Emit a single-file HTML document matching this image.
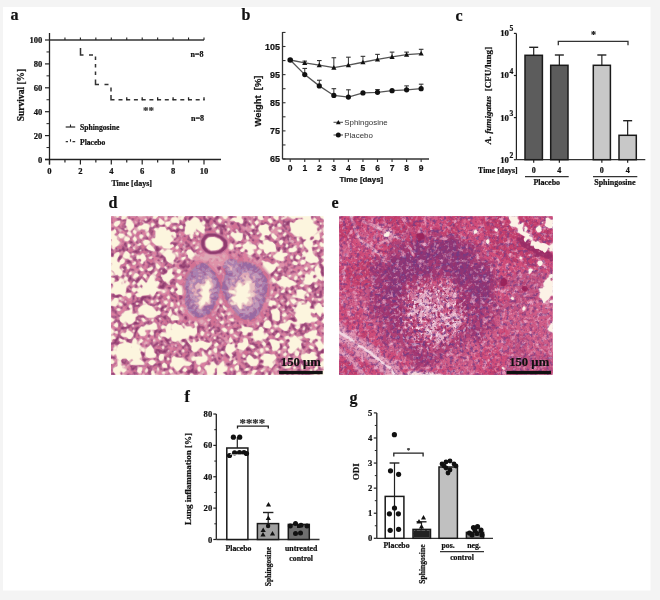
<!DOCTYPE html>
<html><head><meta charset="utf-8"><title>Figure</title>
<style>
html,body{margin:0;padding:0;background:#f4f4f4;width:660px;height:600px;overflow:hidden;}
svg{display:block;filter:blur(0.3px);}
</style></head><body>
<svg width="660" height="600" viewBox="0 0 660 600">
<rect x="0" y="0" width="660" height="600" fill="#f4f4f4"/>
<rect x="3" y="7" width="647.5" height="583.5" fill="#fff"/>
<text x="10.50" y="19.50" font-family="'Liberation Serif', serif" font-size="16" font-weight="bold" text-anchor="start" fill="#111" stroke="#111" stroke-width="0.22" >a</text>
<line x1="49.50" y1="33.00" x2="49.50" y2="164.50" stroke="#222" stroke-width="1.3" />
<line x1="45.00" y1="159.50" x2="221.00" y2="159.50" stroke="#222" stroke-width="1.3" />
<line x1="45.00" y1="159.50" x2="49.50" y2="159.50" stroke="#222" stroke-width="1.2" />
<text x="42.30" y="162.50" font-family="'Liberation Serif', serif" font-size="8.6" font-weight="bold" text-anchor="end" fill="#111" stroke="#111" stroke-width="0.22" >0</text>
<line x1="45.00" y1="135.60" x2="49.50" y2="135.60" stroke="#222" stroke-width="1.2" />
<text x="42.30" y="138.60" font-family="'Liberation Serif', serif" font-size="8.6" font-weight="bold" text-anchor="end" fill="#111" stroke="#111" stroke-width="0.22" >20</text>
<line x1="45.00" y1="111.70" x2="49.50" y2="111.70" stroke="#222" stroke-width="1.2" />
<text x="42.30" y="114.70" font-family="'Liberation Serif', serif" font-size="8.6" font-weight="bold" text-anchor="end" fill="#111" stroke="#111" stroke-width="0.22" >40</text>
<line x1="45.00" y1="87.80" x2="49.50" y2="87.80" stroke="#222" stroke-width="1.2" />
<text x="42.30" y="90.80" font-family="'Liberation Serif', serif" font-size="8.6" font-weight="bold" text-anchor="end" fill="#111" stroke="#111" stroke-width="0.22" >60</text>
<line x1="45.00" y1="63.90" x2="49.50" y2="63.90" stroke="#222" stroke-width="1.2" />
<text x="42.30" y="66.90" font-family="'Liberation Serif', serif" font-size="8.6" font-weight="bold" text-anchor="end" fill="#111" stroke="#111" stroke-width="0.22" >80</text>
<line x1="45.00" y1="40.00" x2="49.50" y2="40.00" stroke="#222" stroke-width="1.2" />
<text x="42.30" y="43.00" font-family="'Liberation Serif', serif" font-size="8.6" font-weight="bold" text-anchor="end" fill="#111" stroke="#111" stroke-width="0.22" >100</text>
<line x1="46.50" y1="147.55" x2="49.50" y2="147.55" stroke="#222" stroke-width="1.0" />
<line x1="46.50" y1="123.65" x2="49.50" y2="123.65" stroke="#222" stroke-width="1.0" />
<line x1="46.50" y1="99.75" x2="49.50" y2="99.75" stroke="#222" stroke-width="1.0" />
<line x1="46.50" y1="75.85" x2="49.50" y2="75.85" stroke="#222" stroke-width="1.0" />
<line x1="46.50" y1="51.95" x2="49.50" y2="51.95" stroke="#222" stroke-width="1.0" />
<line x1="49.50" y1="159.50" x2="49.50" y2="164.50" stroke="#222" stroke-width="1.2" />
<text x="49.50" y="173.50" font-family="'Liberation Serif', serif" font-size="8.6" font-weight="bold" text-anchor="middle" fill="#111" stroke="#111" stroke-width="0.22" >0</text>
<line x1="64.95" y1="159.50" x2="64.95" y2="162.50" stroke="#222" stroke-width="1.2" />
<line x1="80.40" y1="159.50" x2="80.40" y2="164.50" stroke="#222" stroke-width="1.2" />
<text x="80.40" y="173.50" font-family="'Liberation Serif', serif" font-size="8.6" font-weight="bold" text-anchor="middle" fill="#111" stroke="#111" stroke-width="0.22" >2</text>
<line x1="95.85" y1="159.50" x2="95.85" y2="162.50" stroke="#222" stroke-width="1.2" />
<line x1="111.30" y1="159.50" x2="111.30" y2="164.50" stroke="#222" stroke-width="1.2" />
<text x="111.30" y="173.50" font-family="'Liberation Serif', serif" font-size="8.6" font-weight="bold" text-anchor="middle" fill="#111" stroke="#111" stroke-width="0.22" >4</text>
<line x1="126.75" y1="159.50" x2="126.75" y2="162.50" stroke="#222" stroke-width="1.2" />
<line x1="142.20" y1="159.50" x2="142.20" y2="164.50" stroke="#222" stroke-width="1.2" />
<text x="142.20" y="173.50" font-family="'Liberation Serif', serif" font-size="8.6" font-weight="bold" text-anchor="middle" fill="#111" stroke="#111" stroke-width="0.22" >6</text>
<line x1="157.65" y1="159.50" x2="157.65" y2="162.50" stroke="#222" stroke-width="1.2" />
<line x1="173.10" y1="159.50" x2="173.10" y2="164.50" stroke="#222" stroke-width="1.2" />
<text x="173.10" y="173.50" font-family="'Liberation Serif', serif" font-size="8.6" font-weight="bold" text-anchor="middle" fill="#111" stroke="#111" stroke-width="0.22" >8</text>
<line x1="188.55" y1="159.50" x2="188.55" y2="162.50" stroke="#222" stroke-width="1.2" />
<line x1="204.00" y1="159.50" x2="204.00" y2="164.50" stroke="#222" stroke-width="1.2" />
<text x="204.00" y="173.50" font-family="'Liberation Serif', serif" font-size="8.6" font-weight="bold" text-anchor="middle" fill="#111" stroke="#111" stroke-width="0.22" >10</text>
<text x="131.70" y="185.50" font-family="'Liberation Serif', serif" font-size="8" font-weight="bold" text-anchor="middle" fill="#111" stroke="#111" stroke-width="0.22" >Time [days]</text>
<text transform="translate(20.50,95.00) rotate(-90)" x="0" y="0" font-family="'Liberation Serif', serif" font-size="9.5" font-weight="bold" text-anchor="middle" dominant-baseline="central" fill="#111" stroke="#111" stroke-width="0.22" >Survival [%]</text>
<line x1="49.50" y1="40.00" x2="204.00" y2="40.00" stroke="#333" stroke-width="1.4" />
<line x1="64.95" y1="40.00" x2="64.95" y2="37.50" stroke="#222" stroke-width="1.1" />
<line x1="80.40" y1="40.00" x2="80.40" y2="37.50" stroke="#222" stroke-width="1.1" />
<line x1="95.85" y1="40.00" x2="95.85" y2="37.50" stroke="#222" stroke-width="1.1" />
<line x1="111.30" y1="40.00" x2="111.30" y2="37.50" stroke="#222" stroke-width="1.1" />
<line x1="126.75" y1="40.00" x2="126.75" y2="37.50" stroke="#222" stroke-width="1.1" />
<line x1="142.20" y1="40.00" x2="142.20" y2="37.50" stroke="#222" stroke-width="1.1" />
<line x1="157.65" y1="40.00" x2="157.65" y2="37.50" stroke="#222" stroke-width="1.1" />
<line x1="173.10" y1="40.00" x2="173.10" y2="37.50" stroke="#222" stroke-width="1.1" />
<line x1="188.55" y1="40.00" x2="188.55" y2="37.50" stroke="#222" stroke-width="1.1" />
<line x1="204.00" y1="40.00" x2="204.00" y2="37.50" stroke="#222" stroke-width="1.1" />
<path d="M80.5,48 V55 H83.5 M89,55 H93 M95.5,56.5 V60 M95.5,64 V67.5 M95.5,71.5 V75 M95.5,79.5 V84.5 H99 M104.5,84.5 H108.5 M111,87.5 V91.5 M111,95 V99.75 H114.5 M118.5,99.75 H122.5 M126.2,99.75 H130.2 M133.9,99.75 H137.9 M141.7,99.75 H145.7 M149.4,99.75 H153.4 M157.1,99.75 H161.1 M164.8,99.75 H168.8 M172.5,99.75 H176.5 M180.3,99.75 H184.3 M188.0,99.75 H192.0 M195.7,99.75 H199.7 M203.4,99.75 H204.5" fill="none" stroke="#333" stroke-width="1.5"/>
<line x1="126.75" y1="100.25" x2="126.75" y2="97.25" stroke="#222" stroke-width="1.3" />
<line x1="142.20" y1="100.25" x2="142.20" y2="97.25" stroke="#222" stroke-width="1.3" />
<line x1="157.65" y1="100.25" x2="157.65" y2="97.25" stroke="#222" stroke-width="1.3" />
<line x1="173.10" y1="100.25" x2="173.10" y2="97.25" stroke="#222" stroke-width="1.3" />
<line x1="188.55" y1="100.25" x2="188.55" y2="97.25" stroke="#222" stroke-width="1.3" />
<line x1="204.00" y1="100.25" x2="204.00" y2="97.25" stroke="#222" stroke-width="1.3" />
<text x="203.50" y="56.50" font-family="'Liberation Serif', serif" font-size="8" font-weight="bold" text-anchor="end" fill="#111" stroke="#111" stroke-width="0.22" >n=8</text>
<text x="204.00" y="120.50" font-family="'Liberation Serif', serif" font-size="8" font-weight="bold" text-anchor="end" fill="#111" stroke="#111" stroke-width="0.22" >n=8</text>
<text x="148.50" y="114.00" font-family="'Liberation Serif', serif" font-size="11" font-weight="bold" text-anchor="middle" fill="#333" stroke="#333" stroke-width="0.22" >**</text>
<line x1="65.70" y1="127.00" x2="75.20" y2="127.00" stroke="#333" stroke-width="1.3" />
<line x1="70.50" y1="127.00" x2="70.50" y2="124.50" stroke="#222" stroke-width="1.1" />
<text x="80.00" y="130.00" font-family="'Liberation Serif', serif" font-size="7.6" font-weight="bold" text-anchor="start" fill="#111" stroke="#111" stroke-width="0.22" >Sphingosine</text>
<path d="M65.7,141.7 H68 M72.5,141.7 H75.2" stroke="#333" stroke-width="1.3"/>
<line x1="70.50" y1="141.70" x2="70.50" y2="139.20" stroke="#222" stroke-width="1.1" />
<text x="80.00" y="144.50" font-family="'Liberation Serif', serif" font-size="7.6" font-weight="bold" text-anchor="start" fill="#111" stroke="#111" stroke-width="0.22" >Placebo</text>
<text x="241.50" y="20.00" font-family="'Liberation Serif', serif" font-size="16" font-weight="bold" text-anchor="start" fill="#111" stroke="#111" stroke-width="0.22" >b</text>
<line x1="282.50" y1="32.00" x2="282.50" y2="159.00" stroke="#333" stroke-width="1.3" />
<line x1="282.50" y1="159.00" x2="429.00" y2="159.00" stroke="#333" stroke-width="1.3" />
<line x1="282.50" y1="159.00" x2="285.50" y2="159.00" stroke="#333" stroke-width="1.1" />
<line x1="282.50" y1="144.94" x2="285.50" y2="144.94" stroke="#333" stroke-width="1.1" />
<line x1="282.50" y1="130.88" x2="285.50" y2="130.88" stroke="#333" stroke-width="1.1" />
<line x1="282.50" y1="116.81" x2="285.50" y2="116.81" stroke="#333" stroke-width="1.1" />
<line x1="282.50" y1="102.75" x2="285.50" y2="102.75" stroke="#333" stroke-width="1.1" />
<line x1="282.50" y1="88.69" x2="285.50" y2="88.69" stroke="#333" stroke-width="1.1" />
<line x1="282.50" y1="74.62" x2="285.50" y2="74.62" stroke="#333" stroke-width="1.1" />
<line x1="282.50" y1="60.56" x2="285.50" y2="60.56" stroke="#333" stroke-width="1.1" />
<line x1="282.50" y1="46.50" x2="285.50" y2="46.50" stroke="#333" stroke-width="1.1" />
<line x1="282.50" y1="32.44" x2="285.50" y2="32.44" stroke="#333" stroke-width="1.1" />
<text x="280.00" y="49.80" font-family="'Liberation Sans', sans-serif" font-size="9" font-weight="bold" text-anchor="end" fill="#111" stroke="#111" stroke-width="0.22" >105</text>
<text x="280.00" y="77.92" font-family="'Liberation Sans', sans-serif" font-size="9" font-weight="bold" text-anchor="end" fill="#111" stroke="#111" stroke-width="0.22" >95</text>
<text x="280.00" y="106.05" font-family="'Liberation Sans', sans-serif" font-size="9" font-weight="bold" text-anchor="end" fill="#111" stroke="#111" stroke-width="0.22" >85</text>
<text x="280.00" y="134.18" font-family="'Liberation Sans', sans-serif" font-size="9" font-weight="bold" text-anchor="end" fill="#111" stroke="#111" stroke-width="0.22" >75</text>
<text x="280.00" y="162.30" font-family="'Liberation Sans', sans-serif" font-size="9" font-weight="bold" text-anchor="end" fill="#111" stroke="#111" stroke-width="0.22" >65</text>
<line x1="290.20" y1="159.00" x2="290.20" y2="162.00" stroke="#333" stroke-width="1.1" />
<text x="290.20" y="171.00" font-family="'Liberation Sans', sans-serif" font-size="8.5" font-weight="bold" text-anchor="middle" fill="#111" stroke="#111" stroke-width="0.22" >0</text>
<line x1="304.75" y1="159.00" x2="304.75" y2="162.00" stroke="#333" stroke-width="1.1" />
<text x="304.75" y="171.00" font-family="'Liberation Sans', sans-serif" font-size="8.5" font-weight="bold" text-anchor="middle" fill="#111" stroke="#111" stroke-width="0.22" >1</text>
<line x1="319.30" y1="159.00" x2="319.30" y2="162.00" stroke="#333" stroke-width="1.1" />
<text x="319.30" y="171.00" font-family="'Liberation Sans', sans-serif" font-size="8.5" font-weight="bold" text-anchor="middle" fill="#111" stroke="#111" stroke-width="0.22" >2</text>
<line x1="333.85" y1="159.00" x2="333.85" y2="162.00" stroke="#333" stroke-width="1.1" />
<text x="333.85" y="171.00" font-family="'Liberation Sans', sans-serif" font-size="8.5" font-weight="bold" text-anchor="middle" fill="#111" stroke="#111" stroke-width="0.22" >3</text>
<line x1="348.40" y1="159.00" x2="348.40" y2="162.00" stroke="#333" stroke-width="1.1" />
<text x="348.40" y="171.00" font-family="'Liberation Sans', sans-serif" font-size="8.5" font-weight="bold" text-anchor="middle" fill="#111" stroke="#111" stroke-width="0.22" >4</text>
<line x1="362.95" y1="159.00" x2="362.95" y2="162.00" stroke="#333" stroke-width="1.1" />
<text x="362.95" y="171.00" font-family="'Liberation Sans', sans-serif" font-size="8.5" font-weight="bold" text-anchor="middle" fill="#111" stroke="#111" stroke-width="0.22" >5</text>
<line x1="377.50" y1="159.00" x2="377.50" y2="162.00" stroke="#333" stroke-width="1.1" />
<text x="377.50" y="171.00" font-family="'Liberation Sans', sans-serif" font-size="8.5" font-weight="bold" text-anchor="middle" fill="#111" stroke="#111" stroke-width="0.22" >6</text>
<line x1="392.05" y1="159.00" x2="392.05" y2="162.00" stroke="#333" stroke-width="1.1" />
<text x="392.05" y="171.00" font-family="'Liberation Sans', sans-serif" font-size="8.5" font-weight="bold" text-anchor="middle" fill="#111" stroke="#111" stroke-width="0.22" >7</text>
<line x1="406.60" y1="159.00" x2="406.60" y2="162.00" stroke="#333" stroke-width="1.1" />
<text x="406.60" y="171.00" font-family="'Liberation Sans', sans-serif" font-size="8.5" font-weight="bold" text-anchor="middle" fill="#111" stroke="#111" stroke-width="0.22" >8</text>
<line x1="421.15" y1="159.00" x2="421.15" y2="162.00" stroke="#333" stroke-width="1.1" />
<text x="421.15" y="171.00" font-family="'Liberation Sans', sans-serif" font-size="8.5" font-weight="bold" text-anchor="middle" fill="#111" stroke="#111" stroke-width="0.22" >9</text>
<text x="361.30" y="182.40" font-family="'Liberation Sans', sans-serif" font-size="7.9" font-weight="bold" text-anchor="middle" fill="#111" stroke="#111" stroke-width="0.22" >Time [days]</text>
<text transform="translate(257.50,101.00) rotate(-90)" x="0" y="0" font-family="'Liberation Sans', sans-serif" font-size="9.2" font-weight="bold" text-anchor="middle" dominant-baseline="central" fill="#111" stroke="#111" stroke-width="0.22" xml:space="preserve" textLength="51" lengthAdjust="spacingAndGlyphs">Weight  [%]</text>
<polyline points="290.20,60.00 304.75,62.81 319.30,65.06 333.85,67.59 348.40,65.06 362.95,62.25 377.50,59.44 392.05,56.91 406.60,54.66 421.15,53.53" fill="none" stroke="#555" stroke-width="1.3"/>
<polyline points="290.20,60.00 304.75,74.62 319.30,85.88 333.85,95.44 348.40,97.12 362.95,92.91 377.50,92.34 392.05,90.66 406.60,89.81 421.15,88.69" fill="none" stroke="#555" stroke-width="1.3"/>
<line x1="304.75" y1="62.81" x2="304.75" y2="61.13" stroke="#333" stroke-width="1.0" />
<line x1="302.45" y1="61.13" x2="307.05" y2="61.13" stroke="#333" stroke-width="1.1" />
<line x1="304.75" y1="74.62" x2="304.75" y2="68.44" stroke="#333" stroke-width="1.0" />
<line x1="302.45" y1="68.44" x2="307.05" y2="68.44" stroke="#333" stroke-width="1.1" />
<line x1="319.30" y1="65.06" x2="319.30" y2="60.56" stroke="#333" stroke-width="1.0" />
<line x1="317.00" y1="60.56" x2="321.60" y2="60.56" stroke="#333" stroke-width="1.1" />
<line x1="319.30" y1="85.88" x2="319.30" y2="80.25" stroke="#333" stroke-width="1.0" />
<line x1="317.00" y1="80.25" x2="321.60" y2="80.25" stroke="#333" stroke-width="1.1" />
<line x1="333.85" y1="67.59" x2="333.85" y2="57.75" stroke="#333" stroke-width="1.0" />
<line x1="331.55" y1="57.75" x2="336.15" y2="57.75" stroke="#333" stroke-width="1.1" />
<line x1="333.85" y1="95.44" x2="333.85" y2="88.69" stroke="#333" stroke-width="1.0" />
<line x1="331.55" y1="88.69" x2="336.15" y2="88.69" stroke="#333" stroke-width="1.1" />
<line x1="348.40" y1="65.06" x2="348.40" y2="57.19" stroke="#333" stroke-width="1.0" />
<line x1="346.10" y1="57.19" x2="350.70" y2="57.19" stroke="#333" stroke-width="1.1" />
<line x1="348.40" y1="97.12" x2="348.40" y2="89.81" stroke="#333" stroke-width="1.0" />
<line x1="346.10" y1="89.81" x2="350.70" y2="89.81" stroke="#333" stroke-width="1.1" />
<line x1="362.95" y1="62.25" x2="362.95" y2="56.34" stroke="#333" stroke-width="1.0" />
<line x1="360.65" y1="56.34" x2="365.25" y2="56.34" stroke="#333" stroke-width="1.1" />
<line x1="377.50" y1="59.44" x2="377.50" y2="54.37" stroke="#333" stroke-width="1.0" />
<line x1="375.20" y1="54.37" x2="379.80" y2="54.37" stroke="#333" stroke-width="1.1" />
<line x1="377.50" y1="92.34" x2="377.50" y2="89.53" stroke="#333" stroke-width="1.0" />
<line x1="375.20" y1="89.53" x2="379.80" y2="89.53" stroke="#333" stroke-width="1.1" />
<line x1="392.05" y1="56.91" x2="392.05" y2="52.12" stroke="#333" stroke-width="1.0" />
<line x1="389.75" y1="52.12" x2="394.35" y2="52.12" stroke="#333" stroke-width="1.1" />
<line x1="406.60" y1="54.66" x2="406.60" y2="52.12" stroke="#333" stroke-width="1.0" />
<line x1="404.30" y1="52.12" x2="408.90" y2="52.12" stroke="#333" stroke-width="1.1" />
<line x1="406.60" y1="89.81" x2="406.60" y2="85.88" stroke="#333" stroke-width="1.0" />
<line x1="404.30" y1="85.88" x2="408.90" y2="85.88" stroke="#333" stroke-width="1.1" />
<line x1="421.15" y1="53.53" x2="421.15" y2="49.31" stroke="#333" stroke-width="1.0" />
<line x1="418.85" y1="49.31" x2="423.45" y2="49.31" stroke="#333" stroke-width="1.1" />
<line x1="421.15" y1="88.69" x2="421.15" y2="84.19" stroke="#333" stroke-width="1.0" />
<line x1="418.85" y1="84.19" x2="423.45" y2="84.19" stroke="#333" stroke-width="1.1" />
<path d="M304.75,60.21 L307.35,64.89 L302.15,64.89 Z" fill="#111"/>
<circle cx="304.75" cy="74.62" r="2.6" fill="#111"/>
<path d="M319.30,62.46 L321.90,67.14 L316.70,67.14 Z" fill="#111"/>
<circle cx="319.30" cy="85.88" r="2.6" fill="#111"/>
<path d="M333.85,64.99 L336.45,69.67 L331.25,69.67 Z" fill="#111"/>
<circle cx="333.85" cy="95.44" r="2.6" fill="#111"/>
<path d="M348.40,62.46 L351.00,67.14 L345.80,67.14 Z" fill="#111"/>
<circle cx="348.40" cy="97.12" r="2.6" fill="#111"/>
<path d="M362.95,59.65 L365.55,64.33 L360.35,64.33 Z" fill="#111"/>
<circle cx="362.95" cy="92.91" r="2.6" fill="#111"/>
<path d="M377.50,56.84 L380.10,61.52 L374.90,61.52 Z" fill="#111"/>
<circle cx="377.50" cy="92.34" r="2.6" fill="#111"/>
<path d="M392.05,54.31 L394.65,58.99 L389.45,58.99 Z" fill="#111"/>
<circle cx="392.05" cy="90.66" r="2.6" fill="#111"/>
<path d="M406.60,52.06 L409.20,56.74 L404.00,56.74 Z" fill="#111"/>
<circle cx="406.60" cy="89.81" r="2.6" fill="#111"/>
<path d="M421.15,50.93 L423.75,55.61 L418.55,55.61 Z" fill="#111"/>
<circle cx="421.15" cy="88.69" r="2.6" fill="#111"/>
<circle cx="290.20" cy="60.00" r="2.8" fill="#111"/>
<line x1="333.50" y1="122.30" x2="343.00" y2="122.30" stroke="#555" stroke-width="1.1" />
<path d="M338.30,119.90 L340.70,124.22 L335.90,124.22 Z" fill="#111"/>
<text x="344.30" y="125.40" font-family="'Liberation Sans', sans-serif" font-size="7.9" font-weight="normal" text-anchor="start" fill="#333" stroke="#333" stroke-width="0" >Sphingosine</text>
<line x1="333.50" y1="135.00" x2="343.00" y2="135.00" stroke="#555" stroke-width="1.1" />
<circle cx="338.30" cy="135.00" r="2.5" fill="#111"/>
<text x="344.30" y="137.90" font-family="'Liberation Sans', sans-serif" font-size="7.9" font-weight="normal" text-anchor="start" fill="#333" stroke="#333" stroke-width="0" >Placebo</text>
<text x="455.50" y="20.50" font-family="'Liberation Serif', serif" font-size="16" font-weight="bold" text-anchor="start" fill="#111" stroke="#111" stroke-width="0.22" >c</text>
<line x1="516.40" y1="33.40" x2="516.40" y2="159.70" stroke="#222" stroke-width="1.2" />
<line x1="516.40" y1="159.70" x2="645.30" y2="159.70" stroke="#333" stroke-width="1.3" />
<line x1="513.90" y1="159.70" x2="516.40" y2="159.70" stroke="#222" stroke-width="1.2" />
<text x="509.00" y="162.60" font-family="'Liberation Serif', serif" font-size="8.8" font-weight="bold" text-anchor="end" fill="#111" stroke="#111" stroke-width="0.22" >10</text>
<text x="509.60" y="157.70" font-family="'Liberation Serif', serif" font-size="7.6" font-weight="bold" text-anchor="start" fill="#111" stroke="#111" stroke-width="0.22" >2</text>
<line x1="513.90" y1="117.60" x2="516.40" y2="117.60" stroke="#222" stroke-width="1.2" />
<text x="509.00" y="120.50" font-family="'Liberation Serif', serif" font-size="8.8" font-weight="bold" text-anchor="end" fill="#111" stroke="#111" stroke-width="0.22" >10</text>
<text x="509.60" y="115.60" font-family="'Liberation Serif', serif" font-size="7.6" font-weight="bold" text-anchor="start" fill="#111" stroke="#111" stroke-width="0.22" >3</text>
<line x1="513.90" y1="75.50" x2="516.40" y2="75.50" stroke="#222" stroke-width="1.2" />
<text x="509.00" y="78.40" font-family="'Liberation Serif', serif" font-size="8.8" font-weight="bold" text-anchor="end" fill="#111" stroke="#111" stroke-width="0.22" >10</text>
<text x="509.60" y="73.50" font-family="'Liberation Serif', serif" font-size="7.6" font-weight="bold" text-anchor="start" fill="#111" stroke="#111" stroke-width="0.22" >4</text>
<line x1="513.90" y1="33.40" x2="516.40" y2="33.40" stroke="#222" stroke-width="1.2" />
<text x="509.00" y="36.30" font-family="'Liberation Serif', serif" font-size="8.8" font-weight="bold" text-anchor="end" fill="#111" stroke="#111" stroke-width="0.22" >10</text>
<text x="509.60" y="31.40" font-family="'Liberation Serif', serif" font-size="7.6" font-weight="bold" text-anchor="start" fill="#111" stroke="#111" stroke-width="0.22" >5</text>
<line x1="533.70" y1="55.30" x2="533.70" y2="47.30" stroke="#222" stroke-width="1.2" />
<line x1="529.20" y1="47.30" x2="538.20" y2="47.30" stroke="#222" stroke-width="1.4" />
<rect x="525.00" y="55.30" width="17.40" height="104.40" fill="#5c5c5c" stroke="#1a1a1a" stroke-width="1.5" />
<line x1="533.70" y1="159.70" x2="533.70" y2="162.70" stroke="#222" stroke-width="1.2" />
<line x1="559.35" y1="65.30" x2="559.35" y2="55.00" stroke="#222" stroke-width="1.2" />
<line x1="554.85" y1="55.00" x2="563.85" y2="55.00" stroke="#222" stroke-width="1.4" />
<rect x="550.70" y="65.30" width="17.30" height="94.40" fill="#5c5c5c" stroke="#1a1a1a" stroke-width="1.5" />
<line x1="559.35" y1="159.70" x2="559.35" y2="162.70" stroke="#222" stroke-width="1.2" />
<line x1="601.85" y1="65.30" x2="601.85" y2="55.00" stroke="#222" stroke-width="1.2" />
<line x1="597.35" y1="55.00" x2="606.35" y2="55.00" stroke="#222" stroke-width="1.4" />
<rect x="593.30" y="65.30" width="17.10" height="94.40" fill="#c8c8c8" stroke="#1a1a1a" stroke-width="1.5" />
<line x1="601.85" y1="159.70" x2="601.85" y2="162.70" stroke="#222" stroke-width="1.2" />
<line x1="627.65" y1="135.30" x2="627.65" y2="120.70" stroke="#222" stroke-width="1.2" />
<line x1="623.15" y1="120.70" x2="632.15" y2="120.70" stroke="#222" stroke-width="1.4" />
<rect x="619.00" y="135.30" width="17.30" height="24.40" fill="#c8c8c8" stroke="#1a1a1a" stroke-width="1.5" />
<line x1="627.65" y1="159.70" x2="627.65" y2="162.70" stroke="#222" stroke-width="1.2" />
<path d="M558.3,45.3 V41.3 H628 V45.3" fill="none" stroke="#333" stroke-width="1.3"/>
<text x="593.60" y="38.00" font-family="'Liberation Serif', serif" font-size="10" font-weight="bold" text-anchor="middle" fill="#111" stroke="#111" stroke-width="0.22" >*</text>
<text x="517.60" y="172.70" font-family="'Liberation Serif', serif" font-size="7.8" font-weight="bold" text-anchor="end" fill="#111" stroke="#111" stroke-width="0.22" >Time [days]</text>
<text x="533.70" y="172.70" font-family="'Liberation Serif', serif" font-size="8" font-weight="bold" text-anchor="middle" fill="#111" stroke="#111" stroke-width="0.22" >0</text>
<text x="559.35" y="172.70" font-family="'Liberation Serif', serif" font-size="8" font-weight="bold" text-anchor="middle" fill="#111" stroke="#111" stroke-width="0.22" >4</text>
<text x="601.85" y="172.70" font-family="'Liberation Serif', serif" font-size="8" font-weight="bold" text-anchor="middle" fill="#111" stroke="#111" stroke-width="0.22" >0</text>
<text x="627.65" y="172.70" font-family="'Liberation Serif', serif" font-size="8" font-weight="bold" text-anchor="middle" fill="#111" stroke="#111" stroke-width="0.22" >4</text>
<line x1="525.00" y1="176.70" x2="568.70" y2="176.70" stroke="#333" stroke-width="1.2" />
<line x1="593.00" y1="176.70" x2="637.30" y2="176.70" stroke="#333" stroke-width="1.2" />
<text x="546.80" y="185.30" font-family="'Liberation Serif', serif" font-size="8" font-weight="bold" text-anchor="middle" fill="#111" stroke="#111" stroke-width="0.22" >Placebo</text>
<text x="614.90" y="185.30" font-family="'Liberation Serif', serif" font-size="8" font-weight="bold" text-anchor="middle" fill="#111" stroke="#111" stroke-width="0.22" >Sphingosine</text>
<text transform="translate(487.50,95.60) rotate(-90)" x="0" y="0" font-family="'Liberation Serif', serif" font-size="9.1" font-weight="bold" text-anchor="middle" dominant-baseline="central" fill="#111" stroke="#111" stroke-width="0.22" xml:space="preserve"><tspan font-style="italic">A. fumigatus</tspan>  [CFU/lung]</text>
<text x="108.50" y="208.00" font-family="'Liberation Serif', serif" font-size="16" font-weight="bold" text-anchor="start" fill="#111" stroke="#111" stroke-width="0.22" >d</text>
<text x="331.50" y="208.30" font-family="'Liberation Serif', serif" font-size="16" font-weight="bold" text-anchor="start" fill="#111" stroke="#111" stroke-width="0.22" >e</text>
<defs><filter id="blurh" x="0" y="0" width="1" height="1"><feGaussianBlur stdDeviation="0.55"/></filter></defs><g filter="url(#blurh)">
<rect x="111" y="216.2" width="212.5" height="158.60000000000002" fill="#fcf5de"/>
<g transform="translate(111.25 216.45) scale(0.5)">
<path fill="#f6e6d6" d="M41 259l-2 2 1 2 2-1zM1 91l-1 9 3-4 0-3zM0 0l0 30 3 0 3-3 3 2 0 3-4 3 0 2 5 4 0 4 6 7-3 6-9 3-4-7 2-3 0-5-2-1 0 37 6 0 1-6 3-3 4-1 2 4-5 8 0 6 3 3 2 0 5-8 3 0 2 2 0 4-3 3-5 1-3 6 0 3 6 5 0 7-2 2-3 0-3-3-3 1-3-5-7-5 0 5 4 3-4 4 0 6 4-1 2 2-2 6-4 1 0 16 5-7-1-6 5-4 5 0 4-6 6 3-5 3 1 5 8-1 4-5 3 2 0 4-3 1-3 5-2 16-3 0-7-4-8 2-3-3-6-1 0 20 8-9 2 0 3 3 0 6-5 7-8-2 0 26 5 4-5 4 0 14 4 3 0 3-4 3 0 8 3-3 4 3-1 2-6 1 0 26 6-3 4 2 2-2-1-3 3-3 0-4 2-2 8-1 2-2 0-5 5 5 11 2 2-8 4-2 2 2 0 8 8 5-3 7 2 2 3 11-5 4 0 2 4 1 6 6-2 3-5-1-11 2-7-2-1-2 6-5-2-4-3 0-5 4-5-5-4-1-5 2-4 4-5-6 0-4-3-4-4 2-5-2 0 12 5 4-2 4-3 0 0 22 11 0-6-6 0-6 8-4 1-9 2-2 3 2-1 6 3 3 0 3 8 5-3 3-3 0-4-4-3 5 1 4 64 0 0-5 2-2 4 7 106 0-2-9-4-5 4-4 5 3 4-5 1-4 3 0 6 6 0 3-5 5 1 4-4 6 10 0 0-15 5-3 5-7 3 2 1 7 5 3 0 4-9 5 2 4 27 0 3-4 3 0 2 4 50 0 1-2 2 2 94 0 1-2 4 2 7 0 1-4 3-3 2 0 0-10-3 2-4-4 5-6 2 0 0-8-2 0-3-3 0-3 2-2 3 0 0-13-7 6-8-14 4-2 2-4 2 0 7 10 0-46-2-2 2-3 0-16-2-1-2 2-1 5-2 2-7-9-4 3-2 0-3-3-3 1 0 7 5 6 6-1 3 3-3 3-8 0-3 3-5-2-6 1-2 2-8 0-2 4-8-3 1-2 3 0 2-2 0-4-5-7 0-2 3-3-2-10 5-6 1-5 2-2 4 6 9 0 4-6 5 5-3 4 0 4 2 2 5-1 3 3 2-1 1-8 6-5 4 3 0 2 3 3 2 0 0-123-4 0-2-2 1-4 2 0 3 3 0-52-3-1-2-3-21 0 1 6 4 3-1 4 10 7-2 4 1 7-7 7-4 1-4 4 0 5 6 3 0 8-3 3 2 3 1 8 4 6 6 4 2 4-3 4-7 0-3 2-9-4-3-3 1-6-7-4 0-3 3-3 4 5 5-3 0-6-9-8-1-5 5-4 1-4-6-1-3-5-3 0-2-2 0-3-2 0 2 4-2 2-6-2-9-8 1-3-3-13 2-2 2 2 4 0 5-6 3-1 10 0 1-3-3-3-10 0-8 3-8-4-23 0 1 4-4 2-5-4 1-2-25 0 2 4-2 2-3 0-4-3 0-3-34 0 0 4 3 3 0 4-4 2-6-3-4 0-7-4 3-3 6 1 1-4-20 0-3 4-2 0-3-4-79 0-4 7-3-3 4-4-50 0-4 4-4-2 1-2-55 0-3 4-4 1-2-2 2-3zM104 312l1-1 1 2-1 1zM356 311l2-1 1 2-2 1zM282 312l2-4 6 1-5 5zM117 308l3-1 3 3-4 3-2-2zM69 308h1v1h-1zM272 303l2 2-4 3-1-2zM147 303l3 2-1 4-3 0-2-2zM55 303l4 0 2 2-1 5-3 3-4-3 0-5zM176 301l2 2 0 4-2 2-2-2 0-4zM411 300l2 3-4 4-2-3zM380 301l2-1 2 3-2 1zM251 298l4 2-1 6-2 2-4-4 0-3zM358 299l-2 3-6 0 6-5zM103 296l2-2 3 0 3 6-2 2-4-1-2-2zM248 288l3 4-2 2-3 0-1-3zM75 293l0-2 5-3 4 0 4 3-6 6-4-1zM348 287l0 4-2-2zM367 285l4 3-2 4-3 0-2-2 0-2zM112 284l2-1 1 2-1 1zM118 298l0-3 4-3-1-7 4-5 5 3 9 0 10 8 4 0 6 3-2 3-5 1-6-2-12 12-4-1-6-8zM276 278l3 1 6 7 6 0 3 3-2 6-3 3-9 0-8-8-1-6zM264 278l2-1 2 2-2 2zM99 276l4 0 2 2-1 6-3 3-3 0-2-2 0-5zM307 275l7 0 6 3 6-1 3 4 0 2-8 8 3 6-4 5-2 0-3-4-9 0-2-2 2-3 0-6-2-2-3 0-2-3 2-2 3 0zM348 273l2 3-4 2-1-2zM411 282l-4 4-6 1-5 5-9-6-4 1-2-2 0-6 2-2 3 0 4-3 6 2 5-4 4 0 1 5zM287 274l3-2 3 4-2 2zM192 282l0 3-4 5-8 1-4 5-4-3-1-6-2-2-4 3-4-2 3-5 18 0 2-2-2-4 1-3zM220 272l3-2 2 3-3 1zM371 269l4 3-1 5-2 2-4-3 0-3zM334 271l2-2 2 2-2 2zM197 269l2 2-2 4-2-2zM300 265l3 1-1 5-2 0-2-3zM207 264l4 2-1 5-2 0-3-4zM60 266l4-2 2 4-2 2zM310 264l2-1 2 3-3 1zM102 262h1v1h-1zM9 261l1 3-3 2-1-3zM346 261l1-1 1 2-1 1zM397 261l2-2 3 1 2 3-3 2zM78 259l5 5 2 9 4 4-5 5-9 0-3-1-3-4 1-11 3-4zM278 259l4-1 4 3-2 2-3 0zM234 255l4 2 6-2 2 2 0 5 2 2 0 2-9 7 2 4-2 4-10-12 0-5zM210 253l3 2-2 4-4-2zM142 255l2-2 2 2-2 2zM302 254l4-2 2 4-3 2zM157 254l6-1 2-2 6 2 4-3 8 0 7 3 8 0 1 2-8 10-5 0-4-4-3 0-4 2-5 6-5 1-4-4 1-7zM337 250l2-2 3 0 2 2-2 2-3 0zM397 249l2-2 2 3-2 1zM318 247l8 0 9 4 1 10-5 6-4-1-2 2-2-2-3-13-3-4zM61 246l2 3-5 3-1-2zM17 246l2-1 3 3-3 1zM269 244l4 5 1 7-9 11-8-2-3-3 0-6 2-2 6 0 3-3 0-5zM239 243l3 4-2 4-4-2zM95 243l2-1 2 2-2 2zM349 244l2-4 3 1-3 4zM368 239l11 11 1 12-2 2-4-4-13 13-4 0-3-4 0-2 4-3-3-9 3-4-1-7 5-1 4-4zM334 234l2 2 0 3-3 3-3 0-1-3zM183 230l2 2 0 3-3 3-2-2 0-4zM78 232l3-2 3 5-4 1zM9 231l1-1 2 2-2 1zM360 232l2-3 3 2-2 2zM20 236l2-2 6 1 5-6 2 0 8 6 0 3-5 6-3 0-4-4-6 0zM419 243l-2 2-8-2-5 3-3 0-5-4-6 0-3-3 0-2 2-2 5-1 3-3 12-3 2 2-2 8 2 2 5 0zM203 228l2 2-2 3-2-2zM320 227l2-1 2 3-2 2zM241 226l2 2 0 3-3 2-2-4zM223 226l4-2 3 3 0 2-4 1zM301 222l4 5-3 4 3 6 2 1 4-4 2 2 0 3-6 5-4-1-4 4-8-1-2 2-5-7 0-10 2-2 6 1 4-2 1-5zM260 228l4-8 3 2 11 0 4 2 0 3-3 3-6 1-6 6-3-2 0-4zM373 218l3 2 0 2-2 2-3 0-2-3zM101 222l2-4 4 2-3 4zM326 219l2-2 3 3-3 1zM26 217l2-1 1 2-2 1zM99 237l4-4 6 2 2-1-1-11 5-8 4 1-1 10 2 2 3-1-2-4 1-5 5-4 2 0 3 3 7 1 3 3 0 2 5 3 2-1 1-4 8 0 5 4 5-2 3 4 0 5-6 6-9-2-4 7-11 1-4 4-5-1-4 3-6-3 0-5-2-2-3 0-4 3-2-2-10-2zM169 213l3 2-2 4-3-2zM90 216l0 9-23 1-1 3 3 6-3 3-7 0-5-8 6-9 5 1 5-4 5 1 7-3 3-3 2 0zM10 213l3 3-1 4-3 0-3-3zM310 209l5 0 5 8 0 2-4 4-7-1-4-3 1-5zM222 209l2 3-4 2-1-3zM361 210l-4 2 0 5-7 11-5-1-9-7 3-5 9-1 8-6 3 0zM240 206l2-1 2 2-2 2zM62 205l2-1 4 3-4 2zM120 201l3-3 4 0 5 2 3 3 0 2-2 2-11 0-2-2zM222 196h1v1h-1zM348 194l1 3-2 2-3 0-1-2zM119 190l1 5-4 4-2-3 2-4zM52 197l-5 5 0 6-7 6-5 0-6-6-5 4-2 0-4-4 0-6 4-3 0-2 7-7 9-2 2-2 2 2-3 5 3 3 8-1zM329 185l3 0 4 5 0 16-2 2-4 0-7-4 0-9-3-4 2-3 5-1zM13 186l2-1 1 2-2 1zM130 184l2 4-3 2-2-3zM107 185l1-1 1 2-1 1zM36 179l3-1 2 2-3 2zM94 179l3-2 2 3-3 1zM55 184l7-5 9-3 3 3 6 1 11 12 5-3 2 4-3 3-4 0-9 6-10-1-4-2-4-5-6 1-3-6zM133 174l2-1 1 2-2 1zM16 175l3-2 2 3-2 2zM121 172l3 3 0 2-3 3-2-2 0-4zM353 171l2 1-1 4-2-1zM64 172h1v1h-1zM106 172l2-2 4 2-2 2zM316 177l0-4 3-4 8 1 2 2-2 4-4-1-4 4zM80 170l4 0-2 2zM360 167l4-1 6 4-5 4-4-3zM114 159l2 2-1 3-3-2zM364 159l2-1 1 2-1 1zM328 160l3-4 3 2-3 3zM391 157l2-2 2 2-2 2zM31 156l2-2 4 0 2 2 0 3-3 3-2 0-3-3zM238 150l7-1 3 4-3 1-2-2-4 0zM355 150l2-2 2 3-2 1zM103 149l2-1 2 2-2 2zM373 147l8 0 8 4 0 2-4 3-1 5 2 2-2 2-12-4zM344 147l2 2-4 3-2-2zM396 144l3 2-1 4-4-2zM122 144l3 3-2 3-4-2zM42 146l4-3 4 4-3 3-2 0zM408 140l1-2 2 1-2 2zM379 137l4-1 2 2-4 2zM132 134l8 9 1 11-2 2-5-1-3-3 0-2 3-3 0-4-4-4 0-3zM274 133l2 4 0 8-4 8 2 2 3 0 1 3-2 2-6 1 0 2 4 3-1 3-4 5-4-3-3 0-2 2-1 9-2 1-4-7 0-3-2-2-3 0-7-7 3-3 3 0 4-3-1-4 2-2 0-4-2-5 6-9 4 3 0 3 3 1 9-8zM43 133l2-2 2 1-2 3zM194 129l2 2 0 5 3 3-5 8 0 4 2 3-1 12-3 4-4-1-2 5-5 4-2-2 1-3-2-2 6-11-4-7 4-3 0-4-3-5 5-1 5-6 0-3zM324 124l4 4-1 4-4-3zM29 121l3 2-2 4-3-1 0-3zM370 120l1 4-2 2-2-4zM332 132l9-6 0-5 3-1 7 3 4 4 7 2 7 6-3 2-7 1-3 3-4-2-6 2-2-2-5-1zM134 124l0-2 3-2 3 2-2 3zM96 133l-7 8 7 7-5 0-8 11-5-5-5 2-11 1-3 3-7 0-3-3 3-3 4-1-4-5 6-6 3 3 3-2 0-4-4-5-4 4-3-1 0-2 4-3 0-2 3-3 2 0 7 7 2 0 7-14 4-2 3 3 1 8 2 2 5-1zM67 117l3 2-2 4-3-3zM328 117l2-2 2 3-2 1zM45 120l3-5 4 0 3 3-8 4zM36 114l2-2 2 1-2 3zM375 115l3-4 3 1-2 4zM404 110l3 3 0 2-5 3 1 5 2 2 6-2 0 5-2 2-6 0-5 5-9 0-3-3 1-8 3-3-1-4 3-2 4 3 3-2 0-3 3-3zM89 110l2 3-3 2-1-3zM132 108l5-1 1 4-4 2-2-2zM334 106l3-1 1 2-3 1zM120 105l2 2-2 7 5 6-13 11-8-5 0-4-2-2 9-5 3-6zM58 105l3-2 3 4-3 2zM390 102l2 2-2 3-2-2zM82 104l-2 3-5 1-2-2 7-4zM412 99l6 7-1 5 2 7 4 6-2 3-10-4 2-4-5-6 1-5-2-3zM400 100l2-2 2 1-2 3zM32 97l4 3-2 4-3-4zM91 95l6 5-2 4-4-2zM305 92l9 0 7 5 3 0 6-4 4 3-5 4-3 6-8 6-13-16zM44 94l3-3 2 2-2 2zM364 92l3-2 5 4-2 2-4 0zM382 87l2 0 3 3 0 3-2 2-4 0-2-2zM359 82h1v1h-1zM146 81l2 2-3 3-2 0-2-2zM78 83l1-2 2 1-2 2zM422 81l1-1 1 2-1 1zM370 80l4-2 4 4-3 3-2 0-3-3zM63 75l5 6 1 5-8 8-2-2 2-6-3-3-6 1-1-4 2-2 4 2zM129 74l2-2 2 3-2 1zM29 70l4 1 4 5-1 5-2 2-6 0-4-3zM340 68l1 6 9 0 2 2-8 5 0 5-2 2-13-3-4-6zM295 68l4 2 0 2-3 3-3-2 0-3zM156 67l3 0 7 9-4 5-3 0 0 3-4-3-4-11zM113 67l5 0 2 2 1 5 6 4 0 4-3 7-5 3-4-1-3-3-3-8-5-4 0-2zM412 69l1-3 3 2-2 2zM102 66l2 4-4 2-2-3zM265 64l1 4-2 2-3 0-2-2zM170 64l1-2 2 1-2 2zM3 63h1v1h-1zM371 66l-6 4-7 0-2-2 2-4 6 0 2-4zM132 59l2 2-2 3-2-2zM378 58l3-1 1 2-2 2zM350 58l2-1 1 2-2 2zM71 61l4-4 3 0 7 8 0 2-9 0-5-4zM407 59l2-3 3 2-2 2zM250 60l2-3 7 0-1 3zM35 56l3 2-2 3-3-1zM241 55l2 2 0 6-4 2-2-3 1-4zM272 51l3 1 1 4 6 0 8 5-2 3-4 0-3 2 3 6-4 4-4 0-2-2 1-6-2-2-8-3-1-5 3-3 2 0zM339 48l4 2-3 5-3-2 0-3zM295 58l2-3 8 2 1-7 3-2 4 0 3 3 5 0 6 5 2 11-2 2-11 1-4 3-3 0-2-2-1-6-9-2-2-2zM69 47l7 3 0 2-6 5-2 0-4-5zM373 43l2 2-2 3-2-2zM190 49l4-5 4-2 8 0 11 5 3 3 2 7-1 3-7 5-6 2-8 0-9-7zM47 41l3 3 0 3-2 2-3-2 0-4zM27 45l3-4 6 3 0 2-5 3zM271 40l3 1-1 5-3-4zM57 39l4-2 2 4-4 2zM323 35l2 0 5 5 0 3-2 2-2 0-4-4-1-4zM15 37l2-2 5 0 3 2 0 2-4 3-3 0-3-3zM413 34l2 1 1 10-2 2-7-4 0-5zM348 33l1 3-3 2-1-3zM73 33l2 2-2 4-2-2zM279 33l1-1 1 2-1 1zM240 34l2-2 3 2 6 0 2-2 7 2 2 2-1 9-3 3-6 0-12-11zM172 32l2 2-2 3-2-2zM33 33l3-2 4 5-2 2zM44 29l3-1 2 2 0 3-2 1zM334 29l2-2 4 2-2 2zM211 29l2-2 2 3-2 1zM233 26h1v1h-1zM89 24l5 3 3-5 10 0 2 2 1 5 5-1 3 4 8 0 3 3 0 4-2 2-5-6-3 2 0 4 4 4 0 2-6 5-1 3 3 3 3-1 2 2-6 4-12 0-5-6-11 0-7-7-1-3 7-4 1-14-3-3zM125 22l2-1 2 2-2 2zM137 21l3-2 2 3-3 2zM283 18l2 3-3 2-1-3zM310 16l4 3-1 5 5 9-4 4-8 0-1 4 2 3-3 3-5-1-1-3 4-4 1-4-7-8-1-4 3-4zM205 17l2-1 2 3-2 2zM54 22l2-2 7-2 3-3 5 0 4 3-1 9-2 2-2-4-6 0-4-2-4 3zM334 16l2-2 3 3-3 2zM81 18l1-4 4 2-3 3zM109 16l0-3 2-2 5 0 2 2-4 6-2 0zM184 10l3 1 0 3-2 2-3-2zM290 9l4 2 0 2-3 3-3-3zM15 9l2 2-1 4-3 3-5 1-2-2 0-3 3-3zM214 8l4-2 2 3-3 3zM96 7l3-1 6 5 0 2-6 3-3-3zM33 6l5 1 7 10 0 3-8 8-3-2-1-5-3-4 1-8zM314 7l4-2 4 5-4 2zM406 5l1-1 1 2-1 1zM108 4h1v1h-1zM169 2l6 4 1 6 3 1 2 4 6 5-2 5 1 4-4 1-12-9-6 8 0 3-2 2 0 6-2 1-2-3 0-7-7 3-4-4 3-12-1-7 5-4 5 0 7-7zM121 4l8-2 5 5 1 4-2 2-3-2-7 1-3-3z"/>
<path fill="#eed2cc" d="M212 302l-5 2 0 6-5 6 10 0zM0 275l0 11 2 0 4 4-2 4-4 0 0 22 10 0-6-6 0-5 4-4 3 0 2-2 0-8 2-5-3-3-1-6-2-2-4 2zM9 266h1v1h-1zM120 224l-1 2 2 1 1-2zM2 133l-2 0 0 13 4-5 0-5zM21 131l-1 4 2 1 1-3zM410 116l-4 0-3 2 0 4 2 2 3 0 4-4zM1 92l-1 7 2-3zM0 45l0 6 2-2zM405 39l-5 0-2 2 0 7 3 0 5-4zM138 0h1v1h-1zM0 0l0 30 2 0 4-4 3 1 1 4-4 4 0 2 6 5-1 3 6 7-5 7-5 2 0 3-2 2-3-3 0-5-2-2 0 26 4 0 2-2 0-4 8-5 2 2 0 4-5 9 0 3 3 3 3 0 0-3 4-5 2 0 4 4-1 4-4 3-3 0-3 5 0 4 6 5-1 8-2 2-3 0-3-3-4 1-3-6-4-4-2 0 0 3 5 5-2 3-3 0 0 5 5 0 2 2-2 4 1 3 8-2 4-6 4 1 3 3 1 6 2 0 4-5 4 4 0 2-6 6-2 13 3 1 3-2 4 0 2 2-1 6-4 2-5-5-6 1-6-4-10 1-4-3-4 0 0 18 4-3 3-5 5 0 2 2 0 7-6 8-8-2 0 24 5 4 0 2-3 3-2 0 0 13 5 4 0 3-5 4 0 5 3-2 5 4-2 3-5 1-1 24 3 0 2-2 0-5 3-3 5 2 0-4 2-2 10-3-1-3-6 0-2-2 2-4 5 3 4 0 4 5 4 0 5 3 2-1 2-8 4-2 3 4 0 7 4 1 12 10 0 3-3 2-7-7-1 1 2 4 0 5 3 5-5 6 9 7 1 2-2 2-24 0-2-3 6-5-1-3-3 0-5 4-5-5-5-1-6 4 0 10 3 3 0 3 6 2 2 3-5 4-6-3-2 3 1 4 63 0-1-5 3-3 3 3 1 5 70 0 2-2 4 2 30 0-2-8-4-4 0-3 4-4 5 2 4-4-1-2 2-2 3 0 7 8 2 0 10-9 2 1 1 8 6 3-1 5-8 5 0 2 4 2 23 0 3-4 3-1 3 2 0 3 21 0 2-2 0-4 3-3 4 0 2 2-6 7 23 0 3-4 2 4 8 0 1-2 2 2 82 0 2-3 2 0 2 3 6 0 0-4 4-4 2 1 0-10-3 3-5-5 5-7 3 0 0-6-3-1-3-4 2-4 4 0 0-12-7 6-3-2 0-4-6-9 2-3 4-1 0-5-6-1-2 2-3 0-1 4-3 2-2-2 2-5-3-2-5 0-5-4 3-5 4 0 4-4 3 0 2-2 4 1 4-2 2 4-3 6 2 2 6 1 3 3-2 2 0 3 6 9 0-45-3-2 3-4 0-14-3 0-1 6-3 2-7-9-4 3-6-3-2 5 5 7 6-1 4 4-3 3-9 1-3 3-9-2-5 3-6 0-2 2 1 6-3 3-3 0-3-3 3-3 0-2-10-5-3 1 0 4-7 11-5 0-10-7 0-4 2-2 11-2 7-6 11 5 6-3-1-4-4-4 0-5 2-4-4-5 6-7 2-7 2-2 2 0 4 6 8-1 3-6 3 1 3 3 0 4-3 3 1 3 7 1 2 2 1-6 8-8 9 9 0-86-3-3 3-2 0-7-3-2 2-3 1 1 0-20-4 0-3-3 0-3 2-2 2 0 3 3 0-12-3-2 3-3 0-34-3 0-3-4-20 0 2 6 4 3 0 5 9 6-2 3 1 8-4 4 2 1 5-5 2 8 0 6-2 2-8-1-5 4 1 9-3 3 3 12 5 6 2 0 3 3 2 6-5 3-3-1-8 2-11-6 1-7-4 0-3-6 3-4 2 0 3 4 5-3 0-4-10-10 0-5 5-4 0-3-5 0-4-6-13 0-9-9 1-4-3-13 9 0 4-5 5-2 8 0 0-4-14 0-2 2-6 0-6-4-21 0 0 5-4 2-5-4 0-3-23 0 2 5-3 2-5-1-3-3 1-3-34 0 0 3 4 7-3 4-2 0-4-3-6 0-4-3-6-1 4-4 8 0 1-3-20 0 0 2-3 3-4-1-2-4-15 0-2 2-2-2-58 0-4 8-4-3-3 2 1 5-2 2-3-2-8 1-4-4 1-4 3-3 6-1 2 2 3 0 1-3-42 0-4 4-4 0-2-2 2-2-54 0-4 5-6 0-1-3 2-2-7 0-2 2-3-2zM102 313l3-3 3 2-2 2zM355 311l3-2 2 4-3 1zM299 309l2-3 4 1-3 3zM118 306l2 0 3 3 0 2-3 3-4-3 0-3zM400 305l2 2-1 3-3-1zM238 305l3-1 2 2-3 2zM71 304l2 2 0 3-4 2-1-2zM267 307l4-4 4 2-2 3zM92 304l2-1 1 3-2 1zM147 302l4 3 0 3-2 2-4 0-2-2 0-2zM56 302l4 0 2 2-2 8-2 2-6-4 0-3zM364 303l2-3 3 2-2 2zM175 300l4 2 0 5-3 3-3-2 0-6zM411 299l2 2 0 3-5 4-2-3 2-4zM381 298l3 2 1 3-2 2-3-1zM252 297l3 2 0 7-2 2-2 0-4-4 0-3zM359 298l0 2-4 3-8 0 2-3 7-4zM392 297l2-2 3 1-1 3zM105 293l2 0 4 4 1 4-2 2-5-1-3-3 0-3zM248 287l4 5-4 3-3 0-1-3zM77 288l6-1 6 4-6 6-4 0-5-4zM347 286l3 2-2 4-3-3zM367 284l5 5-4 4-2 0-3-3zM239 283l2 3-3 2-2-2zM114 282l2 2-1 3-3-1zM355 281l1-1 1 2-1 1zM118 298l0-4 3-3 0-8 3-3 9 3 9 0 7 7 4 0 8 4-2 3-10 2-3-2-13 12-3-1-6-8-4 0zM276 277l4 2 6 7 6-1 2 2-1 8-3 3-10 1-8-8-1-8zM263 278l2-2 4 4-4 2zM306 275l11 0 3 2 6-1 2 2 2 5-8 8 3 6-4 5-3 0-4-4-7 1-4-3 2-3 0-6-4-1-3-3zM99 275l4 0 2 2-1 8-3 3-3 0-3-5 1-5zM348 272l2 2 0 3-4 2-2-3zM412 282l-3 4-7 1-5 5-4 0-5-5-5 0-2-2-1-7 10-5 3 2 4 0 4-4 3 0 4 3-1 3zM286 273l4-2 3 3 0 3-5 0zM184 270l2 5 6 6 0 6-7 5-5 0-3 4-4 0-2-2-1-7-6 2-3-3 0-3 3-3 17 1 2-2-2-7zM219 271l3-2 4 4-4 2zM126 270l1-1 1 2-1 1zM369 268l3 0 4 3-1 6-2 2-3 0-2-2-1-4zM337 268l1 4-3 2-2-3zM198 268l2 2 0 3-4 3-2-4zM142 269l2-2 2 2-2 2zM300 264l4 2 0 4-3 3-3-3 0-4zM308 265l2-2 3 0 2 3-4 2zM207 263l3 0 2 2 0 5-2 2-2 0-3-3 0-4zM344 262l2-2 4 2-2 2zM102 263l1-3 3 1-2 3zM396 260l3-2 4 2 2 3-2 2-3 0zM78 258l4 3 3 5 0 5 5 6-3 5-11 1-4-1-3-3 0-13zM277 259l4-2 4 2 2 3-2 2-3 0zM234 254l4 2 4 0 3-2 2 2-1 5 3 3 0 2-9 7 2 4-2 4-7-6-5-8 3-10zM211 252l3 3 0 2-6 3-2-3zM141 256l2-4 4 2-3 4zM304 251l2 0 3 3 0 3-2 2-2 0-3-4zM153 249l2-1 4 5 4-1 1-4 2-1 3 5 7-3 7 0 9 4 5 0 3-2 1 3-10 12-4 0-5-4-4 0-8 8-5 1-4-4 0-8-5-4zM84 248h1v1h-1zM316 248l2-2 6 0 12 4 3-3 2 0 4 4-2 2-6-1-1 10-5 6-3-1-3 2-3-3 0-5-3-9zM60 245l3 3 0 2-2 2-5 1-1-2zM270 244l3 3 2 9-10 12-10-3-2-2 0-8 2-2 7 0 3-3-1-4 2-2zM238 242l5 5 0 3-5 2-2-2 0-6zM205 244l1-3 3 1-2 3zM94 242l2-2 4 4-3 2zM381 240l1 2-5 3 0 2 3 3 0 13-2 2-4-4-5 4-1 4-2 0-5 5-3 0-5-6 5-5-4-8 4-7-3-4-6 1-1-3 3-3 3 0 3 3 5 0 4-4 2 0 4 5 5-3zM246 238l2-1 3 3-2 1zM335 233l2 2 0 3-3 4-4 1-2-4 5-6zM182 229l4 3-3 6-4-2 0-4zM7 232l3-3 3 2-2 3zM364 228l2 3-3 3-3 0-2-2zM80 228l3 2 2 5-2 2-3 0-3-3zM43 229l2-1 1 2-1 1zM203 227l3 4-2 2-4-2zM319 230l2-4 4 2-3 4zM20 235l2-2 6 1 3-4 0-3 2-1 2 3 2 0 7 6 0 3-6 7-2 0-5-4-6 0-5-4zM241 225l3 2 0 5-2 2-3 0-2-4zM222 225l2-2 3 0 4 4 0 2-4 2-4-3zM386 222l1 3-2 2-2-3zM301 221l4 5 0 3-2 2 4 6 4-4 3 6-7 6-4-1-3 4-8-1-4 2-4-6-4-1 4-3-1-9 2-2 7 1 4-3 0-3 2-2zM258 228l0-2 4-3-1-3 2-2 4 3 13 1 3 3-4 6-6 1-3 5-5 0-2-2 1-3zM325 218l5-1 3 3-4 2zM407 217l2-2 3 3-2 2zM25 217l3-2 2 4-3 1zM143 215l2-1 1 2-2 1zM292 215l2-2 2 2-2 2zM98 238l4-6 8 1-1-9-3-1-4 2-2-4 3-3 8 2 1-3 4-3 4 2 0 3 1-2 8-4 5 4 6 1 5 7 3 0-1-4 2-2 3 2 6-1 4 4 3 0 3-3 3 4 0 8-5 6-9-2-5 8-10-1-6 6-2-2-5 2-6-1-2-2 0-5-2-2-4 4-2 0-3-3-5-2-5 1zM168 212l2 0 3 3 0 2-3 3-3-2-1-3zM90 215l2 9-2 2-7 0-2 2-2-2-11 0-1 4 3 3 0 2-3 3-7 1-7-9 7-9 5 0 5-4 5 1 7-3 3-3zM10 212l3 2 1 3-2 4-3 0-4-3zM218 211l6-2 1 4-4 2-3-2zM310 208l5 0 4 5 1 7-4 4-9-2-2-2 1-8zM345 208l2-1 1 2-2 2zM80 208l2-3 3 2-2 2zM237 206l6-2 2 3-2 2-3 0zM96 205h1v1h-1zM61 205l3-2 5 5-2 2-3 0zM308 203l1-1 1 2-1 1zM210 203h1v1h-1zM119 201l4-4 9 2 4 6-2 2-12 1-2-2zM347 193l3 2 0 3-2 2-4 0-2-3zM233 196l2-3 3 2-3 3zM220 194l2-1 4 5-2 2zM119 187l2 7-3 6-2 1-3-3 0-2 4-8zM344 185l1-1 1 2-1 1zM321 187l10-3 5 5 1 16-3 4-4 0-7-4-1-10-3-5zM129 184l4 1-2 6-4-2 0-3zM53 196l-5 5 0 7-7 6-6 1-5-5-2 0-3 3-3 0-4-4-1-7 4-4 0-2 8-7 8-1 3-4 2 2 0 9 9-1zM11 186l2-2 3 0 2 3-3 2zM108 183l2 2-2 3-2-2zM140 182l2 2-1 3-3-2zM363 183l2-2 2 2-2 2zM225 178l6 7-2 2-4-3-2-4zM35 180l2-3 2 0 3 4-2 2-3 0zM336 176l2 2-2 3-2-2zM97 176l3 2-2 4-4-2zM54 186l8-8 9-3 3 3 8 2 9 11 5-3 3 5-14 9-12 0-10-7-6 1-2-2 1-3-2-2zM240 174l2-1 1 2-1 1zM50 174l2-1 1 2-2 1zM133 173l2-1 2 4-3 1zM15 173l3-1 4 4-2 2-3 0-2-2zM121 171l3 3 0 4-4 3-1-8zM354 170l2 4-3 4-2-2 0-3zM381 170l2-1 1 2-2 1zM219 169l2 2-2 3-2-2zM106 170l5-1 2 3-3 3-2 0-2-2zM63 171l2-2 4 4-3 2zM315 177l1-7 2-2 8 1 4 4-2 4-5-1-3 4-2 0zM79 170l2-2 3 1-2 4zM90 168l2-2 3 3-3 2zM358 167l2-2 7 1 4 4-6 5-4-3zM413 166l2-2 5 1-2 3-3 0zM401 165l2-2 2 1-2 3zM16 164l2-2 3 2-2 2zM111 161l2-2 3 0 1 4-3 2zM412 156l1-1 1 2-1 1zM332 155l2 4-3 3-2 0-2-2zM92 158l2-3 3 2-2 2zM390 156l3-2 3 4-4 2zM357 147l3 3-2 3-3-2zM101 148l5-1 2 4-3 2zM363 158l8 0 0-9 2-2 8-1 9 5 0 2-4 3-1 5 2 3-2 2-4-2-17-3zM344 146l3 2 0 2-2 2-4 0-1-3zM396 143l4 4 0 2-3 2-3-2 0-4zM122 143l3 2 0 4-2 2-4-2 0-3zM407 139l3-2 2 3-3 2zM377 138l2-2 7 1-4 4zM131 133l10 9 1 13-2 2-6-1-4-4 0-2 4-4 0-2-5-6 0-3zM46 130l2 4-4 3-2-3zM278 129l2 2-4 4 1 11-2 2-1 5 3 0 2 2 0 4-7 3 4 5-4 4-2 5-2 0-3-4-4 1-1 11-2 1-3-3-4-9-4 3-2-2 1-3-6-7 2-3 5-1 3-3-2-2-9-2-4-3 2-2 9 0 3 3 2 0-3-7 4-4 2-7 4 0 3 3 0 3 3 0 4-3 3-6zM194 127l3 4 0 4 3 3-1 4-4 4 0 5 2 3-2 17-2 1-4-2-2 5-9 6-3-10 4-3 4-8-4-7 0-2 4-2 0-3-4-6 2-2 5 1 4-6 0-3zM380 124l1-1 2 2-2 1zM321 124l3-1 5 5 0 3-4 1-3-3zM29 120l4 3 0 3-2 2-3 0-2-2 0-3zM370 119l2 2 0 3-4 3-2-2 0-3zM331 131l10-6 0-4 3-2 7 3 4 4 7 2 8 7-2 2-7 1-6 4-5-2-3 3-3-3-5-1-4-4-2 0zM139 119l2 2-2 4-3 1-4-2 2-3zM358 116l2 2-4 3-2-2zM84 116l4 4-2 4 1 5 7 1 3 3-7 9 9 5-2 2-6 0-7 11-7-6-3 3-8 0-8 4-7-1-2-4 2-2 3 0 1-2-4-4-4 3-4-1-2-2 1-4 2-2 6 3 5-1 2-2 5 2 1-6-3-3-4 4-2 0-2-4 5-4 0-2 3-3 2 0 7 7 2 0 2-2 1-5 3-3 0-3 3-3zM66 116l2 0 3 3 0 2-3 3-4-4zM327 117l2-2 4 1-1 3-3 0zM52 114l3 3 0 2-9 5-2-2 2-6 2-2zM39 111l2 3-3 3-2-4zM380 110l2 4-4 3-3 0-2-2 5-5zM90 109l2 3-3 4-2 0-2-2zM131 110l3-4 3 0 2 2 0 3-2 2-4 0zM333 107l3-3 3 2-3 3zM121 104l2 2-2 9 5 5-7 5-3 5-4 3-3-4-3 0-2-2-1-5-3-3 2-2 8-2 3-4 0-3zM57 104l3-2 5 5-2 2-3 0-3-3zM390 101l3 2-2 4-4-2zM83 103l-4 5-5 0-2-2 8-5zM106 102l3-2 2 3-2 2zM414 97l1 5 3 3 0 7 2 7 3 3 0 4-4 2-4-4-2 0-1 4-3 3-5-1-6 6-11-1-2-2 0-3 2-3 0-4 2-2-1-4 2-2 6 2 5-8 6 3 0-8zM399 100l2-3 3 0 2 2-4 4zM32 96l5 5-3 4-3-2-1-4zM91 95l2 0 4 4 0 3-3 3-3-2-2-5zM48 90l1 4-2 2-3 0-1-2zM363 91l2-2 4 1 4 3 0 2-2 2-4 0-4-3zM302 90l3-1 3 2 5 0 8 5 4 0 6-4 4 5-6 4-2 5-5 5-5 2-13-16 0-5zM382 86l2 0 4 4 0 3-4 3-3 0-3-4zM140 85l4-4 3 0 2 2-5 4zM76 82l2-2 4 1-2 3zM361 79l2 2-2 4-2-2zM372 77l2 0 4 4 0 2-3 3-6-3zM316 79l1-3 3 2-2 2zM53 77l4 2 4-4 3 0 5 7 0 5-5 3 0 3-2 2-3-2 2-6-3-3-5 1-2-2 0-4zM41 76l2-2 2 1-1 2zM130 71l4 3-1 4-5-5zM29 70l3 0 5 5 0 7 4 3-1 2-6-3-6 0-4-3 0-4zM294 67l4 0 2 2 0 3-4 4-4-3 0-4zM153 67l6 0 7 8 0 4-4 2 0 3-2 2-5-4-4-9 0-4zM340 66l2 2 0 5 9 0 2 2-3 4-3 0-2 2 0 6-3 2-12-3-6-5 0-2 4-2 4-5 5-1zM99 67l4-1 3 4 7-4 9 2-1 5 7 4 0 5-4 6-1 7-3-3-5 0-4-4-2-7-7-6 0-2-2 0-3-3zM415 65l2 3-4 3-2-3zM44 63l2-1 1 2-2 1zM175 62l-3 3-4-1 4-4zM368 59l3 6-2 4-4 2-8 0-2-2 0-3 2-2 5 0 4-5zM131 58l4 4-2 3-4-2 0-3zM405 60l3-4 3 0 2 2-4 3zM377 58l4-2 2 4-4 2zM352 56l2 3-3 3-2-4zM71 60l4-4 3 0 9 11-2 2-8-1-6-5zM260 57l-2 4-9-1 1-3 6-2zM35 55l4 3-3 4-3-1 0-4zM240 54l4 3 0 6-3 3-3 0-2-2 1-7zM53 57l3-3 3 1-3 3zM163 53l2-2 3 2-2 2zM273 50l3 2 1 3 10 2 3 3 0 3-2 2-5 1 2 6-6 5-3 0-3-3 1-6-4-3-3 0-4 6-3 0-2-2 0-2 6-4-1-5zM339 47l4 2 0 4-3 3-4-4 0-2zM294 58l4-4 6 3 2-3-2-4 2-2 6-1 6 4 4 0 5 4 3 13-2 2-10 0-6 4-3 0-3-3-1-5-6-1-5-5zM64 50l3-3 6 0 4 3 0 2-7 6-2 0-3-3zM372 42l4 4-2 3-3-2zM189 50l5-7 10-2 13 5 4 4 2 6-1 4-6 5-9 3-6 0-5-2-5-5-2-4zM47 40l4 6-3 4-4-4 0-3zM26 47l1-5 2-2 8 4 0 2-4 3-5 0zM271 39l4 2 0 4-2 2-3-3zM232 39l2-1 1 2-2 1zM59 36l2 0 3 3-3 5-4-2 0-4zM323 34l2 0 6 7 0 2-3 3-7-5 0-5zM14 36l2-2 8 1 2 4-3 3-5 1-3-3zM348 33l2 3-4 3-2-3zM291 34l2-2 2 2-2 2zM73 32l3 2 0 4-2 2-4-4zM277 33l3-2 2 3-3 1zM239 35l3-4 5 3 3 0 2-3 6 3 4 0 0 11-4 4-7 0-12-12zM172 31l3 2-2 4-4-2zM35 30l4 3 2 4-2 2-7-4 0-2zM333 29l2-2 4 0 2 2-3 3zM46 27l4 3 0 4-2 2-4-4 0-3zM419 26l1 3-2 1-1-2zM250 27l1-1 1 2-1 1zM213 26l3 2 0 3-2 2-4-3zM232 27l2-4 3 2-2 3zM89 23l4 3 5-5 9 0 4 7 4-2 4 6 8-1 2 2-1 9-6-6-3 3 5 6 0 2-7 6 1 4 5-1 2 2-3 4-5 2-12-1-4-5-11 0-7-7-2-5 2-2 4 0 2-3 0-12-3-3zM324 20l2 1-1 4-3-2zM123 22l4-2 3 3-2 2-3 0zM136 20l2-2 3 0 2 2 0 3-3 2-4-3zM282 17l4 3-2 4-4-2 0-3zM310 15l5 4-1 6 5 8-5 5-7-1 0 8-3 3-5-1-2-4 4-4 1-4-5-5-3-6 4-6zM206 15l4 3-3 4-3-2 0-3zM333 16l4-2 3 4-2 2-3 0zM228 15h1v1h-1zM53 22l3-3 4 0 7-5 5 1 5 4-2 3 0 4-3 4-3-1 0-3-5 0-2-2-6 3-3-3zM84 13l2 4-4 4-2-2 0-4zM417 14l2-2 2 2-2 2zM117 10l2 4-5 6-3 0-3-4 0-3 2-2zM17 9l0 5-6 6-2 0-4-4 3-5 4-2zM292 8l3 4-4 5-4-4 0-2zM276 9l1-1 1 2-1 1zM216 5l2 0 3 3-3 5-4-3 0-3zM317 4l5 5-2 4-2 0-5-6zM98 4l8 7 0 2-3 3-6 0-2-2 0-5zM67 6l2-2 2 2-2 2zM33 4l2 2 3 0 7 10 0 5-8 8-4-3-1-6-3-3 2-11zM404 5l3-2 3 3-4 2zM342 4l2-2 2 1-1 2zM185 8l3 3 0 3-3 3-3 0 6 5-2 4 1 5-2 2-3 0-12-9-1 4-4 3 0 3-2 2 0 7-2 2-3-2 0-8-9 1-2-2 1-13 2-3-2-5 6-5 4 1 7-7 7 1 4 4 1 4 3 2zM109 1l3 2-2 4-3-2zM348 2l1-2 2 1-2 2z"/>
<path fill="#e5bec1" d="M211 302l-4 3 0 6-4 5 8 0zM0 275l0 10 2 0 4 5 0 2-3 3-3 0 0 21 9 0-6-7 1-5 9-6-1-8 2-3-3-3 0-5-3-4-3 3-2 0zM1 133l-1 12 4-5 0-3zM21 132h1v1h-1zM28 128l-3 3 1 2 2 0 2-3zM409 116l-5 2 1 6 2 0 4-4zM0 93h1v1h-1zM0 46h1v1h-1zM405 40l-5 0-3 3 0 3 2 2 7-5zM0 0l0 29 3 0 4-4 3 3 0 4-4 5 6 3 0 6 5 5 0 4-7 5-5 6-3-2 0-5-2-2 0 24 5 0 1-6 6-4 3 0 2 2 0 4-5 8 0 5 4 2 1-4 5-5 5 4 0 4-4 4-4 1-3 6 7 8-1 6-4 4-2 0-3-3-5 0-4-8-4-1 5 6 0 2-5 3 0 3 5 0 2 2-1 6 2 1 5-1 5-7 7 2 1-3 4-2 3 3-1 5 5 5 0 3-6 4-2 13 9 0 2 2 0 5-3 3-3 0-4-4-5 1-8-5-8 2-3-3-6-1 0 17 4-3 3-5 3 0 5 3-1 5 2 2 3 0 4 4-2 3-3 0-4-4-5 5-9-2 0 24 6 4 0 2-6 4 0 11 6 6-1 3-5 4 0 3 4-1 5 5-2 2-5 1 0 4-2 2 0 17 4-1 0-4 4-5 4 1 4-5 8-2 0-2-5 0-4-4 1-3 12 3 3 5 5 0 3 2 3-1 1-6 3-3 3 0 2 2 1 8 7-9 2 0 3 3-8 8 5 6 3 0 3 3 2 0 10-8 6 8 1 7 4 4 0 3-3 3-12 1-6-3-1-10-4 1-5-2-1 3 3 9-4 4 9 7-1 5-26 0-2-3 6-6-1-3-2 0-5 5-5-6-7 0-4 4 2 5-1 4 2 2 3-1 2 2-3 3 4 1 2 2 0 3-6 4-5-3-2 3 1 3 62 0 0-6 2-2 4 2 2 6 69 0 2-2 3 0 2 2 28 0-2-8-4-5 0-2 4-4 6 1 3-3 0-3 5-2 7 8 3 0 9-9 3 2 1 8 4 0 2 2-1 7-8 4 0 2 3 2 23 0 0-2 3-3 4-1 3 2 0 4 19 0 2-2 0-4 3-3 6 0 2 2-7 7 23 0 3-4 2 1 0 3 7 0 3-4 2 4 80 0 2-4 2 0 3 4 5 0 1-5 3-3 3 0 0-8-4 2-4-5 0-2 6-6 2 0 0-4-3-1-3-4 0-3 3-3 3 0 0-11-6 6-4-2 0-4-6-8 0-2 5-3 0-5-4-1-6 3-1 4-3 2-3-3 2-5-3-2-6 0-3-3 0-4 2-2 3 0 10-6 9-1 2 2-2 8 10 5-2 5 6 9 0-43-4-2 4-6 0-13-3 1-1 6-2 2-8-9-3 2-7-2-1 5 4 5 7 0 3 3 0 3-6 3-7 0-4 3-4-2-14 2-1 9-2 2-5 0-2-2 2-6-8-4-4 1 0 4-4 8-4 3-3 0-8-4-4-4 0-3 4-4 8-1 8-6 4 0 6 4 5 0 2-2-1-4-4-5 2-8-4-3 1-3-4-4 2-2 3 3 2 0 3-4 1-7 2-2 10-1 2 2-2 2-4 0 1 3 7-1 4-5 2 0 5 5-3 6 2 4 4-1 3 2 1-6 7-7 3 0 3 3 1 4 3 1 0-85-3-2 0-2 3-2 0-6-4-2 2-3 2 0 0-19-4 1-4-5 0-2 3-3 5 3 0-11-3-2 3-3 0-33-4-1-2-4-19 0 1 5 2 2 2 0 2-4 4 2-2 4-3 0-1 4 10 7-3 5 1 4 3 1 3-4 3 2 0 2-5 4 2 11-3 3-7-2-5 4 1 8 7-3 2 4-3 2-7-1-2 2 4 14 3 4 3 0 2 2 2 7-3 3-8 0-3 2-12-5 0 4-4 3-5 0-2-2 0-4 4-4 5 1 2-4-1-3-6 0 0-8 4-3 4 4 4-2 0-4-10-11 0-3 6-7-6-1-3-5-6 1 2 7-3 2-4-4 2-5-13-9 0-9-2-5 0-5 2-2 6 2 6-6 6-2 6 1 1-2-3-2-4 2-8-1-2 2-4 0-8-5-3 0-2 3-8 4-2-3 8-4-13 0 0 5-2 2-3 0-6-5 0-2-22 0 3 5-2 2-6 0-4-3 0-4-32 0 0 4 3 3 0 5-2 2-4 0-4-3-6 0-2-2-8-1 4-5 8 0 1-3-18 0 0 2-3 3-4 0-4-5-14 0-2 2-3-2-56 0-5 8-3-2-3 1 0 5-2 2-4-2-9 0-4 6-5 3-5-7 2-3 9-2 1-5 2-2 9-1 3 2 1-3-40 0-6 5-5-1 1-4-52 0-4 5-5 1-3-2 1-4-6 0-2 2-2 0-1-2zM101 313l3-3 4 1-2 4-3 0zM356 308l4 2 0 3-2 2-4-4zM399 305l3 2-2 4-3-3zM115 307l4-2 5 4 0 2-3 3-3 0-3-4zM331 305l3-1 1 2-3 1zM305 304l2 2-6 5-2-3zM240 303l3 2-2 4-3-2zM93 303l3 2-2 4-2-2zM71 303l2 2 0 4-3 3-2-2 0-3zM276 305l-2 3-4 1-4-2 6-5zM146 302l2 0 4 4-4 5-6-3zM60 301l2 2 0 4-2 5-4 2-4-3 0-6 3-3zM364 303l2-3 4 2-3 3zM175 300l2 0 3 4-3 6-2 0-3-5 0-2zM411 298l2 2 0 4-6 5-2-3zM251 297l3 0 2 3-1 7-2 2-2 0-5-6 1-3zM381 296l4 5 0 3-2 2-3-2-1-6zM360 298l0 2-3 3-11 0 2-3 7-4 3 0zM391 297l2-2 5 1 0 2-3 2zM102 295l2-2 4 0 3 3 1 6-8 0-3-3zM266 290l2-1 1 2-2 1zM248 287l4 5-3 3-4 1-2-3 2-4zM74 294l0-3 5-4 6 0 4 3 0 2-7 6zM345 288l4-2 2 4-4 2zM367 283l5 5 0 3-2 2-5 0-2-2 0-3zM201 282h1v1h-1zM114 281l3 4-4 3-2-4zM354 281l3-1 1 2-2 1zM117 298l0-3 4-4 0-9 4-3 2 0 3 3 13 1 6 6 9 2 3 3-2 3-4 2-9-1-5 3-2 4-5 4-3 0-7-9-4 1zM276 276l9 9 7 0 3 3-1 6-4 5-11 0-8-8-1-7zM262 277l3-2 4 5-4 2-3-3zM99 275l5 0 2 2-1 7-3 4-4 0-3-3 0-5zM306 274l8 0 5 2 6-1 4 4 1 5-7 7 1 2 2-2 2 2-7 10-3 0-4-4-8 0-4-3 3-4 0-4-2-2-3 0-2-4 3-3 2 0zM347 272l4 2 0 3-3 3-4-2 0-3zM413 282l-5 5-5 0-7 6-2 0-7-6-4 1-3-3-1-5 3-5 5 0 2-2 7 2 4-4 7 0 2 2-1 4zM288 270l3 1 3 4-2 4-6-4 0-3zM218 272l3-3 2 0 4 4-4 3zM184 269l3 7 6 5 0 5-4 5-9 2-3 4-3 0-4-3-1-7-3 2-4 0-2-2 0-4 4-4 4 2 6-2 7 1 1-3-2-4 1-3zM125 271l2-2 2 1-2 3zM333 270l4-2 2 4-4 2zM198 268l3 4-5 5-2-2 0-5zM143 266l3 2-2 4-3-3zM299 264l4 0 2 2 0 3-3 4-2 0-3-4 0-3zM308 264l2-2 3 0 3 4-4 3-4-3zM208 262l4 3 0 6-2 2-2 0-4-5 0-3zM343 262l3-3 4 2-1 3-4 0zM103 259l3 2-2 4-3-2zM395 259l3-2 5 2 2 4-4 3-5-4zM276 259l2-2 4 0 5 5-2 2-4 0zM246 254l1 8 3 4-10 7 3 6-2 2 0 5-3 3-2-2 2-6-9-10-1-7 2-6 4-4 5 2zM212 252l2 2 0 4-6 3-2-2 0-3 4-4zM140 253l6-1 1 4-4 2-3-3zM304 250l2 0 3 4 0 4-2 2-6-5zM315 248l4-3 14 4 9-2 4 4-4 3-5-1 0 9-6 6-7 1-2-2 0-5-3-9zM86 245l2 2-2 3-2-2zM175 245l2-1 1 2-2 1zM270 243l3 3 2 11-10 11-11-3-2-2 1-8 2-2 8-1 1-7 2-2zM73 244l1-1 1 2-1 1zM238 241l6 7-4 4-3 0-2-2 1-7zM206 240l3 2-2 4-3-3zM94 241l3-1 3 5-3 2-3-3zM350 239l4 0 5 3 7-4 3 0 3 4 6-3 3 0 2 2-2 3-4 2 5 5-2 2 0 11-3 2-3-4-4 3 0 2 6 4-1 6-3 3-2 0-3-3 1-7-2 0-4 4-5 0-3-3-1-5 4-3 0-2-4-7 4-4 0-3-2-2-6 1-2-2 0-2zM245 237l3-1 5 4-3 2-4-2zM335 233l2 2 0 4-4 4-4 0-2-3 6-7zM6 232l3-3 2 0 2 2 0 3-3 1zM362 228l2 0 2 4-3 3-3 0-2-4zM181 228l5 4 0 3-4 4-4-3 1-6zM43 228l3-1 1 2-2 2zM252 228l2-2 2 2-2 2zM203 226l3 4-2 4-4-3 0-2zM321 225l4 2 0 3-2 2-2 0-3-3zM242 225l2 2 0 5-5 3-3-4 1-3 3-3zM19 235l3-3 6 1 3-3 0-4 2-1 2 3 8 5 2 4-6 8-4 0-5-4-8-1-3-3zM385 222l2 1-1 4-3-1zM223 223l5 0 4 4 0 2-3 3-3-1-5-5zM301 221l5 6-2 3 2 5 5-2 4 5-7 7-5 0-3 4-8-2-4 3-4-7-5-1 2-3 3-1-1-8 2-2 7 1 4-3-1-3 2-2zM194 223l2-2 2 1-2 3zM256 227l5-4 0-4 2-2 5 4 13 1 3 3-4 6-6 1-5 6-4 0-2-2 0-4zM42 220l1-3 3 2-2 2zM325 218l4-2 5 4-2 2-5 0zM233 217l2-1 1 2-2 1zM407 216l3-1 2 4-3 1zM144 213l3 3-1 3-4-3zM291 214l4-2 1 4-3 1zM90 214l3 9-3 3-8 2 3 6-2 4-6-3 2-6-1-3-10 1 2 9-3 3-8 0-6-8 0-3 7-8 4 1 6-5 6 1 6-2 3-3 3 0zM10 212l4 3 0 5-2 2-4-1-3-3 0-2zM201 255l-11 12-11-5-8 8-5 2-6-6 1-6-9-10 0-4-2-2-8 1-4 4 1 2-2 1-3-3-3 0-2 2-7-2-2-2 1-4-2-2-6 3-7-4-6 0-3-3 4-5 9 0-1-7-2-2-5 2-2-2 0-3 3-3 7 3 2-4 5-3 4 3 2 0 3-3 3 0 4 3 7 1 5 7 3-1-2-3 1-2 4 2 8 0 4 4 2 0 2-2-1-9 4-2 3 3 0 4-3 3 2 5 0 7-6 7-9-3-3 9 5 6 3 0 2-2-1-3 2-2 4 6 3 0 6-4 17 6 5-3zM309 208l7 0 2 2 3 9-4 5-8-1-5-3 1-6zM219 209l5-1 2 2-3 6-6-4zM52 209l1-1 1 2-1 1zM346 206l3 2-2 4-3-2zM193 209l2-4 4 2-4 3zM80 207l2-2 3 1-2 4zM236 205l6-2 4 5-2 2-3 0-4-2zM97 202l2 2-1 3-3-2zM60 204l2-2 3 1 4 4 0 2-5 2zM309 201l2 3-4 3-1-2zM210 202l2-1 2 3-2 1zM341 197l4-4 3 0 3 3 0 2-4 3-4-1zM233 196l2-4 4 2-3 4zM221 192l5 4-2 4-5-6zM118 186l2 1 1 4-1 7 6-2 2 2 5 1 3 3-1 6-14 0-2-2 0-3-5-3-1-5zM342 186l2-2 3 2-2 2zM11 186l2-2 4 0 2 3-2 2-4 0zM331 183l6 7 0 16-3 3-5 0-7-4 0-9-3-4 0-3 3-3zM132 183l2 3-2 4-3 2-3-6zM105 186l2-3 4 2-3 3zM139 181l4 2 0 4-2 2-4-4zM224 178l2 0 5 6-2 4-4-3-2-4zM333 180l2-4 4 2-2 3zM96 176l4 2 0 3-2 2-2 0-3-3zM39 176l3 3 1 11-2 3 2 2 8-1 2 4-4 3-1 7-6 6-6 2-5-5-3 0 0 3 3 4-2 2-3 0-2-2 2-3-8-5-2-7 5-5 0-3 3-1 4-5 7-1 4-3-4-4 0-3zM49 174l3-2 2 3-3 1zM134 171l3 2 0 3-2 2-3-2 0-3zM120 171l2 0 3 3 0 4-3 3-4-2 0-6zM354 169l3 4-2 4-3 1-2-4zM276 170l2-1 2 4-2 1zM105 171l3-3 3 0 2 2 0 3-2 2-3 0zM53 187l3-6 9-5-2-3 0-3 2-2 7 8 9 3 9 11 6-2 3 3 0 3-3 3-4 0-6 5-9 1-6-1-7-6-7 1-3-3 1-3zM340 169l2-2 2 2zM314 177l1-6 3-4 4 2 4-1 4 4 0 3-2 2-5 0-3 3-3 0zM219 167l3 3-2 4-3-1 0-4zM81 167l4 2 0 2-3 3-3-2 0-3zM89 167l4-1 2 4-3 1zM358 166l8-1 5 5-5 5-2 0-4-4zM413 167l1-3 7 1-4 4zM404 162l2 2-3 4-2-4zM15 163l3-2 3 4-3 2zM114 158l4 3-3 5-4-3 0-2zM411 156l3-1 2 2-3 2zM91 157l2-2 4 1-2 4zM390 155l3-1 3 3 0 2-3 2-3-3zM333 154l2 2 0 3-7 4-2-2zM322 148l2 3-3 2-1-3zM354 148l4-1 2 2 0 3-3 2zM362 159l3-3 4 2 2-1-1-9 2-2 10 0 9 6-5 6 0 8-15-4-7 0zM345 145l2 2 0 3-6 3-2-3zM393 145l4-2 4 4 0 2-2 2-4 0-2-2zM122 143l4 4-2 4-4 0-2-2 0-2zM406 138l4-2 2 4-3 2zM131 133l2 0 4 5 4 2 2 15-2 2-6 0-6-5 0-2 4-3 0-3-4-5 0-4zM47 130l2 3-6 4-1-4 3-3zM279 128l2 4-3 4 1 9-2 5 3 3 3 0 2 2 0 3-4 3-4 0-3 2 3 6-4 3-3 5-7-4-2 5 0 6-2 2-4-3-5-8-4 2-5 0-3-4 2-2 4 2 1-2-6-8 3-3 6-1 1-2-12-4-3-3 3-3 11 1-1-4 3-3 2-8 2-2 6 2 3 5 5-3 0-4 2-3zM194 126l7 11-1 5-4 3 0 6 2 3-2 8 1 12-2 1-4-4-2 0-2 5-5 3-4 5-2-2 1-4-3-4 1-4 7-10-6-8 6-4 0-2-4-4 0-3 2-2 5 1 4-5 0-4zM379 124l2-2 3 3-3 2zM368 119l3 0 2 2-3 6-3 0-2-2zM321 123l3-1 8 8 8-5 0-4 2-2 3 0 7 3 4 4 5 1 8 5 2 3-4 3-5 0-6 4-5-2-4 4-4-4-4 0-10-8-5 1-3-4zM139 118l2 2 0 4-2 2-5 0-3-3zM358 116l2 3-4 3-2-3zM67 115l4 3 0 4-2 2-2 0-4-5zM326 116l2-2 3 0 3 4-4 2zM56 117l-3 4-7 3-3-2 4-8 4-1zM40 110l2 3-3 4-2 0-2-4zM380 109l2 2 0 4-2 2-5 1-2-4 5-5zM217 109l2-1 1 2-2 1zM90 108l2 2 0 4-5 4 2 2-2 8 2 2 4-1 4 3 0 2-6 8 4 3 10 1 4 4-3 3-2 0-4-4-8 0-8 11-2 0-5-5-3 3-6-1-6 1-5 4-5-1-4-5 6-4-3-3-6 3-4-4 0-3 3-3 9 2 4-3 5 3 0-7-3-1-4 4-3-3 0-3 8-9 2 0 6 7 3 1 6-14 7-4zM133 105l3 0 4 3-3 6-3 0-3-3 0-4zM121 104l2 2-2 8 5 5 0 2-9 7-2 3 2 4-2 2-7-8-2 0-3-3-4-8 2-2 4 1 6-3 2-6zM21 105l2-1 1 2-2 1zM338 103l2 3-3 3-3 0-1-3zM389 101l4 1 0 4-2 2-2 0-3-4zM83 102l0 3-3 3-6 1-2-2 2-4 5-2zM56 104l4-3 5 5 0 2-4 2-4-3zM106 102l3-2 2 3-2 2zM399 101l2-4 5 1-3 5zM414 96l1 5 4 4-1 6 2 7 4 5 0 4-3 2-7-4-5 7-5-1-9 6-8-1-2 4-5 1-3-3 3-3 5 0-1-5 2-2 2-12 2-2 7 2 1-4 3-3 6 2 1-2-2-4 3-5zM32 95l5 5 0 3-3 3-3-2-1-7zM90 94l3 0 5 6 0 2-4 4-3-2-3-8zM48 90l2 3-4 4-2 0-2-3zM362 93l3-4 6 2 2 4-2 2-5 0zM301 89l3-1 5 3 3-1 10 6 4-1 3-3 3 0 4 4 0 2-5 2-8 11-7 3-12-15-1-7zM100 89l2-1 1 2-2 1zM148 80l1 3-4 4-3 0-2-2 3-4zM81 79l1 4-2 2-3 0-2-3zM360 78l3 2 0 3-2 2-3-2 0-3zM372 77l4 1 3 3-3 5-3 0-4-3 0-3zM315 78l3-2 2 3-3 1zM64 74l3 3 3 9-6 5-2 4-2 0-2-2 2-7-3-2-5 2-2-2 0-4 3-3 4 1zM40 76l3-3 3 2-2 3zM130 70l4 3-1 7-5-5 0-3zM141 71l2-2 2 1-1 3zM29 69l4 1 4 4 0 7 5 4-1 2-4 0-4-3-3 1-7-4 2-8zM339 66l4 2 0 5 8 0 2 2-2 4-6 3 1 6-5 2-10-3-7-5 0-3 9-8 4-1zM295 66l2 0 4 4 0 2-4 4-3 0-3-3 0-3zM155 66l4 0 6 7 3-1 2 2-8 9 1 2-2 2-7-5-1-5-3-4 0-3zM415 64l2 2 0 3-2 2-3 0-2-3zM45 61l3 3-2 3-2-2zM173 59l2 3-5 4-2-4zM368 58l2 2-1 2 3 3 0 2-8 5-7-1-2-2 0-3 3-3 5 0zM131 58l4 3 0 2-3 3-3-2 0-4zM379 55l4 3-2 4-4-2 0-3zM351 55l3 2 0 3-2 2-3-1 0-4zM248 60l2-3 5-2 3 0 3 3-3 3-6 1zM37 55l2 4-4 4-3-5 2-3zM239 54l2 0 3 3 0 7-4 3-5-3 2-8zM58 53l2 3-6 3-2-2zM167 50l1 3-4 3-1-4zM273 49l8 6 7 2 3 4-2 4-5 1 2 6-8 6-2 0-4-4 1-6-2-2-4 0 0 2-3 3-4 0-2-2 0-2 6-5-1-5 6-3zM138 50l4 0-2 2zM338 47l4 0 2 2 0 3-4 5-3-1-2-5zM63 50l6-4 5 1 4 4-2 4 8 7 4 6-4 2-11-4-3-3 3-6-6 1zM173 45h1v1h-1zM189 48l4-5 4-2 10 0 11 5 5 6 0 7-3 4-11 5-10 0-9-7-2-5zM46 40l2 0 3 4 0 4-2 2-3 0-3-5zM26 44l2-4 4 0 5 3 0 3-3 3-5 1-3-3zM271 38l2 0 3 7-2 2-4-2-1-4zM232 38l2-1 2 4-3 1zM61 35l3 3 0 3-5 4-3-4 0-3zM14 36l2-2 7 0 4 3 0 2-6 5-2 0-4-3zM323 33l9 8-3 5-3 0-6-6 0-4zM349 32l2 3-6 5-2-3 4-5zM72 32l3 0 2 2 0 3-3 3-4-3 0-3zM291 35l2-4 3 2-2 3zM277 32l4-1 2 3-3 2zM169 32l4-1 2 2 0 3-4 2-2-2zM332 28l2-2 5 0 2 4-2 2-3 0zM239 34l3-3 8 2 1-3-2-3 3-1 3 6 6 1 2 2-1 11-3 3-5-1-4 2-12-13zM212 26l4 2 0 3-2 2-2 0-3-3zM46 26l5 4-3 6-5-5 0-2zM232 27l2-4 4 2-3 4zM27 24l2-1 1 3-2 1zM88 23l6 1 3-3 11 0 2 2 1 5 4-2 4 5 8 0 3 4 0 6-2 2-6-6-2 1 5 9-8 7 1 2 5 0 2 2 0 2-8 6 4 1 1 6 4 1 3 4-1 5-3 4 0 6-3 3-3-3-5-1-3-3-2-7-8-9-4-2 0-2 5-4 2 0 3 4 5-4-8-2-3-4-4 1-3-2-4 0-8-7-2-6 2-2 4 1 2-2 0-13-3-3zM123 22l2-2 3 0 2 4-3 2zM325 19l2 4-3 3-2-2 0-3zM135 20l2-2 4 0 2 2 0 3-4 2zM282 16l4 3 0 3-2 2-3 0-2-2zM309 15l7 4-2 2 0 3 2 5 4 4-6 5-6-1-2 2 2 4-1 4 7 0 3 3 6 1 5 5 2 8 0 5-2 2-11 0-6 4-5-3-2-7-4 1-6-5 0-4 3-4 2 0 3 3 3-1-2-4 1-2-8-4 5-7 0-4-5-4-2-7 4-6 3 1zM203 16l3-2 5 5-3 3-2 0-3-3zM52 23l3-4 6-1 5-4 5 0 6 4-2 10-4 3-3-2 0-3-8-1-2 2-3 0zM335 13l2 0 3 3 0 3-2 2-3 0-2-2 0-4zM227 15l2-2 2 2-2 2zM417 14l2-2 2 3-2 1zM82 12l5 3-4 6-4-4 0-2zM290 8l3 0 2 2 0 3-3 4-2 0-3-4 0-2zM275 9l2-1 2 2-2 2zM16 8l2 2-1 5-5 5-4 0-3-3 1-5 2-2zM215 5l4 0 2 2 0 3-3 4-5-5zM313 6l2-2 4 0 4 7-4 3-6-6zM32 4l7 2 7 11-1 5-7 7 3 7-1 3-3 0-6-5 4-4 0-2-4-4 0-5-2-2zM97 3l10 8-3 5-6 1-4-4 1-8zM66 5l4-2 2 3-4 2zM169 1l7 5 3 6 2 0 3-4 4 3 0 4-3 3 3 3-2 6 1 5-4 2-13-9 0 5-5 2 0 3-2 2 1 5-4 3-3-5 1-4-8 1-4-4 1-11 2-3-1-7 5-4 4 1 8-8zM106 5l2-4 3 0 2 2-4 5z"/>
<path fill="#dea8b6" d="M210 303l-3 3 1 5-4 5 7 0zM0 276l0 9 3 0 4 5 0 2-3 3-4 0 0 21 9 0-6-6 0-6 3-3 6-2 0-13-2-2 1-3-3-5-4 3zM60 136l-3 4 4 3 2-3zM2 134l-2 0 0 10 3-3zM28 129l-2 1 1 3 2-2zM405 117l-1 5 4 1 3-4-2-2zM0 108l6 6-2-4zM0 93h1v1h-1zM0 46h1v1h-1zM404 40l-4 0-3 5 2 2 5-2zM121 38l2 4 1-2zM0 0l0 29 2 0 4-4 3 1 2 5-4 4 0 2 6 3-1 5 6 6-2 6-5 3-5 7-4-2-2-8 0 24 4 0 1-5 4-4 6-1 3 3-6 12 0 3 3 3 3-6 3-3 2 0 0-6 5-8 4 0 6 6 0 7 5 3-3 3-2 0-4-3-8-1 2 3-1 5-3 3-4 1-3 4 1 5 4-2 3 3-2 3 0 6-4 5-4 0-3-3-7 0-2 2-3 0 1 3 5 0 2 2 0 3-2 2 1 2 3-2 4 0 4-7 6 3 4-6 3 1 3 3-1 5 4 4 0 4-6 5-2 12 2 1 3-2 4 0 3 3-1 6-3 3-2 0-6-5-5 1-5-4-11 1-3-3-5 0 0 16 7-8 7 1 5-2 3 4-2 2-4-1-1 4 8 5-2 4-4 0-3-3-6 5-8-2 0 22 7 5-2 4-5 2 0 11 7 7 4-2 3 2 0 3-2 2-7-2-3 3-2 0 0 2 4-1 5 5-2 4-5 1 0 3-2 2 0 17 4-2 0-4 4-5 4 1 3-4 9-3-6-1-3-3 0-3 2-2 6 3 4 0 4 5 4 0 3 2 3 0 2-7 3-3 2 0 5 7 2 0 4-6 5 3 0 3-7 6 4 5 8 3 10-8 7 10 0 5 4 5 0 4-2 2-12 2-8-4 0-9-4 1-4-3-1 5 2 3 0 5-3 3 9 8-2 4-26 0-2-4 5-5 0-2-7 4-6-6-7 1-2 2 1 11 2 1 3-2 2 2-2 4 2 0 3 3 0 2-5 5-3 0-3-3-2 2 1 4 61 0-1-5 3-4 4 2 2 7 48 0 2-2 4 0 3 2 11 0 3-3 6 3 27 0-2-7-4-5 0-4 5-4 6 1 2-2 0-5 6 0 8 8 4-3 2-4 5-3 2 2 2 8 5 3-1 7-8 4 5 4 21 0 0-3 6-3 4 1 0 5 18 0 3-3 0-4 4-3 5 0 2 2 0 2-6 6 21 0 3-5 4 2 0 3 6 0 0-2 3-3 2 2 0 3 79 0 3-4 3 0 3 4 4 0-1-4 4-4 4 0 0-7-4 2-5-6 3-5 6-5 0-2-3-1-4-6 3-4 4 0 0-10-8 6-3-3 1-3-7-9 0-2 6-4-1-4-8 2-1 4-2 2-3 0-2-2 0-3 2-2-2-2-8-1-3-4 3-5 4-1 3-3 5-1 2-2 8-1 2 2 0 5-2 4 5 1 6 4-2 6 5 8 0-43-4-2 4-7-1-12-5 9-5-4-3-5-4 3-2 0-3-3-2 2 1 4 4 4 6-1 4 6-8 5-5-1-4 3-9-2-4 3-5 0-1 7-5 4-2 0-4-4 2-5-8-4-2 1-7 15-6 0-12-8-6 2-4-4 3-4 7 3 4-4 7-1-2-4 2-3 3 0 2 2 0 3 6-5 10 5 4 0 2-3-6-10 3-6-4-3 0-3-3-3 0-2 3-1 4 2 2-2 0-6 3-4 11-1 2 3-2 2-3-1 0 3 7-1 4-6 3 1 4 4 0 4-3 3 2 3 7 1 1-6 6-6 4 0 7 8 0-54-2 2-3 0-5-4-1 4-3 3-6-1-6 6-10-1-6 6-6-4 2-3 4 0 2-2-1-3 3-3 0-4 2-2-1-5 5-3 4 3 5-8 5 2 0-6 7-9 3 2 0 5 3 3 0 8 2 6 3 3 0-25-4-3 4-4 0-5-4-2 0-3 2-2 2 1 0-18-5 0-3-4 0-4 2-2 3 0 3 3 0-10-4-2 4-4 0-9-2-2 2-3 0-19-5-1-2-4-18 0 2 6 4-4 2 0 4 4-2 3-4 1 0 3 10 7-3 4 0 4 3 1 3-4 4 3-5 5 1 12-3 3-8-1-4 3 1 7 8-2 2 4-6 3-7 0 4 13 3 4 3 0 2 2 3 8-5 4-5-1-4 2-6-1-6-4-1 4-3 3-6 1-3-5 1-3 4-4 4 2 2-2-1-5-4 3-2-2 0-8 4-4 2 0 3 3 4-2 0-3-10-10 0-5 5-4 0-2-5-1-5-5-3 1 1 7-4 2-3-3 1-6-4-1-6-7-3-1 1-7-3-11 2-3 8 1 4-5 5-2 7 0 0-2-13 0-2 2-6 0-9-5-2 4-10 3-1-2 3-3 6-2-13 0 0 6-4 2-7-5 0-3-21 0 2 6-3 2-8-2-2-2 1-4-32 0 0 3 3 3 1 4-1 3-4 2-5-3-5 0-5-3-6 1-2-2 6-6 7 0 1-2-18 0 0 3-3 3-5-1-3-3 0-2-13 0-3 3-3-3-56 0-2 6-3 3-3-2-3 1 1 5-2 2-4-2-10 0-7 8-3 0-3-3-1-4-4 3-6 0-3-3 1-10 2-2 11 9 9-2 4-7 7-2 5 2 1-2-40 0-5 5-5 0-2-2 2-3-52 0 0 2 3 3 4 1 4 4 3 6-1 7-7 7 4 6 0 2-4 2-7-5 3-7-2-2-4 1-2-2 5-3 0-2-3-3 2-12-9 1-2-2 2-4-5 0-3 3-2 0-2-3zM181 312l2-1 1 2-2 1zM100 313l3-3 4 0 2 2-2 3-5 0zM356 308l3 0 2 2-2 5-2 0-3-3zM115 307l2-2 3 0 4 4 0 3-5 3-3-3zM399 304l4 3-2 4-4-2 0-3zM329 305l2-2 3 0 2 3-5 1zM306 303l2 3-6 5-2 0-2-3zM72 303l2 6-4 4-3-3 2-6zM266 308l0-2 5-4 3 0 3 3-2 3-3 1zM240 302l4 3-2 4-3 0-2-2 0-2zM147 301l5 4 0 3-3 3-4 0-3-3zM93 301l3 2 0 5-2 2-3-3 0-4zM54 301l7 0 2 2-2 10-2 2-4-1-4-4 1-7zM368 299l2 4-4 3-3-4 3-3zM175 299l2 0 3 3 0 5-4 4-4-3 0-6zM412 298l2 2 0 4-7 5-2-4 5-7zM252 296l4 3 0 8-2 2-4 0-4-5 0-3zM381 295l5 8-4 4-3-2 0-8zM360 297l0 4-4 3-8 1-4-3 12-7zM391 298l2-4 6 2-3 4-3 0zM105 292l6 3 2 5-2 4-7-1-3-3 0-4zM247 286l6 6-5 4-4 0-1-4zM77 287l9 0 4 5-7 6-4 0-6-5zM347 285l4 3 0 2-3 3-4-4zM367 283l6 6 0 2-5 3-6-3 1-4zM111 283l3-2 4 4-3 3-2 0-2-2zM200 282l2-2 3 2-2 2zM353 281l4-2 2 3-4 2zM117 299l0-5 3-3 0-7 4-5 3 0 5 3 12 0 7 7 8 2 2 2 0 3-5 3-11 0-5 4-3 5-6 2-7-9-5 0zM264 290l2-2 4 0 0-5 5-7 6 3 5 6 6-1 3 3 0 6-4 6-11 1-9-9-5 1zM136 278l2-2 1 1-1 2zM262 277l4-2 3 3 0 3-4 2-3-3zM305 274l11 0 4 2 6-1 3 3 2 5-5 5 3 3 0 2-8 10-4 0-3-4-9 0-4-3 3-4 0-4-5-2-2-3zM99 274l4 0 4 3-2 9-4 3-4 0-3-6 2-6zM348 271l3 2 1 3-3 4-4 0-2-4zM413 281l0 2-4 4-5 0-7 6-4 0-5-5-6 0-2-2-1-9 2-2 5 0 4-3 3 2 4 0 3-4 8 1 2 2-1 5zM288 270l2 0 4 4-1 5-3 0-5-4 0-2zM218 271l2-2 5 0 2 2 0 3-2 2-3 0-4-3zM183 268l3 3 1 4 6 5 0 7-3 4-9 2-4 4-4 0-3-3-2-6-6 1-2-2-1-5 4-3 18 1 1-2-2-6zM124 271l3-3 3 1-2 4zM336 267l2 0 2 3-3 4-3 0-2-4zM196 267l2 0 3 3 0 4-4 3-4-2 1-6zM113 268l1-1 2 2-2 1zM141 268l4-2 2 4-4 2zM299 263l4 0 2 2 0 5-3 4-2 0-3-3 0-6zM307 264l2-2 5 0 2 2 0 3-2 2-3 0zM207 262l3 0 3 3 0 5-3 3-3 0-3-3 0-5zM343 261l2-2 4 0 2 4-2 2-4 0zM104 258l2 2 0 4-3 2-2-2 0-3zM395 258l4-1 7 5 0 2-2 2-4 0-5-5zM130 256l1 3-2 2-2-3zM246 253l2 2-1 6 4 4-3 4-7 4 2 4-2 5 1 4-3 3-3 0-1-3 3-4-10-11 0-8 2-6 4-4 4 2zM211 251l4 4 0 2-3 3-4 1-3-4zM69 252l1-1 1 2-1 1zM117 251l1-1 1 2-1 1zM315 247l3-2 6 0 12 4 3-3 2 0 5 4 0 2-3 2-5-1-1 10-6 6-7 1-3-4 1-3zM86 245l2 4-3 2-2-3zM185 246l2-2 2 2zM252 255l3-3 5 1 3-2 0-6 2-2 6 0 2 2 2 10 10 3 3 4-6 3-8-6-5 4 0 2-4 4-2 0-11-5zM72 244l2-2 2 3-3 1zM239 240l5 10-2 2-6 1-1-8zM207 239l3 3-2 4-4-2 0-2zM93 240l3-1 5 6-2 2-3 0-3-4zM349 239l5-1 3 3 5 0 5-4 5 4 5-2 5 0 2 2-2 3-4 2 5 5-3 3 1 10-2 2-3 0-2-4-4 4 7 5-1 5-4 5-5-3-1-8-6 5-6-3-1-6 3-3 0-4-3-6 4-3 0-3-2-2-7 1-2-4zM244 237l3-2 7 5-2 2-3 0zM191 237l2-2 3 2-2 2zM335 232l3 3-1 5-3 3-5 0-2-4 5-6zM181 228l2 0 4 4-1 4-3 3-3 0-2-2 0-5zM420 228l2-1 1 2-2 1zM364 227l3 3-3 5-5 0-2-4zM202 226l2 0 3 5-2 3-3 0-3-3zM45 226l2 4-3 2-2-3zM318 227l2-2 3 0 3 4-5 4-3-3zM239 225l4 0 2 2 0 5-3 3-4 0-2-2 1-6zM19 234l2-2 7 1 2-3 0-4 3-2 2 4 2 0 8 7 0 3-6 8-3 0-7-5-4 1-6-4zM221 224l2-2 6 1 3 3 0 4-2 2-5-1-4-4zM194 224l2-3 3 1-2 3zM397 222l3-2 2 3-3 2zM386 220l2 2 0 3-4 3-2-3zM41 219l2-2 3 1-1 3zM251 228l10-5 0-7 7 5 5-1 9 2 2 2 0 4 8 0 6-8 3 0 5 6-1 6 2 2 5-1 3 4 0 2-7 7-5 0 0 2 6 5 1 3-3 4-2 0-4-5 0-5-6-2-8 2-3-6-4 0-2-3 5-3 0-5-2-2-7 1-4 6-6 0-2-2 1-4-2-2-5-1-3 2zM232 217l3-2 2 3-3 2zM406 216l2-2 3 1 2 4-4 2-3-3zM188 212l2 2-2 3-2-2zM290 213l2-2 3 0 2 4-4 3zM91 215l2 9-3 3-7 1 3 7-2 3-4 0-4-3 3-7-1-1-9 0-1 3 3 3 0 2-3 4-5 1-5-1-6-9 7-10 6 0 6-5 4 2 6-2 4-4zM10 211l4 3 1 6-2 2-4 0-5-4zM202 254l-2 4-9 9-4 0-5-4-4 0-6 7-7 2-5-6 0-7-5-4-6-11-7 1-3 3 2 3 5 0 2 2 0 2-3 3-3 0-9-9-4 2-6-1-3-3-1-6-4 4-10-5-5 1-3-3 0-2 4-5 7 1 1-5-2-3-5 2-3-3 0-3 3-3 8 2 1-3 5-3 8 2 4-3 6 4 6 1 5 7 2-2-5-5 2-4 3 2 1 3 4 2 6-1 7 4 2-2-2-7 3-4 2 0 4 6-3 5 1 12-6 8-9-3-2 4 0 5 4 5 3 0 1-6 3-1 2 2 0 3 3 1 4-3-1-3 2-2 3 5 4 0 8 4 5 0 4-3 2 2zM156 208l2 3-3 3-1-4zM51 209l2-1 2 2-2 2zM310 207l5 0 5 6 1 7-5 5-9-2-3-3 1-7zM224 207l2 2 0 4-3 3-2 0-4-3 0-2zM192 207l2-2 5 1 0 2-3 2-2 0zM79 208l3-4 4 2-3 4zM235 205l8-2 3 3 0 2-2 2-4 0-4-2zM95 204l3-2 2 4-3 1zM60 204l4-2 6 6-3 3-4 0-2-2zM310 200l2 4-5 4-2-3zM209 201l3-1 3 4-3 2-3-3zM347 192l4 2 0 4-3 3-4 0-3-3 0-2zM219 193l3-1 5 4 0 2-3 3-5-6zM237 191l3 4-6 4-3-4 4-4zM118 185l3 1 1 9-2 2 1 1 2-2 4 0 2 2 5 1 3 5-2 4-6-1-8 2-2-2 0-4-7-5zM341 186l4-3 3 2-2 3-3 0zM10 186l3-3 3 0 4 4-5 3-3-1zM332 182l2 1 0 3 3 3 1 4-1 14-3 3-10-2-2-2-1-11-2-2 0-5 2-2 6-1zM132 182l2 2 0 3-4 6-4-4 0-4zM108 182l3 2 0 2-2 2-3 0-1-3zM140 180l5 4-2 6-6-4 0-3zM215 179l1 3-3 2-1-3zM224 177l8 7-2 4-2 0-4-4-2-4zM335 175l4 3-3 4-3-1 0-4zM97 175l4 2 0 3-3 3-6-3zM48 174l2-2 3 0 2 3-4 2zM134 170l3 2 0 5-2 2-3-2-1-3zM120 170l5 3 0 6-4 3-3-2 0-8zM355 169l2 2 0 3-5 5-2-2 0-4 3-4zM27 170l2-1 1 2-2 1zM104 170l2-2 5 0 3 4-3 4-3 0zM100 192l-3 5-4 0-8 6-12 0-10-7-8 1-6 5 0 6-6 6-8 2-5-4-1 3 2 4-2 2-5-2 1-4-8-6-1-7 4-4 0-3 2-2 2 0 3-4 9-2 2-2-3-3 0-4 2-2 3 0 2 2 0 15 11 1 1-11 10-7-2-3 0-3 2-2 10 9 9 3 8 10 3-3 2 0zM314 178l1-9 2-2 9 1 5 5 0 2-3 3-4-1-4 4zM339 168l3-2 2 3-3 2zM235 167h1v1h-1zM218 166l2 0 3 4 0 2-3 3-4-2 0-4zM81 166l4 3 0 3-2 2-3 0-2-2zM89 167l3-2 4 4-2 2-3 0zM357 166l2-2 8 1 5 5-7 6-5-4zM412 165l2-2 8 1 0 2-4 3-3 0zM404 161l2 4-4 3-2-3zM115 157l3 3 0 4-2 2-2 0-4-4zM411 156l3-2 2 3-3 2zM333 154l2 2 0 3-3 3-5 1-2-2 6-7zM166 155l5-1 3 3-4 1zM96 154l2 3-3 3-2 0-2-4zM322 147l2 2 0 3-3 3-2-2 0-4zM162 148h1v1h-1zM356 146l5 4-3 4-4-3 0-3zM361 160l3-4 3 0 2 2 1-1 0-9 2-2 7-1 10 4 8 9-2 3-2 0-5-5-2 3 2 6-2 2-18-5-5 0zM367 144l2-1 1 2-1 1zM395 142l2 0 4 5 0 2-4 3-4-2 0-3-2-2zM122 142l4 3 0 4-3 3-2 0-3-3 0-3zM406 138l2-2 3 0 2 4-2 2-3 0zM131 132l11 8 1 16-2 2-7-1-5-5 0-2 4-4 0-2-5-6 0-3zM46 129l3 3 0 2-6 4-2-3 1-3zM198 123l3 3-3 4 5 5-1 6-6 6 0 3 4 2-3 5 1 17-4 1-3-3-12 13-2 0-2-2 1-6-4-4 5-6-3-4 2-2 5-1 0-2-6-5 5-6 0-2-9 0-3-3 0-3 6-6 3 3 9-1 3-3-2-5 2-2 3 1zM378 124l4-2 2 4-3 1zM262 120h1v1h-1zM368 118l2 0 3 3 0 3-3 4-2 0-3-3 0-3zM320 123l4-2 7 8 3 0 6-4 0-5 4-2 9 4 5 5 4 0 8 5 2 3-4 3-5 0-7 5-5-2-3 3-1 7-2 2-5 0-1-4 6-5-3-4-4 0-8-7-5 1-5-5zM139 118l3 3 0 2-3 3-3 1-6-3 2-3zM273 116l0 4 9 9 0 5 3-1 2 2 0 10-5 4 5 4 1 3-2 4-6 3 2 10-3 3-5 0-2 2-3 0-5-3-2 3 0 6-4 3-8-11-8 2-5-4 2-4 5 1-5-6 0-3 4-3 3 0 1-2-11-4-2-4 3-3 8 1 0-3 5-4 0-6 5-6 3 0 1 3 5 5 2 0 1-2-3-3 3-2 0-3-4-3 1-3 3 3 2 0 1-5zM359 115l2 2-3 5-3 0-2-3zM66 115l3 0 3 4-3 6-6-5 0-2zM326 115l5-1 3 2 0 3-3 2-5-4zM43 123l0-4 4-6 5 0 4 4-2 4-8 4zM144 113l2-1 1 2-2 1zM40 110l2 4-5 4-2-2 0-3 3-3zM379 108l4 4 0 2-5 4-4 0-2-3zM91 108l2 4-1 3-4 3 2 2-2 8 6 1 3 3-5 11 8 3 9 0 0 5-3 3-2 0-4-4-9 0-7 11-4-2-2-3-4 2-12 1-4 3-7-1-3-3 0-2 5-5-2-2-4 3-4-1-3-4 1-3 3-3 4 2 6 0 1-2-4-6 5-4 0-2 4-4 2 0 7 7 2 0 1-5 4-4 1-4 12-11zM218 107l3 2-2 4-3-2zM98 109l2-2 2 1-2 3zM130 111l2-6 5 0 4 3-4 6-4 0zM338 103l2 4-6 3-2-4zM128 104h1v1h-1zM122 103l2 2-2 10 5 5-3 4-6 3-2 4 1 5-2 1-12-10-4-9 2-2 3 1 8-5 0-4 3-3zM239 101l2 1 0 5-3-1zM56 103l4-2 6 6-3 3-3 0-4-4zM390 100l4 2 0 3-3 3-2 0-3-3 0-2zM84 102l0 2-5 5-5 0-3-3 2-3 5-1 2-2zM106 100l4-1 2 2 0 3-4 1-2-2zM405 96l2 3-4 5-2 0-3-3 0-2 4-3zM31 95l2 0 5 6 0 2-4 3-4-3-1-6zM90 93l2 0 7 7-1 3-4 3-4-3-2-5 0-3zM151 91h1v1h-1zM48 89l2 2 0 3-3 3-4 0-1-3zM362 92l4-4 6 3 2 4-3 3-4 0-5-3zM299 89l3-2 6 3 8 1 5 4 4 0 6-4 6 6-3 3-3 0-3 6-6 6-6 3-13-15 0-7zM101 86l3 2-2 4-3-2zM148 80l2 3-4 4-4 1-3-3 3-4zM74 83l2-3 7 0 0 2-3 3-4 0zM360 78l4 2 0 4-2 2-4-3 0-3zM372 76l2 0 5 5 0 2-4 4-4-1-3-3 1-4zM315 77l4-2 2 4-4 2zM53 76l5 1 3-3 3 0 4 4 2 4 0 5-5 4 0 3-2 2-6-4 3-4-2-3-6 1-2-2 0-5zM40 77l2-4 4 1-2 4zM73 73l1-1 1 2-1 1zM177 70l2-2 2 2-2 2zM141 70l3-2 2 3-3 2zM294 66l4 0 3 3 0 3-5 5-5-4 0-4zM153 66l7 0 6 7 3-1 2 2 0 2-8 7-1 4-8-4-1-5-4-6zM56 68l2-2 3 2-2 2zM339 65l4 2-1 5 9 0 3 3-4 5-4 1 1 6-5 3-13-3-6-6 0-3 9-7 4-1zM414 64l2 0 2 3-3 4-3 0-2-4zM45 60l3 3-2 4-3-2 0-3zM167 64l4-5 3 0 2 2-4 5-3 0zM144 60l1-1 1 2-1 1zM131 58l2 0 3 4-3 4-3 0-2-2 0-3zM369 57l2 2-1 3 2 2 0 3-7 5-8 0-3-3 0-3 3-3 5 0 4-5zM379 55l2 0 3 4-3 4-2 0-3-3 0-2zM348 60l2-5 2 0 3 3-3 4zM261 57l0 2-4 3-7 0-3-3 3-3 8-2zM34 54l6 3-4 6-4-2 0-5zM238 53l4 1 3 3 0 7-4 3-4 0-3-3 2-9zM51 57l5-4 3 0 2 2-2 3-6 1zM162 54l3-4 4 2-3 4zM272 49l6 1 4 5 6 2 3 3 0 4-6 3 1 6-7 5 2 3-1 2-6-3 0-3-3-3 2-3-1-4-4-1-1 3-5 3-5-4 3-4 3-1-1-6 6-3zM140 48l2 3-3 2-2-2zM341 46l3 3 0 3-5 6-4-6 0-3zM63 49l4-3 8 1 3 3-1 5 6 5 5 8-2 2-3 0-9-3-4-4 1-5-3 1-4-4zM173 45l2-2 2 2-2 2zM188 49l6-7 10-2 13 5 6 6 1 6-6 8-7 3-10 1-7-3-5-6zM47 39l3 2 2 7-4 3-2 0-3-5 0-3zM272 37l4 5 0 3-3 3-4-4 0-4zM232 36l4 2 0 4-2 2-3-4zM58 35l4 0 3 4-4 6-2 0-3-3 0-5zM136 35l2-1 1 2-2 1zM322 33l3 0 7 8 0 2-4 4-3-1-5-6 0-5zM13 36l3-3 9 1 4 5 6 2 3 3 0 2-5 4-5 0-3-3 1-5-8 2-5-5zM349 32l2 4-4 4-2 0-2-4 3-4zM276 32l4-2 3 3 0 2-4 1zM332 28l2-2 6 0 2 3-5 4zM46 26l2 0 3 3 0 5-3 3-5-5 0-3zM17 27l2-1 1 2-2 1zM250 25l4 3 2 4 8 2-1 11-4 4-10 1-2-4-9-8 0-3 4-5 2 0 3 3 4-1-3-4zM213 25l4 3 0 4-2 2-6-3 0-3zM236 22l2 4-4 4-3-5 3-3zM89 22l5 1 5-3 9 1 3 6 4-2 4 6 7-1 4 4 0 7-4 2-1 5-7 5 1 3 4-1 3 4-4 4-4 1 0 2 4 0 2 2-2 2 1 3 4 0 2-3 3 0 3 4 0 5-2 2-4-3 0 4-4 6 0 7-2 2-4-4-4 0-5-5-2-7-12-10 0-2 5-4 3 0 3 4 4-4-6-1-5-5-9 0-9-7-2-7 8-4 0-12-3-2 0-2zM325 19l2 2 0 3-3 3-3-5zM122 22l3-3 3 0 3 3 0 2-2 2-4 0zM139 17l3 0 2 2 0 4-3 3-6-4 0-2zM282 16l2 0 3 4 0 2-3 3-6-3zM309 14l7 5-1 7 5 6 0 2-5 4-8 0 0 8 5 0 6 4 4 0 7 7 2 10-2 4-11 0-6 4-3 0-3-3-2-6-5 0-6-6 1-4 3-3 7 2-1-6-4-1-3-3 5-10-2-2-2 0-3 4-4-2 3-4 3 0-2-5 1-6 3-3 9-1zM203 16l4-2 4 5-3 3-3 0-2-2zM332 15l2-2 3 0 4 4 0 2-2 2-5 0-2-2zM227 16l1-3 4 2-2 2zM56 18l4 0 6-5 9 2 3 3-3 10-2 2 4 3 0 5-3 3-4-3 0-6-3-5-7-1-2 2-5 0-2-2 1-4zM84 12l3 3 0 2-6 5-2-2 0-6 2-2zM416 13l3-2 3 4-3 2zM17 8l2 2-1 5-7 6-4-1-3-3 1-4 7-5zM292 7l4 4 0 2-6 5-4-7zM274 9l3-2 3 4-2 2zM216 4l2 0 4 4-4 6-5-4 0-3zM314 4l5-1 4 6 0 3-2 2-3 0-5-5-1-3zM66 5l4-2 2 4-4 2zM284 2l2-1 1 2-1 1zM185 7l4 5 0 2-3 3 0 2 3 3-2 3 1 7-3 3-15-9 0 3 6 4 0 3-2 2-4 0-2-2-1-5-3 6 0 6-2 2-3 0-2-2-1-7-7 1-3-3 1-13 2-3-2-6 5-5 5 1 8-7 5 0 4 2 5 8 2 0zM189 1l2-1 2 2-2 2zM108 0l3 0 2 2 0 3-3 3-4-2 0-4z"/>
<path fill="#de92a9" d="M19 311l0 5 3 0 1-2zM210 303l-2 2 0 6-3 5 6 0zM41 286l-2 2 1 1 2-2zM0 277l0 7 2 0 5 5 0 3-4 4-3-1 0 21 9 0-6-5 0-8 9-5-2-19-2-2-3 2zM1 236h1v1h-1zM144 219l-1 1 2 3 1-2zM381 175h1v1h-1zM243 145l-1 1 2 1 1-1zM60 137l-2 3 3 3 1-4zM265 134l-1 1 2 1 1-1zM1 134l-1 9 3-3 0-4zM28 130l-2 1 1 1zM409 117l-3 0-2 2 1 4 2 0 3-3zM266 117l0 4 3 1 0-3zM107 65l-1 1 2 1zM0 46h1v1h-1zM404 40l-3 0-3 3 1 4 2 0 4-4zM123 39l-2 1 1 1zM378 4h1v1h-1zM400 0l0 4 2 2 3-4 3 0 3 3 0 2-5 4 0 3 7 3 3 3-4 4 0 3 3 2 3-4 6-3 0-17-5-1-2-4zM416 13l4-2 3 4-2 2-3 0zM130 0l2 2 1-1zM0 0l0 28 3 0 4-4 4 5 0 3-4 5 5 1 4-5 9 1 4 5 4 0 5 4 0 4-6 4-5-1-2-2 0-5-3 2-6-1-1 3 3 3 1 4-6 6-2 0-5 7-2 0-3-3-1-6 0 22 4 0 1-5 3-3 7-2 4 4-7 13 3 4 7-9 3-10 5-4 7 5 2 3-1 5 5 3-2 4-4 0-4-3-6 0 1 6-5 5-4 1-2 6 2 2 4-2 3 3-3 3 0 7-4 5-3 0-3-3-13 1 0 2 6 1 2 2-1 6 6-1 4-7 7 2 4-5 2 0 4 4-1 5 5 5 0 3-4 2-3 4-2 10 10 0 2 2 0 5-3 5-4 0-5-4-4 1-8-5-8 2-5-4-4 0 1 13 2 0 1-3 4-3 5 2 3-2 4 0 6 6-2 2-4 0-2-2-3 1 1 3 3 0 4 3 0 4-2 2-4 0-3-3-5 4-9-2 0 22 7 5 0 2-7 5 0 10 2 0 5 6 5-1 2 2 0 4-2 2-5-2-4 1 6 6 1 3-2 2-6 1 0 5-2 1 0 16 4-2-1-4 3-6 6 1 4-4 7-1 0-2-5 0-3-3 1-5 3 0 4 3 5 0 4 5 4 0 3 2 2-1 1-5 3-4 4 0 4 7 6-7 6 6-8 7 5 5 4 0 2 2 11-7 7 9 1 7 4 4-1 4-3 3-12 1-7-2-2-2 1-8-7-2-1 3 3 6 0 8 6 8-2 3-28-1-1-5-7-7-7 0-3 3 2 6-1 3 5 0 5 6 1 5-7 6 1 2 36 0 2-2 3 2 13 0-1-6 3-3 3 0 2 2 1 5 3 0 2 2 29 0-4-1-4-5 0-2 3-3 5 1 3 4 0 3 4 3 7 0 2-2 6-1 3 2-1 1 10 0 3-3 3 0 3 3 8 0 2-2 3 0 6-6 2 1 0 3-4 4 9 0-1-6-5-7 0-2 5-5 6 1 2-2-1-3 2-2 6-1 6 8 3 0 9-9 3 1 0 3 3 5 5 5-1 6-4 3-5 1 5 4 20 0 2-6-5-5 0-5 6-4 4 2-1 12 4-1 2 2 0 5 11 0 2-2 4 1 2-2 0-3 4-4 7 0 2 2-7 8 21 0 1-6 4 1 2 2 0 3 5 0 4-6 3 6 19 0 2-2 3 2 54 0 0-2 3-3 5 1 2 4 2 0-2-4 7-5 3 0 0-3-3 0-6-7 0-2 7-8 0-2-4-3-1-6 4-3 3 1 0-10-7 6-4-2 0-5-6-8 0-3 6-3-2-4-3 0-5 4 0 3-4 2-4-4 2-4-1-2-7 0-4-3 0-5 3-3 3 0 10-6 9-1 3 3-2 7 2 2 5 1 3 3-2 5 5 7 0-40-2 0-3-3 5-7 0-11-3 1 0 4-3 4-8-9-3 2-6-2-2 3 3 4 8 0 4 7-7 5-6 0-3 2-5 0-4-2-4 3-6 0-1 8-4 3-3 0-4-4 1-5-6-3-3 0 0 4-3 3-1 6-2 2-8 0-10-7-7 2-4-4 0-3 2-2 3 0 5 3 3-4 7-1 1-1-2-4 3-3 2 0 2 4 2 0 3-3 4 0 6 4 6-1 0-3-5-7 2-7-4-3 1-3-4-4 2-3 6 3 2-5-2-2-4 2-6-5-2-4 0-3 6-9 7 0-1-8 2-2 10-1 4 3 5 1 7 8-2 4-3 0-4-4 0 10-13-2-3-2-7 0 8 7 12-2 4 6 3-5 3 0 5 4 0 5-2 3 1 3 6 1 1-6 6-6 3-1 3 1 3 3 0 3 3 2 0-17-5 5-5 0-6-3 1-2 12-1 3-2 0-33-5 1-4-3-5 6-7 0-4 5-11 0-5 5-3 0-4-4 2-3 5-2 0-3 2-2-4 0-3-3 0-2 2-2 5 2 2-2 0-6 2-2 4 0 3 2 1-4 3-3 4 0 2 2 0-6 7-10 3 2 0 5 4 4-1 7 2 6 3 3 0-23-4-4 0-2 4-2 0-5-3 0-2-2 1-3 4-2 0-17-4 1-4-4 0-5 2-2 4 0 2 2 0-9-4-2 0-2 4-3-1-7-6 4 2 11-5 4-6-2-5 4 2 6 4-3 5 3-2 4-9 0-1 3 1 5 3 0 2 2-2 3 1 3 7 5 2 7-4 4-14 1-8-4-3 6-7 1-4-6 4-5 6 0 2-2 0-3-3 0-2 2-2-2 0-9 5-4 5 4 2-1 0-4-9-9 0-6 5-6-5 0-3-3 0-2-3 0-2 2 1 6-3 2-4-3 0-8-3 0-5-6-5-3 2-4-3-14 3-3 6 2 4-5 6-2-2-2-3 0-4 3-4 0-9-5-2 3-10 4-2-4 3-3 5-1-12 0 0 6-2 2-3 0-7-5 0-3-20 0 3 6-2 2-7 0-5-4 1-4-31 0 0 3 3 4 0 5-3 3-4 0-4-3-17-3 0-2 5-5 8 0 1-2-17 0 0 3-4 4-6-2-3-5-12 0-2 3-2 0-2-3-11 0 0 4-4-2 1-2-41 0-5 9-4-2-2 1 0 5-2 2-5-2-9 0-6 8-4 0-5-6-2 2-7 0-3-3 1-10 3-2 9 8 10-1 4-8 6-1-15 0 1 5-4 4-3-2-1-7-11 0-4 5-3 1-6-3 2-3-20 0-2 2-6 0-2-2-21 0 0 2 3 3 3 0 5 4 3 6 0 7-7 8 3 5 0 4-2 2-5-2-5-5 4-6-2-2-3 2-3-2 1-3 4-1-3-5 2-11-2-1-7 2-2-2 1-5-4 0-2 3-7 0-2-3zM100 312l5-3 4 2 0 2-3 3-4 0zM354 309l5-1 2 2 0 3-4 3-3-4zM315 307l2-2 1 1-1 2zM399 304l4 2 0 4-2 2-2 0-3-4zM326 308l4-5 5 0 2 2-8 5zM266 308l0-2 5-4 3 0 4 3-2 3-8 2zM239 302l3 0 2 2 0 4-2 2-5-3 0-3zM71 302l3 3 0 4-3 4-2 0-2-2 0-4zM307 301l2 2-1 4-6 5-2 0-2-2 0-3zM142 306l4-5 2 0 5 5 0 2-4 3-4 0-3-2zM94 301l2 2 0 6-4 3-1-9zM53 301l8 0 2 2-2 10-2 2-3 0-5-4zM363 301l2-2 3 0 2 2 0 3-2 2-3 0-2-2zM175 299l3 0 2 2 0 7-3 3-2 0-3-3 0-6zM412 297l2 2 0 6-7 5-2-2 0-4 2-4zM32 299l1-2 2 1-2 2zM380 295l3 1 3 8-3 3-4-2zM360 297l0 4-3 3-10 1-5-4 2-2 5 0 7-4zM336 294l3-1 1 2-2 1zM104 292l4 0 4 4 1 6-2 2-8-1-2-2 0-6zM344 287l2-2 5 0 1 5-5 3-3-3zM83 285l7 5 0 2-5 5-5 2-7-6 0-2 4-4zM367 282l6 6 0 3-5 4-6-4 0-4zM246 282l2 1 0 3 6 5-7 6-5-3 3-6-1-4zM113 280l5 5-2 3-4 0-2-2zM209 280h1v1h-1zM202 279l3 2-2 4-4-3zM352 281l4-3 4 4-2 2-3 0zM116 297l4-6 0-8 5-5 2 0 3 3 14 1 5 5 10 4 3 3-5 5-11 0-4 2-3 5-6 5-3-1-7-9-4 1zM264 289l5-1 1-6 5-6 2 0 9 8 7 0 2 2 1 5-5 8-12 1-8-8-5 0zM136 278l2-2 2 2-2 2zM305 274l22 1 4 6 0 3-3 4 1 6-7 9-5 1-3-4-6 1-8-5 4-4 0-4-5-2-2-3zM264 274l6 5-3 4-3 0-2-2 0-5zM98 274l6 0 4 2-2 3-1 8-2 2-6 0-2-2-1-6zM347 271l2 0 3 3 0 3-4 4-5-3 0-3zM288 269l7 5 0 4-2 2-8-4 0-4zM218 271l4-3 4 1 2 3-3 4-4 0-3-3zM184 268l4 7 6 6 0 5-4 5-9 3-4 4-3 0-4-3-2-6-5 1-4-3-1-6 4-3 4 0 2 2 4 0 3-2 6 1-1-8 2-3zM124 272l2-4 3 0 2 2-4 4zM335 267l3 0 2 2 0 3-3 3-2 0-3-3 0-2zM196 267l3 0 3 3 0 3-3 4-4 0-2-2 0-4zM112 269l2-2 3 1-2 3zM293 266l1-1 1 2-1 1zM143 265l4 3-2 4-3 0-2-2 0-2zM299 263l5 0 2 2 0 6-4 3-4 0-3-7zM307 263l2-2 4 0 3 3 0 4-6 1-3-3zM346 258l2 0 3 3 0 3-2 2-4 0-3-3zM103 258l4 2 0 3-3 4-4-4 0-2zM394 259l2-2 7 1 3 3 0 3-2 2-5 0zM402 256h1v1h-1zM129 255l2 2-1 4-3-2zM93 256l1-1 2 2-2 1zM107 252l2 2-1 3-3-2zM209 251l6 3 0 4-4 3 2 4 0 6-3 3-3 0-4-5 0-4 4-4-2-2 0-3zM66 255l0-2 3-3 4 1-2 4zM116 252l1-3 3 2-2 2zM314 248l3-3 9 0 6 3 10-2 5 5-3 3-7 0 1 7-6 8-8 1-3-3 0-5-3-9zM215 246l3-2 2 3-3 2zM86 244l3 3 0 2-4 3-2-2 0-3zM187 243l2 2-1 3-3-2zM71 244l4-2 2 3-4 2zM227 268l2-9 5-7-3 0-1-3 3 0 2-2 0-3 3-4 4 3 3 7-8 4 4 1 2-2 3 0 2 2-1 5 2 2 3-1 0-7 2-2 9-2 0-6 2-2 5 0 3 3 2 9 2 2 5 0 6 4 0 2-3 3-4 0-7-6-14 14-4-3 0-3-4-2-11 9 3 3-2 4 1 4-5 5-3-2 2-7-9-10zM207 239l3 2 0 3-2 2-2 0-3-3zM216 239h1v1h-1zM348 239l6-1 2 2 3 0 6-3 3 0 4 3 10-1 2 4-5 4 5 4-4 3 2 11 4 3-2 3 1 2 7-1 2 2 3 0 3-4 8 1 2 2-1 4 5 6-5 4-8 2-4 4 3 4-3 3-4 1-2-2 0-4 2-2-5-5-6 0-4-6 1-5 3-3-2-7-3 0-2-3-4 2 6 4-1 7-3 4-4 0-4-8-8 2-4-4-1-5 4-4 0-2-4-7 5-5-3-3-5 2-3-3 0-3zM243 237l2-2 3 0 6 5 0 2-4 1-4-2zM190 236l2-2 3 0 2 3-3 3zM335 232l3 3-1 6-5 3-4-1-2-3 7-8zM20 229l1-1 1 2-1 1zM362 227l2 0 3 3 0 2-4 4-3 0-4-4zM190 229l1-2 2 1-2 2zM181 227l6 4-1 6-4 3-4-3 0-6zM420 227l2-1 2 3-2 2zM42 228l4-2 2 4-4 2zM203 225l3 2 1 6-2 2-3 0-3-3 1-4zM321 224l2 0 3 3 0 3-3 3-2 0-3-3 0-3zM240 224l3 0 2 2 0 7-2 2-5 0-2-2 0-5zM18 235l4-4 6 1 2-2 0-4 4-2 2 4 2 0 7 6 0 5-6 7-4 0-5-4-6 0-6-5zM220 225l3-3 5 0 5 4 0 3-3 3-4 0-6-5zM397 222l3-2 2 3-3 2zM385 220l3 2 0 4-2 2-4-2zM193 223l3-3 4 3-2 2-3 0zM41 218l4-2 2 3-4 2zM282 216h1v1h-1zM251 227l2-2 7-2-1-6 2-2 6 5 14 1 4 3 0 3 6 1 4-3 0-3 2-2 4 0 6 7-2 3 1 3 5-1 4 4 0 3-8 8-4 0 6 5 1 6-3 3-2 0-5-6 1-3-7-4-4 3-5-1 0-4-7-4 1-3 4-1 0-4-2-2-6 0-5 6-6 0-4-8-7 1zM232 217l4-2 2 3-4 2zM405 216l2-2 3 0 3 3 0 2-2 2-3 0zM189 211l2 4-4 3-2-3zM91 214l2 11-2 2-6 0 1 9-3 3-4-1-3-3 2-6-1-2-9 2 3 3 0 4-4 4-8 0-7-9 0-3 8-9 4 1 6-5 7 1 8-5 3 0zM10 211l2 0 3 5 0 4-4 3-7-4 0-3zM292 210l3 0 2 2 0 4-2 2-2 0-4-4zM232 210l1-1 1 2-1 1zM202 255l-2 4-9 8-5 0-7-4-8 8-6 1-5-5 0-7-6-6-5-9-6 0-3 3 0 2 6 1 2 2-1 4-4 2-9-9-6 2-6-2-2-2-1-6-3 3-3 0-6-4-5 0-1 5-4 2-4-4 0-4 2-2 2 1-1-3 5-5 8 0-1-6-7 1-2-2 0-4 4-4 7 3 1-3 4-3 8 2 3-3 3 0 3 3 9 2 1-3 3-2 2 4 4 3 9 0 3 4 2 0 2-2-2-8 3-4 2 0 4 6 0 3-3 3 2 5-1 8-5 7-9-3-2 2-1 6 6 6 2-2-1-3 4-3 3 3 0 3 2 1 4-3-1-4 2-2 4 6 4 0 5 3 7 1 4-3 2 2zM224 207l3 3-1 4-3 3-7-5 1-3zM177 209l2-2 4 0 2 4-5 4zM158 207l1 3-3 6-2-2 0-5zM50 209l3-2 3 3-4 2zM191 208l3-4 4 0 2 2-4 4-3 0zM234 206l5-3 5 0 3 5-3 3-2 0zM96 201l4 3-2 4-4-4zM59 204l4-3 8 7-3 3-5 0zM309 200l3 2-2 5 6 0 3 3 3 8-5 7-11-2-3-3 1-6 3-5-3-3zM211 199l4 4-1 3-3 0-2-2 0-3zM359 201l1-3 2 2-2 2zM203 196l1-1 1 2-1 1zM340 197l5-6 4 1 5 7-10 3zM220 191l7 5 0 3-2 2-6-5-1-3zM229 193l9-3 2 2 0 4-6 3zM355 190l2-2 4 3-2 2zM340 185l6-2 2 3-5 3zM10 185l2-2 5 0 3 4-3 3-3 0-4-3zM132 182l2 2-1 9 1 5 3 3 0 5-2 2-14 1-3-3 0-2-6-5 0-4 7-11 2 2 1 9 4 0 4 3 1-4-5-4 0-5zM104 186l3-4 3 0 2 2-4 5zM139 180l3 0 4 3-1 4 2 4-2 2-2 0-7-9zM87 180l2-2 2 2-2 2zM215 177l2 2-1 4-6 6-3-1 3-3 2-6zM224 176l8 7 1 3-2 2-4 0-5-7 0-3zM337 175l2 2 0 3-5 5 4 7 0 14-3 4-6 0-7-4-1-10-3-8 2-2 10-3 2-2 0-3 3-3zM96 175l3 0 2 2 0 3-3 3-3 0-3-3zM48 175l2-3 4 0 2 2-3 3-3 0zM143 172l1-1 1 2-1 1zM134 170l2 0 2 4 0 3-2 2-2 0-4-5zM120 170l2 0 4 5-1 5-2 2-4 0-2-2 0-7zM355 168l3 6-4 5-2 0-3-5zM100 191l0 3-3 3-12 6 1 5-3 3-4-2 1-5-9-1-7-6-9 0-6 5 0 6-7 7-7 2-3-4-2 0 2 5-2 3-4 0-3-3 1-3-7-5 0-3-2-2 0-3 7-9 6-5 9-2 0-2-3-3 3-6 2 0 4 4 0 14 10 0 0-9 11-9-2-2 1-5 3 0 9 9 9 3 6 9 6-2zM29 168l2 3-3 2-2-2zM287 169l2-2 2 3-3 1zM106 168l5-1 3 3 0 3-3 3-4 0-3-4zM339 170l2-4 3 0 2 2-4 4zM81 166l2 0 3 3 0 2-3 3-3 0-2-2 0-3zM168 166l2-1 2 2-2 2zM87 170l3-5 3 0 3 3 0 2-3 2-4 0zM310 168l3-4 9 4 4-1 5 5 0 4-2 2-6 0-3 3-3 0-4-4 1-6-3 0zM218 164l5 4 0 5-2 2-4 0-2-2 0-4zM404 161l3 4-5 4-2-4zM317 160l3-1 1 3-3 1zM114 157l4 2 0 5-3 3-5-4 0-2zM410 156l2-2 3 0 2 3-2 2-3 0zM90 157l4-3 4 1 0 3-2 2-4 0zM333 153l3 3 0 3-5 4-4 1-2-2 2-5zM202 149l1-1 1 2-1 1zM321 146l4 4 0 2-5 4-2-4zM356 145l5 4 0 3-2 2-3 0-2-2 0-5zM390 144l2-2 5 0 5 7-3 3-5 0zM366 145l2-3 3 2-2 2zM122 142l4 2 1 4-3 4-4 0-3-4zM418 137l1-2 2 1-2 2zM408 135l3 0 2 2 0 4-2 2-3 0-2-2 0-4zM161 134l2 2-2 2 1 3-4 2 0-6zM130 132l3 0 4 5 3 0 3 4 2 11-3 6-9-1-5-6 5-5-5-7 0-5zM295 132h1v1h-1zM47 129l3 5-5 4-3 0 0-7 2-2zM183 129l1-1 1 2-1 1zM162 128l3-2 3 3-4 2zM243 125l4 3-3 4-4-2zM174 123l2-2 2 2-2 2zM249 121l2-1 1 3-2 1zM317 128l3-5 4-2 7 8 2 0 7-4-1-4 3-3 3 0 4 3 3 0 5 5 12 5 3 4-5 4-6 0-4 4-7-1-2 3 0 5-3 3-5 0-2-3 6-6-1-2-4-1-10-8-5 1-3-3-3 1zM285 118l3 1-1 8-2-1-2-6zM195 118l1 3 6 5-1 4 4 6-1 6-3 3-3 0-2 4 3 0 2 2 0 3-3 3-1 5 2 4 0 8-2 2-6 0-5 2-6 8-3 0-3-3 1-5-2-2-4 0-2-3 6-2 3-3 0-2-5-3 2-2 8-1-7-8 5-4 0-3-3-1-5 3-1 6 5 3-2 3-9-1 3-8-1-1-3 3-2-2 0-4 2-2 6 2-2-7 7-7 4 3 9-1 1-3-2-4 2-2 4 0 1-2-3-3zM368 117l2 0 3 3 0 5-3 3-3 0-2-2 0-6zM139 117l3 3 0 4-3 3-7-1-2-3zM357 115l4 1 0 4-2 2-4 0-2-2 0-2zM67 114l2 0 3 5 0 3-3 3-2 0-4-5 0-3zM325 115l2-2 3 0 5 5-3 3-2 0-4-3zM52 113l5 5-7 5-2 4-5-4-1-3 5-7zM25 115l3-2 2 3-3 2zM273 111l3 4 0 7 7 7-1 4 6 0-1 7 2 8-6 1 10 8-5 1-2 4-3-1-2 2 3 10-6 6-8 0-6-2-1 2 3 3-9 5-7-10-9 1-5-5 2-3 4-1-2-2-4 2-2-3 11-9-9-3-3-4 7-12 2 0 2 3 5-1-1-5 7-8 4-1 0 4 2 2 4-2 2-3-6-3 1-3-3 1-1-2 6-7 6 0zM146 110l2 4-3 2-2-3zM40 109l3 3 0 2-6 4-3-3 0-2zM379 107l5 5 0 2-3 3-6 2-3-3 0-2zM90 107l3 3 0 3-4 5 2 4-3 3 0 3 5 0 5 4-5 11 9 3 4 0 3-2 3 4-5 6-5 0-3-4-7 0-8 11-4-1-2-3-16 2-3 3-8-1-4-5 3-3 2 0 0-2-2-1-5 3-5-5 0-3 4-4 5 2 5-1-3-5 0-3 5-4 0-2 4-4 2 0 8 8 7-14 4-2zM219 106l2 2 0 4-3 3-2-2 0-4zM100 106l2 2-1 3-3-1zM359 106l2-1 1 3-2 1zM208 104h1v1h-1zM339 102l2 4-4 4-3 0-3-3 5-5zM138 105l3 4-4 6-5-1-2-2 0-5-5-2-3 9 5 4 0 3-9 7 0 8-2 2-8-8-3 0-2-2-5-10 2-3 5 1 2-2 3 0 2-3 0-4 7-4 11-2 3 3zM84 102l0 3-4 4-7 0-2-2 0-2 3-3 3 0 2-2 3 0zM55 104l4-4 7 6 0 2-2 2-5 0zM390 99l4 2 0 5-3 3-3-1-3-4zM105 101l2-2 3 0 2 2 0 3-3 2zM397 100l0-2 4-2 5 0 2 2-5 6-3 0zM234 96l8 5 0 7-3 0-2-2 0-4-5-4zM31 95l3 0 4 5 0 3-3 3-3 0-2-2-1-7zM213 96l2-2 3 2-2 2zM202 96l2-2 2 1-1 3zM127 93l2-1 2 2-2 2zM90 91l9 8 0 3-5 5-5-4-2-6zM49 89l2 2-1 4-4 3-3 0-2-4 4-4zM361 95l1-4 3-3 7 3 4 0-5 7-5 0zM153 88l2 2-2 4-2-2zM299 89l4-2 6 3 8 1 5 4 4-1 3-3 3 0 6 6-4 4-3 0-4 7-11 8-14-15 1-8zM101 86l3 2 0 3-2 2-3-3zM148 79l2 4-8 6-3-3 0-3 2-2zM304 79l1-1 2 2-2 1zM81 78l2 2 0 3-3 3-4-1-2-3zM360 77l4 3 0 4-2 2-2 0-3-3 0-3zM372 76l3 0 5 5-4 6-6-1-2-2 0-3zM225 75l4 3-3 7-4-5 0-2zM320 74l1 5-2 2-3 0-2-4zM177 82l3-3 4 3 3-3-1-3 4-2 5 3 12 1 4 2 4-1 5 7 3 0 1 2-7 3-2-2-1-5-5-1-6 8-2 0-2-2 4-4-1-2-5 0-4 5-8 0-3-3-3 1zM62 73l2 0 4 4 3 9-3 4-3 1 0 3-2 2-3 0-3-3 2-7-4-1-3 2-2-2 0-7 2-2 5 1zM39 75l2-2 4 0 2 3-3 3-2 0zM74 71l2 2-2 3-2-2zM176 71l2-3 4 1-3 4zM140 70l2-2 3 0 1 4-4 1zM56 68l2-2 3 2-2 2zM148 73l5-7 6-1 6 7 5 0 2 4 4 0 2 2-4 3-6-3-4 5 0 3-3 2-8-6-1-5-3-1zM416 63l2 2 0 3-3 4-2 0-4-4zM174 58l2 2 0 3-7 4-2-2 1-5 2-2zM143 60l3-2 3 5-3 1zM48 58l1 8-4 1-2-2 0-3zM372 58l-1 4 2 4-3 4-4 2-10 0-2-2 0-5 2-2 6-1 5-5zM131 57l2 0 3 4 0 2-3 3-3 0-2-2 0-4zM379 54l4 2 2 6-1 2-6-1-2-2 0-4zM351 54l4 3-3 6-4-2 0-3zM172 55l3-1 1 2-2 2zM37 54l3 3 0 2-6 5-2-2 0-6 2-2zM238 53l3 0 5 4-1 8-4 3-4 0-4-5 2-7zM51 58l0-2 5-3 3 0 2 2-2 3-5 2zM165 49l4 2 0 3-2 2-3 0-2-2 0-2zM357 49l3-2 4 1 1 3-3 2zM140 47l3 3-2 3-4-2zM342 46l3 5-3 5-4 2-4-8 3-3zM62 50l4-4 7 0 6 4-1 5 6 5 5 9-4 2-12-4-4-4 1-3-6-4zM173 44l3-1 1 3-2 2zM356 43l2-1 1 2-2 2zM187 51l2-5 4-4 4-2 9 0 12 5 6 7 0 7-4 5-5 3-7 2-9 0-10-8zM46 39l2 0 4 5 0 4-3 3-3 0-3-4 0-4zM272 36l4 5 0 5-2 2 17 11 0 5-2 2-3 0 1 6-7 6 3 4-2 3-5-2-3-3 0-4-4-2 4-4-2-3-3-1-4 6-4 0-3-3 0-2 6-5-1-3-4 3-8 0-3-3 2-3 6-2 4 0 2 3 6-3 4-5-2-4 0-6zM233 35l3 3-1 6-2 0-2-3 0-4zM58 35l4 0 3 3 0 3-5 5-4-3-1-5zM136 35l2-1 1 3-2 1zM349 31l3 4-7 6-2-2 0-4 4-4zM275 32l2-2 4 0 2 2 0 3-3 2zM331 27l2-2 5 0 4 3 0 2-3 3-3 0-5-4zM249 25l3 0 5 7 5 0 2 2 0 9-5 7-5-1-2 2-3 0-2-4-9-9 0-4 3-4 3 0 3 3 3-1-2-4zM212 25l3 0 2 2 0 5-2 2-4 0-3-3 0-2zM14 27l2-2 3 0 3 3-3 3-2 0zM236 22l2 2 0 3-6 3-1-6 2-2zM268 23l2-2 2 2-2 2zM88 22l6 1 3-3 11 0 4 7 3-2 4 5 8 0 3 3 1 8-6 4 0 3-7 5 1 3 5-1 2 2 0 3-8 5 6 3-1 4 10-2 2 2 0 8-2 2-2-2-2 1-1 4-3 3 1 5-3 4-10-5-5-10-13-11 8-8-3-3-4 1-2-2-4 0-9-8-2-6 2-2 6-1 1-12-4-5zM326 19l2 2 0 3-6 6-2-2 1-7 2-2zM122 21l2-2 5 0 2 2 0 3-2 2-5 0-2-2zM134 20l4-3 4 0 2 2 0 5-2 2-5-1zM282 15l5 4 0 4-2 2-5 0-3-3zM297 17l5 0 7-3 6 2 2 2-2 3 1 7 6 5 3-1 8 9-4 6-3 0-4-3-4-9-4 4-7 0 2 4-1 3 5 0 4 3 7 2 5 5 0 5 3 9 4 0 4-6 3 3 1 5 8 0 2 2 0 3-8 5 1 6-2 2-15-2-7-6 0-4 6-4-1-2-11 0-4 3-5 0-4-8-2-1-1 7-4 6-6-5-1-5 6-4-3-4 1-6 3-3 5 3 2-1-1-5-5-1-3-3 0-2 5-5 0-4-2-1-4 4-4-2 0-2 5-4-2-6zM346 14h1v1h-1zM200 20l4-7 8 5-3 4-6 2zM337 12l4 4 0 3-6 3-3-3 0-4zM236 12l1 4-2 2-1-5zM226 14l3-2 3 4-4 2zM85 12l3 4-7 6-2-2 0-6 2-2zM42 29l4-4 3 1 0-2 6-6 6-1 3-3-2-3 2-2 3 4 7 1 4 3 0 4-2 2 0 4-2 3 3 3 0 6-2 2-3 0-2-2-3-12-6-1-5 3-3 0-5 8-5-4zM47 11l2-2 3 3-3 1zM57 9l1-1 1 2-1 1zM17 8l2 2 0 3-7 8-4 0-4-3 0-4 4-5zM290 7l3 0 4 4-5 7-2 0-4-5 0-2zM273 9l4-2 3 1 2 4-3 2zM215 4l4 0 3 3 0 3-4 4-2 0-4-5 0-2zM314 4l5-1 5 8-3 3-4 0-5-6zM68 2l4 3-2 4-2 0-3-3zM283 2l3-2 2 3-3 1zM186 7l3 4 0 4-2 2 2 4-2 5 1 7-2 2-3 0-12-9-1 2 6 4 0 4-4 3-4-3 0-4-2 0-2 11-3 3-2 0-2-2-2-7-4 1-6-4 2-7-1-4 2-4-1-7 6-6 4 2 7-7 3-1 6 2 4 4 2 5z"/>
<path fill="#bf98b9" d="M20 311l-1 5 3 0 0-3zM210 303l-2 2 0 7-2 4 5 0zM147 299l-3 1-10 10 3 4 4 0 4-3-3-2 0-4 6-5zM10 299h1v1h-1zM41 287h1v1h-1zM0 277l0 7 3 0 3 3 2-1 2 2-6 8-4-1 0 21 8 0-6-7 1-6 8-9 0-8-2-2 1-3-2-3-5 2zM242 252l-4 2 3 1zM144 220l1 3 1-2zM422 177l-1 2 3 2 0-4zM381 175h1v1h-1zM243 145l-1 1 2 1 1-1zM60 137l-2 3 3 3 1-4zM265 134l-1 1 2 1 1-1zM1 134l-1 7 3-2 0-3zM0 119l1 2 5 1 2 2 0 6 5-1 2-2 1-6-4-3zM408 117l-4 2 1 4 2 0 3-3zM266 117l0 4 3 1 0-3zM209 87l3 2 2-1-1-2zM201 85l-2-1-1 2zM220 80l-1 2 2 1zM169 80l-3 3 2 0zM324 72l2 4 2-3zM420 62l-2 2-1 6-2 2-6 0-2 4 8 8 1 5-3 4 3 2 1 6 3 4-1 7 2 6 3 2 0-21-5-5 5-5 0-3-5-3 1-4 4-2 0-15zM416 59l-7 3-6-1 0 8 10-5zM0 46h1v1h-1zM405 42l-5-1-2 2 0 3 4 0zM166 32h1v1h-1zM423 31l-5 3 1 11-5 4-6-2-5 4 2 6 4-3 6 2 0-2 4-4 2 0 3 3 0-7-4-3 0-4 4-2zM171 27l-1 1 3 2 1-1zM379 3l0 2 4-1zM400 0l2 6 4-5 3 1 3 4-3 4-2 0 0 4 7 3 3 3-5 5 1 3 11-6 0-6-6 1-2-2 2-4 6 1 0-6-5-2-2-4zM344 0h1v1h-1zM234 1l3 5 5-4 8-2zM131 0h1v1h-1zM111 9l5 0 4-8 7-1-14 0 1 5zM33 0l2 5 4 0 5 5 3 7-1 6-7 7 4 6 0 3-5 3 0 5-5 4-6-1-3-3 0-2-7 0-1 3 3 2 2 5-12 7-3 6-6-5 0 17 4 0 1-5 3-3 5-2 6 2 3-2 1 3-7 6-3 5 0 6 2 1 7-10 1-7 7-6 3 1 5 6 4-3 5 2 0 2-3 3-4-1-2 2 6 5 0 4 5 0 2 2 0 3-3 4-5 0-2-2 0-7-7-3-6 0 0 6-4 4-4 1-2 3 0 3 5 0 3 3-3 3 2 5-5 6 0 2 4 2 3-5-3-4 2-2 3 0 2 2-2 3 5 5 0 6 4 3 0 4-7 7-1 9 10 0 2 2-1 8-3 3-4 0-5-5-5 1-7-5-8 2-5-4-4 1 1 11 2 0 4-5 7 2 3-3 4 1 5 4 0 3-2 2-8-2 0 2 4 1 4 4 0 3-2 2-5 1-3-3-2 0-4 4-8-3 0 22 8 4 0 3-6 5-2 0 0 9 3 1 5 6 4-1 2 2 0 4-2 2-3 0-2-2-3 1 5 5 1 4-2 2-4 0-1 5-3 2 0 15 3 0 0-5 2-2 1-5 5 2 5-4 5-1-6-4-1-4 2-2 3 0 4 3 5 0 4 5 4 0 3 2 2-1 1-5 3-4 4 0 5 6 2-4 4-2 5 4 0 3-3 3-4 1 0 2 5 5 4-1 3 2 4-2 4-5 4 3 1 4 4 5 0 5 4 4-1 5-2 2-3 0-1 2 4 2 3 4-9 8-5-1-5-6-3 1-1-2 3-3 3 1 7-4-14-2-2-2 2-3 0-6-7-2-1 3 3 6 0 8 6 7-2 4-28-1-2-2 0-4-7-6-6 0-3 3 1 5 2 2-1 2 4-1 4 3 4-4 2 1 0 3-5 7 2 2 3 0 1 2-6 2-3 4 27 0-4-5 2-11 8 0 3 3 0 3-3 4 1 3-3 3 2 0 3-3 2 0 1 3 13 0-1-6 4-4 4 2 0 4 2 2 3-13 2 0 3 5 0 4-3 3 1 3 7 0-3-3 2-4 8 1 2-2 3 2 0 2-7 4 12 0-5-6 0-3 3-3 3 0 5 5 1 5 6 2 1-3-5-4-3-6-5 0-4-6 3-6 1-12 2-2 5 1 3 3 15 0 3 5 5 3 6 1 3 3 0 2-4 4-8 2 3 4 0 3-5 4-1 4 9 0 2-3 5 0 2 3 8 0 6-4-5-1-2-2-1-7 3-4-2 0-3-3 0-4-2-2-6 1-6-5 3-10 4-2 1-3-3-3-1-8-5-5-5-9-6 0-3 3 1 2 5 1 2 2-3 6-3 0-7-7-3 1-11-3-2-8-3 3-3 0-6-4-4 0-2 2 1 3-2 2-4 0-3-3 0-7 7-7 9-1-2-5-6 1-3-3 0-3 4-4 8 3 1-3 5-4 2 0 3 3 5-3 3 0 8 4 3 0 3-4 2 0 7 7 10-1 2 2-1 2 3 0 1-2-3-6 5-7 4 3 1 5-2 6 1 13-7 8-6-3-4 2 0 5 3 3 0 2 3 0 0-5 2-2 2 0 4 6 4-1 0-7 2 0 4 5 9 4 7 1 3-4 3 2-1 8-11 10-8-4-4 0-2 5-11 5 0 3 3 3 4 0 2-2 7 1-2-7 1-3 3-2 14 17-7 8-8 2-4 4 3 8 3 0 3 3 0 4-5 3 8 0 0-4-5-8 0-4 5-4 8-1-3-5 1-2 4 2 5-1 5 7 3 1 10-10 4 2 2 7 5 4-1 9-2 2-6 0-1 2 5 3 20 0 1-6-3-3-2 0-4 4-5-4 0-3 4-3 5 2 1-4 7-4-2-1-3 3-4 0-2-2 2-9-5 4-3 0-2-4 3-3 0-2-6-7-3-1-3 4-2 0-6-4 0-2 4-3 6 2 1-1-1-5 2-3 0-4 3-4-4-2 0-3-3-3 0-2 6-2 1 5 2 1 4-8 4 3 3 9 3 3-1 6 2 2 2 0 0-7 3-3 2 0 3-4 3 2 1-1-4-7 6 0 2-2 7 4 0 5 3 7 6 0 5 4 0 3-4 3-6-2-3-4-3 1-3 5-7 5-2 4-2 0-3-4-1-6-3 1 0 3-5 1-5 4 3 3-2 5 2 1 3-2 2 2 0 4 5 1 2 2 0 16 5 4 0 3 4 3 6 0 3-3 4 0 2-4 6-4 5 1 2 2 0 2-6 6 20 0-1-6-6 2-3-4 2-3 7-4-8-6 6-4 0-3-8-4 6-9-6 0-3 5-6-2-3-3 0-3 5-4 2 0 4 4 1-1-1-2-2 1-2-3 3-3 11-2-5-7 0-4-6-3-4 3-5 0-2-2 0-5-9-2 1-2 7-3 0-3-2-2-5 0-5 7-5 0-4-3 1-4-2-2-7 1-2-2 2-4 5-1 2-2-2-6 2-4 7 8 15 1 3 3 0 3 7 0 3-2 0-3 2-2 4 0 6 7-1 5 5 0 4 4 1 3-8 8-3-1-1 2 6 5 0 7 6 3 1 5-3 2-6-1-2 4 13 2 7-1 4 4 2 5-2 3 0 7-13 16-3-2 1-6-4 0-2 8 5 4 0 3 5 0 0-2 4-4 2 0 1 5 3 1-1-4-3-3 0-3 4-5 8 4-5 4 0 4 6 3 7 0 2-2 3 2 7 0-4-5 2-4 4 0 2 2 0 5-2 2 7 0-3-11 0-4 2-2 3 0 4 4-2 6 4 3-2 4 28 0 6-4-2-7 3-3 0-2 5-4 2 2 0 7-5 4 1 2 3 0 3-3 8-1 0-2-4-1-6-7 0-2 6-7-3-12 4-3 3 1 0-10-7 6-4-2 0-5-7-7 1-4 6-3-2-4-8 4 0 5 3 2 0 9-2 2-5-1-6-6 2-4 5 1-5-7 2-4-1-2-5 1-5-3-6 5 4 4-4 3 2 10 5 4 0 4 10 2 3-4 8 0 3 3-1 4 4 4 0 2-4 4-7 1-5 5 3 4-5 4-3 0-2-2 1-6-5-5-5 0-4-5 0-5 3-9-2-2-3 0-2-3-2 2 6 5-5 13 1 6-5 5-3 0-5-4 0-3 4-5-1-4 2-4-10 0-3-3-1-6 4-4 0-2-3-3-1-4 5-4-2-3-4 0-6 9-8-1 1 7-4 5 8 1 0-5 5-5 5 5-1 5-2 2-5 0-1 3 3 0 2-2 5 5-4 6-4 0-3-3-1-4-7 1-3-5-8 1-2-2 0-7-3-9-4-4 4-5 9 1 5 3 4 0 4-3 5 2 0-7 2-2 7-1 3 3 6-2-7-6 2-4 3-2 3 0 4 4-2 3 1 4 4 2 10-1 3 2 1-4 3-3 4-1 3-3 3 0 8-6 7 6-1 8 5 1 5 4 0 2-3 3 5 5 0-21-3 1-2-2 0-4 2-2 3 2 0-12-3 0-2-2 0-3 5-5 0-10-3 1 0 3-3 4-6-5-2-4-3 2-7-1 1 4 3 3 7-1 4 8-9 5-12 2-5-3-4 3-5 0-2 2 0 6-5 4-6-4 1-5-7-4-2 0 0 4-4 5 0 4-2 2-6 1-4-3-5-1-3-3-7 2-5-5 1-5 2-2 8 4 5-4 6-1-2-2 1-4-4-8 4-8 5 1 2 4 5 4-11 5 3 0 4 4 3-2 4 0 6 4 6-1-1-4-5-7 3-6-4-3 1-3-4-3 1-4 7 3 2-5-2-2-2 2-9-2-6 5-3-4 0-3 7-7 0-2-3 0-3-3 2-2 7 1 5-5 6 0 0-8-4-2 2-4 6 5 7-1 4 3 5 1 1-8 7 1 4 5-1 5 3 3-2 2-4-4-3 1 2 6-4 2-3-3-2 0 0 8-21-4 5 6 14-1 2 2 0 3 2 0 2-4 4 0 4 4 0 5-2 3 1 3 6 0 0-6 6-5 5-1 4 3 4-2 0-7-6 4-12-3-4 2-2-2 0-3 3-4 4 3 13 0 4-4 0-30-3 1-5-4-2 1-3 6 3 4 0 3-3 3-3 0-2-2 0-4 3-3-3-2-3 0-4 5-11 1-5 4-4 0-3-3 0-3 4-1 5-7-4 0-4-5 2-2 6 2 2-2 0-4-2-2-6 4-5 0 0 5-3 4-4 0-3-3-1-4-7 2 1 3 5 0 11 9-5 4-7 0-5 5-5-2-2 2-1 6-3 3-5 0-2-2 4-6-12-11-13 1-2-2 1-6 7-7 8 8 4 0 4-3 0-4 4-4 2 0 4 4 3 0-1-3 2-2 10 0 2-2 5 1 7-6 4-6 2 2 0 4 6 3 6-1 5-4 3 0 2 2 2-1 0-9-4 6-3 0-4-3-5 7-2 0-5-6 9-9 6 3 10-1 2-2-2-1-10 2-4-1-5-4-1 4-3 3-6 1-3-4-2 0-4 4-10-2 0-4 4-4 8 2 9-5 4 1 2-2-1-3-4 2-2-1 0-11 5-4 4 4 3-1 0-2-6-7-2 0 1 3-2 2-9-5 0-3 4-4 5 1 0-4 5-5-5 0-5-5-2 2 1 6-2 2-4 0-3-6 1-4-3 0-6-7-4-1 1-10-2-4 0-6 3-3 5 2 5-5 5-2-2-2-8 4-11-4-13 5-1-5 2-3-5 0 0 6-5 3-9-7 1-2-20 0 3 4 0 3-6 1-1 4-9 7-5-8 5-4 3 0-1-7-5 0 1 3-2 2-3-2 1-3-3 2-4-2-15 0 0 3 3 4 0 5-3 3-5 0-3-3-4 1-4-3-9 0 1 8-4 2-8-4 2-4 5 2 0-4-3-2-7-1-1 4-4 4-5-3-1-6 4-3 3 0 0-3-9 0-5 4-3-2 0-2-9 0 1 3-2 2-4-3 1-2-41 0-5 10-6-2 0 6-2 2-5-3-9 1-5 7-5 1 1 4 4-1 4 5 7 0 4 4 0 7-6 4 1 3 4 3-9 0-3 3 6 1 2 2 0 4-4 3-3 0 0 2 4-1 2 2-2 5 6-3 4 0 7 5-4 2 1 4-2 2-5-1-5 7 1 3 3 0 4 4-4 2-3-3-3 3-2 0-11-8-1-5-4-5-11-7 7-8 0-3-4 1-4-3-4 0-9-8-1 4 3 3 2-1 2 2 0 4 3 5 0 2-3 2-5-3-8-2-4-4 1-3-4-1-5-8 5-6 12 3 3-6 6-1 0-11-3-3 2-4 8 0 3-3 11 0-1-4-10 2-4-5 1-9 3-3 7 7 2-1-2-7-9 0-6 6-7-1 0-5-4 0-2 2-3-2-4 0-1 2 2 0 3 3-3 4-3 0-3-3-4 1-7-7zM399 303l4 2 0 5-3 3-4-4 0-3zM265 308l1-3 5-3 7 2 0 3-2 2-9 1zM71 302l3 3 0 5-5 4-3-3 0-4zM361 297l0 4-4 4-10 0-6-4 2-2 5 0 7-4 4 0zM380 294l4 3 2 5 0 3-4 3-3-2-1-10zM258 295h1v1h-1zM336 294l3-2 2 3-3 2zM386 292l2-1 1 2-2 1zM105 291l2 0 5 5 1 6-2 2-10-1-1-6zM223 281l2 2-2 3-2-2zM113 280l5 5-3 4-3 0-2-2 0-3zM202 279l3 2-2 4-4-2zM358 279l2 3-3 3-5-1 0 6-3 3-3 0-2-2 0-4 10-9zM263 289l2-2 5 0 0-5 5-6 5 2 6 6 7-1 3 3 0 6-2 5-3 3-4 1-8-1-8-8-5 1zM261 276l2-2 3 0 4 4 0 2-3 3-3 0-3-3zM135 275l3 0 2 3-3 2-2-2zM107 274l3 3-4 3 0 7-4 3-5-1-3-4 1-8 3-3zM130 267l2 3-6 5-2-2 0-3zM112 270l2-3 4 2-3 3zM140 267l2-2 3 0 3 3 0 2-3 3-3 0-2-2zM388 265l2-2 2 1-1 3zM134 263h1v1h-1zM216 263l2-2 2 2-2 2zM149 262l3-1 1 3-2 1zM102 258l3 0 2 2 0 4-3 3-4-3 0-4zM122 256l2 4-3 2-1-4zM129 254l2 1-1 6-2 0-2-3zM94 254l2 2-2 3-2-2zM385 254l2-2 2 2-2 2zM209 251l3 0 4 5 0 2-4 3 0 22-4-3 0-2-3-3-3 0-3 3-4 0-2-2 1-7 2-2 6 0 4-5-1-7zM106 251l4 3-1 4-5-4zM223 250l2 2-2 4-2-2zM115 251l2-2 4 1-2 4zM64 255l4-6 3 0 4 3-2 3-3 0-3 3zM215 246l3-2 2 3-3 2zM187 243l2 2-1 3-3-2zM85 243l5 3 0 3-3 4-4-3 0-5zM70 243l3-2 3 1 2 3-5 3-3-3zM207 238l3 2 0 4-2 2-3 0-2-4zM215 239l4-2 2 4-2 1zM371 234h1v1h-1zM193 233l4 2 0 3-2 2-5-2 0-2zM336 232l3 3-2 6-4 3-4 0-3-3 1-3 5-6zM214 233l3-3 2 2-2 2zM181 227l7 5-1 5-4 3-3 0-3-3 0-5zM320 224l4 0 2 2 0 4-3 3-3 0-3-3 0-3zM239 224l4 0 2 2 1 8 5 2 4 4-2 3-5 0-6-5 0-2-4 0-3-3 0-5zM206 224l2 2-2 2 0 9-5 5-2-2 3-5-3-3 0-3zM19 228l3-1 4 5 2 0 1-5 3-3 2 0 6 6 6-5 2 2 0 3-3 3-1 8-5 5-4 0-7-4-4 0-6-5zM219 224l4-3 4 0 7 6-5 6-3 0-6-5zM201 223l-6 3-3 5-4-3 8-8zM399 219l4 2 0 2-3 3-3-2 0-3zM385 219l3 2 0 6-2 2-4-2 1-6zM41 218l4-2 2 4-4 2zM231 217l2-2 4 0 2 3-5 3zM405 215l6-1 3 3 0 2-6 3-3-4zM281 217l2-4 3 2-2 3zM96 212l3 4-2 2-2-2zM10 211l2 0 3 4 0 6-2 2-4 0-6-5 1-3zM50 209l3-2 3 4-4 1zM292 206l5 5 0 5-3 3-7-6zM217 207l4 1 3-2 3 3 0 4-3 4-3 0-5-5-1-3zM159 206l2 3-5 8-2-2 0-6 3-3zM173 208l4-3 5-1 10 9-1 9-3 0 0-2-4-3 0-3-2 2-4-1zM191 209l0-3 3-3 6 3-5 5zM246 204l1 5-2 2-8-1-2 3-5-2 2-3 2 0-1-3 2-2 9-1zM94 203l4-2 3 3 0 3-4 1zM59 203l4-2 9 7-5 4-4 0-4-6zM309 200l4 3-1 3 3 0 4 4 3 10-5 5-11-2-3-3 1-7 2-3-2-4zM208 201l4-2 4 6-4 2-4-4zM358 200l2-2 3 2-2 2zM296 198l4 4-2 3-3-3zM188 199l1-1 1 2-1 1zM206 193l1 3-5 4 0-5zM156 194l1-1 8 7-2 1zM105 195l2-2 2 1-1 3zM304 193l2-2 2 1-1 3zM219 191l4 1 5 4-3 6-5-4-3 1-2-2zM354 189l3-1 8 6-3 1zM238 188l6 7-10 5-6-7zM9 186l3-3 5 0 4 4-3 3-6 0zM338 184l2-2 5 0 3 4-3 3-3 0-4-3zM218 184l2-2 2 2-2 2zM133 181l2 2 0 4-2 3 2 8 6 3 2 4-2 2-2-1-3 3-9-1-5 2-4-4 0-2-7-6 0-3 4-4 1-5 3-2 2 2 1 8 8 4 1-3-5-4 0-6zM138 179l5 0 4 4 2-1 2 2-1 2-3-1 1 6-3 3-2 0-2-4-5-4 0-4zM113 179l2 2-6 8-3 0-2-4zM224 176l2 0 1 3 6 4 0 4-2 2-4-1-4-4-1-6zM214 176l3 3 0 3-10 10-2-4 4-3zM101 176l0 5-4 3-5-3-4 1-2-2 2-2 5 0 3-3zM48 175l2-3 4 0 2 2-3 3-3 0zM118 170l5 0 3 3 0 8-2 2-5-1-2-2zM134 169l4 3 0 6-2 2-3 0-4-6zM287 169l2-2 2 3-3 1zM142 167l5 4 0 2-3 3-3-2zM36 175l4 0 3 3 1 16 8-3 1-8 10-8-1-6 2-2 10 9 12 5 4 8 2 0 3-3 6 6-5 6-3 0-7 5 0 7 6 5 2 9-3 3-5 0 0 10-2 2-4 0-5-5 3-6-9 1 3 3 0 4-6 5-8-1-6-8 0-4 7-9 4 1 7-5 6 1 4-1 3-3-4-3 0-4-3 3-3-5-2 0-8-6-9 1-3 2-2 8-8 8-6 1-4-4-1 2 2 4-2 2-5 0-2-2 0-4-6-5-3-7 5-5 0-3 8-7 10-2-3-5 0-4zM29 167l2 4-3 2-2-3zM338 171l0-4 2-2 7 1-4 7-3 0zM168 166l2-1 2 2-2 2zM97 168l-2 3-6 2-3-1-3 3-6-3 0-3 4-4 6 2 3-3 2 0zM313 163l5 3 10 2 4 5 4 1 3 3 0 3-5 4 4 8 0 14-3 4-8 0-5-3-1-11-2-2-1-6 3-3 9-2 2-3-2-2-6 0-3 3-6-1-3-4 2-4-3 1-2-2 1-5zM216 163l3 0 5 6 0 4-4 3-2 0-4-5zM320 158l2 3-3 3-2 0-2-3zM116 156l3 6-4 6 0 5-4 4-3 0-4-3-3-9 2-1 3 3 5 0 1-2-2-2 0-3 4-4zM410 155l4-2 3 4-4 3-3-3zM96 153l2 2 0 3-3 3-2 0-3-4zM202 149l1-1 1 2-1 1zM353 147l4-2 5 5 0 2-2 2-4 0-2-2zM335 144l2 2-3 6 2 3 0 4-6 5-3 0-2-2 1-4 6-7 0-5zM323 144l2 9-4 4-2 0-2-2 1-7 3-4zM122 141l4 2 1 7-4 3-6-4 0-2zM416 136l3-2 2 4-2 1zM161 134l2 2-2 2 1 3-4 2 0-6zM295 132h1v1h-1zM131 131l3 1 4 5 3 0 2 2 3 11-1 6-2 2-10 0-5-6 0-2 5-4-5-5 0-7zM47 129l3 5-6 5-2 0-2-4 4-6zM183 129l1-1 1 2-1 1zM162 128l3-2 3 3-4 2zM243 125l4 3-3 4-4-2zM174 123l2-2 2 2-2 2zM249 121l2-1 1 3-2 1zM285 118l3 1-1 8-2-1-2-6zM195 118l1 3 6 5-1 4 4 6-1 6-3 3-3 0-2 4 3 0 2 2 0 3-3 3-1 5 2 4 0 8-2 2-6 0-5 2-6 8-3 0-3-3 1-5-2-2-4 0-2-3 6-2 3-3 0-2-5-3 2-2 8-1-7-8 5-4 0-3-3-1-5 3-1 6 5 3-2 3-9-1 3-8-1-1-3 3-2-2 0-4 2-2 6 2-2-7 7-7 4 3 9-1 1-3-2-4 2-2 4 0 1-2-3-3zM129 123l8-6 3 0 2 2 0 6-3 3-7-1zM222 115l3-2 2 3-3 2zM342 114l2-2 3 2-2 2zM328 112l7 5-4 5-3-1-3-5zM273 111l3 4 0 7 7 7-1 4 6 0-1 7 2 8-6 1 10 8-5 1-2 4-3-1-2 2 3 10-6 6-8 0-6-2-1 2 3 3-9 5-7-10-9 1-5-5 2-3 4-1-2-2-4 2-2-3 11-9-9-3-3-4 7-12 2 0 2 3 5-1-1-5 7-8 4-1 0 4 2 2 4-2 2-3-6-3 1-3-3 1-1-2 6-7 6 0zM145 110l4 2 0 2-3 3-3-2 0-3zM34 113l4-4 3 0 2 2 2-1 3 3 3-1 6 5 0 2-9 8-6-4 0-5-5 0-3-3zM48 109l2-2 2 2-2 2zM220 106l2 2 0 4-7 5-2-3 3-2 0-3zM100 106l2 2-2 4-2-2zM354 109l5-5 2 0 3 3-8 4zM353 102l2-2 3 2-2 2zM140 105l2 3-4 7-5 0-4-4 0-4-4 0 1 1-4 4 0 2 6 4 0 5-5 1-5 5 0 7-2 2-13-10-5-10 2-3 5 1 7-5 0-4-7-5 1-3 4 0 3 6 17-5 4 4zM84 101l0 4-4 4-7 0-2-2 0-2 3-3 6-3zM59 99l8 7 0 2-3 3-5-1-4-4 0-3zM234 96l8 5 0 7-3 0-2-2 0-4-5-4zM31 94l4 1 4 5 0 3-5 4-4-2 0-4-2-3zM152 88l3 1-1 5-4-2zM90 87l10 8 0 6-7 7 1 4-4 5 1 5-2 2 0 3 5 1 4 4-5 11 7 2 6 0 3-2 4 4 0 2-4 5-8 1-3-4-7 0-7 11-2 0-5-5-2 2-13 0-5 4-7-2-3-5 5-5-2-1-3 3-3 0-4-5 0-4 4-4 2 0 3 3 4-1-2-8 9-10 2 0 7 8 3-2-2-4-7-5-1-4 7-4 2 2 1 7 2 1 3-5 9-8 0-2 3-3-2-16zM131 87l1-1 1 2-1 1zM101 85l3 2 0 4-2 2-4-3 0-2zM249 83l3-1 1 3-3 1zM149 79l2 4-7 6-3 0-3-3 0-3 2-2zM303 80l2-2 2 2-2 2zM84 80l0 2-4 4-3 0-4-3 4-4 5-1zM359 77l3 0 2 2 0 5-2 2-3 0-2-2 0-5zM372 75l2 0 6 6-3 6-4 0-5-3 1-6zM241 77l2-2 4 0 2 2 0 3-4 2zM83 77l2-2 3 2-2 2zM51 75l7 1 3-3 4 0 2 2 2-1 1 2-2 3 3 3-1 8-5 1 0 3-2 2-4 0-4-4 4-3 0-3-3-1-4 2-2-2-1-8zM256 73l1-1 1 2-1 1zM71 73l4-2 2 3-4 2zM250 71l2-2 2 2-2 2zM175 70l3-3 3 0 2 2 0 2-4 3zM56 68l2-2 3 1-2 4zM147 73l7-8 5 0 6 7 4-1 3 4 6 1 8-4 11 4 23 0 3-4 5 0 5 5 1 7-8 7-5 9-9-2-2 1 2 8 3 4-3 1-6-9-9-8-2-7-8 5-11-6-3 0-2 2-2 0-2-3-7 2-7-5-1-6-4-1zM146 58l4 6-3 3 0 5-6 3-1-5 5-5-3-4zM131 57l2 0 3 3 0 4-3 3-3 0-3-3 1-4zM372 57l1 10-4 4-8 2-6-1-2-2 0-4 3-3 6-1 6-6zM146 56l1-1 1 2-1 1zM350 54l2 0 3 3-3 6-4-2zM62 55l-2 3-10 3-1 5-2 2-5-4 0-2 8-7 6-2 4 0zM34 53l7 4-6 8-3-3 0-7zM175 52l2 2 0 8-4 4-4 1-3-3 0-2 5-6 0-2zM168 49l2 2 0 3-10 5-1-3 5-7zM342 46l3 3 0 3-3 5-4 2-4-7 0-4zM130 48l1-2 3 1-2 2zM141 44l2 8-2 2-3 0-2-3zM172 46l2-4 6 3-4 3zM358 41l1 5 5 1 2 2 0 2-3 3-7-5 0-6zM188 47l6-6 13-1 10 4 7 7 0 9-5 5-6 3-15 1-8-6-3-6zM139 39l1-1 2 2-2 1zM47 38l5 4 0 6-4 4-2 0-4-6 0-3zM335 41l2-4 3 2-2 3zM234 55l3-3 2 0 3 2 5 0 2 2 9-3 4 3 7-4-3-2 0-2 3-1 0-8 3-3 3 3 2 6-3 3 5 1 3 5 6 2 3 3 1 5-3 3-2 0 0 6-7 6 4 5-6 6-1-6-5-3 0-4-4-3 4-4-1-3-2-1-4 6-6 0-2-2 0-4 5-4-1-2-2 2-7 1-6-3-1 9-9 0-3-4zM233 35l4 3 0 5-2 2-2 0-3-4zM57 35l9 1 0 4-5 6-3 0-3-3 0-6zM137 32l3 2-1 5-4-2 0-3zM350 31l2 4-5 6-2 0-3-3 0-2 4-5zM275 31l4-2 5 4 0 2-4 3zM240 28l9 5 1-3-3-3 2-2 4 0 3 6 3 2 3-1 2 2-1 12-4 4-4-1-3 3-4 0-3-7-8-7zM213 24l4 3 0 6-2 2-4-1-3-3 0-3zM234 21l3 1 2 4-6 6-2-2 0-7zM125 18l3 0 4 4-3 5-6-1-2-2 0-2zM134 20l3-3 5 0 2 2 0 5-2 2-5-1-3-3zM206 13l6 6-8 7-5-7 5-6zM346 13l1-1 2 2-2 1zM338 12l4 4 0 4-2 2-5 0 0 2 4 1 3 3 0 2-3 3-5-1-3 4-3-2 3 5 4 3-1 6-9-1-5-5-2-6-4 3-6-1-1 2 2 6 2-1 7 4 3 0 8 7 2 12 2 2 3 0 4-7 4 5 0 4 8 0 3 4-8 6 1 5-3 3-5 1-2-2-3 1-2-2-3 2 6 4 8 0 3 3-2 3-5 1 2 5-7 5-4-4 3-5-3-1-8 11-5 4-4 0-14-15 2-4-1-5-3-1-6 5-3-4-4-2 0-2 2-2 5 4 7-9 2 2 0 3 7 3 5 0 8 5 4 0 3-3 0-4-6-5 0-5-3 5-2 0-3-3 0-2 6-4-1-1-5 2-4 5-1-4-4-3 0-3-3-2 0 4-4 5 1 3-2 2-7-7-2-4 7-5-4-11 5-2 7 2 0-5-5-1-4-4 6-7 0-2-2-1-3 3-4 0-1-5 4-3-1-6 4-7 5 1 7-3 6 2 2 2-2 5 3 6 5-10 3 0 5 4 1-8zM42 29l6-7 3 0 4-4 7-2 2-2-3-3 2-2 4 4 8 1 2 2 4-5 3 0 4 4 0 2-6 5-4-2-2 4-1 7 5 8-2 3-6-1-4-5-1-8-7-1-4 3-3 0-5 8-5-4zM46 10l3-2 4 4-2 2-3 0zM58 7l2 2-2 3-2-2zM282 5l0 9 5 4 1 5-2 2-5 0-3 3-4 1-5-3-4 0-3-4 2-2 2 2 5-2 5 4-1-3 5-5-7-8 2-2 4 1zM311 6l3-3 6 0 4 6 0 3-6 3-6-6zM186 7l3 4 0 4-2 2 2 4 0 3-2 2 2 7-3 3-4-1-5-4-1 6-2 2-4 0-2-3-2 0-2 8-2 2-3 0-2-2-2-7-5 1-6-5 3-6-1-5 2-3 0-4-2-3 7-7 4 3 8-8 9 2 5 9zM0 0l1 15 2 0 5-7 9 0 2 2 0 5-8 7-6-2-5 2 0 6 8-4 3 5 0 4-4 4 4 1 6-6-5-7 2-3 9 6-4 4 6 1 6 6 1-3-2-3 4-5-6 0-3-3 2-3 3-1-2-3 2-12-9 1-2-2 1-5-3 0-2 3-8 1-3-4z"/>
<path fill="#db7f9e" d="M20 311l-1 5 3 0 0-3zM210 304l-2 1 0 7-2 4 4 0 1-2zM147 299l-4 2-9 9 3 4 4 0 3-2-3-5 7-7zM10 298h1v1h-1zM41 287h1v1h-1zM20 288l3 7-1 2 4-1 4 3 6-5 0-3-7-6-6 0zM0 277l0 7 3 0 3 3 2-1 2 2-6 8-4 0 0 20 8 0-6-7 1-6 8-9 0-8-2-2 1-3-2-3-5 2zM242 252l-4 2 3 1zM145 220h1v1h-1zM261 187l1 2 6-1 0-2-3-1zM264 178h1v1h-1zM422 177l0 2 2 1 0-2zM284 177l-1-1-4 4-6 0-5 3 3 2 1 3 2 0 1-4 4-3 3 0zM270 184h1v1h-1zM383 174h1v1h-1zM286 172l-1 3 2 1 1-2zM283 162l-1 3 3 2zM168 160l1 3 1-2zM164 160l-2 1 1 2zM176 156l0 2 3 1zM199 146h1v1h-1zM177 145l-5 3 0 4 6-4zM60 137l-2 3 3 2 1-3zM242 134l-1 1 6 5 0-3zM1 134l-1 7 3-2zM187 132l-1-1-1 2zM160 130h1v1h-1zM265 127l-3 0-1 3zM260 123h1v1h-1zM267 119h1v1h-1zM0 120l8 4 0 6 5-1 2-2 1-6-4-3zM408 117l-4 3 2 3 4-3zM209 87l3 2 2-1-1-2zM201 85l-2-1-1 2zM220 80l-1 2 2 1zM169 80l-3 3 2 0zM324 72l1 3 3-1-1-2zM420 62l-2 2 0 5-3 3-6 0-2 4 7 6 2 4 0 4-3 3 3 2 1 6 3 4-1 6 2 7 3 2 0-21-5-5 5-5 0-3-5-3 0-3 3-3 2 0 0-15zM416 59l-6 3-7-1 0 7 2 1 10-7zM0 48h1v1h-1zM404 41l-4 0-2 4 2 2 5-4zM166 33h1v1h-1zM423 31l-5 3 1 11-4 4-3 0-2-2-5 2-1 7 3 0 2-2 6 2 3-6 3 0 3 3 0-7-5-4 1-3 4-2zM171 28l1 2 1-1zM380 3l0 2 2 0zM400 0l2 5 5-4 5 5-3 4-2 0 0 4 7 3 3 3-5 5 1 3 11-6 0-6-6 1-2-2 2-4 6 1 0-6-4-1-3-3 0-2zM344 0h1v1h-1zM234 1l3 5 5-4 8-2zM131 0h1v1h-1zM111 9l5 0 4-8 7-1-14 0 1 5zM33 0l0 2 3 3 3 0 5 5 3 6-1 7-6 6 3 10-5 3 0 5-5 4-6-1-3-3 0-2-7 0-1 3 3 2 2 5-12 7-3 6-6-5 0 17 4 0 1-5 7-5 6 2 4-2 1 3-7 6-3 6 0 4 2 2 7-10 1-7 5-6 3 0 8 7 3-3 5 2 0 2-3 3-4-1-2 2 6 5 0 4 5 0 2 2 0 3-3 4-5 0-2-2 0-7-7-3-6 0 0 6-4 4-4 1-2 3 0 3 4-1 4 4-3 4 2 4-5 6 0 2 4 2 3-5-3-4 2-2 3 0 2 2-2 3 5 4 0 7 4 3 0 4-7 7-1 9 10 0 2 2-1 8-3 3-4 0-5-5-5 1-7-5-8 2-4-3-5 0 1 11 2 0 4-5 8 1 2-2 4 1 5 4 0 3-2 2-8-2 0 2 4 1 4 4 0 3-2 2-5 1-3-3-2 0-4 4-8-3 0 22 8 4 0 3-6 5-2 0 0 9 3 1 5 6 4-1 2 2 0 4-2 2-6-2-2 1 5 5 1 4-2 2-4 0-1 5-3 2 0 15 3-1 0-4 2-2 1-5 5 2 3-3 7-2-3-1-4-5 0-2 3-3 7 4 4 0 4 5 4 0 3 2 2-1 0-3 4-7 4 1 5 6 2-4 4-2 5 4 0 3-3 3-4 1 0 2 5 5 4-1 3 2 5-3 3-4 4 3 5 9 0 5 4 4-1 5-2 2-3 0-1 2 7 5 0 2-9 7-5-1-4-5-4 0-1-2 3-3 3 1 7-4-14-2-2-2 2-3 0-5-7-3-1 2 3 6 0 9 5 5 1 4-2 2-9-1-9 2-4-2-7 0-6 8 2 3 3 0 1 2-6 2-3 4 27 0-4-5 0-7 2-4 8 0 3 3 0 3-3 4 1 3-3 3 2 0 3-3 2 0 1 3 13 0-1-6 4-4 2 0 2 2 0 4 3 1 0-8 2-4 2 0 3 5 0 4-3 3 1 3 7 0-3-3 2-4 10-1 3 2 0 2-7 4 12 0-5-6 0-3 3-3 3 0 5 5 1 5 6 2 1-3-5-4-3-6-5 0-4-5 0-3 3-4 1-12 2-2 5 1 3 3 15 0 6 7 8 2 3 3 0 2-4 4-8 2 3 4 0 3-5 4-1 4 9 0 2-3 5 0 2 3 8 0 6-4-5-1-2-2-1-7 3-4-2 0-3-3 0-4-2-2-6 1-6-5 3-10 5-4-4-5 0-7-6-6-4-8-5 0-4 3 1 2 5 1 2 2 0 3-3 3-3 0-7-7-3 1-11-3-2-3 0-5-3 3-4 0-6-4-3 0-2 2 1 3-2 2-4 0-3-3 0-7 7-7 9-1-2-5-6 1-3-3 0-3 4-4 8 2 6-6 3 0 2 2 8-2 4 3 7 1 3-4 2 0 7 7 10-1 2 2-1 2 2 0 1-4-2-4 5-7 4 3 1 8-2 3 1 13-7 8-6-3-4 2 0 5 3 4 3 0 0-4 2-2 2 0 4 6 4-1 0-7 2 0 4 5 10 4 6 1 3-4 3 2-1 8-9 9-4 1-6-4-4 0-2 5-11 5 0 3 4 3 5-2 6 1 1-1-2-6 1-3 3-2 14 17-7 8-8 2-4 4 3 8 3 0 3 3 0 4-4 3 7 0 0-4-5-8 0-4 5-4 8-1-3-5 1-2 4 2 5-1 8 8 10-10 4 2 2 7 5 4-1 9-2 2-5 0-1 2 4 3 20 0 1-6-3-3-2 0-4 4-5-4 0-3 4-3 5 2 1-4 7-4-1-1-4 3-4 0-2-2 2-9-5 4-3 0-2-4 3-3 0-2-6-7-3-1-3 4-2 0-6-4 0-2 3-3 7 0 2-11 3-3-4-3 0-3-3-3 0-2 6-2 1 5 2 1 4-8 4 3 3 9 3 3 1 8 3-2-1-5 3-3 2 0 3-4 3 2 1-1-4-7 6 0 2-2 7 4 1 9 3 3 5 0 6 5-2 3-5 2-8-6-9 10-3 1-2 4-3-1-2-3 0-5-2-1-2 1 0 3-5 1-4 3 2 4-2 5 2 1 4-2 0 4 8 5 0 16 5 4 0 3 4 3 6 0 3-3 4 0 2-4 6-4 5 1 2 2 0 2-6 6 20 0-1-6-6 2-3-4 9-8-8-5 6-4 0-3-8-4 6-9-6 0-3 5-6-2-3-3 0-3 5-4 2 0 4 4 1-1-1-2-2 1-2-3 3-3 11-2-5-7 0-4-5-2-3 0-2 2-6 0-1-7-8-1 0-3 7-3 0-3-2-2-6 1-4 6-5 0-4-3 1-4-2-2-7 1-2-4 9-5-2-6 2-4 8 8 14 1 3 3 0 3 7 0 5-7 6 0 1-7 2-3-2-4 5-6 4 3-1 3 3 0 4 4 3 10-5 5-13-3 3 5-1 5 6 0 4 5 0 2-8 8-3-1-1 2 6 5 0 7 6 3 1 5-3 2-6-1-2 4 7 0 6 2 7-1 6 8-2 4 0 7-13 16-3-2 1-6-4 0-2 8 5 3 0 4 5 0 0-2 4-4 2 0 1 5 3 1-1-4-3-3 0-3 4-5 8 4-2 3-3 1 0 4 6 3 7 0 2-2 4 2 6 0-4-5 2-4 4 0 2 2 0 5-2 2 7 0-3-11 0-4 2-2 4 0 3 4-2 6 4 3-2 4 28 0 6-4-2-7 3-3 0-2 5-4 2 2 1 6-6 5 1 2 3 0 3-3 8-1 0-2-4-1-6-7 0-2 6-7-3-12 4-3 3 1 0-10-6 6-3 0-2-2 0-4-3-5-4-3 1-4 6-4-2-3-8 4 0 4 3 3 0 9-2 2-5-1-6-6 2-4 5 1-5-7 2-4-2-2-4 1-5-3-6 5 4 4-3 3 1 10 5 4 0 4 6 0 3 2 4-4 8 0 3 3-1 4 4 4 0 2-4 4-6 1-6 5 3 4-5 4-3 0-3-5 2-3-5-5-5 0-3-3-1-7 3-9-2-2-3 0-2-3-2 2 6 5-5 13 1 6-5 5-3 0-5-4 0-3 4-5-1-4 2-4-10 0-3-3-1-6 4-5-4-8 4-3-1-4-5 1-5 8-7-1 0 8-4 4 8 1 1-7 3-3 3 1 3 3-1 6-2 2-6 1 0 2 6-2 4 5-4 6-4 0-3-3-1-4-7 1-3-5-8 1-2-2 0-7-3-9-4-4 4-5 9 1 6 3 3 0 4-3 5 2 0-7 2-2 7-1 3 3 6-2-7-5 2-5 3-2 3 0 4 4-2 3 1 4 4 2 10-1 3 2 1-4 3-3 4-1 3-3 3 0 8-6 7 5-1 9 5 1 5 4-2 6 4 4 0-21-3 1-2-2 0-4 2-2 3 2 0-12-3 0-2-2 0-3 5-5 0-10-3 1 0 4-3 3-6-5-2-4-3 2-7-1 1 4 3 3 7-1 4 8-9 5-6 0-5 2-7-2-3 2-5 0-2 2 0 6-5 4-6-4 1-5-7-4-2 1-4 12-6 3-3 0-11-7-7 2-5-5 1-5 2-2 6 4 2 0 4-4 6 0 0-7-4-8 4-8 5 1 2 4 5 4-11 5 3 0 4 4 3-2 4 0 6 4 6-1-1-4-5-7 0-2 3-3-4-3 1-3-4-4 1-4 7 2 2-4-7 0-6-2-6 5-3-4 2-6 5-4 0-2-3 0-3-3 2-2 7 1 5-5 6 0-1-7-3-3 2-4 5 4 9 0 8 4 1-8 7 1 4 5-1 5 3 3-2 2-4-4-3 1 2 6-2 2-7-3-1 3 2 4-2 2-7-3-13-2 5 6 14-1 2 2 0 3 2 0 2-4 4 0 5 7-3 5 1 3 6 0 0-6 6-5 6-1 3 3 4-2 0-7-6 4-12-3-4 2-2-2 0-3 3-4 4 3 13 0 4-4 0-30-4 1-5-4-4 7 3 4 0 3-3 3-3 0-3-4 4-5-3-2-2 0-5 5-11 1-5 4-4 0-3-3 0-3 6-3 1-5-2 0-4-5 2-2 6 2 2-2 0-4-3-2-5 4-5 0 0 5-3 4-4 0-3-3 0-3-2-1-6 3 2 2 4 0 11 9-5 4-8 1-4 4-5-2-2 2-1 7-2 2-5 1-3-2 0-2 4-5-12-11-13 1-2-2 1-6 6-7 2 0 7 8 3 0 5-4 0-4 2-2 4-1 3 3 4 1-1-3 2-2 10 0 2-2 5 1 7-6 4-6 2 2 0 4 6 3 6-1 5-4 6 2-1-4 3-5-5 5-3 0-4-3-5 7-2 0-5-6 9-9 6 3 10-1 2-2-2-1-10 2-4-1-5-4 0 3-4 4-6 1-3-4-2 0-3 4-8 0-3-2 0-4 3-4 9 2 8-5 6 0 1-3-2-1-2 2-4-1-3 5-7-1-2-2 0-4 4-5 9 5 0-9 3-3 3-1 3 4 3-1 0-2-5-6-3-1 1 3-3 2-8-5 0-3 4-4 4 1 1-4 5-4-5-1-5-5-2 2 1 6-2 2-4 0-3-5 1-5-3 0-6-7-3 0-2-2 2-3-2-17 2-2 6 2 5-5 5-2-2-2-8 4-11-4-13 5-1-5 2-3-5 0 0 6-5 3-9-7 1-2-20 0 3 4 0 3-6 1-1 4-9 7-5-8 5-4 3 0-1-7-5 0 1 3-2 2-3-2 1-3-3 2-4-2-15 0 0 3 3 3 0 7-2 2-6 0-3-3-4 1-4-3-9 0 1 8-4 2-8-4 2-4 5 2 0-4-3-2-7-1-1 4-4 4-5-3-1-6 4-3 3 0 0-3-9 0-5 4-3-2 0-2-9 0 2 4-2 2-5-4 0-2-40 0-5 10-6-2 0 6-2 2-5-3-9 1-5 7-5 1 1 4 4-1 4 5 7 0 4 4 0 8-5 3 0 3 4 3-9 0-3 3 6 1 2 2 0 4-6 3-1 2 4-1 2 2-2 4 10-2 7 5-4 2 1 4-2 2-5-1-5 8 8 6-2 2-4-2-6 2-11-8-2-7-14-10 1-3 6-5 0-3-5 1-3-3-4 0-9-8-1 4 3 3 2-1 2 2 0 4 3 5 0 2-3 2-5-3-5 0-7-6 1-3-4-1-5-8 5-6 12 3 3-6 6-1-2-2 2-3 0-6-3-3 2-4 8-1 3-2 11 0-1-4-10 2-4-5 1-9 3-3 7 7 2-1-2-7-9 0-6 6-6 0-2-2 1-4-4 0-2 2-3-2-4 0-1 2 2 0 3 3-2 4-4 0-3-3-4 1-7-7zM399 303l4 2 0 5-3 3-4-4 0-3zM72 302l2 2 0 6-5 4-3-3 0-4 4-5zM278 304l0 3-2 2-9 1-2-2 1-3 6-4zM361 297l0 4-4 4-10 0-6-4 2-2 5 0 7-4 4 0zM380 294l4 3 2 4 0 4-4 3-3-2-1-10zM258 295h1v1h-1zM336 294l3-2 2 3-3 2zM386 292l2-1 1 2-2 1zM105 291l2 0 5 5 0 8-11-1-1-6zM223 281l2 2-2 3-2-2zM113 280l5 4 0 2-3 3-3 0-2-2 0-3zM202 279l3 2-2 4-4-2zM358 279l2 3-3 3-5-1 0 6-3 3-3 0-2-2 0-4 10-9zM263 289l2-2 5 0-1-4 6-8 7 4 4 5 7-1 3 3 0 6-2 5-3 3-4 1-8-1-8-8-5 1zM261 276l2-2 3 0 4 4 0 3-2 2-4 0-3-3zM135 275l3 0 2 3-3 2-2-2zM107 274l3 3-4 3 0 7-4 3-5-1-3-4 1-8 3-3zM275 272l1-1 1 2-1 1zM130 267l2 3-6 5-2-2 0-3zM112 270l2-4 4 2-3 4zM140 267l2-2 3 0 3 3 0 2-3 3-3 0-2-2zM388 265l2-2 2 1-1 3zM134 263h1v1h-1zM216 263l2-2 2 2-2 2zM149 262l3-1 1 3-2 1zM102 258l3 0 2 2 0 4-3 3-4-3 0-4zM122 256l2 4-3 2-1-4zM129 254l2 1 1 4-2 3-4-4zM94 254l2 2-2 3-2-2zM385 254l2-2 2 2-2 2zM209 251l3 0 4 5 0 2-4 3 0 22-4-3 0-2-3-3-3 0-3 3-4 0-2-2 1-7 2-2 6 0 4-5-1-7zM106 251l4 3-1 4-5-4zM222 250l3 2-2 4-2-2zM115 251l2-2 4 1-2 4zM64 255l4-6 3 0 4 3-2 3-3 0-3 3zM215 246l3-2 2 3-3 2zM185 245l2-2 3 3-3 2zM85 243l5 3 0 3-3 4-4-3 0-5zM70 243l3-2 3 1 2 3-5 3-3-3zM207 238l3 2 0 5-2 2-5-3 0-2zM215 239l4-2 2 4-2 1zM371 234h1v1h-1zM193 233l4 2 0 3-2 2-5-2 0-2zM336 232l3 3-2 6-4 3-4 0-3-3 1-3 5-6zM214 233l3-3 2 2-2 2zM181 227l7 5-1 5-4 3-3 0-3-3 0-5zM320 224l4 0 2 2 0 4-3 3-3 0-3-3 0-3zM239 224l4 0 2 2 1 8 5 2 4 4-2 3-5 0-6-5 0-2-4 0-3-3 0-5zM206 224l2 2-2 2 0 9-5 5-2-2 3-5-3-3 0-3 3-4zM19 228l3-1 4 5 2 0 2-7 3-2 7 7 6-5 2 2 0 3-2 2-2 9-5 5-4 0-7-4-4 0-6-4zM219 224l4-3 4 0 7 6-3 5-5 1-6-5zM201 223l-6 3-3 5-4-3 8-8zM399 219l4 2 0 2-3 3-3-2 0-3zM385 219l3 2 0 6-2 2-4-2 0-4zM40 219l3-3 4 2-2 4-2 0zM231 217l2-2 4 0 2 3-5 3zM405 215l6-1 3 3 0 2-6 3-3-4zM281 217l2-4 3 2-2 3zM96 212l3 4-2 2-2-2zM9 211l3 0 3 4 0 6-2 2-4 0-6-5 1-3zM50 208l3-1 3 4-4 1zM292 206l5 5 0 5-3 3-7-6zM217 207l4 1 3-2 3 3 0 4-3 4-3 0-5-4-1-4zM159 206l2 3-5 8-2-2 0-6 3-3zM173 208l4-3 5-1 10 9-1 9-3 0 0-2-4-3 0-3-2 2-4-1zM191 209l0-3 3-3 6 3-5 5zM246 204l1 5-2 2-8-1-2 3-5-2 2-3 2 0-1-3 2-2 9-1zM94 203l4-2 3 3 0 3-4 1-3-3zM59 203l4-2 9 7-5 4-4 0-4-6zM208 201l4-2 4 6-4 2-4-4zM358 200l2-2 3 2-2 2zM296 198l4 4-2 3-3-3zM188 199l1-1 1 2-1 1zM206 193l1 3-5 4 0-5zM105 195l2-2 2 1-1 3zM304 193l2-2 2 1-1 3zM219 191l4 1 5 4-3 6-5-4-3 1-2-2zM354 189l3-1 8 6-3 1zM238 188l6 7-10 5-6-7zM153 189l2-1 4 6 4 2 3 4-2 2-9-8zM9 186l3-3 5 0 4 4-3 3-6 0zM338 184l2-2 5 0 3 4-3 3-3 0-4-3zM218 184l2-2 2 2-2 2zM133 181l2 2 0 4-2 3 2 8 6 3 2 4-2 2-2-1-3 3-9-1-5 2-4-3 0-3-7-6 0-3 3-3 2-6 4-2 2 10 8 3 1-2-5-4-1-6zM136 182l2-3 5 0 4 4 4-2 1 5-2 1-3-2 1 6-3 3-2 0-2-4-5-4zM113 179l2 2-6 8-3 0-2-4zM169 178l1 2-4 6-2-3zM224 176l2 0 7 7 0 4-2 2-4-1-4-4-1-6zM214 176l3 3 0 3-10 10-2-4 4-3zM101 176l0 5-3 3-6-3-4 1-2-2 2-2 5 0 3-3zM158 177l0-3 2-2 4 2-4 4zM48 174l4-3 4 4-2 2-4 0zM118 170l5 0 3 3 0 8-2 2-5-1-2-2zM134 169l4 3 0 6-2 2-3 0-4-6zM141 168l2-1 5 6-5 3-2-2zM36 175l4 0 3 3 1 16 8-3 1-8 10-8-1-6 2-2 10 9 12 5 5 8 3-3 2 0 5 7-5 5-3 0-7 5 0 7 6 5 2 9-3 3-5 0 0 10-2 2-4 0-5-5 3-6-9 1 3 3 0 4-6 5-8-1-6-8 0-4 7-9 6 0 6-5 5 2 7-4-4-3 0-4-3 3-3-5-2 0-8-6-10 2-4 5 0 5-8 7-6 1-4-4-1 2 2 4-2 2-5 0-2-2 0-4-6-5-3-7 5-5 0-3 8-7 8-1 2-2-3-3 0-5zM29 167l2 4-4 2-1-3zM338 171l0-4 2-2 7 1-4 7-3 0zM97 168l-3 4-8 0-3 3-6-3 0-3 4-4 6 2 3-3 2 0zM313 163l5 3 10 2 4 5 4 1 4 4-5 6 3 6 0 16-3 4-8 0-6-4 0-10-3-4 0-4 3-3 9-2 2-3-2-2-6 0-3 3-6-1-3-4 2-4-3 1-2-2 1-5zM216 163l3 0 5 6 0 4-4 3-2 0-4-5zM320 158l2 3-3 3-2 0-2-3zM116 156l3 6-4 6 0 5-4 4-3 0-4-3-3-9 2-1 3 3 5 0 1-2-2-2 0-3 4-4zM410 155l4-2 3 4-4 3-3-3zM96 153l2 2 0 3-3 3-2 0-3-4zM353 147l4-2 5 5 0 2-5 3-3-3zM335 144l2 2-3 6 2 3 0 4-6 5-4 0 0-6 6-7 0-5zM323 144l2 9-4 4-2 0-2-2 1-7 3-4zM122 141l4 2 1 7-4 3-6-4 1-4zM416 136l3-2 2 4-2 1zM131 131l3 1 4 5 3 0 2 2 3 11-1 6-2 2-10 0-5-6 0-2 4-3 0-3-4-3 0-7zM47 129l3 3 0 2-6 5-2 0-2-4 4-6zM293 132l6-5 4 6-2 2-6 0zM173 121l3-1 2 2 3-1 2 2-2 2-6 1-2-2zM129 123l8-6 3 0 2 2 0 6-3 3-7-1zM173 117l3-3 5 0 2 2-1 3zM222 115l3-2 2 3-3 2zM342 114l2-2 3 2-2 2zM328 112l7 4 0 2-4 4-3-1-3-5zM197 110l6 7 0 2-3 3 4 5 3 0 3 3-1 8-6 8 8-1 2 3-8 5-2-1-4 5 5 0 2 2-2 2-6 1 3 4-2 4 3 4-4 3-12 2-5 9 3 3 0 2-5 1-3-2-1 1-4-5 3-9-4 0-2-3-4-2 2-3 3-1-9-6-3-4 0-5 2-2 4 2 1-2-10-8 3-10-2-7 5 0 5-5 6 3-2 5-5 3 1 9 2 1-1-6 8-7 5 3 2-2 0-5 6-4-2-3 8-4-4-3 0-2zM145 110l4 2 0 2-3 3-3-2 0-3zM166 110l2-1 1 2-1 1zM34 113l4-4 3 0 2 2 2-1 8 3 4 4 0 2-10 8-5-4 0-5-6 0-2-2zM172 109l4-2 4 3-2 2-4 0zM48 109l2-2 2 2-2 2zM220 106l2 2 0 4-7 5-2-3 3-2 0-4zM193 107l2-1 1 2-2 1zM189 107l2-1 1 2-2 1zM100 106l2 2-2 4-2-2zM354 109l5-5 2 0 3 3-8 4zM353 102l2-2 3 2-2 2zM140 105l2 3-4 7-5 0-4-4 0-4-4 0 1 1-4 4 0 2 6 4 0 5-6 2-4 4 0 7-2 2-13-10-2-6-3-3 2-4 5 1 7-6 0-2-7-5 1-4 4 0 3 6 17-5 4 4zM84 101l0 4-4 4-7 0-2-2 0-2 3-3 6-3zM59 99l8 7 0 2-3 3-5-1-4-4 0-3zM31 94l4 1 4 5 0 3-5 4-4-2 0-4-2-3zM281 95l2-2 2 2-2 2zM152 88l3 1-1 5-4-2zM233 89l3-2 6 3 2-3 2 2 0 5-3 2zM90 87l10 8 0 6-7 7 1 4-4 5 1 5-2 2 0 3 5 1 4 4-5 10 7 3 6 0 3-2 4 4 0 2-4 5-8 1-3-4-7 0-7 11-2 0-5-5-2 2-12 0-6 4-7-2-3-5 5-5-2-1-3 3-3 0-4-4 0-5 4-4 2 0 3 3 4-1-2-8 9-10 2 0 7 7 2 0-1-5-7-5-1-4 7-4 2 2 1 7 2 1 2-2 0-2 10-9 0-2 3-3-2-16zM131 88l1-2 2 1-2 2zM101 85l3 2 0 4-2 2-4-3 0-2zM249 83l3-1 1 3-3 1zM149 79l2 4-7 6-3 0-3-3 0-3 2-2zM303 80l2-2 2 2-2 2zM82 78l2 4-4 4-3 0-4-3 2-3zM359 77l3 0 2 2 0 5-2 2-3 0-2-2 0-5zM241 77l2-2 4 0 2 2 0 3-4 2zM83 77l2-2 3 2-2 2zM51 75l7 1 3-3 4 0 2 2 2-1 1 2-2 2 3 4-1 8-4 1-3 5-4 0-4-4 4-3 0-2-2-2-5 2-3-3 0-7zM256 73l1-1 1 2-1 1zM71 73l4-2 2 3-4 2zM250 71l2-2 2 2-2 2zM175 70l3-3 3 0 2 2 0 2-4 3zM150 68l4-3 6 0 6 7 3-1 3 4 6 1 8-4 11 4 23 0 3-4 5 0 6 7 0 7-3 3 2 5 6 4 3-1 2 2 0 6 0-3 3 0 1-4 3-3 3 4 0 2-5 3 0 4 3 4 3 0 2 4-4 4 0 5-2 2-3-3-2 0 3 3-2 3 1 4 5-7 4-1-2-4 6-7 0-6 2-3 2 1 0 4 6-1-3-2 1-3 2 0 1 3 8 0 3 3-2 3-3 1-1 6 5 5 1-3-3-3 0-3 7-4 5 0 8 9-2 2-8-1 0 4-7 4 1 1 3-2 2 2-1 6 5 5 7-3 2 2 0 10-4 0-2-6-4 1-4 4 1 2 6-1 0 4 7 5 0 2-4 3-9-6-1 4 7 7 1 9-5 5-6-3-2 2 2 4-3 3-6 1-2 4-5-1-2-2-10 0-11-13-6-1-6-6 0-7 8-9-1-1-3 4-2-2 1-2-8-6 1-2 4-1 0-5-5-8 1-7 1-1 4 4-2 3 5 4-1-9 3-3-3-1-2-3 11 0 4-4-1-1-4 3-2-2 1-4-3-4-8 0-2-2 2-4 3 0-5-5-6-1 4-5-2-1-4 4 0 3-2 2-9-2-2 1 2 8 3 4-3 1-6-9-9-8-2-7-9 5-3-3-7-3-7 2-2-3-4 2-7-2-3-3-1-6-5-2zM59 65l2 4-3 2-2-3zM131 57l2 0 3 3 0 4-3 3-3 0-3-3 1-4zM372 57l1 10-4 4-8 2-6-1-2-2 0-4 3-3 6-1 6-6zM147 55l2 2-1 4 2 3-3 3 0 5-6 3-2-2 1-3 5-5-3-5zM350 54l2 0 3 3 0 3-3 3-3 0-2-2zM34 53l4 1 3 3-6 8-3-3 0-7zM175 52l2 2 0 8-4 4-4 1-3-3 0-2 5-6 0-2zM62 55l-2 3-10 3-1 5-2 2-5-4 0-2 8-7 3 0 4-3zM168 49l2 2 0 3-10 5-1-3 5-7zM338 46l4 0 3 3 0 3-5 7-4-2-2-5 0-4zM130 48l1-2 3 1-2 2zM141 44l2 8-2 2-3 0-2-3zM172 46l2-4 6 3-4 3zM357 41l2 1 1 5 4 0 2 2 0 2-3 3-7-4-1-6zM188 47l6-6 13-1 10 4 7 7 0 9-5 5-6 3-15 1-8-6-3-6zM139 39l1-1 2 2-2 1zM47 38l5 4 0 6-4 4-2 0-4-6 0-3zM335 41l2-4 3 2-2 3zM234 55l3-3 2 0 3 2 5 0 2 2 9-3 4 3 7-4-3-2 0-2 3-1-1-6 1-3 3-2 4 4 1 4-2 5 4 0 3 5 6 2 3 3 1 5-3 3-2 0 0 6-7 6 4 5-6 6-1-6-5-3 0-4-4-3 4-4-1-3-2-1-4 6-6 0-2-2 0-4 5-4-1-2-2 2-7 1-6-3 0 9-10 0-3-4zM233 35l4 3 0 5-2 2-2 0-3-4zM57 35l9 1 0 4-5 6-3 0-3-3 0-6zM137 32l3 2-1 5-4-2 0-3zM350 31l2 4-5 6-2 0-3-3 0-2 4-5zM275 31l4-2 5 4 0 2-4 3zM240 28l9 5 1-2-3-4 2-2 4 0 3 6 6 1 2 2-1 12-4 4-4-1-3 3-4 0-3-7-8-7zM213 24l4 3 1 6-2 2-3 0-5-4 0-3zM235 21l4 3 0 3-6 5-2-2 0-7zM125 18l3 0 4 4-3 5-6-1-2-2 0-2zM134 20l3-3 5 0 2 2 0 5-2 2-3 0-5-4zM206 13l6 6-8 7-5-7 5-6zM345 14l2-2 2 2-2 2zM338 12l4 4 0 4-2 2-5 0 0 2 6 2 1 4-3 3-5-1-3 4-3-2 3 5 4 3-1 6-9-1-5-5-2-6-3 3-7-1-1 2 2 5 6 1 13 8 2 4 1 9 2 3 3 0 4-7 4 5 0 4 8 0 3 4-8 6 1 6-2 2-6 1-5-1-2-2-3 2 6 4 8 0 3 3-2 3-5 1 2 5-4 4-4 1-3-3 0-2 3-3-1-2-2 0-3 6-10 9-4 0-14-15 2-4-1-5-3-1-6 5-3-4-4-2 0-2 2-2 5 4 7-9 2 2 0 3 7 3 5 0 8 5 4 0 3-3 0-4-6-5 0-5-3 5-2 0-3-3 0-2 6-4-1-1-5 2-4 5-1-4-4-3 0-3-3-2 0 5-4 4 1 3-2 2-7-7-2-4 7-5-4-11 5-2 7 2-1-6-4 0-4-4 6-7 0-2-2-1-6 4-2-2 0-4 4-3-1-7 4-6 4 1 7-3 7 2 2 2-2 5 3 6 3-4 0-5 2-2 2 0 6 5 1-8 3-3zM42 29l6-7 3 0 4-4 7-2 2-2-3-3 2-2 5 4 4 0 5 3 4-5 3 0 4 3 0 3-5 5-6 0-2 8 5 9-2 3-6-1-2-2-4-11-6-1-4 3-3 0-5 8-5-4zM46 10l3-2 4 4-2 2-3 0zM58 7l2 2-2 3-2-2zM282 5l0 9 5 4 1 5-2 2-5 0-3 3-4 1-5-3-4 0-3-4 2-2 2 2 5-2 5 4-1-3 5-5-7-8 2-2 4 1zM311 6l3-3 6 0 4 6 0 3-6 3-6-6zM186 7l3 4 0 4-2 2 2 4-2 6 2 6-3 3-4-1-5-4-1 6-2 2-4 0-2-3-2 0-2 8-2 2-3 0-2-2-2-7-5 1-6-5 2-4 0-7 2-3-2-7 7-7 4 3 8-8 4 0 8 5 2 6 4-4zM0 0l1 15 2 0 5-7 9-1 2 2 0 6-8 7-6-2-5 2 0 6 8-4 3 4 0 5-4 3 4 2 6-6-5-7 2-3 9 6-4 4 6 1 6 6 1-2-2-4 3-3 0-2-5 0-3-3 2-3 3-1-3-4 3-11-9 1-3-4 2-3-3 0-2 3-8 1-3-4z"/>
<path fill="#be7c9a" d="M183 316h1v1h-1zM102 316h1v1h-1zM373 315l4 1-2-2zM117 314l-2-2-2 3-5 1 8 0zM20 311l-1 4 2 1 1-3zM362 310l-2 6 5 0 0-3zM88 309l-1 3 3 1 0-3zM64 309l-3 1 1 3 2-1zM405 308l-2 0 0 5 3-2zM250 310l-2-2-3 0-3 5-3-4-2 0-3 5-3-3-5 0-1 2 4 3 20 0zM210 304l-2 2 0 6-2 4 4 0 1-2zM35 305l-2-1-1 3 2 0zM123 302l-1 4 5 7 4 2 1-2-5-3 0-3zM361 301l-1 4 3 1 0-4zM313 300l-1 2 2 1 1-2zM146 300l-3 1-8 9 2 4 4 0 3-2-3-5zM409 310l3 1 2-4 6 1 4-2-5-2-2-4-3-1 1 5zM179 298l-1 1 2 4 7 5 0-2zM10 298h1v1h-1zM256 296l0 10 10 10 4 0 6-5-1-2-8 1-2-2 0-3-6-6 0-2zM252 295l-3 1 1 1zM10 292l-2 0-4 4-4 0 0 20 8 0-6-6 0-8 8-8zM167 290l-6 1 1 4-6 5 2 4-2 2-2-1-5 7 1 4 6 0 2-3 5 0 3 3 6 0 2-3 4-1-4-1-3-6-4-2 0-9 2-2zM194 288l-2 1-1 4-4 3 1 1 3-2 5 1 2-2zM244 287l-2 0-5 5-6 0-2 4 5 4 8 0 0-7zM365 297l0 2 4 0 5 5-3 3 0 2 7 2 2 2 0 3 18 0 0-3-6-4 2-3 4-2 0-2-5 0-2-2-1-4 2-3-2-1-3 2 0-6-5 0-3-3-2 0-3 3 0 3-5 5zM378 296l3-2 5 8 6 3-7 2-3 3-4-5zM20 288l3 7-1 2 3-2 5 3 6-4 0-2-8-7-5 0zM0 278l0 6 3 0 2 2 4-2-1-5-5 1zM347 270l-3 1 2 1zM329 270l-2 4 5 6-2 8 5 6 0 2-8 0-9 13-3 1-3-2-1 2 3 2 0 4 5 0 2-7 8-10 3 0 1 3 4 3-2 3-3 1 2 4 3 0 2 3 5 0 3-3 4 3 5 0-4-6 1-4-10-2-3-4 2-2 3 1 12-5 4 1-2-6 5-5-2-4 4-5-9 0-1 3 4 3-2 3 0 4-1 1-4-5 0 5-5 5-2 0-2-2 0-5 3-3 0-2-7 0 0-6-6-1-2-4zM338 292l3 2-2 4-3-3zM248 270l-6 3 2 4-2 5 2 1 3-3 2 2 0 4 3 2 0-16zM175 270l-3 0-6 4 0 3 3 3 8-3 0-5zM59 271l4 12-1 4 6 4 3-3 8-2-3-2-8 0-3-3 2-3 0-5-6-3zM380 268l-2 1-2 6 1 4 3-4zM252 265l-1 1 3 2 1-1zM388 270l8 4 8-6-7-4-3 0zM373 264l-1 2 2 1 1-1zM408 258l-2 1 0 4 2 6 4 4-1 5 3 3 0 2-4 4-6 1-4 3-1 3 4 3 0 7 2 0 2-4 4-3 0-5 2-2 6-1-2-4 0-9 4-3 3 1 0-10-4 5-5 1-2-2 0-4zM339 254l-2 1 1 7-4 5 6 0 2-2 1-8zM58 254l0 2 6 4 0-4-2-2zM242 253l-2-1-2 2 3 1zM160 250h1v1h-1zM420 246l1 2 1-1zM355 246l-5 1-2 5 0 5 4 4-1 6-2 2 3 5 0-8 4-5-5-5 1-3 4-3zM413 247l-4-2-6 5 0 3 2 1zM395 244l-14 3 3 4-3 3 1 10 2 2 2 0 4-4 1-5 6-4-2-3 2-4zM385 254l3-2 2 3-3 2zM275 244l-1 4 2 6 2 2 5 0 6 6-5 4-5-1-4-4-4 1-3 6-5 4 7 5 0 4-2 2-4 0-3-3-2 0-1 5 3 3-2 4 8 7 1 4 4-2 5 1 2 2-1 5 2 0 4-5 3 2 7 1 1 2-6 4 1 3 16 0 0-5-6 1-5-5 10-6 0-2-7-4 1-2 3 0 2-2-1-4-6 0-1 8-8 8-2 0-3-3-4 0-8-8-5 1-4-4 2-2 5 0 0-4 6-8 7 4 4 5 6-2 4 2 4-6 0-3-4 0-1 4-3 2-9-7 0-2 10-8 3 0 2-2 5 1 0-5-8-9-2 0-3 3-3 0-4-2 0-6zM274 273l1-3 3 2-2 2zM313 242l-5 5-3-1-1 2 6 5 0 6 4 0 5 9-2 2-8 0-2 3 13 1 1-12-3-9-4-4 3-5zM62 242l0 2 4 4 3-2-2-3zM158 258l-10-13-4 0-4 3 1 2 5 1 2 2 0 3-3 3-4 0-4-5-4 1-3-3-8-1-4 3-3-3 4-2 0-7-3 3-4 0-6-4-3 0-1 2 4 3-1 2-4-1-3 2-7 1-5 5-3-2 0-8-3-1-2 2-2 8-2 2-5 0-1 4 3 1 4-2 3-4 4 3 5 7 0 7 4 4 0 5-2 2-4 0-1 2 2 2 4 0 2 2 0 3-10 7-5-1-4-5-2 0 0 2-5 4-7-2-11 2-4-2-7 0 0 6 2 5 4 3 0 2-3 3-4-3-6 3 24 0 0-2-3-3 0-9 3-3 9 2 5-1 6 4 1 4-2 4-5 4 12 0-1-6 3-6 3-2 3 3 2 0 2-5 2 0 3 3 1 5 3-1 2 2 7 0 8-6-2-10 3-3 0-11 3-3 2-6 3-3 2 0 7-8 3 1 1 4-2 2-3 0-2 4 7 8-3 2-5-7-2 0-4 5 4 3 9 1 6-2 6 8 4 0-2-6 4-4 0-4 6-3-4-5 1-3zM113 280l5 4 0 2-4 4-4-3 0-3zM142 265l4 0 2 2 0 4-3 3-5-3 0-4zM87 262l2-2 4 2-2 2zM148 261l3-2 3 4-4 2zM102 258l3 0 2 2 0 4-3 3-5-4 0-2zM130 254l2 2 0 4-3 2-4-4-2 9-13 12-4 1 0 11 6 5 1 7-7 0-3 2-3-3 2-10-5-3-3-4 1-9 5-3 11 1 2-2-1-4 2-2 3 0-4-5 5 0 1-5 2-2zM91 257l3-3 3 2-2 3zM104 252l3-2 5 6-4 2-4-4zM74 236l-2 4 2 2 3 0 2-3-2-3zM5 234l-1 2 3 1 0-2zM281 233l-7 0-3 6 8 0 3-3zM78 229l-3-1-1 4 2 0zM323 222l-2-1-2 3 3 0zM144 221l1 2 1-1zM166 219l-2 2 1 1zM2 217l-2 0 0 4 2-1zM424 215l-3 3-4-2-7 7 0 3 3 2 0 8 2 2 9 0 0-6-4 0-5-5 2-6 3-3 4 4zM401 216l-2-2-6 1-2-2-10 2-2 2-1 6-4 4-2 0-5-4 0-5-7-4-1 5-3 3-1 5-2 2-7 1-4-3-5 2-4-3-5 0-5 7-5 1-4-2 3-6-12-4-1 1 3 4 0 5 5 0 5 7 4-1 2 2 0 4 12 4 3-3 5 0 2-5-5-4-5 8-8 0-2-3 7-9 4 0 3-2 1 4 7-1 4 5 3-2 2 3 2 0 1-3-3-3 3-8 4 0 6 5-3 3 1 4 16 1 5-5 11-6-2-6 4-3zM373 232l2 2-2 3-2-2zM385 219l3 2 0 6-2 2-2 0-3-3zM229 213l-3 3 0 4 5 3 3 0-3-6 4-3zM175 212l-2 0 1 7-2 2 0 15-5 6-3 0-4-3-4 2 0 3 3 2 3 0 3-3 3 1 3 6 4-2-2-4 0-7 4-3 1-6 3-2 7 6 1-1-2-10-4-4-5-1zM409 211l-1 3 3 0 1-2zM164 208l-6 5 2 2 3 0 2-2zM228 197l-2 5 2 4 3 2 1-11zM400 195l4 5 7-1 5 10 3 0 5-6 0-8-3 1 0 3-3 3-6-5-2-4-4 3zM220 189l5 5 2 0 4-4-6-3-3 0zM261 187l1 2 6-1 0-2-3-1zM337 183l-2 1 0 2 3 4 0 16-3 4-5 0 0 5 2 2 2 0 4-4 6 0-3-9 1-4-2-2 1-9zM116 181l-2 4 6-1 3 10 7 3 0-2-5-5 0-5 5-4-2-1-2 3zM82 212l-4-4-2 0-2-4-3 0-7-6-9 0-5 4-1 7-5 5-9 3-3-3 0 5-2 2-5 0-9-14-5-3 7-6-6-5 0-3-3-3 0-2-5-5-4-1 1 12 8 5-2 2-4-1-3 2 0 2 8 4 0 3-4 4 3 1 2-2 4 0 2 2 0 8-3 3-6 0 1 4 5 0 2 2 0 4-4 6 0 4-2 2-4 0-1 5-3 2 0 15 3-1-1-4 4-8 6 2 6-4-4-5 0-3 3-3 7 4 3-1 5 6 4 0 3 2 2-1 0-3 4-7 4 0 5 5 2-2 1-6-5-6 0-5 7-9 5 0 7-5 5 2 5-2zM18 229l2-2 4 0 4 4 4-8 2 0 6 6 5-4 3 2-3 12-5 7-5 0-3-2-2 1-10-5-3-3zM40 219l3-3 2 0 3 4-2 2-4 0zM50 208l4-1 2 4-4 1zM73 208l-2 3-5 1-7 6-4-1 5-6 0-4-2-3 3-3 8 3zM264 178h1v1h-1zM422 177l0 2 2 1 0-2zM371 177l-2-1-5 3 5 2zM284 177l-1-1-4 4-6 0-5 3 3 2 1 3 2 0 1-4 4-3 3 0zM270 184h1v1h-1zM151 196l-8-1-2-2 0-3-6-3-2 3 2 5 10 6 0 5-6 6-7-4-5 0-3 3-2 0-4-4 0-3-5-3-3-4-5 1-2-2 1-4 10 0-1-5-6 3-3-2 0-3 8-5-1-3-8-1-5 8-4-2-6 1 3 6 4-4 6 6 0 2-4 5-3 0-7 5-1 6 6 4 2 12-2 2-6 1-1 13 2 2 5 1 0-7 2-2 2 0 4-4 8-2-2-3-3 1-5-4-4-7 0-3 2-2 3 5 4-1 5 3 2 0 1-3 5-3 3 0 2 2 8-2 8 4 3 0 3-4 3 0 3 5 5 2 1-2-2-8 2-2 0-5zM105 212l1-3 3 2-2 2zM94 203l4-2 4 4 0 2-4 2-4-4zM383 174h1v1h-1zM286 172l-1 3 2 1 1-2zM17 168h1v1h-1zM283 162l-1 3 3 2zM168 160l1 3 1-2zM164 160l-2 1 1 2zM176 156l0 2 3 1zM0 155l1 10 2 0 4-4 15 0-2-4-6-1-5 2-4-3zM368 163l0 2 3 3 15 0 3 5 4-5 4 1 3 3 1 4-3 6 6 2 2-1-1-6 5-4 7-1 4 3 3-3 0-4-4 2-9 0-5-2-4 1-2-2 0-11-3-3 0 8-3 2-6-4-1 3 2 4-2 2-7-3-5 1-4-3zM10 181l3 2 5 0 4 3 1-5 4-1 4 7 4 0 2-2-5-8 4-3 3 0 4 4 2 16 4-1 3-3-1-5 11-9 0-7 2-2 10 9 12 4 2-2 5 0 3-3 5-1 2-2-2-4 0-3 2-2 4 4 5-2-3-3 0-2 3-3-1-1-7 2-5-3-1 4-5 3 4 7-3 3-4 0-3 3-10-1-5-7 6 0 2-2 6 2 4-4 0-6 5-4-1-2-3 0-5 9-4 3-5-5-14 1-5 4-8-1 0 4-2 1-1-11 5-4-2-2-8 8 0 8-3 4-4-1-6-5-1 2 4 3-2 4-3 0-2-3-4 0 0 2 3 3-1 5-7 1-4-3zM48 175l3-4 6 3-3 3-4 0zM199 146h1v1h-1zM177 145l-5 3 0 4 6-4zM362 139l-4 4 0 3 2 2 4 0 2 6 3 1 1-4-4-6 0-4zM43 140l-7-2-5 6-1 7 10 1 0-4-3-1-2-3 5 0zM60 137l-2 3 3 2 1-3zM322 135l-1 5 4 0 2 2 0 2-3 3 3 4 3 0 2-2 0-4 2-2 4 4-2 2 0 10-6 5-4 0 0-6-2-1-1 4-4 3 0 2 7 0 14 12 0 4 4-1 3 2 1 4-2 2 5 2 1 5 6-2 5 5-2 3-4-2-5 5 0 2 7-1 6 4 5 0 1-2-6-10-6-3-3-4-4-1 0-3 3-2 5 5 7 4 1-1-4-3 1-3-4-4-2-6-2-1-5 4-4-5 5-7-1-5-3-4 4-3 7 2 2-3-5 0-3-3-2-10-3 2-1 7-2 2-6 1-2-2 2-9-3-3-4-1-3-5zM330 167l2-2 2 1-1 2zM340 163l5 1 3 3-3 3 0 7-8-6 0-5zM242 134l-1 1 6 5 0-3zM0 134l0 4 2 1 1-2zM187 132l-1-1-1 2zM160 130h1v1h-1zM265 127l-3 0-1 3zM424 129l-4 1-5-4-1 1 1 1-2 4 7 2 2 2 0 3-3 4-3-6-5 6-3 0-3-4 2-4-2-3-6 5-6 2 1 2 4 1 4 5-1 4 4 4-1 4 3 4 12 0 3-3 2-6zM413 152l4 3 0 2-3 3-4-3 0-2zM411 150l2-2 1 1-1 2zM416 146l2-3 2 1-2 3zM260 123h1v1h-1zM356 124l2 2 4 0 11 8 0 2-5 3 5 6 9 0 4 3 3 0-2-8-4 2-5 0-3-3 0-2 6-4-2-3 4-1-6-5-1-5-2 1 0 3 3 3-2 2-8 0-8-5zM267 119h1v1h-1zM408 118l-4 2 2 3 3-3zM0 120l8 4 0 6 5-1 2-2 0-6-3-3zM380 119l3 3 4-1 0-3-2-2zM24 116l-4 4 1 3 4 0 1-5zM215 112h1v1h-1zM127 109l-3 1-2 4 2 2 3 0 2 2 0 3 4-4 0-2zM357 113l4 2 2-2 8-1-3-3-5-1-4 2zM377 105l-3 0-2 2 0 3 3 1 3-4zM397 105l-3-1 0 2-3 3-2 0-3-3-2 2 2 2 6 1 5-3zM408 100l-5 5 2 4 0-4zM386 97l-7 1-4-3-3 3-8 0 0 2-2 2-2-1-1 2 8 2 6-6 6 0 5 2zM409 94l-5-1-3 2-5 0 3 2 9-1zM301 93l-2 1 0 4 3-1zM99 92l-1 1 2 1 1-1zM228 91l-2 1 0 3 3-2zM67 91l-6 6 0 4 3 2 0-2 4-3zM390 90l1 4 1-3zM336 91l1 2 4-1-2-2zM332 89h1v1h-1zM211 86l-1 1 2 1 1-1zM19 99l-1 3 4 0 4 4-3 4 1 2 5 0 2 2-2 4 5 4 0 7 4 1 2 2 0 3 4-6 3 0 3 3 0 2-3 3 0 4 2 2 4-2-2-3 0-4 9-10 2 0 7 7 2 0 0-3-9-8 1-6-3 2-2-2 3-3-4-3-3 0-2 3 5 6 0 2-8 8-4-1-3-3-1-5-4 1-3-3 0-3 5-5 8 0 0-2-5-3-3 0-5 5-4-2 0-5-2-3 2-4 6 1 4 4 3 0-2-3 0-5-3-3-8-2-2 7zM200 85h1v1h-1zM130 82l-5 8 6 3 4 0 4-3 0-2-4-1-3 2-2-2 4-3zM388 82l-8 0-1 3 7 1zM39 79l5 6-1 2 8 4-2 13 5 0 3-5-4-4 2-7 3 2 1-3-3-2-2 4-5-5-1-7-2 0-3 3zM21 77l-4 1-4 7 0 4 2 2 7-10zM147 77l-3-2-4 3 0 2 5 0zM326 74h1v1h-1zM287 73l-6 6 6 4 4 5 2 0 4-4 0-3-2-2-3 0-2-2 0-3zM356 73l1 3 3 0 2-2-2-2zM303 68l-1 4-4 4 4 5 0 4 7 4 4-1 9 6 3-1 2-6-5-5 1-4-2 0-2 4-2 0-3-3 0-3 6-3-3-1-8 8 0-5-4-2 0-4zM302 80l3-3 3 2-3 3zM128 68l-2-1-3 4 4-1zM269 66l-2 3 1 3 4-2 0-2zM419 65l-1 4-3 3-4 0-3 3 0 3 4 1 3 4 1 7-2 2 6 13-1 6 2 7 3 2 0-20-5-6 4-6-4-5 0-8 5-5 0-5zM119 65h1v1h-1zM381 65l-5-3-3 1-1 6-8 5 0 11-2 2-6-3 0-6-7 2-1 8-4 4 3 2 3-3 2 2 0 5-2 2-3-2-2 3-4 0-1 2 4 3-7 5-3 0-3-3 2-6-2-1-3 6-10 9 0 4 6 0 2-2-1-3 3-3 2 0 5 4-4 11 3 1 5-4 0-4 4-3-1-4 2-2 3 3 0 5 4 2 0-10 4-5-2-4 8-5-2-3-3 0-2-4 2-1 4 3 4-4 9 2 2-3-5-1-2-2 0-4 3-5 4 0 4 5 2 0 1-3-3-8zM413 61l-10 1 0 6 2 1 1-2 3 0 4-4zM386 61l1 6 5 4 1-3zM260 61l-8 2-5-2-2 3 2 3-1 2-4 2-6-2-3 3 4 6 0 5-6 6 2 5 6 4 3-1 2 2 0 6 0-3 3 0 1-4 3-3 3 4 0 2-5 3 0 4 3 4 3 0 2 4-4 4 0 5-2 2-3-3-2 0 3 3-2 6 1 1 5-7 4-1-2-4 6-7 1-8 3 0 0 4 5 0 1-1-3-2 0-2 3-1 1 3 8 0 3 3-2 3-3 1-1 6 5 5 1-3-3-3 0-3 7-4 5 0 8 9-2 2-8-1 0 4-7 4 1 1 3-2 2 2-1 6 5 5 7-3 2 2-1 6 2 2-1 2-4 0-1-5-2-1-7 5 1 2 6-1 0 4 4 4 2 0 1 3-4 3-9-6-1 4 7 7 1 9-5 5-6-3-2 2 2 4-3 3-6 1-2 4-5-1-2-2-10 0-11-13-6-1-7-5 1-8 8-9-1-1-3 4-2-2 1-2-8-6 1-2 4-1 0-5-5-8 1-7 1-1 4 4-2 3 5 4-1-9 3-3-3-1-2-3 11 0 4-4-1-1-4 3-2-2 1-4-3-4-8 0-2-4 2-2 3 0-5-5-7-1-2 4-4-2-7 2 4 8 3-3 3 0 2 2 0 3 4 3-3 15-2 2-2-2 0-3 2-2 1-6-2-2-7 2-21-22 3-3-1-4-6 4-14-2 1 3-2 2-3 0-3-3 0-4-2-2-6 2-7-6-1-6-3 1 2 6-16 13 1 5 7 4-3 6 1 2 4-4 5 1-1 6-2 2-5 0 0 4 3 3 0 2 4 2-2 3-3-1-2 3-4 0 6 3 1 6 4 5 0 6-3 4-14 0-2-2-2-7 4-3-1-4-4 1 0 6-4 3-2 0-4-4 4-8 5-1 2-2 0-4 3-4-1-4-8-1-5 6 1 6-2 2-8-8-2 0-3-3-5-11 2-2 5 1 5-3 2-5-8-6-4 0-6 5 0 6-3 5 1 4-3 4 1 2 3-1 5 5 0 3-5 6 1 2 11 2 4-3 7 5 0 7 4 5-2 4 0 5 2 2 7 0 3 2 5-4 3 0 0 8 2 1 1-5-2-4 4-3 5 4-1 7 5 6 1 5 5 4 3 5 2 0 5 7 5 1 12-2 5-5 2 3-4 3 1 2 6-3 6 4-3 4-3 1 0 3-3 4 1 5 3-3 5 3-7 4 0 4 4 3 0 3-3 3-5 1-4-2-8 0-1 3 4 5 3 0 0-3 3-1 3 3-4 3 10 3 1-2-4-6 5-1 3-6-3-6 4-6 5-2 3 1-4 4 2 8 9-6 3 2-10 7 0 6-2 2-5-3 1-4-3 2-1 6 2 2 1 5-11 12-4 1-6-4-5 1 2 3 4-1 9 9 2-7 2-2 5 0 3-4 1-9 4-4 3 1 5 7 3-1 1-6 3-1 2 2 0 3-4 3 0 3-4 4-4-3-1 1 0 8-2 4 6 1-4 5 1 6-1 1-8-12-5 1 0 2 3 0 2 4-5 3-1 3 6 0 7 8 3-1 1-4 4-3 1-8 5-2 6 5 3 0 2-2-8-9-4 5-9-4 0-2 4-4 7 0 2-11 3-3-5-3 0-3-9-7-2 0-2-3 5-1 6 5 2 0 4-5 3 2-1 7 2 0 2-9-4-7-6 6-3-2-6-10 2-8-12-13 0-3 3-2 8 10 2 0 3-3 0-3-2-2-6 0-2-2 4-4 0-11 5-1-1-5-6-2-1 1 2 6-5 5-3 9-6 5-4-3 2-4-1-3 10-10-1-11 5-3 0-3 2-2 0-3-2-2 4-4 4 3-1 3 4 12 4 3-2 4 7 5 5-2 8 10-2 3 1 2-6 1-1 3 7 0 0 5 6 2-2 3-12 2 0 3 4 5-1 3 4 3 0 4 2 2 6 1 2 5 0 4-4 3-8 0 2 6 4 4 0 7 3-2-1-5 6-5 1-8 2-2 6 0-5-3 1-5-2-2-6 2-3-3 0-2 3-3 6-2 0-3-4-3-2-6 1-3 7 1 3 3-1 5 4 4 3 0 0-4 2-2-2-6 2-2 3 2 1 3 10-2 5-5-2 0-1-2 8-6 5 5 0 6-5 4 0 6-2 2-3 0-4-3 0 5-2 2-1-3-4-2-7 1 2 2 9 1 0 5 6 0 6-7 6 0 1-7 2-3-3-3 6-8 4 2 0 4 6 5 3 8 2-1 2-6-5-5 0-10-3-4 0-4 3-3 9-2 0-4-6-1-3 3-8-2-1 3 3 4-6 0-2 2 2 4-1 3-3 0-2-2 1-6-3 4-2-1 0-2 4-3 2-11 4-4 0-9 5 0 2-2 1-23-4-3 0-9 2-3-1-4-7-7-5-1-2-4-6-6-3 0-3-4-3 0-2 2-2-2 0-3 3-5-1-1-3 6-3 0-2-2 1-5-3 1 2 3-1 2-4-2-4 1-2-2 1-3-2-2 1-3-2-3 3-4-1-1-4 0-3 4-2-2-3 1 3 10-4 3-12-10 3-6 5 2 4-7 2 0 3 3 1-4 4-4zM217 244l3 2-2 4-3-2zM212 213l4 3-2 4-2 0-3-3zM249 212l3 6-4 4-4-2-1-3zM212 208l1 3-2 2-2-3zM169 178l1 2-4 6-2-3zM158 177l0-3 2-2 4 2-4 4zM225 166l2-2 2 2-2 2zM293 132l6-5 4 6-2 2-6 0zM173 121l3-1 2 2 3-1 2 2-2 2-6 1-2-2zM173 117l3-3 5 0 2 2-1 3zM153 112h1v1h-1zM197 110l6 7 0 2-3 3 4 5 3 0 3 3-1 8-6 8 8-1 2 3-8 5-2-1-4 5 5 0 2 2-2 2-6 1 3 4-2 4 3 4-4 3-12 2-5 9 3 3 0 2-5 1-3-2-1 1-4-5 3-9-4 0-2-3-4-2 2-3 3-1-9-6-3-4 0-5 2-2 4 2 1-2-10-8 3-10-2-7 5 0 5-5 6 3-2 5-5 3 1 9 2 1-1-6 8-7 5 3 2-2 0-5 6-4-2-3 8-4-4-3 0-2zM166 110l2-1 1 2-1 1zM172 109l4-2 4 3-2 2-4 0zM193 107l2-1 1 2-2 1zM189 107l2-1 1 2-2 1zM100 106l2 2-2 4-2-2zM159 101l2 5-6 3-3-3 5-5zM233 89l3-2 6 3 2-3 2 2 0 5-3 2zM153 87l4 4-2 4-3 0-2-2 0-3zM88 58l-2 3 4 12-2 8 7 1 2 2-3 1-2 3 4 2 0-5 6-1 2 2 1 13 5-1 3 6 13-3 2-2-1-4-4 2-6-2-7-6-2-7-7-6-4 1-2-2-1-4 6-6 0-2-3 0-4-4zM144 54l-5 1-2 2-1 9 3 6 5-5 0-3-3-3 5-4zM81 54h1v1h-1zM0 48h1v1h-1zM275 47l1 2 1-1zM49 51l2 4 6-3 6 3-3-4 0-5-7-1zM404 41l-5 1-1 3 2 2 5-4zM389 47l-5-1-5-5-2 2 2 8-4 5 4-2 4 1 1-4zM239 41l-4 5 1 3 6 5 5-1 0-5zM419 39l0 6-4 4-7-2-4 3 1 6 6-2 1-3 4 1 7-4 0-2-4-4zM332 37l-1 2 2 1 1-1zM0 63l0 17 5-1 0-5 2-2 5-2 6 1 2-2 3 0 2 2 3-3 6 1 5 6 3-3 9 3 7 0 4-3 6 2 7-3 2 4-2 2-7 1 4 6-2 5 0 3 2 2-2 8 3 1 9-5 2 2 0 5-4 4-7 0-4-4-2 2-1 5 5 3 3 7 12-12 0-5 2-2 0-10-4-3 1-6-2-1-3 4-5-1-2-2 0-3 2-2 4 0 3-2 0-7-9-3-4-4 1-3-3 0-4-3-9 3-6 8-3 0-3-3 0-4 6-4 0-2-4-3-3-5 0-3 4-4 0-3-2 0 0 2-5 4 0 4-3 3 0 3 7 4-4 4-1 6-5-5-1-10-5-1-3-3-1 1 2 6-5 4-10 3 0 6-3 4-2-2 1-2zM59 65l2 4-3 2-2-3zM12 65h1v1h-1zM328 35h1v1h-1zM166 33h1v1h-1zM422 32l-2 3 4 2 0-4zM21 32h1v1h-1zM171 28l1 2 1-1zM67 29l-6-1-4 3-4 0-3 8 3 1 4-6 4 1zM45 25l-5 4 1 3zM10 24l-1 1 3 8-4 4 4 0 4-4 0-2zM7 22l-4-1-3 2 0 4 3 0zM117 7l-3-1-2 2 3 1zM56 5l-3 1 0 7-2 2-4 0 0 7 3 0 6-5 6-1 2-2-8-4zM380 3l0 2 2 0zM103 3l1 5 1-4zM11 3l-1 2 3 3 4-1 4 5 2-2 3 2-4 3-2 6-3-3-4 2 5 5 2 0 8 6 0 6 3 2 1-2-2-4 3-3 0-2-5 0-3-3 2-3 3-1-3-4 3-10-9 0-3-4zM0 3l0 10 3 1 0-10zM71 1l2 4-2 4-4 0-2-2-2 0-1 2 2 0 4 4 6-1 3 2 5-6 6 6 0 3-5 5-5-1-3 9 3 4 2 7-4 3-8-7-1 3-4 3 1 3 6-1 7 2 5-7 3 2 2-1-3-2 2-2 0-8-3-3 4-4 7 0 3-3 11 1 0-2-2-2-9 2-4-4 1-9-11 1-4-4-5 1zM400 0l2 5 3-4 3 0 4 4 0 2-5 6 10 6 0 2-4 3 0 3 2 1 3-3 2 0 1-3 3-2 0-3-7 0-1-4 2-2 6 0 0-4-7-5 0-2-4 2-4-2zM344 0h1v1h-1zM301 8l-3 6 2 3 11-3 7 4-3 3 1 6 2 2 3-4 0-5 2-2 7 3 2-6 3-3 4 0 3 3 0 6-3 3 3 3 0 4-2 2-5-1-1 3 7 2 7-7 2 0 3 3-6 8-5-1-6 5 1 2 5-1 4 4-6 9-4-2-4-9-6 0-5-4-3-8-3 3-8 0 3 5-1 1 12 3 10 10-1 5 3 7 3 0 4-7 4 4 0 5 7 0 0-4 5-5 7-2 3-4-10-7-1-6 2-3 3 1 1 4 5 2 0 6 4-2 0-11-4 0-5-6-2 0-3-3 2-3 0-6-2-2 0-9 2-2 6 2 4-5 3 0 2-2-2-2-7 5-3 0-4-3-8 0-10 3 0-8-3 0 0 7-2 2-3 0-6-4-2 1 1 4 4 3-2 2-9 0-6-6-4 1zM350 48l4 2-2 4 3 3 0 3-3 3-3 0-2-2 2-5-2-5zM345 14l2-2 2 2-2 2zM315 3l3 0 2-3-5 0zM303 0l2 3 3-2zM238 12l0 3 6 9-2 3 2 3 5 3 1-2-3-4 2-2 4 0 3 6 6 1 2 2 0 12-4 4-6 0-4 5 4 0 2-2 8 1 5-2-3-1-1-3 4-2-1-11 2-1 6 6 0 3 5 4 1 6 5 2 4 4 2 6 2-1-5-11 6-3 6 4 0-6-4 0-2-2-7 1-6-5 1-2 4-1 8 1 3-4-1-1-6 3-3-3 0-2 5-5-1-6 2-2 0-4-5 3-5-6 0-2 7-5-1-6-3 0 0 3-2 2-3-1 0 10 5 5 1 6-5 0-4 2 0 3 4 3-1 4-3 3-2-2 0-3-9-8-5 2-5-8 2-3 6 3 4-3 7 1 1-4-6-5-1-7 1-1 5 4 2-2-1-2-3 0-2-2-2 3-7-1 0 11-4 3-3 0-4-4-5 1-4-3zM235 2l2 2 3 0 2-2 8-2-15 0zM111 23l1 3 4-1 4 5 7 0 4 4 0 8-5 3 1 4 6-6 3 2-2 5-4 2-8-1-4 3 6 1 2 2 1 6 1-3 7-6 0-3 5-8-5-6 0-4 3-3 6 1 2-2 0-7 2-3-2-8 4-2 2-4 5 3 8-8 4 0 8 5 2 6 4-4 3 0 3 4 0 4-2 2 2 7-2 5 2 2 3 0-3 4-8 6-2-2 0-6-3 0 0 4-3 3-7-3-1 7-2 2-4 0-2-2-2-7-4 2-3-2-4 0-2 5 2 3-1 3 6 8-1 5 2 4-3 2 0 3 2 0 4-5 7 0 6 7 3-1 3 4 2 0 0-5 3-4-2-1-7 2-4-5 4-4-4-1-2 3-2 0-3-6 9-8 5 5 5 0 2 2 2 9 5 8 14 6 9 0 6-2 5 1 11-8 3-7 0-11-9-10 2-3 3 3 4-4 3 2 2-2 1-5-3-1-3 4-2 0-3 3-3-5 6-2-1-11-2 0-2-4 2-2 4 2 1-3-2-2-4 0-7 5-4 1-5-5 0-3 6-5-1-2-6 0-5 4-5-3-5 0 0 3-2 2-5-4 0-2-40 0-2 3-1 7-2 2-5-4-1 6-2 2-5-3-9 2 1 3 6-1 3 2 4-2 7 0 2 2 0 5-2 2-6-1-3-3-4 5-6-1-3-6zM171 44l3-3 7 4-6 4zM187 49l2-4 7-5 12 0 11 5 5 6 1 6-2 5-5 4-12 4-5 0-7-3-5-5-2-5zM204 12l8 6-4 7 7-1 3 3 0 6-3 3-4-1-5-7-2 1-2-2-1-5-3-3zM131 0h1v1h-1zM113 1l4 2 9-3zM95 0h1v1h-1zM34 1l2 4 3 0 5 5 8-8 0-2-2 0-2 3-8 0-3-3zM18 0h1v1h-1z"/>
<path fill="#aa81b1" d="M184 316h1v1h-1zM373 315l3 1-1-2zM116 313l-1-1-2 3-5 1 8 0zM20 312l-1 2 2 2zM363 310l-3 6 5 0zM405 309l-2 0 0 3 2-1zM89 309l-1 3 2-1zM64 309l-2 0 1 4zM412 308l-2 1 1 2 2-2zM249 310l-4-2-4 6-3-5-4 5-3-3-4 0-1 2 4 3 18 0zM210 305l-2 1 1 5-3 5 4 0zM33 304l-1 2 2 1 1-2zM123 303l-1 2 5 8 4 2 1-2-5-3-2-6zM361 302l-1 3 3 1zM144 302l-2 0-2 4-4 3 2 4 5-1-2-5zM313 301h1v1h-1zM415 300l0 6 6 1 1-2-2 0zM179 298l2 5 6 5-4-7zM38 298l-1 5 2 5 4 3 0 2-3 3-4-3-6 3 23 0 0-2-3-3 2-12zM256 297l1 9 5 4 0 2 4 4 4 0 6-5-1-2-8 2-2-2 0-4-8-9zM10 292l-6 4-4 0 0 20 8 0-6-5 0-9 8-8zM167 290l-6 1 2 4-7 5 2 4-2 2-2-1-5 7 1 4 6 0 3-4 4 1 3 3 6 0 2-3 3 0-3-1-3-4 0-3-4-2 0-9 2-2zM195 289l-2 0-2 4-4 3 9 0 1-2zM244 288l-2-1-5 5-6 0-1 4 5 4 7 0 0-8zM365 297l9 7-3 4 2 2 5 1 2 2 0 3 18 0 0-3-6-4 6-7-5 0-3-3 1-6-4 2-2-2 2-3-1-1-4 0-3-4-2 0-3 3 0 3-5 5zM385 314l2-2 1 1-1 2zM378 296l4-2 4 7 6 4-7 2-3 3-4-5zM25 285l-4 3 0 3 3 4 6 3 6-6-6-6zM258 281l0 4 3 3-2 4 8 7 1 4 3-2 7 1 2 2-2 5 2 0 4-5 10 3 1 2-6 5 1 2 16 0-1-5-6 1-4-5 10-7-8-4 1-3 3 0 2-2-2-4-4 1-1 7-8 8-2 0-2-2-6-1-7-7-6 0-3-4 2-2 4 0 1-3-6-1-3-3zM0 278l0 6 3-1 3 3 3-2-1-5-6 1zM200 278l5 2 2-1-3-3zM379 274l-2 0-1 2 1 3zM127 277l4 4 5 0-4-8zM60 271l3 16 4 4 3-3 9-2-4-2-7 0-3-3 2-7zM346 270l-2 1 1 1zM329 270l-2 4 5 6-2 8 5 6 4-2 2 4-2 2-3-2-3 1-4-2-12 15-5-2-1 1 4 3 0 4 4 0 0-3 8-11 1-4 4 1 6 6-1 3-3 0-2 2 2 3 3 0 2 3 5 0 3-3 4 3 5 0-4-6 1-4-9-1-4-5 2-2 10-1 4-3 5 1-2-6 5-5-2-4 3-3-1-3-8 3 5 4-3 4 0 3-1 1-4-4 0 5-3 3-4 1-2-2 0-6 3-4-7 0 0-6-6 0zM248 270l-6 4 2 3-1 4 1 1 2-2 3 0 0 6 4 1 0-3-3-4 2-8zM177 272l-4-2-6 3-1 4 2 2 3 0 2-4 3 2zM350 269l0 2 3 2-1-4zM379 268h1v1h-1zM253 266l1 2 1-1zM373 265h1v1h-1zM388 270l8 3 3-4 5-1-10-4zM408 258l-2 1 1 8 5 6-1 5 3 3 0 3-5 4-6 1-4 4 4 4 0 7 8-8 0-4 2-2 6-1-3-12 4-4 4 0 0-8-5 5-4 1-3-4 1-3zM338 255l0 8-2 3 5 0 2-9-2-2zM59 254l-1 2 6 4 0-4-2-2zM239 253h1v1h-1zM161 250h1v1h-1zM421 246h1v1h-1zM411 246l-3 0-5 6 2 2 4-5 3-1zM354 246l-3 1-3 5 0 5 4 4 0 3 3-2 0-2-4-2 1-6 4-3zM395 245l-8 0-6 2 9 7-2 3-5-4-2 2 1 8 2 2 3 0 3-3 1-5 6-4-3-4 2-3zM275 244l-1 3 2 3 0 4 8 2 5 4 0 2-4 4-4 0-6-5-2 0-5 7-5 4 7 5 0 2 7-4 10 9 5-2 3 2 5-8-4 0-1 3-3 2-6-3-3-6 10-8 9-2 0-4-6-8-3-1-3 3-7 0-2-2 3-4zM273 272l2-2 3 2-2 2zM313 242l-5 8 3 4 0 6 5-1 3 9-2 2-8 0-2 2 13 2 1-11-4-10-4-4 3-4 0-2zM62 242l4 6 3-2-2-3zM149 246l-2-1-6 3 1 2 4 0 3 3 0 2-4 4-4 0-4-5-4 1-3-3-8-1-3 4-4-3 0-2 4-2 0-4-6 2-8-5-3 2 4 3-1 2-4-1-3 2-7 1-6 5-2-2 0-8-3-1-2 2-2 8-3 3-3-1-2 4 3 1 6-6 2 0 4 4 0 2 4 4 0 5 4 5 1 6-1 3-4-1-2 2 2 2 3 0 2 2 0 3-9 7-7-1-4-4-2 3-4 2-10-1 0 2 12 0 6 4 1 5-7 7 11 0-1-5 4-7 3-2 3 3 2 0 0-3 2-2 2 0 3 3 1 5 3-1 2 2 5 0 5-2 5-4-2-4 0-6 3-3-1-3-5 3-3-3 0-4 3-3 2 0 4 4 0-5 3-3 1-5 4-4 2 0 7-8 3 1 1 4-2 2-3 0-2 4 8 7-2 4 6-1 8 8 0-6 4-4 0-4 5-4-3-3-1-8-4-4zM139 267l2-2 5 0 2 2 0 4-3 3-4-1-2-2zM87 262l2-2 4 2-2 2zM148 261l3-2 3 4-4 2zM130 254l2 2 0 5-4 1-3-4-2 9-17 14 0 10 2 0 4 4 2 7-2 2-7 0-2 2-3-4 0-6 2-4-2-2-3 0-5-7 2-2 1-5 4-3 12 1 0-5 6-4-4-4 5 0 1-5 2-2zM91 258l3-4 3 2-2 3zM106 249l6 7-5 4 1 3-5 5-4-7 6-5-2-4zM211 238l0 6-3 3-7-4-1 4 3 4 0 4-2 4-8 8-6 1-7-4-2 0-1 2 2 2 5-1 4 6 4 2 0-4 4-5 6 0 3-5 0-7 4-4 4 1 4 7 3-1 0-6-6-4 2-3 2 0 8 8 0 3-4 3 0 3-4 5-2 0-2-4-1 1 1 8-3 4 6 1-3 4 0 7-2 1-3-5-3 0-7 4 1 2 5-1 4 6 4 2 2-2-2 0-1-2 2-2 3 1 3-2 1-8 5-2 6 5 3 0 1-3-6-7-2 0-3 4-9-4 0-2 4-4 7 0-1-3 5-11-4-3-1-4-5-4-4-1-4-4zM74 236l-2 3 5 3 2-3-3-3zM358 235l-2 1 1 3 2-2zM6 234l-1 2 2 1zM282 235l-2-2-5 0-4 6 3 1 6-2zM237 237l-4-7-6 6-5-5-4 4-2 0 9 6 3 0 3-4 2 1 0 7 2-1zM76 228l-2 1 0 3 3-2zM315 234l2 5 4-1 2 2 0 4 3 0 8 4 4-3 5 0 2-4-5-5-5 8-8 0-2-2 3-6 5-5 4 0 0-2-4-3-5 0-2 5-4 3zM306 223l1 9 2 0 1-2 4 1 3-4zM323 222h1v1h-1zM166 220l-2 1 1 1zM2 217l-2 0 0 4 2-1zM424 215l-3 3-4-2-7 7 0 2 3 3 0 8 3 2 8 0 0-6-4 0-5-5 2-6 3-3 4 4zM401 216l-2-2-6 1-5-2-2 2-6 1-2 8-3 3-4 0-5-5 1-4-7-4 0 3-4 6 0 4-3 3-8 0-5-3 0 7 7-1 4 4 6-7 0-4 6-1 7 5 0 2-4 2 2 3 15 1 5-6 3 0 8-5-3-5 5-4zM370 234l3-2 2 3-3 2zM384 219l3 0 2 2 0 5-3 3-2 0-3-3 1-5zM229 213l-3 3 0 4 5 3 3 0-3-4 3-6zM175 212l0 5-3 4 0 15-5 6-3 0-4-3-2 0-2 3 0 2 3 2 2 0 3-3 4 1 3 6 3-2-1-11 4-3 1-6 3-2 8 5-2-10-4-4-5-1zM409 211l-1 2 3 1 1-2zM164 208l-5 4 1 3 4-1zM229 197l-2 2 1 7 3 2 1-10zM400 195l4 5 7-1 5 10 3 0 5-6 0-8-2 0-1 5-2 2-3 0-6-8-4 2zM221 188l0 2 5 4 5-4-6-3zM135 187l-1 5 2 4 9 5 0 5-5 4 2 2 4 0 3 5 5 1 1-1-2-8 2-2 0-5-4-6-9-1-2-2 0-3zM261 187l1 2 6-1 0-2-3-1zM336 183l-1 3 3 3 1 9-1 9-4 4-4 0 0 4 3 2 9-9-2-9 1-10zM93 182l-5 1 2 5 2 0 2-3zM116 181l-2 4 6-2 2 2 1 8 6 4 1-2-5-5 0-5-2-2zM128 180l-1 1 2 1zM0 268l3-1-1-4 4-8 6 2 6-4-4-5 0-4 2-2 7 3 5 0 4 6 7 1 2-2 1-5-3 2-9-2-9-4-4-4 1-9 2-2 4 1 4 4 1-5 3-3 2 0 6 6 4-4 2 0 2 2 0 4-2 2-1 8 4 1 5 5 2-2 1-5-6-9 1-4 7-8 5 0 6-5 8 1 4-3-5-4-3 0-15 10-3 0 0-3 4-4-2-7 3-3 3 0 8 5 1-2-2 0-7-6-9 0-5 4 0 5 4 0 2 2-1 4-7-3-6 6-6 2-5-3 2 4-4 3-5-1-2-2 0-4-5-4-1-4-5-3 6-6-5-5 0-2-3-3 0-3-6-5-3 0 1 11 8 5-2 2-4-1-3 2 1 2 5 1 3 3-5 7 2 1 6-3 3 3 0 8-3 3-6 0 2 4 4-1 2 2 1 5-5 6 0 4-2 2-3 0-2 2 0 3-3 2zM40 218l2-2 4 0 2 4-2 2-4 0zM423 178l-1 1 2 1zM264 178h1v1h-1zM370 180l-1-3-4 1 2 3zM284 177l-1-1-4 4-6 0-5 3 3 2 1 3 2 0 1-4 4-3 3 0zM270 184h1v1h-1zM111 177l-9 0-1 5-3 2 0 4 3 3 0 3-4 4-3 0-7 5-1 6 6 4 2 7 0 5-8 4 1 7-2 5 2 2 5 0 0-6 4-2 4-5 8-1-2-3-4 1-4-3 0-3-4-5 0-3 2-2 3 2 1 3 4-1 5 3 6-6 8 2 6-3 3 3 6 2 3-1-5-5-5-2-9 3-12-14-5 1-2-2 1-4 10 0-1-5-5 3-4-2 0-4 2-2 3 0 3-4zM105 212l1-3 3 2-2 2zM94 203l4-2 4 4 0 2-4 2-4-4zM286 172l-1 3 2 1 1-2zM17 168h1v1h-1zM368 164l4 4 6 1 3-2-6-1-5-3zM283 162l-1 3 3 2zM168 160l1 3 1-2zM164 160l-2 1 1 2zM325 157l-2 1 1 3 2-2zM176 156l0 2 3 1zM0 156l1 9 2 0 3-4 16 0 0-2-3-2-11 1-3-3zM388 161l2 4-2 3 1 3 3-3 3 0 6 5-2 10 6 0-1-6 8-5 6 0 2 2 4-2 0-4-4 2-9 0-6-2-3 2-3-3 1-11-3-3-1 2 2 5-3 3-5-3zM10 181l7 1 5 4 1-5 4-1 3 6 5 0 1-2-3-3-1-4 4-3 3 0 4 4 1 14 3 1 4-3-1-3 3-5 9-7 0-6 2-2 2 0 5 6 6 4 8 3 3-3 5 0 4-3 4 0 2-2-2-8 3-1 3 4 4-2-2-2 0-3 3-3-1-1-7 2-4-3-1 3-6 4 0 2 4 4-2 4-3 0-3 3-10 0-4-3 0-2-3-3 6 0 2-2 7 1 3-3 0-7 5-3-1-2-3 0-4 8-5 4-5-5-15 2-3 3-9-1-1 5-2-1 0-11 4-3-1-1-8 7-1 3 2 4-4 5-4-1-6-5-1 2 4 3 0 2-3 3-4-4-4 0 3 4-1 7-7 0-2-2zM47 174l3-3 4 0 3 4-6 3zM199 146h1v1h-1zM177 145l-5 3 0 4 6-4zM128 143l-1 5 3 0 2-3zM33 142l-3 9 10 0 0-2zM361 140l-3 3 0 2 3 3 3 0 2 6 2 1 2-3-1-4-4-3 1-4zM60 138l-1 2 2 1zM34 140l5 4 3-3-3-3zM48 136l-1 4 4 2 1-3-2-3zM322 135l-1 5 4 0 2 2-2 4 0 3 2 2 4-1 1-5 2-2 4 3-2 3 1 9-5 5 0 2 3 1-1 2-3 0-3-4-9 1 7 1 14 11 1 5 4-1 4 4-3 4 4 1 3 6 5-2 5 5-2 4-4-3-5 5 1 2 7-1 6 4 3 0 1-4-5-8-13-8 0-3 2-2 9 6 1-1 0-3-3-3-2-7-7 3-4-5 0-2 5-6-4-8 4-3 7 2 2-3-6 0-2-2-2-11-2 1-2 8-3 3-6 0-2-4 3-6-5-5-2 0-1-3zM340 163l6 1 3 3-3 3-1 7-8-6 0-5zM0 135l0 3 2 0 0-2zM242 134l-1 1 6 5 0-3zM187 132l-1-1-1 2zM160 130h1v1h-1zM424 129l-6 1-3-2-2 3 1 2 6 0 2 2 0 4-3 4-3-5-4 5-4 0-3-3 0-3 2-2-1-2-3 0-5 5-5 1 1 2 4 0 4 5 0 6 3 3-1 4 3 3 13 0 2-2 2-6zM413 152l4 3 0 3-2 2-3 0-2-2 0-3zM411 150l2-2 1 1-1 2zM416 146l2-3 2 1-2 3zM265 127l-3 0-1 3zM356 124l13 6 4 4 0 2-4 3 0 2 4 4 8-1 8 4-1-7-7 2-6-4 0-3 2-2 3 0 0-6-2-2-3 2-3-1-2 2-3 0-8-6zM260 123h1v1h-1zM376 120l-2 0 1 4 2-2zM267 119h1v1h-1zM409 119l-3-1-1 4 2 0zM12 118l-10 2 4 1 3 3-1 5 5-1 2-3 0-4zM380 119l4 3 3-2-1-3zM25 117l-2 0-2 3 1 3 4-3zM127 110l-3 1-1 3 6 4 0 3 4-5zM371 112l-7-4-5 2-2 3 5 1zM377 105l-3 0-2 2 0 3 2 1 3-3zM404 104l-1 2 2 2zM397 105l-2-1-3 5-4 0-2-2-2 1 8 3 5-3zM100 102l-6 6 0 5-3 5 1 4-3 4 1 2 3-1 5 4 0 4-4 8 10 2 3-3 2 0 7 5 6-7 5-1 1-6 3-3-1-4-9 0-3 4 1 6-4 3-7-8-2 0-4-4-1-4-3-3 1-5 6 0 6-3 0-4-7-6zM100 105l3 3-2 4-4-2zM406 101h1v1h-1zM386 98l-2-1-4 2-5-4-4 4-6-1-3 4-2-1-1 2 8 2 2-5 10-1 5 2zM409 94l-3-1-9 3 10 0zM301 93l-2 1 0 4 3-3zM99 92l1 2 1-1zM67 92l-6 6 2 4 5-4zM391 91l-1 3 2-1zM228 91l-2 2 1 2 2-2zM336 91l1 2 4-1-2-2zM332 89h1v1h-1zM139 88l-3-1-5 5 4 1 4-3zM283 86l-2 2 1 3 2-4zM30 86l-2 7-3 3-4 1-3 5 5 0 3 3-2 6 5 1 3 3-2 3 5 4-1 6 6 4-1 2 4-5 5 0 3 4 9-10 2 0 8 8 1-2-9-9 1-6-4 2-2-2 4-2-5-4-3 1 0 4 5 5-7 6-2 4-7-4-2-6-6 0 0-6 5-4 7 1 0-3-4-3-3 0-5 5-4-2 0-4-2-3 0-3 2-2 4 0 6 5 2 0-2-4 1-4-8-5zM276 85l-3 1 2 3zM379 84h1v1h-1zM134 84l-3-2-5 7 2 1zM386 81l-2 2 1 2 2-1zM39 79l5 5 0 4 4 0 3 3-2 13 5 0 3-5-4-4 1-6 4 0 1-2-3-1-3 3-4-4-1-7-2 0 0 3zM150 77l-1 1 2 6-16 13 1 5 7 4-3 6 1 2 4-5 3 0 2 2-1 6-2 2-5 0 3 9 3-2 2 2-1 10-3 0-1-6-3 3-4 0 6 3 2 8 4 2 0 11-18 0-4-7-7 1-5-2 0 3 4 5-2 9 4 2 5 0 2 2 6-4 3 0 0 7 2 2 1-5-2-4 3-3 4 2 0-2 2-1 0 12 3 3 2 7 14 14 1 3 4 1 7-3 6 0 0-2 3-3 3 0 1 4-4 4 2 1 3-3 2 0 6 4-3 4-3 1 0 3-3 4 0 4 3-2 4 0 3 3-6 3-2 3 0 2 4 3 0 3-4 4-6 0-2-2-9 1 4 7 3 0 0-3 3-2 3 3-3 4 8 2 1-3-3-4 5-1 0-3 2-2-2-8 5-6 7 0-3 4 1 8 8-6 4-1-2-5 0-4 2-3-5-5 0-2-7-6 0-4 4-2 7 10 5-3 0-3-2-2-6 0-2-2 3-4 1-11 3-2 0-5-6 0 3 6-5 4-4 10-6 5-4-3 2-6-3-3 2-2 4 1 6-7 0-6-2-1 0-4 3-3 2 0 0-3 2-2-2-6 3-4 6 4-1 3 4 12 4 3-2 3 1 2 6 4 3-1 0-3-5-6 0-2 2-2 0-3 8-9-1-1-3 4-2-2 1-2-8-6 1-2 4-1 0-5-5-8 1-7 1-1 4 4-2 3 5 4-1-9 3-3-3-1-2-3 11 0 4-4-1-1-4 3-2-2 1-4-3-4-8 0-2-4 2-2 3 0-5-5-6 0-2 3-11-1-1 2 3 6 7-2 2 2 0 3 5 4-1 9-5 8-2-2 0-4 3-5 0-3-2-2-7 2-5-6-4-1-16-17-14-3 4 3-6 4-5-5-1-5-7 2-3-4-4-2-1-6zM212 213l4 3-2 4-2 0-3-3zM212 208l1 3-2 2-2-3zM169 178l1 2-4 6-2-3zM158 177l0-3 2-2 4 2-4 4zM225 165l2-1 2 3-2 1zM225 155l3 4-1 2-3-3zM215 150l2-1 1 2-2 1zM146 141l2-1 1 3-2 1zM173 121l3-1 2 2 3-1 2 2-2 2-6 1-2-2zM173 117l3-3 5 0 2 2-1 3zM197 110l6 7 0 2-3 3 4 5 3 0 3 3-1 8-6 8 8-1 2 3-8 5-2-1-4 5 5 0 2 2-2 2-6 1 3 4-2 4 3 4-4 3-12 2-5 9 3 3 0 2-5 1-3-2-1 1-4-5 3-9-4 0-2-3-4-2 2-3 3-1-9-6-3-4 0-5 2-2 4 2 1-2-10-8 3-10-2-7 5 0 5-5 6 3-2 5-5 3 1 9 2 1-1-6 8-7 5 3 2-2 0-5 6-4-2-3 8-4-4-3 0-2zM156 110l2 3-7 11-2-2 4-6 0-4zM166 110l2-1 1 2-1 1zM172 109l4-2 4 3-2 2-4 0zM193 107l2-1 1 2-2 1zM189 107l2-1 1 2-2 1zM168 100l-1 3-8 7-4-1-3-3 5-5 2 0 1 3 2 0 5-5zM152 87l2 0 3 4-2 4-3 0-2-2 0-4zM20 77l-6 6 0 7 8-9zM147 77l-3-2-4 3 0 2 4 0zM356 75l4 1 2-2-5-1zM287 73l-6 6 3 3 2 0 5 6 2 0 3-3 0-4-6-4-1-4zM302 69l0 4-3 3 0 2 3 3 0 4 7 4 4-1 9 6 3-1 2-6-6-6-5 1-3-4 3-4 3-1-1-1-9 8-2-2 1-3-3-2-1-4zM302 80l3-3 3 2-3 3zM269 67l-1 3 3 1 1-2zM125 68l3 1-1-2zM420 65l-2 2 0 3-2 2-5 0-3 3 0 2 6 4 3 6-2 4 2 3 1 8 2 2 0 9 4 7 0-20-5-6 0-2 4-4-4-4 0-9 5-5 0-5zM0 64l0 15 3 1 2-4 0-7zM403 66l2 2 8-6-10 0zM387 62l-1 3 6 6 1-3-3-1zM381 65l-5-3-3 1 0 5-4 4-5 2 1 11-2 2-3 0-4-3 0-6-7 3-1 7-4 4 3 2 3-3 2 2 0 5-2 2-2-2-4 4-3 0 3 4-9 6-4-4 2-4-2-2-4 7-9 7 0 4 6 0 1-6 3-3 8 6-5 8 1 3 7-4-1-3 4-4 0-4 2-2 3 2 0 5 3 2-1-4 6-10-2-6 6-1 2-2-2-3-3 0-2-4 2-1 4 3 4-5 8 3 2-2-5-2-2-2 0-3 4-6 4 0 4 4 2 0-2-10zM260 61l-9 3-4-2-1 3 3 3-2 2-3 0-2 2-3-3-3 0-3 3 4 6 0 7-6 4 2 5 6 4 3-1 2 2 0 6 0-3 3 0 1-4 3-3 3 4 0 2-5 3 0 4 3 4 3 0 2 4-4 4 0 5-2 2-3-3-2 0 3 3-2 6 1 1 5-7 4-1-2-4 6-7 1-8 3 0 0 4 5 0 1-1-3-2 0-2 3-1 1 3 8 0 3 3-2 3-3 1-1 6 5 5 1-3-3-3 0-3 7-4 5 0 8 9-2 2-8-1 0 4-7 4 1 1 3-2 2 2-1 6 5 5 7-3 2 2-1 6 2 3-5 1-2-6-4 1-4 4 1 2 6-1 0 4 4 4 2 0 1 3-4 3-9-6-1 4 7 7 1 9-5 5-6-3-2 2 2 4-3 3-6 1-2 4-5-1-2-2-10 0-11-13-5 0 1 4 12 12 0 2-2 1-6-6 0 3-2 2-5 0 1 3 6-1 0 5 6 2-2 3-12 2 0 3 4 5-1 3 5 3 1 6 7 2 2 7-5 4-7-1 1 7 4 3 0 8 3-3-1-5 6-4 1-8 2-2 6 0-5-3-1-6-8 1-2-2 0-2 5-5 5-1-1-4-3-2-2-6 1-3 7 1 3 3-1 5 6 4 2-1-1-3 2-2-2-8 3-2 3 3 0 4 10-2 5-5-3 0-2-2 7-6 3-5 1 6 4 4 0 6-5 4 0 6-2 2-3 0-4-3 0 5-2 2-1-3-4-2-7 1 9 2 3 2 0 3 5 1 5-7 7-1 0-4 3-5-3-4 6-7 4 2 0 4 6 4 4 8 3-6-5-4-1-11-3-8 3-3 9-2 2-2-1-2-6 0-3 3-8-3-1 3 3 4-6 0-2 2 0 2 3 3-1 2-4 0-2-2 1-6-3 4-4 0 7-14-1-3 2-2 3 0 0-15 2-2 2 6 4-2 1-23-3 0-2-2 2-4 0-13-9-8-6 1 0-4-6-4 1-3-4 1-2-4-5 1-4-4-14-2-2-2 2-4-2-2 1-3-2-3 3-4-5-1-2 4-5-2-1 4 3 4 0 3-4 3-3 0-9-10 2-5 2-1 4 2 4-7 5 2 0-2 5-5zM249 211l3 4-1 6-3 2-6-5zM293 132l6-5 4 6-2 2-6 0zM303 114l2-1 1 2-2 1zM262 91l-6 3-3 0-2-2 1-2 3 1 5-2zM233 89l3-2 6 3 2-3 2 2 0 5-3 2zM87 59l-1 3 5 12-3 7 7 1 2 2-3 1-2 3 4 2 0-5 6-1 3 4 0 10 5 0 3 3 0 3 13-3 2-2-2-4-4 3-12-8-2-7-6-6-5 0-4-6 7-7-7-4zM143 55l-4 0-2 2-1 9 3 6 5-7-3-4 3-4zM81 54h1v1h-1zM276 47h1v1h-1zM50 51l0 2 3 1 2-2 5 0 1-4-3-2-1 4-2 1-2-5 0 2zM422 45l-2 0-6 5-6-2-4 3 3 4 5-5 3 2 2-2 4 0zM388 47l-4 0-4-5-2 0-1 2 2 3 0 4-4 5 3-2 5 0 0-2zM404 41l-3 0-2 4 2 1 3-3zM239 41l-4 5 1 3 7 5 4-1-2-7zM85 41h1v1h-1zM419 40h1v1h-1zM332 38l1 2 1-1zM44 37l-1 3-5 3 1 4-4 3 0 2 7 5-4 5 0 4-2 2-5-6 0-10-5-1-3-3-1 1 2 6-5 4-8 2-2 2-1 8 10 0 4-3 3 3 3-3 4 0 6 6 3-2 5 0 6 3 6 0 4-3 6 2 7-3 2 4-8 4 3 5-2 5 0 3 2 2-2 8 2 1 10-5 3 4 0 3-6 5-6 0-4-5-2 2-1 5 5 3 3 7 2-2 0-3 3-1 7-7 0-4 2-2-1-11-3-2 1-6-1-1-4 4-5-1-2-2 0-3 2-2 3 0 4-3 0-5-10-4-3-3 0-3-6-4-8 3-7 8-3 0-3-3 0-4 6-6-4-3-3-5 0-4 4-4zM55 69l3-4 4 2-3 4zM14 63l2 2-2 3-2-2zM422 32l-2 3 3 2 1-4zM22 32h1v1h-1zM42 29l-2 1 1 2zM66 29l-5-1-4 3-4 0-3 8 3 1 4-6 5 0zM44 25h1v1h-1zM415 24l-2 1 1 3 2-2zM10 24l2 9-4 3 3 1 4-4-1-4zM7 22l-4-1-3 2 0 4 3 0zM113 8l4-1-3-1zM56 5l-3 1 0 7-2 2-4 0 0 6 4 0 4-4 4 0 4-3-2-2-5-1zM103 3l1 4 1-3zM10 5l2 2 6 0 3 5 2-2 3 1-4 4-2 6-3-3-3 3 6 3 8 7 0 5 2 2 0-6 3-4-6 0-2-2 0-2 5-3-3-4 2-10-1-1-7 2-5-5zM0 3l0 10 3 1 0-10zM72 1l-1 1 2 2 0 3-3 3-6-3-2 1 3 1 4 4 6-1 2 2 5-6 6 6 0 4-6 5-4-1-2 4 0 5 5 9-5 4-4-2-3-4-2 0 0 3-4 3 14 3 9-12 0-6-3-4 6-4 5 1 3-3 9 1 1-3-11 1-3-4 1-9-12 1-3-4-5 1zM401 0l0 4 5-4 6 5-1 4-4 4 8 4 4 7 5-4 0-3-5 1-4-3 0-2 3-3 6 1 0-4-5-2-3-4-5 1-2-2zM302 9l-4 6 6 1 6-3 8 5-2 3 0 4 2 3 5-10 3 0 4 3 1-6 6-4 6 6-1 4-3 3 4 3 0 3-5 4-3-1-1 2 7 2 2-4 4-3 3 0 4 4-7 7-5-1-6 5 6 0 4 5-6 9-4-2-4-9-6 0-5-4-3-8-3 4-4-2-3 1 2 6 5 1 2 2 4 0 10 10-1 4 3 7 3 0 1-4 4-2 4 8 6 0 0-3 4-5 4-2 2 1 5-5-3-1-3-4-6 0-1 2 3 4-3 5-4 0-2-2 2-6-2-4 3-3 5 1 0-6 3-3 2 2 0 3 6 3 0 6 4-2 0-10-4-1-5-6-6-3 3-4-3-14 3-4 7 1 3-4 4-1 0-2-8 4-3 0-4-3-8 0-9 4-2-2 1-7-3 0 0 7-2 2-4 0-6-4-1 1 1 4 4 3-2 2-9 0-6-6zM354 24l2 2-4 3-1-2zM346 25l1-1 1 2-1 1zM347 11l2 2-1 3-3-1zM315 3l4-1 1-2-5 0zM304 0l1 2 3-1zM238 12l0 3 6 9-2 3 1 2 6 3 0-2-3-3 3-3 3 0 5 7 6 0 2 2-1 13-6 5-3-1-5 4 1 1 5-2 11 0-2-5 4-3 0-7-3-4 2-2 7 6 2 5 4 3 1 7 6 2 4 5 0 4 2 0-4-11 4-3 8 3 0-3-7-4-6 1-6-5 1-2 4-1 8 1 3-4-1-1-6 3-3-3 0-2 5-5-2-5 3-6-6 2-4-8 7-6-1-5-3 0 1 3-2 2-3 0-1 2 0 7 5 5 2 6-10 2 0 2 4 3 0 4-4 5-2-1 0-4-9-9-5 2-5-8 2-3 5 2 3 0 2-2 7 1 1-3-7-7 0-6 1-1 5 4 2-2-1-2-3 0-2-2-2 3-7-1-1 2 2 5-1 5-2 2-5 0-3-3-6 0-2-2zM235 2l4 2 2-2 9-2-15 0zM111 23l0 2 5-1 4 6 8 0 3 3 0 9-5 4 1 2 6-5 3 2-1 4-6 4-7-2-3 3 5 1 2 2 1 5 1-3 7-5 0-3 5-8-5-4 0-6 3-4 5 2 3-3 0-8 2-2-2-7 6-6 5 2 7-7 6 0 5 2 5 8 2-5 7 4 1 5-2 5 2 4-2 2 0 4 4 3-11 9-2-2 0-6-2 0 0 4-4 3-7-3-1 7-2 2-4 0-5-8-4 1-2-2-4 0-2 5 2 3-1 3 7 8 0 9-3 4 1 1 5-5 7 0 5 6 5 0 3 4 1-1 0-4 3-4-2-1-3 2-4 0-4-5 4-3-1-2-3 0-2 3-4-2-1-4 9-8 5 5 5 0 3 4 1 7 4 7 11 6 13 1 11-2 9-5 4-5 1-15-9-10 2-3 3 3 3-4 5 1 1-6-1-1-3 4-3 0-3 3-3-5 4-1 2-4-2-3 1-4-5-5 2-2 5-1-2-2-3 0-8 6-3 0-5-5 0-3 6-5-1-2-6 0-4 4-6-3-5 0-1 5-4-1-2-2 0-3-31 0-2 2-2-2-5 0-2 3-1 7-3 2-3-4-1 6-2 2-6-2-9 1 2 3 5-1 3 2 11-3 3 4-1 5-2 2-6-2-3-3-4 5-3 0-5-3-1-4zM171 44l3-3 7 2 0 2-5 4-2 0zM187 49l2-4 7-5 12 0 8 3 7 6 2 4-1 8-10 7-13 2-7-3-5-5-2-4zM221 23l1-1 1 2-1 1zM203 12l4 1 6 5-5 5 0 2 7-1 3 3 0 7-2 2-5-1-5-7-2 1-2-2-4-9zM131 0h1v1h-1zM114 2l3 1 3-3 5 0-11 0zM95 0h1v1h-1zM34 1l1 3 5 1 4 4 8-7 0-2-2 0-2 3-8 0-3-3z"/>
<path fill="#d17093" d="M184 316h1v1h-1zM373 315l3 1-1-2zM116 313l-1-1-2 3-5 1 8 0zM20 312l-1 2 2 2zM363 310l-3 6 5 0zM405 309l-2 0 0 3 2-1zM89 309l-1 3 2-1zM64 309l-2 0 1 4zM412 308l-2 1 1 2 2-2zM249 310l-4-2-4 6-3-5-4 5-3-3-4 0-1 2 4 3 18 0zM210 305l-2 1 1 5-3 5 4 0zM33 304l-1 2 2 1 1-2zM123 303l-1 2 5 8 4 2 1-2-5-3-2-6zM361 302l-1 3 3 1zM144 302l-2 0-2 4-4 3 2 4 5-1-2-5zM313 301h1v1h-1zM415 300l0 6 6 1 1-2-2 0zM179 298l2 5 6 5-4-7zM38 298l-1 5 2 5 4 3 0 2-3 3-4-3-6 3 23 0 0-2-3-3 2-12zM256 297l1 9 5 4 0 2 4 4 4 0 6-5-1-2-8 2-2-2 0-4-8-9zM10 292l-6 4-4 0 0 20 8 0-6-5 0-9 8-8zM167 290l-6 1 2 4-7 5 2 4-2 2-2-1-5 7 1 4 6 0 3-4 4 1 3 3 6 0 2-3 3 0-3-1-3-4 0-3-4-2 0-9 2-2zM195 289l-2 0-2 4-4 3 9 0 1-2zM244 288l-2-1-5 5-6 0-1 4 5 4 7 0 0-8zM365 297l9 7-3 4 2 2 5 1 2 2 0 3 18 0 0-3-6-4 6-7-5 0-3-3 1-6-4 2-2-2 2-3-1-1-4 0-3-4-2 0-3 3 0 3-5 5zM385 314l2-2 1 1-1 2zM378 296l4-2 4 7 6 4-7 2-3 3-4-5zM25 285l-4 3 0 3 3 4 6 3 6-6-6-6zM258 281l0 4 3 3-2 4 8 7 1 4 3-2 7 1 2 2-2 5 2 0 4-5 10 3 1 2-6 5 1 2 16 0-1-5-6 1-4-5 10-7-8-4 1-3 3 0 2-2-2-4-4 1-1 7-8 8-2 0-2-2-6-1-7-7-6 0-3-4 2-2 4 0 1-3-6-1-3-3zM0 278l0 6 3-1 3 3 3-2-1-5-6 1zM200 278l5 2 2-1-3-3zM379 274l-2 0-1 2 1 3zM127 277l4 4 5 0-4-8zM60 271l3 16 4 4 3-3 9-2-4-2-7 0-3-3 2-7zM346 270l-2 1 1 1zM329 270l-2 4 5 6-2 8 5 6 4-2 2 4-2 2-3-2-3 1-4-2-12 15-5-2-1 1 4 3 0 4 4 0 0-3 8-11 1-4 4 1 6 6-1 3-3 0-2 2 2 3 3 0 2 3 5 0 3-3 4 3 5 0-4-6 1-4-9-1-4-5 2-2 10-1 4-3 5 1-2-6 5-5-2-4 3-3-1-3-8 3 5 4-3 4 0 3-1 1-4-4 0 5-3 3-4 1-2-2 0-6 3-4-7 0 0-6-6 0zM248 270l-6 4 2 3-1 4 1 1 2-2 3 0 0 6 4 1 0-3-3-4 2-8zM177 272l-4-2-6 3-1 4 2 2 3 0 2-4 3 2zM350 269l0 2 3 2-1-4zM379 268h1v1h-1zM253 266l1 2 1-1zM373 265h1v1h-1zM388 270l8 3 3-4 5-1-10-4zM408 258l-2 1 1 8 5 6-1 5 3 3 0 3-5 4-6 1-4 4 4 4 0 7 8-8 0-4 2-2 6-1-3-12 4-4 4 0 0-8-5 5-4 1-3-4 1-3zM338 255l0 8-2 3 5 0 2-9-2-2zM59 254l-1 2 6 4 0-4-2-2zM239 253h1v1h-1zM161 250h1v1h-1zM421 246h1v1h-1zM411 246l-3 0-5 6 2 2 4-5 3-1zM354 246l-3 1-3 5 0 5 4 4 0 3 3-2 0-2-4-2 1-6 4-3zM395 245l-8 0-6 2 9 7-2 3-5-4-2 2 1 8 2 2 3 0 3-3 1-5 6-4-3-4 2-3zM275 244l-1 3 2 3 0 4 8 2 5 4 0 2-4 4-4 0-6-5-2 0-5 7-5 4 7 5 0 2 7-4 10 9 5-2 3 2 5-8-4 0-1 3-3 2-6-3-3-6 10-8 9-2 0-4-6-8-3-1-3 3-7 0-2-2 3-4zM273 272l2-2 3 2-2 2zM313 242l-5 8 3 4 0 6 5-1 3 9-2 2-8 0-2 2 13 2 1-11-4-10-4-4 3-4 0-2zM62 242l4 6 3-2-2-3zM149 246l-2-1-6 3 1 2 4 0 3 3 0 2-4 4-4 0-4-5-4 1-3-3-8-1-3 4-4-3 0-2 4-2 0-4-6 2-8-5-3 2 4 3-1 2-4-1-3 2-7 1-6 5-2-2 0-8-3-1-2 2-2 8-3 3-3-1-2 4 3 1 6-6 2 0 4 4 0 2 4 4 0 5 4 5 1 6-1 3-4-1-2 2 2 2 3 0 2 2 0 3-9 7-7-1-4-4-2 3-4 2-10-1 0 2 12 0 6 4 1 5-7 7 11 0-1-5 4-7 3-2 3 3 2 0 0-3 2-2 2 0 3 3 1 5 3-1 2 2 5 0 5-2 5-4-2-4 0-6 3-3-1-3-5 3-3-3 0-4 3-3 2 0 4 4 0-5 3-3 1-5 4-4 2 0 7-8 3 1 1 4-2 2-3 0-2 4 8 7-2 4 6-1 8 8 0-6 4-4 0-4 5-4-3-3-1-8-4-4zM139 267l2-2 5 0 2 2 0 4-3 3-4-1-2-2zM87 262l2-2 4 2-2 2zM148 261l3-2 3 4-4 2zM130 254l2 2 0 5-4 1-3-4-2 9-17 14 0 10 2 0 4 4 2 7-2 2-7 0-2 2-3-4 0-6 2-4-2-2-3 0-5-7 2-2 1-5 4-3 12 1 0-5 6-4-4-4 5 0 1-5 2-2zM91 258l3-4 3 2-2 3zM106 249l6 7-5 4 1 3-5 5-4-7 6-5-2-4zM211 238l0 6-3 3-7-4-1 4 3 4 0 4-2 4-8 8-6 1-7-4-2 0-1 2 2 2 5-1 4 6 4 2 0-4 4-5 6 0 3-5 0-7 4-4 4 1 4 7 3-1 0-6-6-4 2-3 2 0 8 8 0 3-4 3 0 3-4 5-2 0-2-4-1 1 1 8-3 4 6 1-3 4 0 7-2 1-3-5-3 0-7 4 1 2 5-1 4 6 4 2 2-2-2 0-1-2 2-2 3 1 3-2 1-8 5-2 6 5 3 0 1-3-6-7-2 0-3 4-9-4 0-2 4-4 7 0-1-3 5-11-4-3-1-4-5-4-4-1-4-4zM74 236l-2 3 5 3 2-3-3-3zM358 235l-2 1 1 3 2-2zM6 234l-1 2 2 1zM282 235l-2-2-5 0-4 6 3 1 6-2zM237 237l-4-7-6 6-5-5-4 4-2 0 9 6 3 0 3-4 2 1 0 7 2-1zM76 228l-2 1 0 3 3-2zM315 234l2 5 4-1 2 2 0 4 3 0 8 4 4-3 5 0 2-4-5-5-5 8-8 0-2-2 3-6 5-5 4 0 0-2-4-3-5 0-2 5-4 3zM306 223l1 9 2 0 1-2 4 1 3-4zM323 222h1v1h-1zM166 220l-2 1 1 1zM2 217l-2 0 0 4 2-1zM424 215l-3 3-4-2-7 7 0 2 3 3 0 8 3 2 8 0 0-6-4 0-5-5 2-6 3-3 4 4zM401 216l-2-2-6 1-5-2-2 2-6 1-2 8-3 3-4 0-5-5 1-4-7-4 0 3-4 6 0 4-3 3-8 0-5-3 0 7 7-1 4 4 6-7 0-4 6-1 7 5 0 2-4 2 2 3 15 1 5-6 3 0 8-5-3-5 5-4zM370 234l3-2 2 3-3 2zM384 219l3 0 2 2 0 5-3 3-2 0-3-3 1-5zM229 213l-3 3 0 4 5 3 3 0-3-4 3-6zM175 212l0 5-3 4 0 15-5 6-3 0-4-3-2 0-2 3 0 2 3 2 2 0 3-3 4 1 3 6 3-2-1-11 4-3 1-6 3-2 8 5-2-10-4-4-5-1zM409 211l-1 2 3 1 1-2zM164 208l-5 4 1 3 4-1zM229 197l-2 2 1 7 3 2 1-10zM400 195l4 5 7-1 5 10 3 0 5-6 0-8-2 0-1 5-2 2-3 0-6-8-4 2zM221 188l0 2 5 4 5-4-6-3zM135 187l-1 5 2 4 9 5 0 5-5 4 2 2 4 0 3 5 5 1 1-1-2-8 2-2 0-5-4-6-9-1-2-2 0-3zM273 186h1v1h-1zM263 186h1v1h-1zM336 183l-1 3 3 3 1 9-1 9-4 4-4 0 0 4 3 2 9-9-2-9 1-10zM286 183l2 4-6 7-3-2-2 1 1 5-2 2-4-3-3 0-3 5-3-1-4 3-2-2 3-3 3 0 1-5-6 0-4 5-2 0-6-6 0 3-2 2-5 0 1 3 6-1 0 5 6 2-2 3-12 2 0 3 4 5-1 3 5 3 1 6 7 2 2 7-5 4-7-1 1 7 4 3 0 8 3-3-1-5 6-4 1-8 2-2 6 0-5-3-1-6-8 1-2-2 0-2 5-5 5-1-1-4-3-2-2-8 8 0 3 3-1 5 5 4 3-1-1-3 2-2 0-3-2-3 0-4 2-2 3 1 1 8 10-2 5-6-3 1-3-2 0-2 4-2-1-3 2-2 0-5zM249 211l3 4-1 6-3 2-6-5zM244 182l-1 2 3 1 0-2zM160 190l2 4 5 1 0 7 3 2 9-3 6 0 0-3-2-2-3 0-2 3-2 0 0-4-7-5 0-4 3-3-1-1-5 7zM93 182l-5 1 2 5 2 0 2-3zM116 181l-2 4 6-2 2 2 1 8 6 4 1-2-5-5 0-5-2-2zM128 180l-1 1 2 1zM0 268l3-1-1-4 4-8 6 2 6-4-4-5 0-4 2-2 7 3 5 0 4 6 7 1 2-2 1-5-3 2-9-2-9-4-4-4 1-9 2-2 4 1 4 4 1-5 3-3 2 0 6 6 4-4 2 0 2 2 0 4-2 2-1 8 4 1 5 5 2-2 1-5-6-9 1-4 7-8 5 0 6-5 8 1 4-3-5-4-3 0-15 10-3 0 0-3 4-4-2-7 3-3 3 0 8 5 1-2-2 0-7-6-9 0-5 4 0 5 4 0 2 2-1 4-7-3-6 6-6 2-5-3 2 4-4 3-5-1-2-2 0-4-5-4-1-4-5-3 6-6-5-5 0-2-3-3 0-3-6-5-3 0 1 11 8 5-2 2-4-1-3 2 1 2 5 1 3 3-5 7 2 1 6-3 3 3 0 8-3 3-6 0 2 4 4-1 2 2 1 5-5 6 0 4-2 2-3 0-2 2 0 3-3 2zM40 218l2-2 4 0 2 4-2 2-4 0zM423 178l-1 1 2 1zM370 180l-1-3-4 1 2 3zM111 177l-9 0-1 5-3 2 0 4 3 3 0 3-4 4-3 0-7 5-1 6 6 4 2 7 0 5-8 4 1 7-2 5 2 2 5 0 0-6 4-2 4-5 8-1-2-3-4 1-4-3 0-3-4-5 0-3 2-2 3 2 1 3 4-1 5 3 6-6 8 2 6-3 3 3 6 2 3-1-5-5-5-2-9 3-12-14-5 1-2-2 1-4 10 0-1-5-5 3-4-2 0-4 2-2 3 0 3-4zM105 212l1-3 3 2-2 2zM94 203l4-2 4 4 0 2-4 2-4-4zM330 179l-6 0-3 3-8-3-1 3 3 4-6 0-2 4 3 4-5 1-2-2 1-6-3 4-4 0 0-3 7-11-7-3 1 7-4 2 2 5-1 3 3 1 0 5 4 4 0 6-5 4 0 6-2 2-3 0-4-3 0 5-2 2-1-3-4-2-7 1 9 2 3 2 0 3 5 1 5-7 7-1 0-4 3-5-3-4 6-7 4 2 0 4 6 4 4 8 3-6-5-4-1-11-3-8 3-3 9-2 2-2zM206 169l-2 1 0 5-2 2-16 3 1 4-4 3 2 2 4-1 2 2-2 3 3 3 0 4-4 4 2 1 3-3 2 0 6 4-3 4-3 1 0 3-3 4 0 4 3-2 4 0 3 3-6 3-2 3 0 2 4 3 0 3-4 4-6 0-2-2-9 1 4 7 3 0 0-3 3-2 3 3-3 4 5 2 4-1-3-6 5-1 0-3 2-2-2-8 5-6 7 0-3 4 1 8 8-6 4-1-2-5 0-4 2-3-5-5 0-2-7-6 0-4 4-2 7 10 5-3 0-3-2-2-6 0-2-2 3-4 1-11 3-2 1-4-6-2-1 1 3 6-5 4-4 10-6 5-4-3 2-6-3-1-2-3 2-3 6 3 6-7 0-6-2 2-2-1zM212 213l4 3-2 4-2 0-3-3zM212 208l1 3-2 2-2-3zM193 181l3 3-2 3-3-2zM17 168h1v1h-1zM295 166l-1 2 3 1 0-2zM368 164l4 4 6 1 3-2-6-1-5-3zM291 163h1v1h-1zM200 162l3 4 10 1 1-6-4 2-2-4-4 4zM325 157l-2 1 1 3 2-2zM0 156l1 9 2 0 3-4 16 0 0-2-3-2-11 1-3-3zM388 161l2 4-2 3 1 3 3-3 3 0 6 5-2 10 6 0-1-6 8-5 6 0 2 2 4-2 0-4-4 2-9 0-6-2-3 2-3-3 1-11-3-3-1 2 2 5-3 3-5-3zM204 155l4-2 5 1 0-2-5-1zM116 151l0 3 4 5-2 9 4 2 5 0 2 2 6-4 3 0 0 7 2 2 1-5-2-4 3-3 4 2 0-2 3-3 2 1 4-2 1 2-6 7-2 5 4-3 1 1-2 4 3 3 0 5 9-1 0-4 4-3-3-1-6 5-3-1 2-9 4-4-4-2-1-8-2-1-5 5-2-2-8-1-7 1-4-7-7 1zM156 167l1 2-2 2-1-2zM10 181l7 1 5 4 1-5 4-1 3 6 5 0 1-2-3-3-1-4 4-3 3 0 4 4 1 14 3 1 4-3-1-3 3-5 9-7 0-6 2-2 2 0 5 6 6 4 8 3 3-3 5 0 4-3 4 0 2-2-2-8 3-1 3 4 4-2-2-2 0-3 3-3-1-1-7 2-4-3-1 3-6 4 0 2 4 4-2 4-3 0-3 3-10 0-4-3 0-2-3-3 6 0 2-2 7 1 3-3 0-7 5-3-1-2-3 0-4 8-5 4-5-5-15 2-3 3-9-1-1 5-2-1 0-11 4-3-1-1-8 7-1 3 2 4-4 5-4-1-6-5-1 2 4 3 0 2-3 3-4-4-4 0 3 4-1 7-7 0-2-2zM47 174l3-3 4 0 3 4-6 3zM294 148l-1 1 2 1 1-1zM128 143l-1 5 3 0 2-3zM33 142l-3 9 10 0 0-2zM361 140l-3 3 0 2 3 3 3 0 2 6 2 1 2-3-1-4-4-3 1-4zM60 138l-1 2 2 1zM34 140l5 4 3-3-3-3zM317 136l-9 0-6 10 3 1 3 4-3 3-8 1 2 3 2-1 4 5-3 6 4 4 3-8-5-5 6-5 2 7 4-2zM307 145h1v1h-1zM312 138l2 2-2 3-2-2zM302 137l-2-1-4 3 1 1zM48 136l-1 4 4 2 1-3-2-3zM322 135l-1 5 4 0 2 2-2 4 0 3 2 2 4-1 1-5 2-2 4 3-2 3 1 9-5 5 0 2 3 1-1 2-3 0-3-4-9 1 7 1 14 11 1 5 4-1 4 4-3 4 4 1 3 6 5-2 5 5-2 4-4-3-5 5 1 2 7-1 6 4 3 0 1-4-5-8-13-8 0-3 2-2 9 6 1-1 0-3-3-3-2-7-7 3-4-5 0-2 5-6-4-8 4-3 7 2 2-3-6 0-2-2-2-11-2 1-2 8-3 3-6 0-2-4 3-6-5-5-2 0-1-3zM340 163l6 1 3 3-3 3-1 7-8-6 0-5zM0 135l0 3 2 0 0-2zM154 133h1v1h-1zM138 135l6 3 2 8 4 0 2 2-1 4 3 2 0-8-3-2 3-3 0-2-4 0-1 4-2 1-1-11-2-1-2 3zM290 130h1v1h-1zM424 129l-6 1-3-2-2 3 1 2 6 0 2 2 0 4-3 4-3-5-4 5-4 0-3-3 0-3 2-2-1-2-3 0-5 5-5 1 1 2 4 0 4 5 0 6 3 3-1 4 3 3 13 0 2-2 2-6zM413 152l4 3 0 3-2 2-3 0-2-2 0-3zM411 150l2-2 1 1-1 2zM416 146l2-3 2 1-2 3zM233 124l2 4 2-3zM158 124l-1 1 2 1 1-1zM356 124l13 6 4 4 0 2-4 3 0 2 4 4 8-1 8 4-1-7-7 2-6-4 0-3 2-2 3 0 0-6-2-2-3 2-3-1-2 2-3 0-8-6zM376 120l-2 0 1 4 2-2zM178 119h1v1h-1zM409 119l-3-1-1 4 2 0zM12 118l-10 2 4 1 3 3-1 5 5-1 2-3 0-4zM380 119l4 3 3-2-1-3zM25 117l-2 0-2 3 1 3 4-3zM258 114h1v1h-1zM258 111h1v1h-1zM183 110l0 2 4 2-2 3 4 0-1-5-2-2zM127 110l-3 1-1 3 6 4 0 3 4-5zM303 109l-4 4-4 1 2 3 3-1 2 2 0 4-4 4-3-1-1 3 2 0 3-3 1 1 5-5 2 2-5 8 6 0 3 2 3-3 0-13-7-7zM302 114l3-1 1 2-2 1zM371 112l-7-4-5 2-2 3 5 1zM266 108h1v1h-1zM199 107l-1 2 8 8 5 2-1 3-5 1 1 3 4 0 2 2 0 5-2 4 1 3-4 3 3 1 4-3 3 2 0 10 5 3-1 3 4 12 4 3-2 3 2 3 7 3 1-4-5-6 1-7 4-5-4 0-2-2-1-6-6-4-3 0 0-2 4-2 3 2 5-1 0-3-6-9 1-6-6 4-2-2 0-4 2-2 1-6-2-2-7 2-5-6zM225 165l2-2 3 3-3 2zM226 153l3 4-1 6-5-7zM219 145l1-1 2 2-2 1zM377 105l-3 0-2 2 0 3 2 1 3-3zM252 105l0 5 2 0zM404 104l-1 2 2 2zM397 105l-2-1-3 5-4 0-2-2-2 1 8 3 5-3zM100 102l-6 6 0 5-3 5 1 4-3 4 1 2 3-1 5 4 0 4-4 8 10 2 3-3 2 0 7 5 6-7 5-1 1-6 3-3-1-4-9 0-3 4 1 6-4 3-7-8-2 0-4-4-1-4-3-3 1-5 6 0 6-3 0-4-7-6zM100 105l3 3-2 4-4-2zM406 101h1v1h-1zM211 101l3 7 7-2 2 2 0 3 6 6 5 0 2 2 6-1 0-5-5 0-3 2-2-2 0-3-5-3 3-3 1-4-3 4-3 0-2-3-3-1zM386 98l-2-1-4 2-5-4-4 4-6-1-3 4-2-1-1 2 8 2 2-5 10-1 5 2zM409 94l-3-1-9 3 10 0zM301 93l-2 1 0 4 3-3zM99 92l1 2 1-1zM67 92l-6 6 2 4 5-4zM391 91l-1 3 2-1zM336 91l1 2 4-1-2-2zM248 90h1v1h-1zM332 89h1v1h-1zM139 88l-3-1-5 5 4 1 4-3zM283 86l-2 2 1 3 2-4zM30 86l-2 7-3 3-4 1-3 5 5 0 3 3-2 6 5 1 3 3-2 3 5 4-1 6 6 4-1 2 4-5 5 0 3 4 9-10 2 0 8 8 1-2-9-9 1-6-4 2-2-2 4-2-5-4-3 1 0 4 5 5-7 6-2 4-7-4-2-6-6 0 0-6 5-4 7 1 0-3-4-3-3 0-5 5-4-2 0-4-2-3 0-3 2-2 4 0 6 5 2 0-2-4 1-4-8-5zM276 85l-3 1 2 3zM379 84h1v1h-1zM134 84l-3-2-5 7 2 1zM386 81l-2 2 1 2 2-1zM39 79l5 5 0 4 4 0 3 3-2 13 5 0 3-5-4-4 1-6 4 0 1-2-3-1-3 3-4-4-1-7-2 0 0 3zM135 97l1 5 7 4-3 6 1 2 4-5 3 0 2 2-1 6-2 2-5 0 3 9 3-2 3 2 2-1-4-5 6-12 6 5-2 4 4 3 4 0 3-3-5 1-3-5 2-5-7 0-5-4 5-5 2 0 1 3 2 0 6-5 3 6 4 0 5 3 2 0-2-4 2-3 6 4-1 3 4-4 4-1-1-4-2 0-10-7-7-1 4 3 0 2-2 2 0 4-2 2-3 0-2-2 2-4-4-5 0-4-4-1-4 2-3-4-4-2-2-7-2 1 2 6zM185 98l2-1 1 2-2 1zM152 87l2 0 3 4-2 4-3 0-2-2 0-4zM20 77l-6 6 0 7 8-9zM147 77l-3-2-4 3 0 2 4 0zM356 75l4 1 2-2-5-1zM287 73l-6 6 3 3 2 0 5 6 2 0 3-3 0-4-6-4-1-4zM252 75l3 10-4 4 2 2 7-2 3 2 0 6-2 3-2-1 0-4-4 1 0 3 4 2 0 5 4-3 4 2-3-4 4-3 7 10 2-5 7 0 1 2-3 3 5 4 3 0 8-6-1-2-2 0-4 5-3 1-2-2 7-5 1-4-5 2-2-2 1-3-6 3-4-6-2 0-3 3-3-5-4 2-3-4 2-4-2-2 1-3-2-3 3-4-5-1-2 4-4-2zM302 69l0 4-3 3 0 2 3 3 0 4 7 4 4-1 9 6 3-1 2-6-6-6-5 1-3-4 3-4 3-1-1-1-9 8-2-2 1-3-3-2-1-4zM302 80l3-3 3 2-3 3zM269 67l-1 3 3 1 1-2zM125 68l3 1-1-2zM420 65l-2 2 0 3-2 2-5 0-3 3 0 2 6 4 3 6-2 4 2 3 1 8 2 2 0 9 4 7 0-20-5-6 0-2 4-4-4-4 0-9 5-5 0-5zM0 64l0 15 3 1 2-4 0-7zM403 66l2 2 8-6-10 0zM387 62l-1 3 6 6 1-3-3-1zM381 65l-5-3-3 1 0 5-4 4-5 2 1 11-2 2-3 0-4-3 0-6-7 3-1 7-4 4 3 2 3-3 2 2 0 5-2 2-2-2-4 4-3 0 3 4-9 6-4-4 2-4-2-2-4 7-9 7 0 4 6 0 1-6 3-3 8 6-5 8 1 3 7-4-1-3 4-4 0-4 2-2 3 2 0 5 3 2-1-4 6-10-2-6 6-1 2-2-2-3-3 0-2-4 2-1 4 3 4-5 8 3 2-2-5-2-2-2 0-3 4-6 4 0 4 4 2 0-2-10zM260 61l-9 3-4-2-1 3 3 3-2 2-3 0-2 2-3-3-3 0-3 3 4 6 2 10 6-3-6-7 2-5 2-1 4 2 4-7 5 2 0-2 5-5zM87 59l-1 3 5 12-3 7 7 1 2 2-3 1-2 3 4 2 0-5 6-1 3 4 0 10 5 0 3 3 0 3 13-3 2-2-2-4-4 3-12-8-2-7-6-6-5 0-4-6 7-7-7-4zM143 55l-4 0-2 2-1 9 3 6 5-7-3-4 3-4zM81 54h1v1h-1zM276 47h1v1h-1zM50 51l0 2 3 1 2-2 5 0 1-4-3-2-1 4-2 1-2-5 0 2zM422 45l-2 0-6 5-6-2-4 3 3 4 5-5 3 2 2-2 4 0zM388 47l-4 0-4-5-2 0-1 2 2 3 0 4-4 5 3-2 5 0 0-2zM404 41l-3 0-2 4 2 1 3-3zM239 41l-4 5 1 3 7 5 4-1-2-7zM85 41h1v1h-1zM419 40h1v1h-1zM332 38l1 2 1-1zM44 37l-1 3-5 3 1 4-4 3 0 2 7 5-4 5 0 4-2 2-5-6 0-10-5-1-3-3-1 1 2 6-5 4-8 2-2 2-1 8 10 0 4-3 3 3 3-3 4 0 6 6 3-2 5 0 6 3 6 0 4-3 6 2 7-3 2 4-8 4 3 5-2 5 0 3 2 2-2 8 2 1 10-5 3 4 0 3-6 5-6 0-4-5-2 2-1 5 5 3 3 7 2-2 0-3 3-1 7-7 0-4 2-2-1-11-3-2 1-6-1-1-4 4-5-1-2-2 0-3 2-2 3 0 4-3 0-5-10-4-3-3 0-3-6-4-8 3-7 8-3 0-3-3 0-4 6-6-4-3-3-5 0-4 4-4zM55 69l3-4 4 2-3 4zM14 63l2 2-2 3-2-2zM422 32l-2 3 3 2 1-4zM22 32h1v1h-1zM42 29l-2 1 1 2zM66 29l-5-1-4 3-4 0-3 8 3 1 4-6 5 0zM44 25h1v1h-1zM415 24l-2 1 1 3 2-2zM10 24l2 9-4 3 3 1 4-4-1-4zM7 22l-4-1-3 2 0 4 3 0zM113 8l4-1-3-1zM56 5l-3 1 0 7-2 2-4 0 0 6 4 0 4-4 4 0 4-3-2-2-5-1zM103 3l1 4 1-3zM10 5l2 2 6 0 3 5 2-2 3 1-4 4-2 6-3-3-3 3 6 3 8 7 0 5 2 2 0-6 3-4-6 0-2-2 0-2 5-3-3-4 2-10-1-1-7 2-5-5zM0 3l0 10 3 1 0-10zM72 1l-1 1 2 2 0 3-3 3-6-3-2 1 3 1 4 4 6-1 2 2 5-6 6 6 0 4-6 5-4-1-2 4 0 5 5 9-5 4-4-2-3-4-2 0 0 3-4 3 14 3 9-12 0-6-3-4 6-4 5 1 3-3 9 1 1-3-11 1-3-4 1-9-12 1-3-4-5 1zM401 0l0 4 5-4 6 5-1 4-4 4 8 4 4 7 5-4 0-3-5 1-4-3 0-2 3-3 6 1 0-4-5-2-3-4-5 1-2-2zM302 9l-4 6 6 1 6-3 8 5-2 3 0 4 2 3 5-10 3 0 4 3 1-6 6-4 6 6-1 4-3 3 4 3 0 3-5 4-3-1-1 2 7 2 2-4 4-3 3 0 4 4-7 7-5-1-6 5 6 0 4 5-6 9-4-2-4-9-6 0-5-4-3-8-3 4-4-2-3 1 2 6 5 1 2 2 4 0 10 10-1 4 3 7 3 0 1-4 4-2 4 8 6 0 0-3 4-5 4-2 2 1 5-5-3-1-3-4-6 0-1 2 3 4-3 5-4 0-2-2 2-6-2-4 3-3 5 1 0-6 3-3 2 2 0 3 6 3 0 6 4-2 0-10-4-1-5-6-6-3 3-4-3-14 3-4 7 1 3-4 4-1 0-2-8 4-3 0-4-3-8 0-9 4-2-2 1-7-3 0 0 7-2 2-4 0-6-4-1 1 1 4 4 3-2 2-9 0-6-6zM354 24l2 2-4 3-1-2zM346 25l1-1 1 2-1 1zM347 11l2 2-1 3-3-1zM315 3l4-1 1-2-5 0zM304 0l1 2 3-1zM238 12l0 3 6 9-2 3 1 2 6 3 0-2-3-3 3-3 3 0 5 7 6 0 2 2-1 13-6 5-3-1-5 4 1 1 5-2 11 0-2-5 4-3 0-7-3-4 2-2 7 6 2 5 4 3 1 7 6 2 4 5 0 4 2 0-4-11 4-3 8 3 0-3-7-4-6 1-6-5 1-2 4-1 8 1 3-4-1-1-6 3-3-3 0-2 5-5-2-5 3-6-6 2-4-8 7-6-1-5-3 0 1 3-2 2-3 0-1 2 0 7 5 5 2 6-10 2 0 2 4 3 0 4-4 5-2-1 0-4-9-9-5 2-5-8 2-3 5 2 3 0 2-2 7 1 1-3-7-7 0-6 1-1 5 4 2-2-1-2-3 0-2-2-2 3-7-1-1 2 2 5-1 5-2 2-5 0-3-3-6 0-2-2zM235 2l4 2 2-2 9-2-15 0zM111 23l0 2 5-1 4 6 8 0 3 3 0 9-5 4 1 2 6-5 3 2-1 4-6 4-7-2-3 3 5 1 2 2 1 5 1-3 7-5 0-3 5-8-5-4 0-6 3-4 5 2 3-3 0-8 2-2-2-7 6-6 5 2 7-7 6 0 5 2 5 8 2-5 7 4 1 5-2 5 2 4-2 2 0 4 4 3-11 9-2-2 0-6-2 0 0 4-4 3-7-3-1 7-2 2-4 0-5-8-4 1-2-2-4 0-2 5 2 3-1 3 7 8 0 9-3 4 1 1 5-5 7 0 5 6 5 0 3 4 1-1 0-4 3-4-2-1-3 2-4 0-4-5 4-3-1-2-3 0-2 3-4-2-1-4 9-8 5 5 5 0 3 4 1 7 4 7 11 6 13 1 11-2 9-5 4-5 1-15-9-10 2-3 3 3 3-4 5 1 1-6-1-1-3 4-3 0-3 3-3-5 4-1 2-4-2-3 1-4-5-5 2-2 5-1-2-2-3 0-8 6-3 0-5-5 0-3 6-5-1-2-6 0-4 4-6-3-5 0-1 5-4-1-2-2 0-3-31 0-2 2-2-2-5 0-2 3-1 7-3 2-3-4-1 6-2 2-6-2-9 1 2 3 5-1 3 2 11-3 3 4-1 5-2 2-6-2-3-3-4 5-3 0-5-3-1-4zM171 44l3-3 7 2 0 2-5 4-2 0zM187 49l2-4 7-5 12 0 8 3 7 6 2 4-1 8-10 7-13 2-7-3-5-5-2-4zM221 23l1-1 1 2-1 1zM203 12l4 1 6 5-5 5 0 2 7-1 3 3 0 7-2 2-5-1-5-7-2 1-2-2-4-9zM131 0h1v1h-1zM114 2l3 1 3-3 5 0-11 0zM95 0h1v1h-1zM34 1l1 3 5 1 4 4 8-7 0-2-2 0-2 3-8 0-3-3z"/>
<path fill="#ba658b" d="M184 316h1v1h-1zM108 316h1v1h-1zM373 315l3 1-1-2zM70 315l-1-1-1 2zM31 316l7 0-2-2-3 0zM382 313l-1 3 3 0 0-2zM116 313l-2 1 1 1zM351 312l0 4 3 0 0-2zM292 313l-1-1-1 2zM129 312l1 2 1-1zM20 312l-1 2 2 2zM0 314l0 2 8 0-5-4zM362 311l-1 5 3 0 0-4zM296 310l0 2 4 4 6-1-1-4-6 1zM90 310l-2 0 0 2zM405 309l-2 0 1 3zM319 309l-6 1 2 2 0 4 4 0zM239 316l-1-7-1 4-3 3-4-5-4 1 4 4zM63 309h1v1h-1zM412 308l-2 1 1 2zM385 309l4 3-2 4 10 0 0-2-5-2-2-4zM247 308l-3 2-2 6 7-1 0-5zM186 306h1v1h-1zM352 306l-9-1-4 5-5-2-1 3 2 2 2-1 5 4 5-8 3 1zM210 305l-3 11 3 0zM33 305h1v1h-1zM0 305l0 3 2 0 0-2zM123 303l-1 2 3 4 1-3zM89 303h1v1h-1zM395 302l-1 2 2 1 2-2zM361 302l-1 2 2 2 1-2zM144 302l-8 7 2 4 5-1-2-5zM313 301h1v1h-1zM415 300l0 6 6 1 1-1-3-1zM406 300l-2 0-1 2 2 1zM180 300h1v1h-1zM335 298l-2 3 6 4 2-2-3-5zM56 298h1v1h-1zM38 298l-1 2 2 2 1 6 5 2-1 5 9 1-2-4-7-3 3-3 2 2 2-1 1-8zM331 296l-3 0-8 10 2 1 5-8 4-1zM256 297l1 9 7 7 6 2 5-4-1-2-7 2-2-2 0-4-6-4 0-3-2-2zM0 296l0 3 3-1zM8 294h1v1h-1zM261 291l0 2 8 6 0 3 9 0 2 2-2 4 3 0 3-6-6-2-7-7-6 0zM359 291l-6-1-3 3 0 2 3 1 4-2zM166 290l-4 1 1 4-6 5 2 5-2 2-2-1-5 5 3 5 3 0 2-4 3 0 7 4 9-3-5-3-1-4-5-1zM193 289l0 6 3 1 1-2zM301 287l-4 1-1 8-8 9 7 1 2-2 5-1 3-3-8-4 1-3 3 0 2-2zM244 288l-2-1-4 6-6 0-2 3 4 3 7-2zM118 287l-2 2 1 1 2-1zM378 286l-3 5 0 4-2 2-6 1 5 4 2-1 2 2-4 4 0 2 7 2 1-3-2-2-2-10 2-2 4 0 5 7 0-2 3-1 1-5-5 2-1-3 2-2-5-1zM353 286h1v1h-1zM21 288l0 3 3 4 6 1 5-2 0-2-4-3-1-3-7 0zM200 288l5 0 6 8 4-2-3-1 2-3-4-3-1-4-3 0zM251 282l-2 2 1 3 2-1zM333 283l-2 5 3 4 5 0 3 6 4 0 1-2-4-4 3-10-2-1-5 3zM259 282l1 3 6 2 3-1-1-3-5 0-2-2zM215 280l-1 5 2 2 3 0 0-4zM0 279l0 5 9 0-2-4-3 1zM300 276l-5 1 0 5 2 0zM219 276l0 2 3 2 1-2zM200 278l6 2-2-4zM379 274l-2 0 0 4zM364 274l-8 3 5 4-3 4 1 1 5-2-3-4 4-4zM229 274l-1 5 5 4 3 0-2-5zM128 276l0 2 3 3 5 0-4-7zM120 273l-2 0-5 6-7 2 0 6 4 6 0-10 3-3 2 0 4 4 0-6 2-2zM345 271h1v1h-1zM330 271l-2 3 3 1 3 5 3 0 1-4-5 0zM250 271l-3 0-5 3 2 3 0 5 6-3zM60 271l3 16 3 3 2 0 3-3 4 0 0-3-8 0-2-2 2-8zM308 272l10 2-2-3-4-1zM174 270l-7 4 1 5 3 0 0-3 2-2 3 3 1-1zM379 269h1v1h-1zM350 269l2 4 1-2-1-2zM124 268l-3 2 1 2zM135 267l-1 4 7 6-2 3 2 1 2-6-4-3 1-3-2-2zM373 266h1v1h-1zM253 266h1v1h-1zM0 265l0 3 2 0 1-2zM395 264l-6 6 3 0 4 3 3-4 4-1zM272 262l-3 6 2 2 6-1 2 3-2 2-5 0-2 5 7-4 10 9 3-1 1-3-10-6 2-5-7-7zM125 260l4 4 3-1zM408 259l-1 5 6 9-2 5 4 5-5 5-7 1-3 4 9 5 1-3-2-4 2-2 9 0-2-3-1-9 4-4 4 0 0-8-5 5-4 1-3-4 1-3zM227 258l-3 0-6 8-2 0-2-3-1 1 1 7-2 4 4-5 4-2 7 0zM134 257l-2 1 1 2zM250 256l-2 2 1 4 3-3zM204 257l-1-1-2 4-10 8-4 0-8-4-2 2 7 1 7 7 5-8 6-1zM68 259l3 2 4-3-5-2zM338 255l0 8-2 3 5 0 0-4 2-3-3-4zM58 255l1 2 3 0-1-3zM383 253l-2 2 1 8 4 2 3-3 0-3-3-1zM239 253h1v1h-1zM122 252l4 2 5-1-6-2zM412 247l-4-1-5 6 2 1 3-4 3 0zM354 246l-4 2 0 4-2 2 1 4 3 2 0 4 3-2 0-2-4-1 0-6 5-4zM396 252l-2-3 2-3-1-1-3 3-11 0 6 4zM274 247l3 8 7 1 5 4 0 2-5 5 1 1 10-4 3-3 5 0-4-7-4 5-3-5-9-2-2-2 3-3-1-2-3 0-2 3-3-2zM277 250l2-1 1 2-2 1zM147 245l-4 1-2 3 5 1 3 3 0 2-4 4-4 1 0 4 4 1 5-7 3 2 1 5-1 3-5 3 1 5-2 3 0 4 6 5 1-2-3-3 4-3 2-7 5-3-3-3-1-8zM150 274l1-1 1 2-1 1zM77 252l0 2 6 5 2 4 11-10 1 4-3 2 0 2 11-5-2-2 0-6-3 0-5 4-4-1-3 4-4 1-2-2 1-8-3-1 0 5zM30 245l2 6 7 1 3-5 0-2-3 2zM328 245l6 3 2-1-2-3zM64 244l1 2 2-1zM52 243l-1 1 3 2 1-2zM313 242l-5 8 3 4-1 3 2 2 3-1 2 2 0 5 2 1 2-3-4-10-4-4 2-3 0-3zM235 242l-2 3 2-1zM189 242l-1 1 2 3-3 3 8 2 1-1-4-4 0-3zM119 244l-6 2-3-3-5-2-2 1 4 3 0 3 6 7-3 4-3 1 1 4-4 4-7-3-9 0 0 7 3 3 0 5 2 2-2 2-4-1-2 2 5 1 5 6-2 2-4 0-6 5-8 0-3-5 1 3-2 4 4 5-2 6 1 4 5 0-1-5 4-6-1-2 8-4 6 1 2 2 0 4 5 1 2 2 9-2 4-4-2-9-3 2 2 6-2 2-6 0-3 2-4-4 2-9-7-6-2-4 5-9 12 0 2-2 0-3 5-4-3-1-1-3 3-3 4 2-1-5-3-3 0-2 4-2zM180 240l-2 2 1 3 5 1 1-5zM264 239l-1 1 2 1zM211 239l0 5-3 3-4-1-2 4 2 3 3-3 4 0 7 7 2-6-3 0-4-4 3-3 2 0 6 6 2-2-8-6zM158 239l-2 4 2 2 4 0 1-3zM172 238l-5 4 3 3 1 5 3-2-2-4zM340 237l-2 2 0 4 5 0 1-3zM226 237l-1 3 2 1 1-3zM199 236l-4 4 0 2 3 0 2-4zM75 236l-2 4 3 2 2-4zM358 235l-2 1 1 3 2-2zM54 235l-1 4 3 2zM6 234h1v1h-1zM281 234l-6-1-3 6 7-1zM422 232l-1 3 3 1 0-4zM223 233l-3-1-4 4 6 1zM260 231l-3 2-2 4 2 4-4 3 0 3-2 2-3-4-4 1 2 6 3 1 5-1 2-2 1-8 3-3 1-4zM232 231l-2 4 3 3 2 0 1-3-2-4zM28 230h1v1h-1zM77 229h1v1h-1zM336 229l-6-3-6 7-5 2-4-1 1 4 5-1 5 2 7-8 3 0zM104 229l-5-4-11 2-2 2 0 13 6 0-3-3 0-5 2-2 6 2 3-4zM306 223l0 8 7 0 1-5zM322 223l-1-1-1 2zM165 221h1v1h-1zM276 219l6 2-1-2zM259 219l-6 1-3 3-7-1 0 2 3 2 0 4 5 1-1-3 5-5 4 0zM418 217l-8 7 3 4 0 5 3 5 2-2-5-10 5-6zM205 217l-3 6-7 4 0 3 2 1 6-7 6-2 3 3-5 3 0 6 2 1 2-3 6-2 2-4-3-6-6 1zM424 215l-2 2 0 3 2 2zM105 215l4 3 1-1-2-2zM370 226l-4-4 0-5-6-3 0 5-4 4 0 4-3 3-8 0-4-3-1 5 8 0 2 2 4 0 3-4 0-4 4-3 7 6 2-1zM267 214l-2 3 5 3 1-4zM399 215l-1-1-5 3-3-4-2 0-2 2-5 1-3 8-12 11 4 2 0-3 3-3 2 0 3 5 5 2 10-10 4-1 0-3-3-5 4 0zM387 219l2 2 0 5-5 6-2-2-1-6 3-5zM234 213l-5 1-2 2 0 3 2 1zM174 213l1 4-3 5 1 11 3 0 2-9 2 0 8 6-2-4 1-4-3-3-6-1zM138 213l-1 2 2 1 1-2zM409 212l-1 1 2 1 1-1zM214 212l5 6 0-2zM153 211l-2 0-3 3 2 3 4-2zM252 210l-1 4 3 2 1-4zM247 210l-3 2-5 0 2 6 7-6zM199 210l-3 1 0 3-3 3 0 4 6-1 2-2zM142 210l0 2 3 0 0-2zM306 210l-1-1-2 2-4 0-2 6-11 9 6 0 4-6 7-1 0-4zM205 209l-1 3 3 2 1-3zM165 210l-2-1-3 3 0 2 3 0zM125 210l0 2 4-1 3 3 2-1 0-3-3-2zM103 208l-4 3 0 4 2 0 0-2 3-3zM82 213l-4-4-4-1-4 4-3 0-3 5-4 0-1 2 4 0 7-5 6 1zM209 206h1v1h-1zM73 204h1v1h-1zM304 203h1v1h-1zM247 203l-1 2 2 1 1-2zM354 205l6 1 6 4 4-1-4-8-10 2zM240 198l0 2 3-1zM148 198l-3 6 3 4 2 0 3-2 0-4-2-4zM50 207l4 0 3 3 2 0 1-2-5-4 1-2 13 0-5-4-9 0-5 4zM231 197l-4 2 0 3 3 5 2-8zM423 195l-4 7-5-1 2 7 3 0 3-3 0-3 2-2zM311 196l-4-1-2 4 5 0zM410 194l-3 1 1 3 3-1zM264 194l-6 0-3 3 0 4 1 1 4-3 3 0zM88 203l0 2 4 3 1 4 4-2-3-7 2-2 5 0 9 8 2 4 7-1 4 2-5-9-8-8-7 2-2-2 0-3-3 4-4 0-3 4zM112 206l2-1 2 4-1 1zM356 192l-3 0-1 3 1 1zM221 190l5 4 4-4-3-2zM135 188l-1 4 2 3 7 3 1-2-4-3 0-3-2-2zM107 191l3 2 4-1-2-4zM361 186l-2 2 4 3 1-4zM273 186h1v1h-1zM263 186h1v1h-1zM337 184l-2 0 0 2 3 3 1 4-1 14-4 4-4 1 3 5 9-9-2-9 1-9zM216 184l-3 2-3 10 10 12 4-5-3-3-4 1-4-4 1-4 3 1zM291 188l-5-5 2 4-6 7-3-2-2 1 1 5-2 2-4-3-3 0-3 5-3-1-4 4 11 2 1-3 4-2 2 7 2 0 4-4 4 0 1-1-2-4 4-2-1-3 2-2zM244 182l-1 2 3 1 0-2zM160 190l2 4 5 1 1 6 5 2 12-3-2-4-3 0-2 3-3-1 1-3-7-5 0-4 3-3-1-1-5 7zM93 182l-3 3 0 3 2 0 2-3zM128 181h1v1h-1zM117 181l0 3 3-1 2 2 1 8 6 4 1-2-6-5 1-5zM20 181l-2 2 4 2 1-3zM0 180l0 3 2 2-1 4 10 8-1 2-10 1 6 2 3 3-4 8 7-3 3 3 0 8 3 2-2 4-6-3-3 1 1 3 4-1 2 2 1 5-5 7 0 3-2 2-3 0-1 4-4 3 0 4 6-2 6 2 5-4-3-4 0-5 2-2 7 3 4-1-6-3-5-6 3-9 10 0 3-3 5 1 2-2 2 2 0 4 3-3 2 0 2 2 0 4-2 2-1 8 2 1 4-8 0-5 6-9-6 0-6 3-3-1-2-4 2-2 10 1 3-1 2-3-4 0-5-3-6 6-6 2-4-2 1 3-4 3-9-2-2-2 3-3-4-4-1-4-3 0-3-3 3-4 3 0 1-2-5-4-1-4-6-6 0-2-2-2zM329 179l-5 0-3 3-7-2-1 2 3 2-1 5-2 1-2-3-3 2 2 3 4-1 3 4 0 2-3 3 0 5 5 4 3 8 2-3 0-4-3-3-1-11-3-8 5-4 7-1zM11 180l1 2 3 0-1-2zM423 178l-1 1 2 1zM370 180l-1-3-4 2 2 2zM229 177h1v1h-1zM111 177l-8 1-2 4-3 2 0 4 3 3 4-2-1-5 2-2 3 0 2-2zM217 176l0 4 4 1 0-4zM297 174l1 7-4 2 2 9 1-4 5-6-1-2 3-3zM139 172l-1 3 2 1zM415 171l5 3 1-1-2-2zM22 171l2 3 0 4 5 1 2 2 0 5 4 0 1-2-3-3-2-7zM206 169l-2 1 0 5-2 2-16 3 1 4-4 3 2 2 4-1 2 2-2 3 4 5 6-3 0-3-3-5 2-2 4 2 2-1 0-4 3-3zM193 181l3 3-2 3-3-2zM333 170l7 7 1 4 3-2 2 1 0 2 3 3-2 3 1 2 3-2 2-4 5 1 2-2 0-3-3-3-3 3-2 0-4-4-4 2-7-7-1-3zM392 166l-4 2 1 3 3-3zM381 166l-4 2 1 1zM295 166l-1 2 3 1 0-2zM399 164l-1 4 3 4 0 6-2 4 6 1-1-6 6-4 0-3-8 0-3-3zM320 164l0 2 5-1 4 3-1-4zM109 164l1 2 1-1zM369 163l0 2 4 3 1-2zM291 163h1v1h-1zM389 160l-1 2 3 1 1-1zM214 161l-4 2-2-4-4 4-4 0 3 3 9 1zM326 159l-1-1-1 2zM135 158l1 9 3 0 5-4-2-4zM154 156l-5 6 2 1 4-2 1 2-6 7-2 5 4-3 1 2-2 3 3 3-1 4 9 1 1-5 4-3-3-1-6 5-3-1 2-9 4-4-4-2-1-8zM156 167l1 2-2 2-1-2zM0 159l2 3 12 0 2-2 5 1-2-4-11 1-3-3-3 0zM397 154l-1 1 3 4 1-2zM204 155l4-2 5 1 0-2-5-1zM118 151l-1 3 2 3 10 7-3 3-6-5-1 6 5 2 3-3 2 4 3 0 0-9-6-6 2-4-6 2zM105 160l-6-4 0 2-5 4 4 7-10 7-12-1-1-4-5-5 2-2 3 2 4 0 2-2 3 2 3-1 3-4 0-5 4-3-1-2-3 1-1 4-7 8-5-5-11 0-4 1-6 7-2-1 1-2-4-2 0 5-5 4-2-2 2-2 0-5 2-3-1-2-4 0 0 9-3 8 3 3 2 15 2 1 4-3-4-2 0-5 2-2 8-1 1-3 4-3 0-5 2-2 2 0 5 6 6 4 9 2 2-2 5 0 6-3 1-4-2-2zM47 174l3-3 4 0 3 4-6 3zM51 151h1v1h-1zM337 150h1v1h-1zM224 149l-2 3 6 3 0 9 2 2 0 4 2 0 1-4 4-5-4 0-2-2-1-6zM294 148l-1 1 2 1 1-1zM351 143l-2 2-1 7-2 2-7 0-2-2 0 6-5 5 0 2 2 0 7-8 2 2-1 2 7 6-3 3 1 3 5-4 0-4-4-7 5-3 8 2 0-2-5 0-5-8zM132 145l-3-2-2 2 0 3 3 0zM31 145l0 7 9-1 0-2-3-1-4-5zM381 143l4 4 4 0-3-6zM361 140l-2 6 2 2 4-2 1 6 3 2 0-6-4-2 1-4-2-2zM335 140l-1 2 3 3 2 0 0-2zM112 141l0 2 4 3 4-3-2-3zM150 139l-2 7 4 2-1 4 3 2 0-8-3-2 3-3 0-2zM60 138l-1 2 2 1zM37 138l-2 2 4 4 3-3zM370 138l-1 2 3 1 2 4 2 0 1-2-3-3 0-2zM315 136l-7 0-6 10 3 1 3 4-3 3-8 1 2 3 2-1 4 5-3 6 4 4 3-8-5-5 8-7 1-8-3-4zM307 145h1v1h-1zM302 137l-2-1-4 3 1 1zM49 136l-1 5 3 1 1-3zM323 135l-2 4 7 1-3 9 5 1 2-3-2-8 1-3zM0 135l1 3 1-2zM394 139l1 2 3 0 4 5 0 5 5 1-2 4 2 6 12 0 3-3-1-6 3-6 0-8-3 2 1 5-6 3 1 9-2 2-3 0-2-2-1-8 8-7 0-4-2-1-3 5-4 0-3-3 0-7-2 0-5 5zM154 133h1v1h-1zM419 131l1 2 4 1 0-4zM290 130h1v1h-1zM416 128l-2 4 2 0zM364 127h1v1h-1zM379 134l-2-2 0-3 2-2-1-1-2 2-4-1-3 2 2 3 5 0zM123 125l-5 6 0 3 2 3 4-1 2 2 2-2 1-10zM358 124l1 2 1-1zM233 124l2 4 2-3zM158 124l-1 1 2 1 1-1zM148 123l-1 2 5 3 1-2zM205 123l1 3 4 0 2 2 0 5-2 4 1 3-4 2 1 2 7-3 3 5 2-2 8 3 5-1 0-3-6-9 1-6-7 5 1 4-2 1-2-6-4-3 1-4-4-4zM376 120l-2 1 1 3 2-2zM178 119h1v1h-1zM144 119l-2 2 1 2 2-1zM2 120l4 1 3 3-1 5 6-2-1-8zM409 119l-3-1-1 4 2 0zM348 118l2 2 0-2zM96 118l-3 2 0 2 3 0 2 2 0 2-2 1 2 8-4 8 10 2 9-8-5-6-3 0-2-2-5-11zM381 118l0 2 3 2 3-2-1-3zM25 117l-4 3 1 3 4-3zM72 115l0 3 3 3 1-4zM258 114h1v1h-1zM258 111h1v1h-1zM123 112l0 2 3 2 6 0-5-5zM296 113l-1 2 2 2 3-1 2 2 0 4-4 4-3-1-1 3 2 0 3-3 1 1 5-5 2 2-5 8 6 0 3 2 2-6-5-8-6-5 2-3-2-1-3 3zM183 110l0 2 4 2-2 3 4 0-1-5-2-2zM158 110l-1 1 4 4-2 4 4 3 4 0 3-4-5 2-3-4 2-6zM370 112l-6-4-4 2-2 3 3 1 2-2zM266 108h1v1h-1zM55 108l-2 2 0 3 4 3 2-6zM199 107l-1 2 8 8 3 1 0-5-8-6zM404 105h1v1h-1zM396 105l-4 4-4 0-2-2-1 1 6 3 5-3zM376 105l-3 2 0 3 4-2zM252 105l0 5 2 0zM31 113l1 3-2 2 5 4-1 6 2 2 4-1 0 4 3-4 5 0 3 4 9-10 3 0 6 8 2-1-4-5-4-2-2-4-6 2-6 7-8-5-1-5-5 1-1-7 4-4 7 0 0-3-7-1zM95 107l0 3 4 5 6 0 6-3 0-4-6-5-6 0zM100 105l3 3-2 4-4-2zM331 102l-4 7-7 5-2 5 5 1 2-2 0-4 3-3 2 0 6 6-4 8 0 2 2 1 5-4-1-3 4-4 0-8-2-1-3 4-3 0-3-4 2-4zM406 101h1v1h-1zM224 105l5 12 5 0 2 2 6-1 0-5-5 0-3 2-2-2 0-3-5-3 3-3 1-4-3 4zM219 100l-7 1 0 3 3 4 5-4zM22 99l-1 2 5 4-2 6 4 1 2-10-2-3zM370 99l-4-1-3 4-4 1 7 1zM385 97l-4 2 3 1zM54 97l-4 3 1 4 2 0 3-4zM374 96l-1 2 3 1 1-2zM127 96l-1-1-7 5-5-2-2 1 2 5 2-2 9-1 2-2zM301 94l-1 3 2-2zM408 93l-10 3 9 0zM354 93l-2 1 1 4-2 2-4-1-2 3-4 0 4 5-1 3 5 5 1-4 4-5-1-6 7-3-1-2-3 0zM169 98l0 4 2 3 4 0 5 3 2 0-2-4 2-3 6 4-1 3 4-4 4-1-1-4-2 0-10-7-3 2-2 8-2 2-3 0-2-2 2-4zM185 98l2-1 1 2-2 1zM100 92h1v1h-1zM67 92l-5 5 1 2 4-2zM391 91h1v1h-1zM338 90l-1 1 3 2 0-2zM248 90h1v1h-1zM255 96l0 3 4 2 0 5 4-3 4 2-3-4 4-3 7 10 2-5 7 0 1 2-3 3 5 4 3 0 8-6-1-2-2 0-4 5-3 1-2-2 7-5-1-3-3 1-2-2 0-3-5 3-4-6-2 0-3 3-3-5-4 2-3-4 0 8-2 3-2-1 0-4zM167 89l-3-1-5 6 2 1zM72 88l-1 4 3 4-2 5 3 1 4-5 5 3 1 5-6 5-6 0-4-4-2 4 2 2 5-1 5 5 6-6 0-4 3-5-1-8-8 0zM359 87l-1 2 3 2 2-3zM149 87l-2 0-6 8-3 0-3 3 4 6 3 0 3 3-4 4 1 2 3-4 7 2 0-6 6-6-2-4-4 1-2-2zM138 88l-4 0-3 4 3 1 4-3zM31 87l-1 5 2 2 5 0 4 4-1-7-5-4zM93 86l-1 2 4 2 1-3zM57 86l-1 2 2 1 1-2zM379 84h1v1h-1zM238 87l3 1 3-3-5-1zM152 84l-1 2 6 4 1-3zM84 84l-2 1 1 2zM133 83l-2-1-5 7 2 1 1-3 4-2zM386 81l-2 2 1 2 2-1zM351 80l-2 1 1 3-5 7 1 2 7-4-3-4 2-2zM303 83l1 2 9-2 5 4 3 6 4-5-2-4-5 0-4-5-6 1zM145 79l-1-1-2 2zM70 78l-1 1 3 2 1-2zM46 78l1 2-2 2-3 0 2 2 0 3 4 1 4 5 1-3-4-5 0-5zM21 78l-3 0-4 5 0 7 8-9zM151 77l-1 2 2 1zM366 76l-1 10 7 4 2-2-7-4 2-7zM253 76l4 7 5-2-2-4-5-2zM286 74l-4 5 5 3 4 6 5-3 0-4-6-1-1-5zM357 74h1v1h-1zM319 73l-1-1-2 2zM260 72l-1 2 3 1 1-2zM172 72l1 3 1-2zM244 71l1 2 4-1-1-2zM303 69l-1 4-3 3 1 2 3 0 2-2 3 1 0-2-4 0 1-4zM237 69l-2 2 0 3 4 1 2-3zM390 67l0 3 2 1 1-3zM269 67l-1 3 3 1 1-2zM150 66l-3 2 1 2 3-3zM420 65l-2 2 0 3-2 2-4 0-2 3 7 12-2 4 2 3 1 8 2 2 0 9 2 5 2 1 0-19-5-6 3-7-3-3 0-5-2-2 1-3 5-4 0-3zM0 64l0 15 3 1 2-7-1-5zM374 63l-3 10 7 1 0 4 3 1 0-4-2-3 1-7zM403 66l2 2 1-2 3 0 4-3-10-1zM387 62l-1 2 2 1 1-1zM259 62l-4 0-3 2 4 3 4-4zM247 62l-1 3 3 2 1-3zM141 62l-4 1 2 4 0 5 4-6zM331 60l-1 2 2 6 4 1 4-8zM41 60l-3 2 1 2 3-1zM88 59l-1 3 4 11 0 3-3 4 8 2 2 2 4-1 5 10-1 5 6-1 2-4-4-3-2-7-6-6-4 2-4-4-1-4 7-7zM36 71l2 3 3-2 5 0 7 3 5-2-3-5 3-3 2 0 2 2 0 4 4-3 3 2 5 0 4 5-1 3 1 1 3-2 0-6-9-4-3-3-1-4-5 5-3-5-3-1-3 5-6 4zM291 57l2 7 1-1zM165 57l-1 1 2 1 1-1zM143 55h1v1h-1zM365 56l-3 0-4 3-1-3 3-3-6-1-1 2 3 5-3 4-4 0-2-2 1-7-3-1-2 2 2 4-3 3 3 6-1 2 6 1 0-3 5-5 7-2 3-3zM267 52h1v1h-1zM366 51l1 2 2-1zM134 52l-13 0-2 2 5 1 3 6 7-7zM31 53l-2-2-3 1-1 5-4 3 0 3-2 2-2-1-3 4-2-2 0-3-2-1-1 9 8 0 3-3 2 0 3 3 3-3 5 1 1-4-3-3zM27 64h1v1h-1zM251 54l2 1 5-3 5 2 2-2-2-2-8 0zM323 50l6 5 4-4-1-2zM147 50l3 6 0 6 5-1 10 10 3 0 5-3-7-1-3-3 0-2-6-4 0-3-2-2-2 0-3-4zM411 48l-3 0-4 3 2 4 4-2zM275 48h1v1h-1zM294 47l2 3 6 3-1-4zM171 47l0 2 3 1zM57 47l0 4 2 1 1-4zM54 47l-4 4 1 3 3-1zM238 46l-1 3 7 5 2-2 0-4-2-2zM137 46h1v1h-1zM422 45l-2 0-6 6 6-1 2-2zM38 43l1 4-3 3 0 3 6 2 3 4 2-3-7-8 0-5zM379 42l-1 3 2 3 0 5 3 1 0-2 5-5-4 0zM418 41h1v1h-1zM404 41l-4 1-1 3 2 1 3-3zM86 41h1v1h-1zM165 41l1 3 4 0-1-4zM332 39h1v1h-1zM154 38l-3 8 8 5 4-4-4-1zM63 44l12 2 0-2-6-6 0 3zM43 38h1v1h-1zM297 38l-2-1-4 2 3 1zM146 37l-2 3 4 2 1-3zM309 38l-1 3 10 7 2-5-2-7-3 4zM134 36l-3 1 0 5-5 4 1 2 8-7zM424 35h1v1h-1zM337 44l1 2 4-1 5 5 3-6 5 5 0-6 3-3 10 7 2-5-7-1-4-4-2 1-4-3-6 6-5 0zM28 34l2 4 1-2-1-2zM334 34l2 2 6-1-1-2zM178 33l-1 4-3 3 2 2 3-1zM58 33l4 1-1-3zM238 30l-1-1-6 6 5 1zM42 29l-2 1 1 1zM44 26h1v1h-1zM10 25l3 9 2-1 0-2zM414 24l-1 2 2 1 1-2zM247 24l-4 4 6 4 0-2-3-2 2-3zM356 23l-2 8 4-3 0-3zM6 23l-4-1-2 4 4 0zM418 17l-1 4 2 3 2-5zM295 17l-7 3 0 2 3 3-2 2-4-2-5 3 4 4 0 6 3 0 2-2 0-3 4-4-1-6zM107 17l-7 2 6 1zM286 14l-1 1 2 1zM121 15l2 2 10 0-3-3zM251 13l-1 2 5 7 0 7 4 3 4-1 2 2-1 8 2 5 3-1 0-7-3-4 2-2 7 6 2 5 4 3 0 2 2 2 3 0 0-4-8-6 0-4-9-8-8 3-2-1 1-6-2-6-4-5zM62 13h1v1h-1zM238 14l2 3 4 0 3-5-7-1zM2 10l-1 2 2 1zM335 9l-2 0-6 7-4-2-4 2 0 2-3 3 2 7 5-10 3 0 3 3 2-1 0-5 5-4zM299 16l5 0 5-3 5 2 1-2-4-2-4 0-3 2-2-4-3 4zM148 16l-3-3-3 1-4-5 0 5-2 2 6 0 3 4-1 5-2 2-9-4-4 4-7-1-5-5-5 1-1 2 5 0 4 6 8 0 3 3 2 0 5-5 3 2 3 0 2-2 0-8zM412 8l-2 2 0 3 4 1 3-4zM362 8l-20 0 1 12 5 4-1 4-4-4-2 0 2 3 0 4 3 0 2-4 4-1 0-3-3-3 2-2 5 1 0-7 2-2 6 1zM347 11l2 2-1 3-3-1zM114 7h1v1h-1zM324 6l1 4 5-1zM93 6l-10 1 6 8 0 2-7 6-5 0-1 8 5 8 3-2-1-4 2-2-3-6 6-4 7 0 0-4-2-3zM56 6l-2 1 0 5-3 3-4 1 0 5 4 0 7-6-2-4zM104 5h1v1h-1zM418 4l-1 2 3 1 0-2zM372 4l-2 0-2 3 4-1zM11 4l2 3 5 0 2 2 7 2-6 8 1 2-2 2-3-2-1-3-2 2 13 10 4 1 2-2-1-2-5 1-2-2 0-2 5-3-3-4 2-10-1-1-7 2-3-4zM42 3l-2 2 4 3 2-4zM266 2l-1 12-5 3 9 3 1-5 3-1 2 4 3 0 1-2-8-8 0-4-2-2zM177 2l0 4 3 4 1-5zM81 5l-2-3-4 3-3-2 1 4-3 3-5-2-1 1 5 4 3 0 2-2 3 0zM34 3l3 1 0-2zM290 1l-3 4-3 1 1 3 6-3zM404 0l-3 0 0 4zM315 2l3 0 2-2-5 0zM304 0l1 2 2-1zM235 1l4 3 6-4zM183 0l1 6 5 3 1 6-2 4 2 2 3-1 2 2-2 2-3-1-2 2 0 4 13-1 0-5-4-3 0-9 3-4 2 0 1 3 10 8-4 6 8-2 2 4-2 11-10-4-12 0-10 5-6 11 0 7 2 6 7 9 8 4 23-1 12-10 2-5 0-6-3-7-8-7 3-4-2-7 2-1 3 3 3-2-2-5 1-4-5-5 2-2 5-1-4-2-5 6-9 0-4-4 0-4 6-5 0-2-6 0-6 6-5-4-3 0-1 3-3 1-4-3 0-3zM187 48l8-8 14 0 9 4 6 6 1 9-8 8-9 3-8 0-5-2-7-7-2-7zM221 23l1-1 1 2-1 1zM168 0h1v1h-1zM164 0l-7 0-3 3 0 2 3 2zM150 0l-4 3 0 4 2 2 2-1 1-4zM131 0h1v1h-1zM114 1l3 1 2-2 6 0z"/>
<path fill="#996ba3" d="M185 316h1v1h-1zM376 316h1v1h-1zM32 316h1v1h-1zM238 315l-1-1-2 2zM388 315l9 1-3-3zM382 313l-1 3 3 0 0-2zM352 313l-1 3 3 0zM130 313h1v1h-1zM21 313l-2 1 1 1zM0 314l0 2 7 0-3-3zM362 312l-1 3 2 1 1-3zM305 312l-5 1 1 3 3 0zM226 312l4 4 2 0-2-4zM297 311h1v1h-1zM210 311l-3 5 3 0zM88 311h1v1h-1zM62 311h1v1h-1zM44 312l2 4 6-2-5-3zM404 310h1v1h-1zM316 310l-1 6 3 0 1-5zM263 312l7 2 4-4-10 0zM239 311h1v1h-1zM343 309l-3 1 0 4 4-2zM248 309l-3 1-2 6 5 0zM411 308h1v1h-1zM387 308l-1 2 2 1 2-2zM334 308l-1 2 3 2 1-3zM1 307h1v1h-1zM372 307l1 2 6 0-2-4-3 0zM343 306l6 2 2-1-5-2zM323 304l-2 1 1 1zM124 304l-1 2 2 2 1-1zM99 304l-1 1 2 1 1-1zM395 303l1 2 1-1zM361 303h1v1h-1zM144 302l-8 8 3 3 3-1-1-6zM415 301l0 4 5 2zM282 301l-3 4 1 3 3-5zM404 300l-1 2 2 1 1-2zM79 299l-4 2-3-1 3 5 0 5-2 4 3 2 3 0-1-6 3-4zM336 298l-2 3 3 3 2 0 1-3zM257 298l0 7 5 4 2-4-4-2zM37 299l3 3 1 6 4-1 3-3 2 3 1-1 0-7zM368 297l3 3 6 0-2-3zM330 296l-3 1-2 5 3-4 2 0zM304 300l-8-4-7 9 4 1 4-3 6-1zM0 296h1v1h-1zM114 295l0 8-2 2-6-1-2 3 1 1 8-2 4-4zM390 294h1v1h-1zM342 294l0 3 3 1 1-2zM7 294h1v1h-1zM267 295l3 4 0 3 8-2-3-3-2 0-2-4zM196 294l-1-1-1 2zM100 294l-5-1-2 2-5 0-5 5 8-3 6 4zM261 292h1v1h-1zM35 293l-2-1-1 2zM165 291l-3 1 1 3-5 5 3 0 2 2-4 5-4 0-4 4 3 5 4-4 5 0 6 3 3-1-1-7-6 0zM358 291l-6 0-2 3 4 1zM117 289h1v1h-1zM403 289l-2 4 8 4 1-2-3-2 2-4zM243 288l-2 1 0 4-2 2-4-2-4 1-1 2 3 2 4 0 4-3zM303 289l-4-2-3 5 6 0zM379 286l-4 7 5 0 4 4 2 0-2-3 2-5-4 0zM23 286l-2 2 1 5 7 2 2-7-2-1-3 4-2-2 1-2zM92 284l-1 2 4 3-1-4zM86 284l-1 1 2 1 1-1zM63 285l0 2 4 3 3-3 5-1-9-2zM251 283l-1 3 2 0zM201 288l2 1 2-2 3 3 0 2 4 3 1-5-3-2 0-3-2-2zM345 283l-2-1-6 3-4-1-1 3 3 2 0 3 8-3zM260 282l0 2 9 2-1-3-4 1zM362 281l-3 3 1 2 3-2zM215 281l-1 4 4 1 1-2zM140 280h1v1h-1zM108 280l-2 3 2 6 2-5zM0 280l0 3 3 0 2 2 3-1-1-3zM271 277h1v1h-1zM201 278l5 1-1-2zM334 276l-1 2 4 2 1-3zM298 276l-2 1 0 4 3-3zM220 276l-1 1 3 3 1-2zM365 275l-8 2 3 1zM273 275h1v1h-1zM229 275l0 4 4 4 2 0 1-2-5-6zM379 275l-1-1-1 2zM277 274l10 9 4-1-2-3zM131 274l-2 2 0 3 5 1zM118 274l-2 6 3 3-1-4 2-4zM331 272l-2 1 1 1zM309 272l7 1-2-2zM249 271l-4 3-2-1 2 4-2 4 1 1 6-4zM174 271l-6 3 1 5 2 0-1-4 2-2 3 0zM149 271h1v1h-1zM61 271l-1 2 4 8 2-3 0-4zM155 270l-2 0 1 5-6 4 0 3 4 5 1-1-3-4 6-5zM390 269h1v1h-1zM351 269h1v1h-1zM124 269l-2 1 1 1zM137 267l-2 4 6 6 1-2-3-2 0-5zM2 266l-2 1 1 1zM397 265l-3 1 2 7 3-4 3-1zM288 266l-2-1-1 2zM179 265h1v1h-1zM114 264l-8 2-3 3-8-4-6 0-1 7 4 4 1 5 2-8 14 0zM92 271l2-1 1 3-1 1zM270 264l1 5 6-1 5 3 0-2-6-6-3-1zM201 264l-4-2-7 7-4-2-1 1 5 5 5-7 5 0zM130 262h1v1h-1zM408 260l-1 3 6 8-1 7 3 3-3 7 5 1 1-1-2-2 0-10 3-3 5 0 0-8-5 5-5 1-2-2 0-6zM354 260l-2 2 1 2 2-2zM125 260h1v1h-1zM228 260l-3-1-7 8-4-3 0 5 2 1 3-2 6 0zM112 258l-4 2 1 3 4-4zM251 257l-2 0 0 4 2-1zM133 257h1v1h-1zM70 257l-1 2 2 1zM203 256l-2 4 3-1zM340 255l-2 0 1 6-2 5 2 0 3-5zM298 255l-1 2 5 5 0-4zM382 254l-1 4 3 7 5-5-3-1zM59 255l3 1-1-2zM350 253l-1 4 2-2zM240 253h1v1h-1zM277 254l9 3 5 7 5-2-4-4 1-3-5 0-3-3zM313 251l-2 6 4 0 3 3-1 4 2 1 1-3-3-9zM123 252l3 1-2-2zM405 250h1v1h-1zM394 250h1v1h-1zM275 248h1v1h-1zM224 248h1v1h-1zM102 248l-4 2 2 3-2 3 1 2 5-2-3-2 2-3zM382 248l5 3 3 0-1-3zM409 246l-1 2 3 1 1-2zM350 248l2 2 4-1-2-3zM173 246l-2 1 1 2 2-2zM143 246l-2 2 2 2 4 0 2 2 0 4-4 4-2 0-1 3 3 1 1-3 5-4 4 5-1 5 7 4-4-13-9-12zM81 246l-1 2 2 2-4 4 5 3 0 3 2 2 9-8 0-2-3 0-4 4-4 1zM396 246h1v1h-1zM330 245l2 2 3 0-1-2zM283 245l-3 0 1 4zM221 245h1v1h-1zM30 246l2 4 7 2 2-3 0-3zM65 244h1v1h-1zM314 243l-4 3 2 3 3-4zM257 244l-2-1-1 4-3 3-4-4-3 0 2 5 3 1 2-2 3 1zM52 243l0 2 2 0zM190 242l0 5-2 2 7 2 1-1-4-3zM105 242l8 13 3 1 1-1-3-4 5-5-7 0-3-3zM180 241l-1 3 3 2 2-4zM158 240l-1 3 2 2 3 0 1-2-3-3zM212 239l-1 6-2 2-5 1-1 3 3-2 4 0 8 7 2-4-3 0-7-5 7-4zM173 240l-2-1-3 3 3 1zM339 238l-1 3 4 1 1-2zM226 238l-1 2 2 1 1-2zM199 237l-3 3 0 2 2-1zM75 237l-1 3 2 1 1-3zM54 237l1 3 1-2zM358 236l-2 1 1 1zM316 235l0 2 2 0zM26 244l-7-4-4-5-5 10-2 2-3 0 1 3-6 4 0 2 4 0 2-2 4 2 4-1 2-3-3-3 0-3 3-5 7 4zM421 234l3 2 0-3zM368 233l-1 2 3 1 0-3zM275 233l-2 6 6-1 1-4zM232 232l-2 2 3 3 2 0 0-3zM221 232l-1 4 2 0zM260 231l-4 5 1 4 2-1 0-3 2-2zM414 230l2 7 0-5zM347 230l0 2 4 2 3-1-1-3zM356 229h1v1h-1zM341 228l0 4 2 0 1-3zM336 230l-6-3-9 9 5 2 2-5zM16 227l-1 4 2-1zM376 226l-2 4 4 2-1 2 2 2 4 1 3-3-5-2-1-6zM100 226l-3 2-5-1-5 2-1 11 2 2 0-8 4-4 4 3 7-4zM8 225l1 3 2-1-1-2zM307 224l0 7 2 0 4-5zM44 223l-3 1 1 3zM359 223l-2-1-1 3 2 0zM253 221l-2 2-7 0 3 7 7-7zM216 221l-5 0 2 5-6 3 1 5 2-4 5 1 3-2zM55 220l-5 1-2 2 1 6-3 5 0 8 2-1 3-13 5-6zM277 219h1v1h-1zM258 219h1v1h-1zM418 219l-2-1-5 5 0 2 2 0zM206 218l-7 8-4 1 1 3 6-6 5-2zM61 218h1v1h-1zM40 217l-7 0 0 2-3 3-9-2-2 5 6 1 2-2 10-1zM424 216h1v1h-1zM175 216l0 3-2 2 0 10 2 2 1-1 0-7 3-3 8 7-2-3 1-5-6-1zM399 216l-2-1-1 3 2 0zM360 215l1 6 8 7 0-2-3-3 0-5zM265 216l3 3 3-1-2-3zM218 215h1v1h-1zM106 215h1v1h-1zM232 214l-4 2 1 3zM138 214h1v1h-1zM389 213l-5 3-3 0-2 5 1 2 4-4 3 0 2 2 0 5-2 3 2 3 3-6 2 2 3-2 0-2zM409 212h1v1h-1zM303 212l-4 0-1 5-10 8 5 0 4-6 5 0zM239 214l3 2 5-4-7 0zM153 212l-2 0-2 3 2 1zM80 212h1v1h-1zM252 211l-1 2 3 3 1-2zM199 211l-3 1 1 2-3 3 0 3 4 0 2-2zM44 214l1 2 11-1-1-2-3 0-2-2-3 0zM206 210h1v1h-1zM164 210l-3 2 1 2 3-2zM126 210l5 3 2-1-1-3zM112 209l-1 2 2 1 1-2zM102 209l-3 3 1 3 3-5zM77 210l-3-1-8 6 1 1 3-3 5 2zM117 207l0 3 4 3zM9 206l0 3-4 2 2 1 2-2 4 0 3 3 1 7 3-6-5-7-3 1zM113 203l3 2-1-2zM356 204l9 5 5 0-4-7zM221 201l-3 1 2 5 3-3zM340 199l-2 1 1 7-4 4-4 1 2 4 8-8zM148 199l-2 2 0 3 4 3 2-2-1-6zM50 205l8 4 1-1-6-4 2-3 4 1 4-2 4 3 1-1-4-3-9 0-4 3zM2 199l1 3 7 0 0-2-5 1zM241 198h1v1h-1zM231 198l-4 2 3 6zM88 203l5 5 0 3 3-1-3-6 2-4 7 1 5 5 4-1-2-7-6 2-3-2-5 0-3 4zM14 197l-1 2 3 1 1-1zM424 196l-6 7-3-1 2 6 2 0 3-3-1-3 3-3zM310 196l-3 0-1 2 2 1zM211 195h1v1h-1zM411 195l-2-1-1 3 2 0zM255 197l1 3 7-1 1-5-6 0zM125 193h1v1h-1zM355 192l-3 2 1 1zM339 189l-1 2 2 3 1-2zM223 190l2 3 2 0 1-4zM135 189l0 4 7 5 1-1-3-3-1-4zM108 190l1 2 5-1-2-2zM310 188l-1 2 3 1 0-2zM364 187l-1-1-3 3 2 1zM273 186h1v1h-1zM263 186h1v1h-1zM90 186h1v1h-1zM124 185l-2 2 1 3 2-3zM336 184l-1 1 2 2zM216 184l-4 5 1 3 3 0zM291 188l-5-5 2 4-6 7-3-2-2 1 1 5-2 2-4-3-3 0-3 5-3-1-3 2 6 3 4 0 3-4 2 0 2 5 2 1 4-4 4-1-1-3 4-2-1-3 2-2zM244 182l-1 2 3 1 0-2zM160 190l2 4 5 1 1 5 3 0 2 2 10-1 2-2-2-3-3 0-2 3-3-1 1-3-7-5 0-4 3-3-1-1-5 7zM118 182h1v1h-1zM32 181l-1 3 4 2 0-3zM21 181l-2 2 2 2zM11 180l3 2-1-2zM0 180l2 4 0 5 4 1 4 5 0-6-5-3-1-5zM423 179h1v1h-1zM324 179l-3 3-7-1 4 4-2 2 0 6 2 4-3 4 0 4 5 5 2 6 2-5-3-3 0-6-4-15 4-4 7 0 1-3zM110 178l-8 1 0 2-4 4 2 5 4-1-1-4 4-4 3 0zM370 178l-4 0 0 2 3 0zM347 178l2 11 5-7 3 2 3-1-2-5-4 2-3 0-3-3zM218 176l-1 3 3 2 1-3zM297 174l1 7-4 2 2 9 7-15zM338 173l-1 1 5 6 1-2zM139 173h1v1h-1zM23 172l3 7 5-3-1-2zM417 171h1v1h-1zM408 170l-7 0 0 8-2 3 1 2 5-1-1-6 5-3zM99 171l-2-1-11 7-8-2 0 2 8 2 4-3 3 1 3-3 2 0zM335 169h1v1h-1zM206 169l-2 1 0 5-2 2-16 3 1 4-4 3 2 2 4-1 2 2-2 2 2 3 3 1 3-2 1-3-2-4 2-2 4 1 2-2 3-10zM193 181l3 3-2 3-3-2zM391 167l-2 1 1 2 2-2zM380 166h1v1h-1zM295 166l-1 2 3 1 0-2zM130 166l-1 4 2 1 1-4zM320 165h1v1h-1zM369 165l4 2-1-3zM326 164l1 2 1-1zM119 164l2 5 4-1-1-2-3 0zM291 163h1v1h-1zM389 160l-1 2 2 1 1-2zM338 159l-6 4 2 1zM214 161l-4 2-2-4-4 4-4 0 3 3 8 1zM79 161l-7-2-9 1-4 3-3 5-2 0 0-4-3-1 1 4-6 5-5 1 0 2 3 3 0 10 4 4-2-10 2-2 8 0 2-2-8 0-3-3 3-4 4 0 4 3 3 0 0-5 4-3 8 8 1-3-4-2-2-3 3-3 7 2zM136 158l0 7 3 1 4-5-2-2zM104 160l-5-3 0 3-5 4 4 2zM89 157l-6 7 1 2 5-4zM46 157l-3 2 0 9 3-2zM154 156l-5 6 2 1 4-2 1 2-8 11 1 1 3-3 1 1-2 4 3 3 0 5 8 0 1-5 4-3-3-1-6 5-3-1 2-9 4-4-4-2-1-8zM156 167l1 2-2 2-1-2zM397 155l1 3 1-2zM358 155l0 2 3-1zM2 155l1 6 11 1 3-3 4 0-4-2-10 1-3-3zM338 154l1 2 3 0 2 2-1 3 7 6-4 4 3 1 3-6-5-7 0-4zM127 152l-2 1 1 1zM118 153l4 6 7 4 2-1-3-4-2 0-7-6zM93 152l-2 0-1 3 3-1zM204 155l4-2 5 1 0-2-5-1zM50 151h1v1h-1zM224 149l-1 3 5 3 1 10 3 4 5-8-4 0-2-2-1-6zM420 148l-3 1 1 8-4 4-4-2-1-7-3 2 0 4 4 4 9 0 2-3 1-8zM367 148l-1 2 2 3 1-4zM350 148l-2 5 4 2 2-2zM294 148l-1 1 2 1 1-1zM350 144h1v1h-1zM132 145l-3-1-2 4 4-1zM32 144l-1 7 9-1-1-2-3 0-2-4zM375 143l-1 1 2 1zM382 143l2 3 4 0-3-2 0-2zM336 141l-1 2 3 1 1-1zM113 141l1 3 5 0 0-3zM423 140l-1 6 2 1zM363 140l-4 5 1 2 2 0 3-3zM329 140l-3 9 5-1zM150 139l-2 6 4 3-1 4 3 2 0-8-3-2 3-3 0-2zM61 139l-2 1 1 1zM37 139l-1 1 3 3 1-1zM370 139l3 1 0-2zM50 137l-2 2 1 3 3-2zM313 136l-5 0-6 10 3 1 3 4-3 3-8 1 2 3 2-1 4 5-3 4 2 5 3-1-1-2 2-3-4-6 7-7 1-8-2-4zM307 145h1v1h-1zM302 137l-2-1-4 3 1 1zM330 136l-7 0-1 2 3 1zM0 135l1 2 1-1zM416 139l-4 4-4 1-3-3-1-8-9 7 4 0 2 2 0 3 2 2-1 4 2 0 2-2 2 1 7-6zM154 133h1v1h-1zM424 130h1v1h-1zM290 130h1v1h-1zM370 129l1 3 5-2-2-2zM365 128h1v1h-1zM227 128l-5 5 1 4-2 7 2 2 2-1 4 2 4-1 0-3-6-9zM123 125l-1 4-4 4 2 3 4-2 2 3 2-4-3-3 3-3zM66 125l-1 1 5 5 1-1zM333 126l1 1 3-3-3 0zM233 124l2 4 2-3zM158 124l-1 1 2 1 1-1zM149 124l0 2 3 2 1-2zM205 123l1 3 4 0 2 2 0 5-2 4 1 3-4 3 3 1 5-3 3 4 0-7-2-2 1-3-3-3 0-4-3-4zM376 121l-2 1 1 1zM143 121h1v1h-1zM350 119h1v1h-1zM178 119h1v1h-1zM95 119l-1 2 6 4 0 2-4 2 4 5 1-1 2 2-2 2-3 0-3 6 9 1 7-8-9-8-4-9zM3 120l4 1 4 7 3-1-2-8zM407 118l-2 1 1 3 2-2zM35 128l2 1 3-2 2 3 5-2 3 4 2 0 10-11-2-1-2 2-4 0-5 6-8-3-2-7-4 5zM25 118l-2 0-2 3 3 0zM385 117l-3 2 1 2 3-1zM73 115l-1 2 3 3 1-2zM258 114h1v1h-1zM339 112l-5 1 3 4-3 4 4-1 3-3 0-3zM296 113l-1 2 2 2 3-1 2 2 0 4-4 4-3-1-1 3 2 0 3-3 1 1 5-5 2 2-5 8 6 0 2 2 2-6-4-7-6-6 1-2-2-1-2 2zM258 111h1v1h-1zM124 111l-1 3 4 1 1-2zM183 110l0 2 4 2-2 3 4 0-1-5-2-2zM159 110l-1 2 3 3-2 4 4 3 4 0 3-4-5 2-3-4 2-6zM359 114l3-2 7-1-6-2-4 3zM57 109l-3 1 0 3 2 2 2-3zM266 108h1v1h-1zM227 109l3 4-1 4 5 0 2 2 6-1 0-5-5 0-3 2-4-7zM386 107l-1 1 2 1zM199 107l-1 2 10 9 0-5-7-6zM69 107l-1 4 3 1 1-3zM396 106h1v1h-1zM376 106l-2 1 1 3zM145 108l5 2 3-1-2-3zM252 105l0 5 2 0zM44 105l-7 1-5 7 0 7 1-7 5-6 7 1zM96 106l0 3 4-4 3 2 0 3-3 3 2 2 3 0 6-4 0-3-5-4-7 0zM332 102l-4 6-9 8 1 4 4-2 0-3 3-4 4-1-1-4zM120 101h1v1h-1zM347 100l-2 3 0 7 4 4 0-3 5-7-3-3zM349 104l1 3-2 2-2-3zM231 100l-3 4-3 1 4 0zM218 100l-6 2 3 5 4-3zM23 100l0 2 4 4-3 4 2 2 2-2 1-9zM368 99l-3 1 1 3zM115 99l-2 1 1 3 2-2zM383 98h1v1h-1zM54 98l-4 3 1 2 4-2zM375 96l-1 1 2 1zM300 96h1v1h-1zM127 96l-4 2 0 2 3 0zM353 95l2 4 4-2zM65 95l-2 2 1 1 2-1zM404 94h1v1h-1zM169 99l2 6 4 0 5 3 2 0-2-4 2-3 6 4-1 3 4-4 4-1-1-4-11-6-4 1-2 8-2 2-3 0-2-2 2-3-1-1zM185 98l2-1 1 2-2 1zM160 93h1v1h-1zM66 92h1v1h-1zM391 91h1v1h-1zM338 91h1v1h-1zM255 96l0 3 4 2 0 5 4-3 4 2-3-4 4-3 7 10 2-5 7 0 1 2-3 3 5 4 3 0 7-6-3-1-3 4-3 1-2-2 4-2 3-4-4-1-2-4-5 2-4-6-2 0-3 3-3-5-4 2-3-2 0 6-2 3-2-1 0-4zM248 90h1v1h-1zM72 89l0 3 3 4-2 6 3-2 1-3 8 1 0 7-5 5-4 1 4 4 4-5 3-8-1-9-3-1-4 2zM166 89l-2-1-1 3 2 0zM136 97l0 3 3 3 7 1 2-2 6 1 3-3-1-4-4 2-3-3 0-7-3 0-5 7zM137 88l-5 2 0 2 4-1zM360 87l-1 2 3 1 0-2zM352 88l-3-1-3 4 1 1zM127 87l-1 2 2 1 1-2zM30 89l3 5 7-1-1-3-5-3zM94 86l-1 2 2 1 1-2zM57 86l-1 1 2 1zM319 86l1 2 5-1-1-2zM238 87l3 1 2-3-4 0zM153 85l4 4 1-1zM83 84h1v1h-1zM131 83h1v1h-1zM386 82l-1 3 2-1zM350 81h1v1h-1zM309 81l-5 2 3 1zM43 83l2 2 0 3 6-1-2-2 0-4zM312 79l-1 2 5 3zM151 78h1v1h-1zM70 78l1 2 1-1zM20 78l-4 2-2 4 0 5 7-8zM381 76h1v1h-1zM366 76l-1 10 2 2 6 1-6-5 1-7zM254 76l0 2 3 3 1-3zM80 76h1v1h-1zM299 76h1v1h-1zM287 74l-5 5 5 2 6 6 3-3 0-3-6 0-3-3 2-2zM358 73l1 2 1-1zM317 73h1v1h-1zM262 73l-2 1 1 1zM1 72l-1 7 3 1 2-6zM303 71h1v1h-1zM38 71l-1 1 2 1zM245 70l0 2 3-1zM237 70l-1 4 3 1 1-4zM10 70h1v1h-1zM391 68h1v1h-1zM269 67l-1 3 2 1 1-3zM150 67h1v1h-1zM420 66l-5 7-3 0-1 2 6 8 0 15 3 5 0 9 2 6 2 1 0-18-6-7 3-8-4-3 1-4-2-2 0-2 6-5 0-3zM63 66l-1 3 2-1zM0 65l0 3 3 1 0-2zM379 64l-5 0 0 4-3 3 2 3 6-3-2-3zM387 63h1v1h-1zM293 63h1v1h-1zM253 64l4 1 1-2zM247 63l-1 2 2 1 1-2zM139 63l-1 2 4 2 1-2zM66 65l2 4 7 1 4 4 2-3-5-1-8-7zM12 63l-2 0-1 2 1 1zM411 62h1v1h-1zM404 62l-1 2 2 3 3-3zM338 61l-7 1 0 3 3 4 3-2 0-3 2-2zM41 62l-1-1-1 2zM88 60l1 8 3 4 0 4-3 4 7 1 2 2 6 0 1 8 4 2-2 5 2 0 4-5-4-4-2-7-6-5-4 3-4-5 1-6 5-4-3-1-3-4zM14 69l4 1 4-3 3 3 3-3 5 1 1-3-2-1-3 3-3-6-4-1 0 4-2 2-4 0zM356 59l-2 3 1 1 2-1zM58 59l-6 8-10 3 9 4 6-2-2-4 3-3 2 0zM364 57l-3 1 1 3zM166 57h1v1h-1zM143 56h1v1h-1zM46 55l-2 2 1 1 2-1zM345 54l-1 2 2 3-3 3 0 2 3 4-1 3 4 0 0-4 2-3-5-3 2-6zM359 53l-3-1-2 3 2 1zM119 54l4 0 4 4 0 2 6-7-12-1zM27 52l-2 5 4 4 2 0-1-8zM367 51h1v1h-1zM251 54l1 1 4-3 7 0-7-2zM148 51l0 2 4 3-3 4 2 2 6-2 8 11 7-3-6 0-5-7-4-1 0-3-7-7zM53 50l-3 1 2 3zM325 49l0 2 4 3 3-3-1-2zM36 50l2 4 5-1 0-2-3-2zM420 48l-3 0-2 2 1 1zM410 48l-5 2 0 2 4 2zM173 48h1v1h-1zM296 47l-1 1 6 5 1-3zM245 47l-4 4 1 2 4-1zM239 47h1v1h-1zM137 47h1v1h-1zM60 48h1v1h-1zM283 45l-1 3 3 2 1-3zM127 45l-1 1 2 1zM379 43l3 11 1-3 5-4-4 0zM399 45l1 1 4-3-4-1zM64 43l10 2-1-3zM368 41l-3 2 2 2 2-1zM167 41l-1 2 3 1 1-2zM293 38h1v1h-1zM154 38l0 5-2 3 8 4 2-2-6-4zM146 38l-1 2 3 1 0-2zM308 40l5 5 4 2 1-1 0-9-3 3zM134 37l-3 1 1 4 3-2zM360 39l-4 0-2-3-2 0-4 5-5 0-6 4 1 1 4-2 4 5 1-3 3-3 2 0 1 4 2 1 0-6 3-3zM265 35l-1 5 3 6 1-8zM177 35l-2 5 3 2zM29 35h1v1h-1zM336 34h1v1h-1zM237 34l-1-1-1 2zM187 37l-7 11 0 10 3 7 6 6 9 4 11 0 10-2 12-10 1-12-2-4-9-8-13-5-8-1-7 1zM186 50l3-6 5-4 13-1 10 4 8 8 0 9-6 6-6 3-14 1-5-2-7-8zM60 31l-1 2 2 1 1-2zM236 30h1v1h-1zM268 28l-1 2 10 10 0 3 2 1 2-2-4-3 0-4zM29 29h1v1h-1zM11 26h1v1h-1zM414 25h1v1h-1zM357 25l-3 4 1 1 2-1zM342 25l1 5 3 1-1-4zM19 23l8 6-3-6zM201 24l-3-2-6 4-3-1-1 3 11 0zM111 24l5 0 4 5 6 0 5 4 7-6 4 3 4-3-1-2-5 2-7-3-5 4-6-1-5-5zM5 22l-4 3 2 1zM86 21l-4 2-3-1-3 6 5 10 3-9-5-4 6-2zM27 19l-1 2 2 1 1-2zM23 19h1v1h-1zM15 19h1v1h-1zM418 18l-1 1 2 3 1-3zM294 18l-6 3 3 3-2 4-3-2-3 0-2 2 4 5-1 4 4-1 0-2-3-3 2-2 5 0 0-7zM188 18h1v1h-1zM107 18l-3-1-3 2zM323 15l-2 0-1 3-4 3 1 6 2-1 1-5 4-4zM331 14l-4 3 1 3 3-1zM123 15l7 2 2-1-2-2zM252 13l-1 2 5 7-1 4 2 3 3-3-5-12zM27 13l-2 2 1 1 2-2zM2 12h1v1h-1zM314 14l-6-3-3 3-4-1-2 2 4 1 5-3 3 0 2 2zM246 12l-6 0-1 3 4 2zM55 11l-3 6-5 0 1 4 2 0 3-5 2 1 2-2zM335 11l-1-1-1 2zM227 12l5-1-4-1zM138 10l-1 5 5 1 4 5 1-6-6 0zM412 9l-1 3 4 1 1-3zM361 9l1 2 2-1zM344 7l-1 12 7 8 2-2-4-5 3-3 4 1 2-10-7 2zM347 11l3 2-2 4-4-2zM56 7h1v1h-1zM23 7l0 2 6 0 0-2zM325 6l-1 2 4 2 1-1zM85 6l-1 2 6 7-1 4 2 2 3 0 0-5-2-2 1-7-5 2zM419 5h1v1h-1zM371 4l-2 2 2 0zM177 4l3 6 1-4zM42 4l-1 1 3 2 1-2zM12 4l2 3 6 0-2-3zM266 3l-1 11-3 3 6 3 1-5 4-3 1 4 3 2 1-3-4-2-4-5 0-4zM80 4l-2-1-7 7-6-1 3 3 4 0 5-2 3-3zM290 2l-6 5 4 1 3-3zM150 2l-3 1 1 5 2-1zM36 2h1v1h-1zM403 0l-2 0 0 3 2-1zM316 0l1 2 2-1zM304 1h1v1h-1zM236 1l4 2 4-3zM211 0l-8 9 10 7 0 3-3 3 0 2 5-4 3 2 0 12 2 2 3 0 0-10-3-3 2-2 7 8 1-4-3-3 2-3-4-3-13-1-3-4 0-4 6-5 0-2zM184 0l1 6 4 3 1 4 3 3 0 3 2 1 2-2-2-3 2-7 4-4-5-1 0 2-3 2-6-4 1-3zM170 0h1v1h-1zM164 0l-8 1-1 5 1 1zM123 0h1v1h-1zM114 0h1v1h-1z"/>
<path fill="#ab5781" d="M185 316h1v1h-1zM376 316h1v1h-1zM32 316h1v1h-1zM238 315l-1-1-2 2zM388 315l9 1-3-3zM382 313l-1 3 3 0 0-2zM352 313l-1 3 3 0zM130 313h1v1h-1zM21 313l-2 1 1 1zM0 314l0 2 7 0-3-3zM362 312l-1 3 2 1 1-3zM305 312l-5 1 1 3 3 0zM226 312l4 4 2 0-2-4zM297 311h1v1h-1zM210 311l-3 5 3 0zM88 311h1v1h-1zM62 311h1v1h-1zM44 312l2 4 6-2-5-3zM404 310h1v1h-1zM316 310l-1 6 3 0 1-5zM263 312l7 2 4-4-10 0zM239 311h1v1h-1zM343 309l-3 1 0 4 4-2zM248 309l-3 1-2 6 5 0zM411 308h1v1h-1zM387 308l-1 2 2 1 2-2zM334 308l-1 2 3 2 1-3zM1 307h1v1h-1zM372 307l1 2 6 0-2-4-3 0zM343 306l6 2 2-1-5-2zM323 304l-2 1 1 1zM124 304l-1 2 2 2 1-1zM99 304l-1 1 2 1 1-1zM395 303l1 2 1-1zM361 303h1v1h-1zM144 302l-8 8 3 3 3-1-1-6zM415 301l0 4 5 2zM282 301l-3 4 1 3 3-5zM404 300l-1 2 2 1 1-2zM79 299l-4 2-3-1 3 5 0 5-2 4 3 2 3 0-1-6 3-4zM336 298l-2 3 3 3 2 0 1-3zM257 298l0 7 5 4 2-4-4-2zM37 299l3 3 1 6 4-1 3-3 2 3 1-1 0-7zM368 297l3 3 6 0-2-3zM330 296l-3 1-2 5 3-4 2 0zM304 300l-8-4-7 9 4 1 4-3 6-1zM0 296h1v1h-1zM114 295l0 8-2 2-6-1-2 3 1 1 8-2 4-4zM390 294h1v1h-1zM342 294l0 3 3 1 1-2zM7 294h1v1h-1zM267 295l3 4 0 3 8-2-3-3-2 0-2-4zM196 294l-1-1-1 2zM100 294l-5-1-2 2-5 0-5 5 8-3 6 4zM261 292h1v1h-1zM35 293l-2-1-1 2zM165 291l-3 1 1 3-5 5 3 0 2 2-4 5-4 0-4 4 3 5 4-4 5 0 6 3 3-1-1-7-6 0zM358 291l-6 0-2 3 4 1zM117 289h1v1h-1zM403 289l-2 4 8 4 1-2-3-2 2-4zM243 288l-2 1 0 4-2 2-4-2-4 1-1 2 3 2 4 0 4-3zM303 289l-4-2-3 5 6 0zM379 286l-4 7 5 0 4 4 2 0-2-3 2-5-4 0zM23 286l-2 2 1 5 7 2 2-7-2-1-3 4-2-2 1-2zM92 284l-1 2 4 3-1-4zM86 284l-1 1 2 1 1-1zM63 285l0 2 4 3 3-3 5-1-9-2zM251 283l-1 3 2 0zM201 288l2 1 2-2 3 3 0 2 4 3 1-5-3-2 0-3-2-2zM345 283l-2-1-6 3-4-1-1 3 3 2 0 3 8-3zM260 282l0 2 9 2-1-3-4 1zM362 281l-3 3 1 2 3-2zM215 281l-1 4 4 1 1-2zM140 280h1v1h-1zM108 280l-2 3 2 6 2-5zM0 280l0 3 3 0 2 2 3-1-1-3zM271 277h1v1h-1zM201 278l5 1-1-2zM334 276l-1 2 4 2 1-3zM298 276l-2 1 0 4 3-3zM220 276l-1 1 3 3 1-2zM365 275l-8 2 3 1zM273 275h1v1h-1zM229 275l0 4 4 4 2 0 1-2-5-6zM379 275l-1-1-1 2zM277 274l10 9 4-1-2-3zM131 274l-2 2 0 3 5 1zM118 274l-2 6 3 3-1-4 2-4zM331 272l-2 1 1 1zM309 272l7 1-2-2zM249 271l-4 3-2-1 2 4-2 4 1 1 6-4zM174 271l-6 3 1 5 2 0-1-4 2-2 3 0zM149 271h1v1h-1zM61 271l-1 2 4 8 2-3 0-4zM155 270l-2 0 1 5-6 4 0 3 4 5 1-1-3-4 6-5zM390 269h1v1h-1zM351 269h1v1h-1zM124 269l-2 1 1 1zM137 267l-2 4 6 6 1-2-3-2 0-5zM2 266l-2 1 1 1zM397 265l-3 1 2 7 3-4 3-1zM288 266l-2-1-1 2zM179 265h1v1h-1zM114 264l-8 2-3 3-8-4-6 0-1 7 4 4 1 5 2-8 14 0zM92 271l2-1 1 3-1 1zM270 264l1 5 6-1 5 3 0-2-6-6-3-1zM201 264l-4-2-7 7-4-2-1 1 5 5 5-7 5 0zM130 262h1v1h-1zM408 260l-1 3 6 8-1 7 3 3-3 7 5 1 1-1-2-2 0-10 3-3 5 0 0-8-5 5-5 1-2-2 0-6zM354 260l-2 2 1 2 2-2zM125 260h1v1h-1zM228 260l-3-1-7 8-4-3 0 5 2 1 3-2 6 0zM112 258l-4 2 1 3 4-4zM251 257l-2 0 0 4 2-1zM133 257h1v1h-1zM70 257l-1 2 2 1zM203 256l-2 4 3-1zM340 255l-2 0 1 6-2 5 2 0 3-5zM298 255l-1 2 5 5 0-4zM382 254l-1 4 3 7 5-5-3-1zM59 255l3 1-1-2zM350 253l-1 4 2-2zM240 253h1v1h-1zM277 254l9 3 5 7 5-2-4-4 1-3-5 0-3-3zM313 251l-2 6 4 0 3 3-1 4 2 1 1-3-3-9zM123 252l3 1-2-2zM405 250h1v1h-1zM394 250h1v1h-1zM275 248h1v1h-1zM224 248h1v1h-1zM102 248l-4 2 2 3-2 3 1 2 5-2-3-2 2-3zM382 248l5 3 3 0-1-3zM409 246l-1 2 3 1 1-2zM350 248l2 2 4-1-2-3zM173 246l-2 1 1 2 2-2zM143 246l-2 2 2 2 4 0 2 2 0 4-4 4-2 0-1 3 3 1 1-3 5-4 4 5-1 5 7 4-4-13-9-12zM81 246l-1 2 2 2-4 4 5 3 0 3 2 2 9-8 0-2-3 0-4 4-4 1zM396 246h1v1h-1zM330 245l2 2 3 0-1-2zM283 245l-3 0 1 4zM221 245h1v1h-1zM30 246l2 4 7 2 2-3 0-3zM65 244h1v1h-1zM314 243l-4 3 2 3 3-4zM257 244l-2-1-1 4-3 3-4-4-3 0 2 5 3 1 2-2 3 1zM52 243l0 2 2 0zM190 242l0 5-2 2 7 2 1-1-4-3zM105 242l8 13 3 1 1-1-3-4 5-5-7 0-3-3zM180 241l-1 3 3 2 2-4zM158 240l-1 3 2 2 3 0 1-2-3-3zM212 239l-1 6-2 2-5 1-1 3 3-2 4 0 8 7 2-4-3 0-7-5 7-4zM173 240l-2-1-3 3 3 1zM339 238l-1 3 4 1 1-2zM226 238l-1 2 2 1 1-2zM199 237l-3 3 0 2 2-1zM75 237l-1 3 2 1 1-3zM54 237l1 3 1-2zM358 236l-2 1 1 1zM316 235l0 2 2 0zM26 244l-7-4-4-5-5 10-2 2-3 0 1 3-6 4 0 2 4 0 2-2 4 2 4-1 2-3-3-3 0-3 3-5 7 4zM421 234l3 2 0-3zM368 233l-1 2 3 1 0-3zM275 233l-2 6 6-1 1-4zM232 232l-2 2 3 3 2 0 0-3zM221 232l-1 4 2 0zM260 231l-4 5 1 4 2-1 0-3 2-2zM414 230l2 7 0-5zM347 230l0 2 4 2 3-1-1-3zM356 229h1v1h-1zM341 228l0 4 2 0 1-3zM336 230l-6-3-9 9 5 2 2-5zM16 227l-1 4 2-1zM376 226l-2 4 4 2-1 2 2 2 4 1 3-3-5-2-1-6zM100 226l-3 2-5-1-5 2-1 11 2 2 0-8 4-4 4 3 7-4zM8 225l1 3 2-1-1-2zM307 224l0 7 2 0 4-5zM44 223l-3 1 1 3zM359 223l-2-1-1 3 2 0zM253 221l-2 2-7 0 3 7 7-7zM216 221l-5 0 2 5-6 3 1 5 2-4 5 1 3-2zM55 220l-5 1-2 2 1 6-3 5 0 8 2-1 3-13 5-6zM277 219h1v1h-1zM258 219h1v1h-1zM418 219l-2-1-5 5 0 2 2 0zM206 218l-7 8-4 1 1 3 6-6 5-2zM61 218h1v1h-1zM40 217l-7 0 0 2-3 3-9-2-2 5 6 1 2-2 10-1zM424 216h1v1h-1zM175 216l0 3-2 2 0 10 2 2 1-1 0-7 3-3 8 7-2-3 1-5-6-1zM399 216l-2-1-1 3 2 0zM360 215l1 6 8 7 0-2-3-3 0-5zM265 216l3 3 3-1-2-3zM218 215h1v1h-1zM106 215h1v1h-1zM232 214l-4 2 1 3zM138 214h1v1h-1zM389 213l-5 3-3 0-2 5 1 2 4-4 3 0 2 2 0 5-2 3 2 3 3-6 2 2 3-2 0-2zM409 212h1v1h-1zM303 212l-4 0-1 5-10 8 5 0 4-6 5 0zM239 214l3 2 5-4-7 0zM153 212l-2 0-2 3 2 1zM80 212h1v1h-1zM252 211l-1 2 3 3 1-2zM199 211l-3 1 1 2-3 3 0 3 4 0 2-2zM44 214l1 2 11-1-1-2-3 0-2-2-3 0zM206 210h1v1h-1zM164 210l-3 2 1 2 3-2zM126 210l5 3 2-1-1-3zM112 209l-1 2 2 1 1-2zM102 209l-3 3 1 3 3-5zM77 210l-3-1-8 6 1 1 3-3 5 2zM117 207l0 3 4 3zM9 206l0 3-4 2 2 1 2-2 4 0 3 3 1 7 3-6-5-7-3 1zM113 203l3 2-1-2zM356 204l9 5 5 0-4-7zM221 201l-3 1 2 5 3-3zM340 199l-2 1 1 7-4 4-4 1 2 4 8-8zM148 199l-2 2 0 3 4 3 2-2-1-6zM50 205l8 4 1-1-6-4 2-3 4 1 4-2 4 3 1-1-4-3-9 0-4 3zM2 199l1 3 7 0 0-2-5 1zM241 198h1v1h-1zM231 198l-4 2 3 6zM88 203l5 5 0 3 3-1-3-6 2-4 7 1 5 5 4-1-2-7-6 2-3-2-5 0-3 4zM14 197l-1 2 3 1 1-1zM424 196l-6 7-3-1 2 6 2 0 3-3-1-3 3-3zM310 196l-3 0-1 2 2 1zM211 195h1v1h-1zM411 195l-2-1-1 3 2 0zM125 193h1v1h-1zM355 192l-3 2 1 1zM339 189l-1 2 2 3 1-2zM223 190l2 3 2 0 1-4zM135 189l0 4 7 5 1-1-3-3-1-4zM108 190l1 2 5-1-2-2zM310 188l-1 2 3 1 0-2zM364 187l-1-1-3 3 2 1zM90 186h1v1h-1zM124 185l-2 2 1 3 2-3zM336 184l-1 1 2 2zM216 184l-4 5 1 3 3 0zM118 182h1v1h-1zM32 181l-1 3 4 2 0-3zM21 181l-2 2 2 2zM11 180l3 2-1-2zM0 180l2 4 0 5 4 1 4 5 0-6-5-3-1-5zM423 179h1v1h-1zM324 179l-3 3-7-1 4 4-2 2 0 6 2 4-3 4 0 4 5 5 2 6 2-5-3-3 0-6-4-15 4-4 7 0 1-3zM110 178l-8 1 0 2-4 4 2 5 4-1-1-4 4-4 3 0zM370 178l-4 0 0 2 3 0zM347 178l2 11 5-7 3 2 3-1-2-5-4 2-3 0-3-3zM218 176l-1 3 3 2 1-3zM338 173l-1 1 5 6 1-2zM139 173h1v1h-1zM23 172l3 7 5-3-1-2zM417 171h1v1h-1zM408 170l-7 0 0 8-2 3 1 2 5-1-1-6 5-3zM99 171l-2-1-11 7-8-2 0 2 8 2 4-3 3 1 3-3 2 0zM335 169h1v1h-1zM391 167l-2 1 1 2 2-2zM380 166h1v1h-1zM130 166l-1 4 2 1 1-4zM320 165h1v1h-1zM369 165l4 2-1-3zM326 164l1 2 1-1zM119 164l2 5 4-1-1-2-3 0zM389 160l-1 2 2 1 1-2zM338 159l-6 4 2 1zM79 161l-7-2-9 1-4 3-3 5-2 0 0-4-3-1 1 4-6 5-5 1 0 2 3 3 0 10 4 4-2-10 2-2 8 0 2-2-8 0-3-3 3-4 4 0 4 3 3 0 0-5 4-3 8 8 1-3-4-2-2-3 3-3 7 2zM136 158l0 7 3 1 4-5-2-2zM104 160l-5-3 0 3-5 4 4 2zM89 157l-6 7 1 2 5-4zM46 157l-3 2 0 9 3-2zM397 155l1 3 1-2zM358 155l0 2 3-1zM2 155l1 6 11 1 3-3 4 0-4-2-10 1-3-3zM338 154l1 2 3 0 2 2-1 3 7 6-4 4 3 1 3-6-5-7 0-4zM127 152l-2 1 1 1zM118 153l4 6 7 4 2-1-3-4-2 0-7-6zM93 152l-2 0-1 3 3-1zM50 151h1v1h-1zM420 148l-3 1 1 8-4 4-4-2-1-7-3 2 0 4 4 4 9 0 2-3 1-8zM367 148l-1 2 2 3 1-4zM350 148l-2 5 4 2 2-2zM350 144h1v1h-1zM132 145l-3-1-2 4 4-1zM32 144l-1 7 9-1-1-2-3 0-2-4zM375 143l-1 1 2 1zM382 143l2 3 4 0-3-2 0-2zM336 141l-1 2 3 1 1-1zM113 141l1 3 5 0 0-3zM423 140l-1 6 2 1zM363 140l-4 5 1 2 2 0 3-3zM329 140l-3 9 5-1zM61 139l-2 1 1 1zM37 139l-1 1 3 3 1-1zM370 139l3 1 0-2zM50 137l-2 2 1 3 3-2zM330 136l-7 0-1 2 3 1zM0 135l1 2 1-1zM416 139l-4 4-4 1-3-3-1-8-9 7 4 0 2 2 0 3 2 2-1 4 2 0 2-2 2 1 7-6zM424 130h1v1h-1zM370 129l1 3 5-2-2-2zM365 128h1v1h-1zM123 125l-1 4-4 4 2 3 4-2 2 3 2-4-3-3 3-3zM66 125l-1 1 5 5 1-1zM333 126l1 1 3-3-3 0zM376 121l-2 1 1 1zM143 121h1v1h-1zM350 119h1v1h-1zM95 119l-1 2 6 4 0 2-4 2 4 5 1-1 2 2-2 2-3 0-3 6 9 1 7-8-9-8-4-9zM3 120l4 1 4 7 3-1-2-8zM407 118l-2 1 1 3 2-2zM35 128l2 1 3-2 2 3 5-2 3 4 2 0 10-11-2-1-2 2-4 0-5 6-8-3-2-7-4 5zM25 118l-2 0-2 3 3 0zM385 117l-3 2 1 2 3-1zM73 115l-1 2 3 3 1-2zM339 112l-5 1 3 4-3 4 4-1 3-3 0-3zM124 111l-1 3 4 1 1-2zM359 114l3-2 7-1-6-2-4 3zM57 109l-3 1 0 3 2 2 2-3zM386 107l-1 1 2 1zM69 107l-1 4 3 1 1-3zM396 106h1v1h-1zM376 106l-2 1 1 3zM145 108l5 2 3-1-2-3zM44 105l-7 1-5 7 0 7 1-7 5-6 7 1zM96 106l0 3 4-4 3 2 0 3-3 3 2 2 3 0 6-4 0-3-5-4-7 0zM332 102l-4 6-9 8 1 4 4-2 0-3 3-4 4-1-1-4zM120 101h1v1h-1zM347 100l-2 3 0 7 4 4 0-3 5-7-3-3zM349 104l1 3-2 2-2-3zM218 100l-6 2 3 5 4-3zM23 100l0 2 4 4-3 4 2 2 2-2 1-9zM368 99l-3 1 1 3zM115 99l-2 1 1 3 2-2zM383 98h1v1h-1zM54 98l-4 3 1 2 4-2zM375 96l-1 1 2 1zM300 96h1v1h-1zM127 96l-4 2 0 2 3 0zM353 95l2 4 4-2zM65 95l-2 2 1 1 2-1zM404 94h1v1h-1zM160 93h1v1h-1zM66 92h1v1h-1zM391 91h1v1h-1zM338 91h1v1h-1zM72 89l0 3 3 4-2 6 3-2 1-3 8 1 0 7-5 5-4 1 4 4 4-5 3-8-1-9-3-1-4 2zM166 89l-2-1-1 3 2 0zM136 97l0 3 3 3 7 1 2-2 6 1 3-3-1-4-4 2-3-3 0-7-3 0-5 7zM137 88l-5 2 0 2 4-1zM360 87l-1 2 3 1 0-2zM352 88l-3-1-3 4 1 1zM127 87l-1 2 2 1 1-2zM30 89l3 5 7-1-1-3-5-3zM94 86l-1 2 2 1 1-2zM57 86l-1 1 2 1zM319 86l1 2 5-1-1-2zM153 85l4 4 1-1zM83 84h1v1h-1zM131 83h1v1h-1zM386 82l-1 3 2-1zM350 81h1v1h-1zM309 81l-5 2 3 1zM43 83l2 2 0 3 6-1-2-2 0-4zM312 79l-1 2 5 3zM151 78h1v1h-1zM70 78l1 2 1-1zM20 78l-4 2-2 4 0 5 7-8zM381 76h1v1h-1zM366 76l-1 10 2 2 6 1-6-5 1-7zM254 76l0 2 3 3 1-3zM80 76h1v1h-1zM299 76h1v1h-1zM287 74l-5 5 5 2 6 6 3-3 0-3-6 0-3-3 2-2zM358 73l1 2 1-1zM317 73h1v1h-1zM262 73l-2 1 1 1zM1 72l-1 7 3 1 2-6zM303 71h1v1h-1zM38 71l-1 1 2 1zM245 70l0 2 3-1zM237 70l-1 4 3 1 1-4zM10 70h1v1h-1zM391 68h1v1h-1zM269 67l-1 3 2 1 1-3zM150 67h1v1h-1zM420 66l-5 7-3 0-1 2 6 8 0 15 3 5 0 9 2 6 2 1 0-18-6-7 3-8-4-3 1-4-2-2 0-2 6-5 0-3zM63 66l-1 3 2-1zM0 65l0 3 3 1 0-2zM379 64l-5 0 0 4-3 3 2 3 6-3-2-3zM387 63h1v1h-1zM293 63h1v1h-1zM253 64l4 1 1-2zM247 63l-1 2 2 1 1-2zM139 63l-1 2 4 2 1-2zM66 65l2 4 7 1 4 4 2-3-5-1-8-7zM12 63l-2 0-1 2 1 1zM411 62h1v1h-1zM404 62l-1 2 2 3 3-3zM338 61l-7 1 0 3 3 4 3-2 0-3 2-2zM41 62l-1-1-1 2zM88 60l1 8 3 4 0 4-3 4 7 1 2 2 6 0 1 8 4 2-2 5 2 0 4-5-4-4-2-7-6-5-4 3-4-5 1-6 5-4-3-1-3-4zM14 69l4 1 4-3 3 3 3-3 5 1 1-3-2-1-3 3-3-6-4-1 0 4-2 2-4 0zM356 59l-2 3 1 1 2-1zM58 59l-6 8-10 3 9 4 6-2-2-4 3-3 2 0zM364 57l-3 1 1 3zM166 57h1v1h-1zM143 56h1v1h-1zM46 55l-2 2 1 1 2-1zM345 54l-1 2 2 3-3 3 0 2 3 4-1 3 4 0 0-4 2-3-5-3 2-6zM359 53l-3-1-2 3 2 1zM119 54l4 0 4 4 0 2 6-7-12-1zM27 52l-2 5 4 4 2 0-1-8zM367 51h1v1h-1zM251 54l1 1 4-3 7 0-7-2zM148 51l0 2 4 3-3 4 2 2 6-2 8 11 7-3-6 0-5-7-4-1 0-3-7-7zM53 50l-3 1 2 3zM325 49l0 2 4 3 3-3-1-2zM36 50l2 4 5-1 0-2-3-2zM420 48l-3 0-2 2 1 1zM410 48l-5 2 0 2 4 2zM173 48h1v1h-1zM296 47l-1 1 6 5 1-3zM245 47l-4 4 1 2 4-1zM239 47h1v1h-1zM137 47h1v1h-1zM60 48h1v1h-1zM283 45l-1 3 3 2 1-3zM127 45l-1 1 2 1zM379 43l3 11 1-3 5-4-4 0zM399 45l1 1 4-3-4-1zM64 43l10 2-1-3zM368 41l-3 2 2 2 2-1zM167 41l-1 2 3 1 1-2zM293 38h1v1h-1zM154 38l0 5-2 3 8 4 2-2-6-4zM146 38l-1 2 3 1 0-2zM308 40l5 5 4 2 1-1 0-9-3 3zM134 37l-3 1 1 4 3-2zM360 39l-4 0-2-3-2 0-4 5-5 0-6 4 1 1 4-2 4 5 1-3 3-3 2 0 1 4 2 1 0-6 3-3zM265 35l-1 5 3 6 1-8zM177 35l-2 5 3 2zM29 35h1v1h-1zM336 34h1v1h-1zM237 34l-1-1-1 2zM187 37l-7 11 0 10 3 7 6 6 9 4 11 0 10-2 12-10 1-12-2-4-9-8-13-5-8-1-7 1zM186 50l3-6 5-4 13-1 10 4 8 8 0 9-6 6-6 3-14 1-5-2-7-8zM60 31l-1 2 2 1 1-2zM236 30h1v1h-1zM268 28l-1 2 10 10 0 3 2 1 2-2-4-3 0-4zM29 29h1v1h-1zM11 26h1v1h-1zM414 25h1v1h-1zM357 25l-3 4 1 1 2-1zM342 25l1 5 3 1-1-4zM19 23l8 6-3-6zM201 24l-3-2-6 4-3-1-1 3 11 0zM111 24l5 0 4 5 6 0 5 4 7-6 4 3 4-3-1-2-5 2-7-3-5 4-6-1-5-5zM5 22l-4 3 2 1zM86 21l-4 2-3-1-3 6 5 10 3-9-5-4 6-2zM27 19l-1 2 2 1 1-2zM23 19h1v1h-1zM15 19h1v1h-1zM418 18l-1 1 2 3 1-3zM294 18l-6 3 3 3-2 4-3-2-3 0-2 2 4 5-1 4 4-1 0-2-3-3 2-2 5 0 0-7zM188 18h1v1h-1zM107 18l-3-1-3 2zM323 15l-2 0-1 3-4 3 1 6 2-1 1-5 4-4zM331 14l-4 3 1 3 3-1zM123 15l7 2 2-1-2-2zM252 13l-1 2 5 7-1 4 2 3 3-3-5-12zM27 13l-2 2 1 1 2-2zM2 12h1v1h-1zM314 14l-6-3-3 3-4-1-2 2 4 1 5-3 3 0 2 2zM246 12l-6 0-1 3 4 2zM55 11l-3 6-5 0 1 4 2 0 3-5 2 1 2-2zM335 11l-1-1-1 2zM227 12l5-1-4-1zM138 10l-1 5 5 1 4 5 1-6-6 0zM412 9l-1 3 4 1 1-3zM361 9l1 2 2-1zM344 7l-1 12 7 8 2-2-4-5 3-3 4 1 2-10-7 2zM347 11l3 2-2 4-4-2zM56 7h1v1h-1zM23 7l0 2 6 0 0-2zM325 6l-1 2 4 2 1-1zM85 6l-1 2 6 7-1 4 2 2 3 0 0-5-2-2 1-7-5 2zM419 5h1v1h-1zM371 4l-2 2 2 0zM177 4l3 6 1-4zM42 4l-1 1 3 2 1-2zM12 4l2 3 6 0-2-3zM266 3l-1 11-3 3 6 3 1-5 4-3 1 4 3 2 1-3-4-2-4-5 0-4zM80 4l-2-1-7 7-6-1 3 3 4 0 5-2 3-3zM290 2l-6 5 4 1 3-3zM150 2l-3 1 1 5 2-1zM36 2h1v1h-1zM403 0l-2 0 0 3 2-1zM316 0l1 2 2-1zM304 1h1v1h-1zM236 1l4 2 4-3zM211 0l-8 9 10 7 0 3-3 3 0 2 5-4 3 2 0 12 2 2 3 0 0-10-3-3 2-2 7 8 1-4-3-3 2-3-4-3-13-1-3-4 0-4 6-5 0-2zM184 0l1 6 4 3 1 4 3 3 0 3 2 1 2-2-2-3 2-7 4-4-5-1 0 2-3 2-6-4 1-3zM170 0h1v1h-1zM164 0l-8 1-1 5 1 1zM123 0h1v1h-1zM114 0h1v1h-1z"/>
<path fill="#9c4979" d="M382 315h1v1h-1zM238 316h1v1h-1zM33 316h1v1h-1zM352 314l-1 1 2 1zM392 313l-4 3 2 0zM362 313h1v1h-1zM0 315l7 1-4-3zM304 312l-3 1 1 3 3-2zM227 312l4 4 0-2zM210 312h1v1h-1zM45 312l0 2 2 1 0-3zM318 311l-2 1-1 4 3 0zM265 311h1v1h-1zM341 310l-1 3 2 1 1-3zM273 310l-4 1 1 3zM388 309h1v1h-1zM335 309h1v1h-1zM247 309l-2 1 1 3-2 3 4-1zM139 308l-2 2 3 3 1-3zM76 308l-2 4 3 3 2-6zM349 306h1v1h-1zM373 307l2 2 3 0-2-4zM281 305l-2 1 1 1zM124 305h1v1h-1zM105 307l2 1 6-3-7 0zM416 304h1v1h-1zM396 303h1v1h-1zM257 303l4 5 2-1-1-3zM405 301h1v1h-1zM282 301h1v1h-1zM73 300l-1 1 3 4 2 0 0-2zM336 299l-1 3 4 1 0-2zM79 299h1v1h-1zM375 298h1v1h-1zM277 299l-3-1-3 2 5 1zM41 307l3 0 7-7-2-1-7 4-1-3 3-2-5 1zM303 299l-7-2-6 8 4 0 3-3 5 0zM164 297l-3 1 2 5-5 5-3-1-3 3 0 2 3 3 3-4 5 1 2 2 7-1-2-6-4 6-1-1zM114 296l0 5 2 1zM89 295l-5 5 4-2zM343 294l-1 2 2 1 1-2zM268 294l0 2 3 0 0-2zM231 296l3 2 3-1-1-3zM95 294l-2 3 5 3 0-3 2-2zM33 293h1v1h-1zM357 292l-3-1-3 3 3 1zM164 291l-1 3 2-1zM401 291l4 4 4 1-3-3 1-4zM376 292l6 1 3-4-6-1zM303 289l-4-1-2 4 5-1zM242 288h1v1h-1zM202 287h1v1h-1zM22 287l0 5 5 3 3-7-5 4zM414 285l-1 3 2-1zM334 285h1v1h-1zM250 285h1v1h-1zM152 285h1v1h-1zM93 285l-1 1 2 1zM64 285l0 2 3 2 4-3zM206 284l5 11 1-1-3-4 0-5zM87 284h1v1h-1zM345 283l-6 2-4 6 1 1 6-3zM361 282l-2 2 1 1 2-2zM260 283l6 3 2-1-5-1-2-2zM215 282l0 3 2 1 1-2zM118 281l-1 1 2 1zM108 281h1v1h-1zM287 280l2 2 1-1zM0 280l0 3 8 0zM282 277l1 2 2 0-1-2zM220 277l1 2 1-1zM203 277h1v1h-1zM170 277h1v1h-1zM358 276l0 2 3-1zM335 276l-1 2 2 1 1-2zM298 276l-2 1 0 2 2 0zM155 276l-4 1-3 4 1 1 4-2zM140 276h1v1h-1zM377 275h1v1h-1zM363 275h1v1h-1zM230 275l-1 3 6 4 1-1zM131 275l-1 4 2 1 1-3zM119 275h1v1h-1zM314 272h1v1h-1zM310 272h1v1h-1zM249 272l-3 3-3 0 2 2 0 3 4-2zM351 271h1v1h-1zM173 271l1 2 1-1zM154 271l-1 1 2 2 1-2zM61 271l-1 1 4 8 2-5zM193 268l-3 2-4-1 3 3zM138 268l-3 1 2 3 2-2zM424 266l-7 6-3 0-2 6 3 3 0-5 3-3 6 0zM395 266l0 2 5 1-2-3zM214 266l0 2 2 0zM113 265l-3 2-4 0-2 2-9-3-5 0-2 6 4 3 1 5 1-4-3-4 2-4 4 5 3-2 3 2 5 0zM317 264h1v1h-1zM270 265l1 3 8 0 0-2-4-3-3 0zM197 263l-1 1 3 2 1-1zM157 263l-2 3 5 4zM408 261l-1 1 3 3 0 3 2 0 0-4zM354 261h1v1h-1zM143 260l-1 3 2 1 1-3zM111 260l-2 0-1 2zM226 259l-8 10 2-2 6 0zM70 258h1v1h-1zM250 257l-1 3 2-1zM204 258l-1-1-1 2zM299 256l-1 1 2 1zM339 255l-1 9 2 1 2-6zM99 256l0 2 4-1-2-2zM60 255h1v1h-1zM382 254l-1 2 2 7 3 0 2-2-5-3zM278 254h1v1h-1zM282 253l0 2 5 2 4 6 4-1-4-4 0-3-2 1zM218 253l-2 1 1 1zM79 253l1 2 1-1zM93 252l-9 6 0 3 3-3 2 0 4-4zM404 251h1v1h-1zM315 251l-4 4 0 2 7 1-1-5zM213 250h1v1h-1zM255 249l-2 1 1 1zM100 249l-1 2 2 1 2-2zM384 248l4 3 1-1zM207 248h1v1h-1zM410 247l-1 1 2 1zM352 247l-1 1 3 2 1-2zM190 248l4 2-2-3zM81 247h1v1h-1zM283 246l-3 1 2 1zM246 246l-1 2 3 4 1-2zM173 246h1v1h-1zM144 246l-2 2 1 2 6 0 1 5-2 3 3-2 3 4 2 0 0-2-8-9 0-2zM31 246l2 4 4 0-1-3zM331 245l2 2 1-1zM313 244l-2 1 0 2 2 0zM255 244h1v1h-1zM53 244h1v1h-1zM108 243l0 4 6 8 2 0-2-5 3-3-5-1zM181 241l-2 2 3 2 1-3zM157 242l2 2 3-1-2-2zM213 240l-2 1 1 4 3-1zM171 240l-2 1 1 2 2-2zM17 241l7 4 1-1-6-4zM15 241l-2-1-5 7-2 0 1 3-7 5 9-1 3 2 4-4-3 0-2-2zM338 240l4 1-1-2zM226 239h1v1h-1zM54 238h1v1h-1zM357 237h1v1h-1zM87 237h1v1h-1zM76 237l-2 1 0 2 2 0zM16 236l-2 1 1 1zM368 234h1v1h-1zM423 233l-1 1 2 1zM322 234l0 2 3 2 2-1-3-4zM280 234l-4-1-3 5 5 0zM231 233l2 3 2 0-2-3zM222 234l-1-1-1 2zM208 233h1v1h-1zM261 232l-2 0-2 4 1 3zM414 231h1v1h-1zM351 230l-1 2 3 1 1-1zM15 229h1v1h-1zM342 228l-1 3 2 0zM327 231l4 1 4-2-5-2zM186 228h1v1h-1zM93 228l-4 0-3 5 2 1zM376 227l-2 2 4 2 1 4 4 1 1-2-4-1 1-5zM196 227l0 2 3-1zM102 229l-3-2-4 3 0 2 2 1zM9 225l-1 1 2 1zM307 224l2 5 3-2 0-2zM43 224h1v1h-1zM358 223l-2 1 1 1zM245 223l2 3 5-2zM413 222h1v1h-1zM212 222l3 4-1 2-2 0 0 2 2 1 4-4-3-5zM258 221h1v1h-1zM55 221l-6 2 0 7-4 10 1 1zM295 220l-5 4 1 1zM205 219l-2 4 3-1zM184 220l-10 0-1 4 2 8 0-8 5-3 4 4zM424 217h1v1h-1zM39 218l-1-1-7 5-10-1-2 3 6 1 5-1 2-2 3 1zM16 217h1v1h-1zM397 216h1v1h-1zM360 216l5 9 4 2-4-5 1-4zM267 216l-1 1 3 2 1-2zM230 216l-2 1 1 1zM199 216l-3 0-2 3 3 0zM388 214l-6 2-3 6 1 1 3-4 4-1 3 4-2 6 1 2 0-3 2-2 4 2 1-3-4-3 0-3zM299 213l-1 3 4 2 1-4zM153 213h1v1h-1zM68 214l-1-1-1 2zM241 212l-1 2 2 1 1-2zM253 211h1v1h-1zM164 211h1v1h-1zM45 214l1 2 9-1-5-4-2 0zM6 211h1v1h-1zM118 210h1v1h-1zM112 210h1v1h-1zM76 211l-2-1-1 3 2 0zM337 209l-2 4-3-1 1 4 5-4zM128 209l4 3-1-3zM14 208l0 2 2 1 0-2zM57 207h1v1h-1zM9 207h1v1h-1zM51 205h1v1h-1zM421 204l-1-1-3 4 2 0zM90 203l-1 1 6 6 1-2zM358 204l7 5 4 0-3-7zM219 201l-1 2 3 2 1-2zM52 201h1v1h-1zM339 200h1v1h-1zM8 200l-1 1 2 1 1-1zM3 200h1v1h-1zM229 199l-1 2 2 1zM149 199l-2 2 0 3 3 2 2-3zM104 200l-1 1 6 5 1-6zM96 199h1v1h-1zM57 199l0 2 7-1 3 2-3-3zM15 198h1v1h-1zM422 197l2 2 0-2zM319 197l-3 3 0 5 7 9 0-3-3-4zM306 197l3 1 0-2zM142 196h1v1h-1zM410 195l-1-1-1 2zM339 191h1v1h-1zM310 190h1v1h-1zM136 190l-1 2 3 2 0-4zM316 189h1v1h-1zM228 190l-2-1-1 3zM122 189h1v1h-1zM109 190l3 1-1-2zM8 189l0 4 2 1 0-4zM361 188h1v1h-1zM45 186h1v1h-1zM215 185l-3 5 1 1 2-1zM32 182l0 2 3 1zM21 182h1v1h-1zM315 181h1v1h-1zM322 183l7-2-5-1zM0 180l0 2 3 2 0 6 1-8zM370 179l-2-1-1 2zM347 178l2 9 5-6 4 3 1-3-3-3-3 3zM109 178l-3 2-4 0 0 2-3 3 1 4 3-1-1-2 4-5 4-1zM218 177l0 2 2 1 0-2zM79 176h1v1h-1zM339 174l-1 1 4 4 0-2zM30 175l-4 0-1 2 4 1zM41 174l4 4 0 5 2-3 10-1-1-2-9 1 0-5zM98 172l-1-1-6 3 3 1zM408 170l-6 0 0 7-2 3 1 2 4 0-2-2 0-6 5-1zM335 170h1v1h-1zM69 169l2 3 2 0zM391 168l-1-1-1 2zM130 167l-1 2 2 1 1-2zM124 167l-3 1 2 1zM370 164h1v1h-1zM334 163h1v1h-1zM53 163h1v1h-1zM411 161h1v1h-1zM389 161h1v1h-1zM345 159l-1 2 6 6-3 4 1 1 3-3 0-3zM141 159l-4 0 0 7 5-4zM103 161l-4-2 1 3-4 0-1 2 3 1 2-3zM79 163l-2-3-14 0-4 4 0 3-2 2-6 0-1 2 6 0 4 3 1-5 5-5 6-2 6 3zM127 158l-1 1 4 3zM88 158l-4 7 4-3zM46 158l-3 1 1 8zM2 157l1 4 11 0 2-2 4 0-4-2-5 2-3 0-4-3zM359 155h1v1h-1zM343 155h1v1h-1zM408 153l-2 4 3 2zM118 153l4 5 1-2zM92 152l-2 2 2 0zM420 149l-3 1 0 12 4-4zM367 149l0 2 2 1 0-2zM350 148l-1 5 3 1 1-3zM387 146h1v1h-1zM131 144l-3 2 0 2 3-2zM33 144l-2 6 7 1 1-1zM337 142h1v1h-1zM416 141l-9 4-1 3 2 1zM329 141l-3 6 1 2 4-1zM113 142l2 2 4-1-3-2zM38 141h1v1h-1zM424 140l-2 2 2 4zM363 140l-2 1-1 5 2 0 3-3zM371 138h1v1h-1zM50 138h1v1h-1zM325 136l-2 1 0 2 2-1zM0 135h1v1h-1zM405 134l-9 5 4 0 2 2 0 4 3-1zM126 133h1v1h-1zM424 132h1v1h-1zM110 135l-3-3-2 0-4 6-4 0-1 4 8 2zM124 131l-1-1-4 2 0 3zM370 130l3 1 2-2-3-1zM102 128l-4 1 2 4 2-2zM45 127h1v1h-1zM123 126l0 2 4 0 0-2zM66 126h1v1h-1zM334 125h1v1h-1zM56 123l-3 1-3 4 0 3 2 0 5-6zM99 122h1v1h-1zM60 121h1v1h-1zM406 120h1v1h-1zM39 119l-3 3-1 6 5-2zM6 119l-1 1 3 1 2 5 3 2 1-2-2-6-3 2zM384 118l-1 2 2 1 1-2zM32 118h1v1h-1zM24 118h1v1h-1zM73 116l-1 1 2 2 1-1zM334 114l3 2 3-1-1-2zM324 113l-4 2 0 4 4-2zM360 112h1v1h-1zM124 112l-1 1 3 2 1-2zM366 110l-2-1-1 2zM345 110l4 2-1-2zM56 109l-2 2 1 3 2-3zM26 109l-1 1 2 1zM83 108l-7 3 3 4 2-1zM69 108l0 2 2 1 0-2zM375 107h1v1h-1zM149 107l1 2 2-1zM97 106h1v1h-1zM111 108l-7-3-1 3 2 4-2 2-3 0 4 1 7-5zM38 105l6 2-2-2zM346 104h1v1h-1zM332 104l-3 2-1 4 3-1-1-3zM350 102l2 3-2 2 1 1 2-4zM218 101l-5 2 3 4 3-4zM367 100h1v1h-1zM114 100h1v1h-1zM23 102l3 2 2 0 1-2-3-2zM87 99l-2 3 2-1zM74 99h1v1h-1zM54 100l-2-1-1 3 2 0zM376 97h1v1h-1zM125 97l-1 3 2-1zM358 96h1v1h-1zM65 96h1v1h-1zM418 95l-1 2 3 3 1 5-1 6 2 6 2 1 0-16zM405 94h1v1h-1zM112 93l-2 0-2 3 1 1zM72 91l4 5 6 1 3-2 0-2-6 2-3-3zM417 90l1 2 1-1zM164 89h1v1h-1zM137 89l-5 2 1 1zM361 88h1v1h-1zM147 88l-5 8-5 1 0 3 7 4 4-3 6 1 2-2 0-3-4 3-5-6 2-3zM128 88h1v1h-1zM31 89l3 4 5-1-3-4zM351 88l-1-1-1 2zM95 87h1v1h-1zM420 86h1v1h-1zM321 85l-1 2 3 1 1-2zM45 86l4 2 1-1-3-2zM385 83h1v1h-1zM308 82l-3 1 1 1zM296 82l-2-1-5 2 2 3 2 0zM312 80h1v1h-1zM20 79l-4 2-2 7 3-2 4-6zM101 78l-4 3 2 2 5-1 2 2 0 7 3-2-2-6zM414 77l-1 2 4 2 1-1zM367 77l-2 8 3 3 4 1-6-6 2-4zM95 78l-2-1-3 3 4 0zM255 76l-1 1 3 2zM301 75h1v1h-1zM288 76l-2-1-3 3 2 1zM412 74l1 1 4-2zM92 73h1v1h-1zM1 73l-1 5 3 1 1-5zM246 71h1v1h-1zM239 71l-2 0-1 2 2 1zM348 70h1v1h-1zM78 70l1 3 1-2zM391 69h1v1h-1zM269 68l-1 1 2 1zM148 68h1v1h-1zM62 68h1v1h-1zM419 67l0 2 2 1 1-2zM19 67l-2-1-2 3 3 0zM67 65l1 3 6 1-4-4zM33 65l-2 0 1 3zM0 65l0 3 2 0zM375 64l-1 5-2 2 1 2 3 0 2-2-3-4zM248 64h1v1h-1zM406 63l-2 1 1 1zM257 63l-3 1 2 1zM139 63l0 2 3 2 0-2zM59 63l-4 2-2 3-8 1-1 2 7 2 5-2-2-3zM10 63h1v1h-1zM344 62l2 5 4-2-1-2zM39 62h1v1h-1zM355 61h1v1h-1zM337 61l-5 4 2 4 2-1 2-5zM160 61l-1 2 7 7zM90 60l-1 7 2 2 3 0 3-4-5-5zM24 60l-3 6 5 3 1-3zM363 57l-2 2 1 1 2-2zM45 57h1v1h-1zM345 54l-1 1 2 2 1-2zM154 54l0 3-4 3 1 1 5-2 0-3zM121 53l3 1 3 4 5-4zM358 52l-3 2 2 0zM28 52l-2 4 3 4 2 0zM262 51h1v1h-1zM150 51h1v1h-1zM51 51h1v1h-1zM326 50l2 3 3-2zM37 50l1 3 4-1-1-2zM298 49l3 2-1-2zM245 49l-3 2 0 2 3-1zM418 48h1v1h-1zM409 48l-3 2 0 2 2 1 2-2zM283 46l-1 2 2 1 1-2zM158 46l-1 2 3 1 1-2zM127 46h1v1h-1zM354 45h1v1h-1zM154 45h1v1h-1zM379 44l3 4 0 4 3-4zM267 44h1v1h-1zM403 42l-4 3 2 0zM366 42l2 2 0-2zM278 42h1v1h-1zM73 45l-1-3-3 1zM349 41l-7 1 4 6zM167 41l1 2 1-1zM155 41h1v1h-1zM308 40l8 6 1-3-3-3zM176 39h1v1h-1zM147 39h1v1h-1zM352 37l-1 4 3 2 1-4-1-2zM132 37l1 4 1-3zM265 36l1 5 1-2zM339 34h1v1h-1zM287 34l-2 1 0 2 2-1zM236 34h1v1h-1zM182 44l-2 6 2 12 5 7 9 5 8 1 15-3 10-7 3-7-2-10-9-8-12-5-17 0-5 3zM186 48l7-8 11-2 14 5 7 7 1 8-6 8-9 4-10 1-6-2-6-5-3-6zM60 33h1v1h-1zM269 29l-1 1 6 4 1 4 2 0 0-2zM83 29l-3 3 1 5 0-4 3-3zM356 28h1v1h-1zM346 29l-1-1-1 2zM31 28h1v1h-1zM291 27l-2 2 1 1 2-2zM286 27l-2-1-2 4 3 0zM190 26l-2 1 1 1zM145 26l-3 3 2 0zM78 26l-1 1 2 1zM221 25l-2 3 0 6 3 2 1-5-2-2zM137 26l-5-1-3 3-6-1-2 2 6 0 5 3zM350 24h1v1h-1zM23 24h1v1h-1zM200 23l-5 1-1 3 5 0zM3 23l-1 1 2 1 1-1zM257 22l-1 5 3-1zM113 23l6 3-3-4zM213 22l-1-1-1 2zM85 21h1v1h-1zM320 20l-2 0-1 3 2 0zM28 20h1v1h-1zM294 19l-5 2 3 2zM419 18h1v1h-1zM344 17l0 2 3 3 0-4zM195 17h1v1h-1zM106 17l-4 2 4 0zM214 17l1 2 11 4 2 5 2-1-3-4 1-4-2-2zM91 16l-1 3 3 2 0-4zM49 16l-1 5 3-2zM321 15l1 3 1-2zM145 15l-1 2 2 3 1-4zM330 14l-2 3 1 3 2-4zM275 14l0 2 2 1 1-1zM127 14h1v1h-1zM302 13l-2 1 1 2 2-1zM253 13l-1 2 3 5 1-3zM308 12h1v1h-1zM239 14l4 2 2-3-5-1zM55 12h1v1h-1zM333 11h1v1h-1zM230 11h1v1h-1zM138 11h1v1h-1zM412 10l0 2 3 0 0-2zM362 10h1v1h-1zM269 9l-6 7 5 3 0-3 4-5zM356 8l-6 4-1 5 6 0 0-4 2-3zM343 9l2 2 3-2zM326 7l-1 1 2 1 1-1zM205 7l-1 2 4 3 1-3zM92 7l-3 3 0 3 4-3zM85 7l1 2 1-1zM24 7h1v1h-1zM370 5h1v1h-1zM178 5l1 4 2 0zM16 5l2 2 1-1zM80 5l-3-1-6 6-3 1 3 1 5-2zM44 4l-2 2 2 0zM290 3l-4 4 3 0zM267 3l-1 2 3 2 1-2zM148 3l-1 3 2 2 1-1zM401 0h1v1h-1zM317 1h1v1h-1zM304 0h1v1h-1zM236 0l2 2 3 0 2-2zM215 0l-4 0-3 5 4-1zM185 0l0 5 4 3 1 4 4 2 3-7 3-3-3-1-2 4-6-1-2-2 0-4zM163 0l-7 2-1 3 2 1zM115 0h1v1h-1z"/>
<path fill="#8f3b6e" d="M316 316h1v1h-1zM34 316h1v1h-1zM208 315h1v1h-1zM2 315l4 1-2-2zM304 314h1v1h-1zM228 312h1v1h-1zM341 311h1v1h-1zM272 310l-3 2 1 1zM77 310h1v1h-1zM169 309l0 4 2 0zM139 309l-1 1 2 1zM374 307l3 1-1-2zM107 305l-2 2 1 1 2-2zM258 304l4 3 0-2zM164 305l-1-1-4 5-3-1-3 4 3 1 2-3 4 1zM75 304h1v1h-1zM46 304l-1-1-4 2 3 1zM294 303l-1-1-1 2zM336 300l-1 1 3 2 0-2zM274 299h1v1h-1zM296 298l-1 1 4 3 0-2zM162 298l2 2 0-2zM343 296h1v1h-1zM270 294l-2 1 1 1zM236 295l-1-1-3 2 3 1zM99 295l-2-1-3 2 1 1zM351 293l3 1 1-2zM163 292h1v1h-1zM402 291h1v1h-1zM23 291h1v1h-1zM381 289l-1 1 2 3 2-2zM302 289l-2-1-2 3 3 0zM414 286h1v1h-1zM64 286l3 2 2-1zM340 285l-2 5 3-3zM266 284h1v1h-1zM216 283h1v1h-1zM107 282l1 4 1-3zM4 282h1v1h-1zM0 281h1v1h-1zM151 278h1v1h-1zM413 277l2 3 0-2zM335 277h1v1h-1zM297 277h1v1h-1zM230 277h1v1h-1zM131 277h1v1h-1zM245 276l1 2 2 0 0-2zM65 274l-2 0 0 4 3-2zM89 271l1 2 1-1zM137 269h1v1h-1zM109 271l-2-3-4 3zM424 266l-5 5 1 1 4 0zM396 266h1v1h-1zM90 267l4 1 3 4 1-1-4-5zM158 265h1v1h-1zM271 265l1 3 4-2-2-2zM221 265l0 2 4 0-2-3zM197 264h1v1h-1zM409 261l-1 1 3 3zM143 261l1 3 1-2zM383 260l0 2 4 0 0-2zM291 260l1 3 1-2zM226 260h1v1h-1zM339 257l1 6 1-4zM86 257h1v1h-1zM287 256h1v1h-1zM100 256h1v1h-1zM283 253h1v1h-1zM315 252l-3 4 4 1 1-2zM151 252l-1 1 5 6zM15 253l-1-1-2 3zM101 250h1v1h-1zM246 248l1 3 1-1zM353 247l-1 1 2 1 1-1zM282 246h1v1h-1zM147 246l-4 1 0 2 3 0zM32 246l-1 1 3 3 1-2zM109 245l0 2 4 4 2-5-3 1zM182 242h1v1h-1zM212 241h1v1h-1zM171 241h1v1h-1zM159 241l-1 1 2 2 1-1zM19 241h1v1h-1zM13 241l-2 4-3 2 0 4-4 3 6-2-1-1 4-7zM340 239l-1 1 2 1zM257 237h1v1h-1zM274 236h1v1h-1zM324 235h1v1h-1zM353 232h1v1h-1zM174 230h1v1h-1zM333 229l-3 0-2 2 2 1zM213 229h1v1h-1zM376 228l3 2 1-1zM91 228l-2 0-2 4zM197 227h1v1h-1zM100 227l-4 3 1 2zM394 224l-1 1 2 1 1-1zM307 225l4 2 0-2zM247 224h1v1h-1zM214 223h1v1h-1zM29 222h1v1h-1zM20 224l4 1 1-3-3 0zM205 221h1v1h-1zM184 221h1v1h-1zM54 221l-5 3 1 3-3 7 2-1zM33 221h1v1h-1zM176 220h1v1h-1zM424 219h1v1h-1zM390 218h1v1h-1zM362 217l2 4 1-2zM268 217h1v1h-1zM196 217h1v1h-1zM386 216h1v1h-1zM299 214l0 2 3 1 0-2zM252 213h1v1h-1zM337 211h1v1h-1zM45 214l8 1-4-4zM130 209l-1 1 2 2 1-1zM94 209h1v1h-1zM319 207h1v1h-1zM420 204h1v1h-1zM359 204l6 4 3-1-3-4zM220 202l-1 1 2 1zM318 200l-2 2 2 3zM149 200l-2 3 3 2 1-2zM106 200l-1 2 3 3 1-5zM136 191h1v1h-1zM227 190h1v1h-1zM3 188h1v1h-1zM33 183h1v1h-1zM326 181h1v1h-1zM324 181h1v1h-1zM102 181l-3 4 2 4 0-3 4-4zM348 179l0 3 3 1 1-1zM109 179h1v1h-1zM341 178h1v1h-1zM218 178h1v1h-1zM54 178h1v1h-1zM403 177l-3 3 1 2 2 0zM26 176h1v1h-1zM45 173l-2 1 1 2 2-1zM96 172h1v1h-1zM407 171h1v1h-1zM71 171h1v1h-1zM54 170h1v1h-1zM122 167h1v1h-1zM44 164h1v1h-1zM97 163h1v1h-1zM141 161l-4 3 1 1 3-2zM75 161l-1 2 3 1 1-2zM345 160h1v1h-1zM87 160h1v1h-1zM70 160l-7 1-3 3 0 9 1-5 5-5 3 0zM45 159h1v1h-1zM15 159l-2-1-5 2 5 1zM419 156h1v1h-1zM122 156h1v1h-1zM4 156h1v1h-1zM409 155l-2 1 1 2zM368 151h1v1h-1zM420 150l-2 0 0 3zM349 150l0 2 3 2-1-4zM328 146l-1 1 2 1 1-1zM33 146l-2 3 1 1 2-2zM361 145h1v1h-1zM131 146l-1-1-1 2zM411 145l-1-1-3 4zM362 142h1v1h-1zM115 142l1 2 2-1zM424 141h1v1h-1zM404 139l-2 4 1 1 2-2zM324 137h1v1h-1zM107 134l-2-1-1 3-3 3-3 0-1 2 3 2 4 0 2-4-1-3zM371 130h1v1h-1zM99 129l-1 1 2 2 1-1zM124 126h1v1h-1zM11 124l1 3 1-1zM55 123l-5 7 2 0 4-4zM38 121l-2 3 3 2 1-2zM336 114h1v1h-1zM324 114l-3 1 0 4zM125 112l-1 1 2 1zM422 111l-1 2 3 5 0-6zM55 111h1v1h-1zM81 110h1v1h-1zM69 109h1v1h-1zM330 108h1v1h-1zM105 105l-1 3 3 5 3-2 0-2-3 1 0-4zM421 101l1 8 1-7zM26 102h1v1h-1zM53 100h1v1h-1zM155 99h1v1h-1zM137 99l8 4 4-5-6 2-2-3-2 0zM419 96h1v1h-1zM109 95h1v1h-1zM84 94l-3 1 1 1zM76 93h1v1h-1zM147 90l-2 2 0 5zM34 88l-1 2 4 2 1-1zM322 86h1v1h-1zM106 83l0 5 2 1zM295 83l-1-1-3 2 2 1zM19 80l-2 1-2 5 2-1zM103 80l-2-1-2 3zM415 78l-1 1 2 1zM2 74l-1 1 2 4 1-4zM237 72h1v1h-1zM78 71h1v1h-1zM373 72l3 0 1-2-3 0zM269 69h1v1h-1zM47 70l6 2-3-4zM17 68h1v1h-1zM420 67h1v1h-1zM32 66h1v1h-1zM68 65l0 2 2 0zM349 64l-2 0-1 2 2 0zM140 64l1 2 1-1zM256 63h1v1h-1zM336 62l-3 4 1 2 2-1zM24 62l-2 3 4 3zM90 60l0 7 3 2 2-4zM154 56l1 3 1-1zM127 54l-1 1 2 2 1-2zM149 53h1v1h-1zM29 54l-1-1-2 3 2 0zM408 51h1v1h-1zM38 52l3 1 0-2zM330 51l-2-1-1 2zM245 50h1v1h-1zM283 47h1v1h-1zM158 47h1v1h-1zM71 43l1 2 1-1zM348 42h1v1h-1zM344 42h1v1h-1zM312 42l4 2-2-3zM132 39h1v1h-1zM352 38l1 3 2 0zM275 36h1v1h-1zM286 35h1v1h-1zM181 48l0 9 3 7 4 5 10 5 11 0 8-2 8-4 6-8 0-8-2-4-9-8-13-5-13 0-6 3zM186 47l6-7 4-2 14 1 7 3 8 7 1 11-8 8-9 3-10 0-5-2-7-7-2-5zM221 31l-1 3 2 1 1-2zM284 27l-2 1 1 2 2-2zM123 28l5 1-3-2zM228 26h1v1h-1zM134 26l-2 0 0 3-2 1 1 1 4-3zM257 25h1v1h-1zM199 24l-1-1-3 3 3 1zM318 21h1v1h-1zM292 20h1v1h-1zM255 18h1v1h-1zM105 18h1v1h-1zM223 17l-2 3 4 2 2-3zM217 17h1v1h-1zM92 17l-2 1 1 1zM49 17h1v1h-1zM146 16h1v1h-1zM276 15h1v1h-1zM302 14h1v1h-1zM55 14h1v1h-1zM243 13l-3 1 2 1zM413 10l-1 1 2 1 1-1zM356 10l-5 2 1 4 2 0zM270 10l-3 1 1 3zM92 9h1v1h-1zM345 8h1v1h-1zM326 8h1v1h-1zM206 8l-1 1 2 2 1-2zM191 7l-1 4 4 2 2-5zM179 7h1v1h-1zM287 7h1v1h-1zM79 6l-4 0-2 4zM267 4l1 2 1-1zM198 4h1v1h-1zM317 0h1v1h-1zM237 0h1v1h-1zM214 0l-2 0-1 3zM186 0h1v1h-1zM163 0l-6 2-1 3z"/>
</g></g><g filter="url(#blurh)">
<rect x="339.2" y="216.3" width="213.3" height="158.5" fill="#faeee3"/>
<g transform="translate(339.45 216.55) scale(0.5)">
<path fill="#f2d1d7" d="M425 121l-3 2-1 5 5 7zM0 0l0 316 426 0 0-85-8-5 1-5 4-4 2 1 1 7 0-7-2-1 2-4 0-56-5 1-2 4-8 7-3 0-1-4-7-6 3-5-2-7 9-6 0-10 10-10 0-2 3-3 3 1 0-49-2 0-4-5 0-2 6-5 0-35-7 1-4-2-3-4 2-3-1-7 2-2 7 3 4 6 0-13-71 0-1 3 4 6-2 3 0 4 5 1 4-2 2 2-2 4 1 8 2 3 8 2 3 3-2 3-15-6-4-4 1-5-3-4-5-2-6 0-3-3 3-6-6-10zM367 183l2-1 2 2-3 1zM382 105l2 4-4 2-1-3zM401 89l3 1 2 3-4 5-3-1-2-3 1-3zM384 53l3-3 5 2 5-1 5 4 9 0 4 2 2 4-3 6-4 3-4-3-12-4-4-5-4 0-2-2zM294 49l3-2 2 4-4 1zM370 46l2-2 2 1-1 3-2 0zM382 43l1-1 1 2-1 1zM97 31l2 2 0 3-6 4-2-4zM270 31l1-3 4 2-3 3zM312 26l1-1 1 2-1 1zM371 23l2-1 2 3-3 1zM397 20l3 0 3 4 0 3-4 4-5-5z"/>
<path fill="#e6b1c7" d="M426 221h1v1h-1zM425 122l-3 3 0 2 4 3zM0 0l0 229 12 6 17 13-3 3-26-17 0 82 107 0-3-4 2-4 7 8 26 0-2-2 2-3 15 0 8 2 23-1 6 4 235 0 0-84-5-2-4-4 0-4 9-10 0-40-3 1-2-2 2-3 3 0 0-10-3 0-4 6-6 4-4 5-3-3-1-6-5-3 2-9-3-5 3-3 3 0 4-3 0-10 14-16 3 1 0-47-3 0-3-3 0-2-3-1-5 8-3 0-11-7-5 0-4-5-4 0-3-3 2-5 3-2 5 2 4-2 6 5 11 1 4 3 4 0 5-3 0-33-7 1-8-6 2-4-1-8 4-3 5 4 5 1 0-7-70 0 0 5 3 3-2 8 4 0 4-3 3 3-2 5 1 8 3 3 8 2 2 2 0 4 6 3-2 3-6-2-6 6-3-3 0-2 4-5-9-4-7-6 1-5-2-3-4-2-8 0-3-3 3-7-5-6 0-4zM95 300l5-1 3 4-3 2zM48 264l2-1 13 6 7 8 7 4 5 7 5 2 2 4-2 2-7-7-10-5-4-6-12-7zM36 258l3-3 9 7-3 1-6-2zM368 180l4 2 0 2-3 3-3-2zM346 161l3 3-3 3-3-3zM381 104l2 0 3 3-4 6-4-2 0-4zM400 88l4 1 3 4-4 6-3 0-4-5 0-2zM360 83l2-2 3 2-2 2zM296 46l2 0 2 3 0 2-3 3-3-2 0-4zM99 30l2 2-2 6-3 2-4 0-2-2 2-5 3-3zM268 31l3-4 3 0 2 2-1 3-3 2zM310 26l4-2 2 4-3 2zM372 21l2 0 2 3-3 5-3-2 0-4zM397 19l3 0 4 5-1 5-4 3-6-6 1-4z"/>
<path fill="#de90af" d="M426 122l-3 3 2 4zM357 0l-1 3 3 4 0 4-2 3 2 2 7-4 3 3-3 8 1 5 2 0 0-6 2-2 3 0 2 2 0 5-3 4 8 4 0 4 6 4 0 5 4 2 6-1 4 4 11 1 7 4 7-4 0-31-8 0-7-5 1-14 2-2 4 0 3 3 5 1 0-6zM398 18l2 0 5 7-1 4-4 3-3 0-5-7 1-3zM0 0l0 228 13 6 12 8 7 7-2 4-4 0-26-17 0 80 105 0-5-10-3-1-7-7-6-2-5-6-10-5-7-8-9-5-8-8-7-2-4-4 0-2 3-3 10 5 11 8 4 1 23 21 12 9 6 2 3 7 9 10 21 0-1-3 3-3 16 0 8 2 23-1 6 3 9 0 3 2 223 0 0-84-6-2-4-4 1-5 9-10 0-38-4 1-3-3 2-3 5-1 0-9-2 0-4 6-11 10-3-3-1-5-6-5 2-10-3-5 3-3 4 0 3-2-1-7 2-4 9-9 3-6 5 0 0-46-4 1-3-3 0-3-2 0-3 6-4 2-12-7-6 0-5-6-2 1-3-3 2-9-3-2-5 0-4 5-4-4 3-7-14-8 0-8-4-3-8 0-5-5 3-4 0-3-4-4-1-5-312 0-1 3-2 0-1-3zM325 302l3-1 3 4-3 2-3-3zM210 232l3 10-2 2-7 2-9 8-3-3 2-6-1-7 11 0 2-1 1-4zM191 208l3 3-2 15-3 3-5 1-5 6-6 0-3-3 2-9 3-3 6 3 0-9zM209 196l4 3 1 6-8 7-6-9 4-6zM230 189l7 10 5 16-4 2-3-4-2 2 1 5-3 2-4 0-4-3-8 2-3-3-1-5 3-3 9 1 2-2 0-5-5-5zM137 198l9-13 7 3 8-2 4 4 1 11-2 3-4 1-4-4-1-5-2-1-5 1-5 5-4 0zM370 179l3 5-4 4-2 0-2-2 0-3 2-3zM215 168l2 0 6 7-3 5-3 0-3-3zM345 160l5 4-3 4-5-4zM225 157l3-2 4 5-3 2zM205 156l2-3 4 1-3 4zM171 149l6 1 6 7-1 3-6 1-3 6 1 3 4-1 3 3-2 4 1 4 12 1 7-4 5 0 3 3 0 3-3 3-3-1-3 3-2 6-7 7-9-2-2-2 0-5-2-3-5 6-2-1-1-4 3-4-1-5-2-2-6 1-5-7-3 1-3-3 4-5 7-5zM192 150l3-2 3 4-3 2zM384 104l3 4-7 7-3-3 0-3 3-5zM400 88l5 1 2 3-1 4-4 4-3-1-4-6zM359 83l2-3 3 0 2 4-3 3zM77 74h1v1h-1zM144 72l2-1 2 4-2 1zM66 65l3-1 9 9-2 1-7-4-3-3zM53 56l4-1 5 6-4 1zM296 45l4 3 0 4-3 3-4-3 0-4zM41 46l1-1 5 5-2 2zM96 47l2-3 3 1-2 3zM40 45h1v1h-1zM107 38l4-1 5 4-6 1zM37 36l4 5-1 4-4-5zM88 38l6-9 4 0 6 4 0 2-7 6-6 0zM274 26l2 2 0 4-6 3-3-4 4-5zM312 23l3 1 2 3-3 4-5-5zM70 19l3-1 2 2 7 2 3 2 0 2-4 1-10-6z"/>
<path fill="#d0739a" d="M0 276l0 40 42 0-6-12-7-6-4-7-6-2-10-10zM0 252l0 11 12 9 5 2 13 12 6 8 1 4 8 8 7 10 39 0-1-3-5-2-7-8-7 2-3-3 4-4 3 1 2-2-3-4-5-2-7 1-3-3-3-7-3-2-6 2-3-2-9-1-4-4 0-5-5-9-5 5-3-3-1-5-3-4-5-3zM424 159l-3 3-1 4 6 1 0-8zM426 123l-2 2 2 3zM357 1l3 7-2 6 2 1 7-4 2 2-2 13 2 0 0-5 4-2 4 4-3 7 8 6 0 2 5 4 0 4 3 3 7-1 6 5 5-1 10 5 8-4 0-29-8 0-4-2-4-5 2-5 0-9 5-2 5 4 4 1 0-6zM400 17l4 4 1 7-2 3-6 2-4-4-1-6 3-4zM403 12l2-2 3 2-2 2zM0 0l0 213 2 0 7 7 0 5 5 5 6 3 9-2 10 14 6 1 6 6 5-4 5 8 6 0 2 3 0 6 4 3 4-1 4 4 1 8 22 9 15 13-3 7 2 2 4 0 4 4 0 2 9 0-1-3 4-4 15 0 13 3 21-1 5 3 7-1 6 3 221 0 0-83-6-2-5-5 2-7 9-10 0-36-8 0 0 4-2 2-3-4-6-1-3-8-6-5 2-10-3-5 2-3 5 0 3-2 0-9 10-11 5-8 4 1 0-44-5 0-4-5-2 5-4 3-14-8-5 0-5-5-3 0-3-3 2-8-3-3-4 1-4 5-4-4 2-8-10-5-4-4 0-7-5-3-7 0-5-5 4-5-4-5-2-6-310 0-1 9-3-1-2-8zM324 303l3-3 5 4 0 2-5 1zM209 229l4 4 3 9 4 5-2 2-4-3-6-1-8 6-2 5-5 0-3-4 2-10-3-6 2-2 3 0 8 3zM156 218l1-3 3 1-2 3zM244 200l0 4-2 3 2 9-13 10-2 0-6-6-7 3-7-7-5-3-2-4-3 0-5 11 0 4 2 3-1 3-9 1-5 6-7 0-5 2-2-3 4-10 0-4 3-3 6 2-2-4 11-11 7 0 9-11 7 1 4 5-1 6 3 3 4 0 2-2 0-3-6-6 7-9-1-6 2-2 6 2 3 9zM369 178l3 2 1 5-4 4-2 0-3-3 2-6zM212 167l4-2 7 7 5-1 2 3-6 3-4 5-3 0-4-4zM195 163l3 3-2 3-4-2zM345 159l3 1 3 4-3 4-3 0-4-4 1-3zM209 181l-4 6-4 0-6 10-7 6-10 0-6-6-2 0-7 9-4 0-7-10-10 7-4 0-3-3 0-4 7-7 3-6 4 0 5 3 9-1 2 2 3 0 1-5-3-2-4 2-5-6-4 0-4-4-2-7 3-3 11-4 4-6 6-5 6 1 6 6 5 8-3 3-6-3-3 3 6 5 0 8 9 2 7-4 6 0zM193 144l2 0 5 7 0 2-3 3-2 0-4-4 0-6zM203 155l8-7 2-4 8-1 5 4 3 6 5 1 2 4-4 8-3 2-3-3 0-3-3-5 0-7-4 1-11 9-2 0-3-3zM384 103l4 4-7 8-3 0-2-3 1-5 2-3zM91 92l3-1 1 3-2 1zM403 87l4 3 1 4-7 7-4-3-2-6 3-4zM362 79l4 3 0 2-3 3-4-3 0-2zM144 67l3 2 3 8-2 2-4-3-2-4 0-3zM138 61l2-1 3 4-3 1zM124 46l2-1 2 3-3 1zM297 44l3 2 1 5-5 5-3-3-1-5zM31 31l3-2 7 9 2 6 7 7 7 3 15 11 12 11 6 9-3 2-11-12-7-4-6-7-7-2-6-7-7-3-6-8zM272 25l4 2 1 4-3 4-5 0-2-2 0-4zM312 22l3 1 3 4-3 4-6-3 0-4zM28 17l3 1 2 5-2 4-2-1-2-5zM58 15l4-2 10 3 8 5 24 10 17 12-2 2-6-2-7 0-5 5-8 2-16 8-2-3 3-3 7-2 16-9 3 0 1-3-4 0-3 4-7 0-4-4 3-5-1-3-11-3-7-5-12-5zM45 9l3-2 6 3 2 3-4 2-4-2z"/>
<path fill="#d05b87" d="M0 277l0 39 41 0-4-5-1-5-7-6-5-8-4-1-12-11zM0 253l0 9 4 1 26 21 9 15 6 5 8 12 36 0-2-3-4-1-6-7-6 2-4-2-1-3 3-4 3-1 0-3-6-1-6 5-2-3 0-5-5-7-4 4-2 0-3-4-11-3-3-3-1-5-3-4-5 0-5-4-3-9-5-3zM218 204l-1 3 4 2 1-4zM221 186l-9-5-5 7-6 2-7 12 3 0 3-5 5-4 5 0 4 3 5-1 3-4zM426 159l-4 3 1 4 3 0zM219 153l-7 6 12 10 1-3-4-8 1-4zM426 125h1v1h-1zM358 0l0 4 3 5-2 4 2 1 6-4 3 3-1 4 2 2 3 0 4 5-3 7 7 3 1 4 5 4 0 4 2 2 8 0 5 4 10 1 4 3 4 0 5-4 0-27-6 0-7-3-4-6 2-3-1-8 3-4 4-1 6 5 3 0 0-5zM397 17l4 0 5 8 0 3-6 5-4 0-5-8zM405 9l2 0 2 3-3 4-3-3zM0 0l0 211 3-1 12 12-1 5 3 3 5 2 6-4 3 2 7 11 5 1 7 5 6-1 3 2 2 6 7 1 3 7 2 2 5 1 4 4 1 8 5 1 10 7 12 5 12 11-3 7 6 2 3 6 6 0-1-3 5-5 15 0 11 3 22-1 6 3 12 0 3 3 219 0 0-82-7-2-5-5 1-7 11-12 0-34-5 2-3 4-3 0-5-5-3 0-3-3-1-5-6-6 2-6-2-11 2-2 5 0 2-2 0-7 2-4 9-9 1-4 4-4 4 1 0-42-5 0-3-3-2 0-4 5-3 0-5-4-6 2-1-5-5 0-5-5-3 0-3-3 1-9-2-2-3 0-4 5-2 0-4-5 2-7-10-5-4-4 1-6-4-3-7 0-6-5 3-7-6-10-308 0 0 11 5 9 1 7 10 17 8 7 15 9 18 16 5 6 1 5 6 7-3 3-4-3-2-5-13-14-6-3-6-7-7-2-8-8-5-2-4-4-8-15-5-14 0-5-6-12 0-3zM333 300l2-1 1 2-2 1zM323 302l4-3 6 4 0 3-2 2-4 0-4-4zM148 248l2-1 3 3 0 2-2 1-3-3zM168 209l2 4-4 4-9 5-4-3 3-6 8-4zM370 177l4 4 0 4-3 4-4 1-3-3 0-5 3-4zM342 156l3 1 6 6 0 3-3 3-3 0-4-4-1-7zM209 137l4 4 11 1 4 4 2 5 6 0 3 3 0 3-6 10 0 7-6 5 9 6 0 7 2 2 5 0 7 7 0 2-6 5 2 4-1 6-13 10-5-1-5-6-7 4-14-12-5 6 0 5 3 3-2 6 2 2 3 0 2-4 4-4 2 0 4 4 5 11 3-1 0-3 3-3 6-2 3 3 0 2-4 4-4 1-7 10-5-5-7-1-6 5 0 3-3 3-5 0-4-4 0-6 2-4-4-7-3 0-2 2-7-1-2 2 7 6-4 4-4-3-2-4-6-2-7-10-5-2 0-2 3-1 5 4 7 2 3-7-1-5 13-9 2-4-7-1-7-4-5 5-6 1-4-3-4-7-7 7-7-1-3-3-1-6 7-5 2-6 8-6-5-8-1-7-4-6 3-4 4 0 7 4 5 0 9-10 4-2 3 0 8 5 3 0 4-7 3-2 3 1 7 9 2 0 3-2 1-3-5-6 2-3zM174 138l3-5 4 0 4 3-2 3-6 2zM383 102l4 2 2 3-6 8-4 1-3-3 0-6 3-4zM398 87l6 0 4 4 0 5-6 5-2 0-6-7 1-4zM362 78l5 4-1 4-3 2-5-4 0-2zM135 56l9 6 7 15-2 3-2 0-3-3-4-11-6-8zM298 44l4 4 0 3-6 6-4-4 0-5 2-3zM75 33l3 3-5 5-3-4zM272 24l5 3 1 4-3 4-6 1-3-3 0-3zM311 22l5 1 2 3-1 4-3 2-6-5 0-2zM44 8l6-1 8 5 13 3 17 9 11-2 2 2-1 3 2 3 24 14 3 3 0 2-2 2-6-4-11-4-11 7-6 1-16 8-3-4 3-3 16-7 1-3-4 0-3-2 0-7-3-4-6-1-13-8-19-7-2-2z"/>
<path fill="#d04d7a" d="M31 282l8 15 7 7 2 5 6 7 33 0-1-2-4-1-6-7-7 2-4-3-1-4 7-5-1-2-4 0-2 4-4 2-5-10-7 0-9-7zM0 281l0 35 40 0-4-5-2-6-6-5-4-7-6-2-10-9zM263 284l5 4 7 0 3 3 0 3-10 11-1 11 104 0 1-3 7-7 12-4 14 2 21 8 0-41-5 0-18 7-17-1-12-5-4-4-1-4 8-13 0-8-10-6-8-2-18 1-3-3-1-4-8-6-5-11-2 0 1 13-6 9-1 9 2 2 12-2 3 2 3 6 5-2 8 12 0 6-4 4-5 2-3-5-5 2-4-1-6-8-13-1-10-5-8 7-8 11-9 1-5 3zM338 300l-7 9-6-2-2-3 0-3 3-3 4 2 5-3zM221 205l-3 1 2 2zM216 192h1v1h-1zM426 160l-3 3 2 2zM420 0l2 3 4 1 0-4zM358 0l0 3 3 5-1 4 1 1 5-3 4 2 0 4 4 2 4 5-2 8 4 1 3 3 8 13 6-1 6 5 5-1 11 5 7-5 0-26-8 0-6-3-5-6-2 1-3-3 0-4 3-3 3 2 3-9zM401 16l4 5 1 7-3 4-7 2-5-7 0-4 5-6zM0 0l0 51 4 0 9 4 9 9 0 6-3 6-7 7-12 3 0 123 5-1 6 8 6 3 3 3 0 7 3 0 5-3 4 3 5 9 8 3 5 4 8 1 5 7 5 0 6 10 5 1 3 3 1 8 2 2 7-1-7-10 1-4 5 5 3 0 12-12 5 0 10 11 2 8 3 5 10 9-2 1-9-4-11-9-9-5-8 4-1 6 5 4 8 1 4-3 3 3 0 5 9 9-2 7 6 5 1 4 3 0-1-4 7-7-2-3 1-3 2 0 2 5 4 3 7 0 9 3 11 0 5-4 4 3 4 0 5 3 10-2 7 6 22 0 0-5-2-4-7-8-7 6-4 0-5-3-8 2-9 0-1-3 10-3 11-12 13-8 9-3 5-4 4 1 8 7 4-1 5-6 0-12 2-3-1-7 4-4 7 3 9 8 8-2 5-6 0-13 6-7 3-1 8 6 8-7 0-10-3-9 0-5 7-9 9-3 4-4 0-3 2-2 9 0 3 3 0 6 3 1 9-3 5-10 11-11 4-2 10-1 13 5 0-2-5-5 0-5 2-3-2-11 3-3 6-1 0-8 10-12 3-7 4-3 4 1 0-39-5 0-2-2-4 0-4 4-6-4-7 2-2-6-5 0-4-5-6-2 1-9-3-3-7 6-5-5 2-7-14-9 0-8-3-2-8 0-6-6 3-4 0-3-6-8-2 1-2-2-134 0 0 3-5 7-9 1-5-4-2-7-148 0 0 8 6 13 0 5 7 10 0-10 2-2 2 1 0 3 2 2 7-1 4 3-1 11 2 2 5-5 5 6 3 0 1-3-5-4 0-3 7-5 6 3-4 7 1 4-7 7-4-2-8 0-1 2 29 25 10 17-3 3-4-3-8-12-9-8-5-2-5-6-9-3-4-5-10-4-4-4-1-7-8-18-2-11-6-11 0-3zM182 257l2-1 2 4-2 1zM148 245l5 4 0 5-2 0-5-5zM7 157l11-6 17 1 2 3-3 7 2 2 6-3 5 0 7 5 1 6-2 5 0 8 2 4 0 5-2 3 0 4 8 6 9-1 4 3 4 16 0 6 4 8 0 4-2 2-2-1-1-5-17-24-6-6-11-7-1-6 5-7-2-4-12 4-12 0-10-7-9-14 0-5zM332 142l7-3 4 2 0 11 9 11 0 4-3 3-4 0-5-4-4-12-3 3-4-2-1-9zM217 125l5 5-1 8 18 15 0 5-5 8-1 9-3 4 6 5 1 9 7 1 8 9-3 3-4 1 1 10-14 11-4 0-6-6-7 4-7-7-8-2-3 3 0 3 3 4-2 5 2 3 3-1 1-4 3-3 4 0 6 8 1 5 2 2 4-7 8-2 3 4-3 4-7 3-2 6-3 3-3 0-5-6-4 0-6 4-1 4-3 3-5 0-4-4 1-12-4-5-6 3-6 0 6 6-2 4-3 0-7-8-3 0-5-4 0-3-3-4-5-2 0-2 3-1 9 6 3 0 2-5-1-8-4-1-6 4-3 0-3-3 1-4 3-3-1-3-9 0-12-6-1-9 7-5 1-5 6-6-3-7 0-7-5-8 4-4 5 0 7 4 4-1 5-9 2-8 10-8 12 3 10 0 15-8zM385 102l4 3 0 4-8 8-3 0-3-3 1-8 4-4zM318 95l5 4 0 4-4 3-5-5 1-4zM399 86l5 0 5 5-1 6-6 5-2 0-6-7 1-6zM361 78l3 0 3 4 0 3-3 3-3 0-3-3 0-4zM133 54l11 8 7 15-2 3-2 0-3-3-4-11-8-10zM296 43l2 0 4 4 0 5-4 5-3 0-4-4 0-5zM58 26l5-1 3 4-4 4-4-1zM272 23l5 3 1 6-3 4-6 1-4-4 0-3zM308 24l2-2 5 0 4 6-2 3-4 1-5-4zM86 10l3 4-4 3-2-4zM43 9l3-3 3 0 7 4 5 0 4-2 6 7 8 2 7 5 6 0 12-6 1 7-3 5 4 4 10 5 6 5 4 1 4 5-3 3-6-4-11-3-12 7-3 0-18 9-4-4 1-3 6-3 5-5 6 0 0-2-5-4 0-6-4-4-3 0-21-11-6-1-5-3z"/>
<path fill="#c35282" d="M85 316h1v1h-1zM330 299h1v1h-1zM43 296l-1 3 9 11 2-1 2-11-2-2zM0 289l0 27 39 0-5-10-7-6-4-6-16-5zM87 274l-1-1-1 2zM72 255l2 6 5 2 2-1-3-6zM67 243h1v1h-1zM298 316l73 0 1-3 7-7 12-4 14 2 21 8 0-41-5 0-18 7-12 0-11-3-6-3-5-6 3-8 5-7 0-8-10-6-8-2-17 1-3 4 1 7 9 14 0 6-9 9 1 2-2 2 0 3-6 5-1 9 3 0 3 3-7 9-2 0-5-3-4-7-11 1-9 7zM45 229l-3 3-1 4 8 7 9 2 2-2-1-10-4-3zM221 205l-3 1 2 2zM216 192h1v1h-1zM426 160l-3 3 2 2zM83 38l-1 4 2 1 1-3zM0 15l0 24 18 6 12-2 1-7-7-21-3-4-12 4zM359 0l3 10 2 1 4-2 3 3 0 4 6 4 2 4-2 6 7 5 5 7 1 5 8 0 5 4 17 2 6-4 0-23-9-1-9-7-2 0 0 11-4 4-9 3 0-5-3-8 5-6 4-2 0-3-11-5-6-7zM0 104l0 12 6 1 13 12 11 6 15 4 7 0 3 3-8 8-9 5-3 3-1 4 3 2 5-3 5 0 7 5 1 6-2 5 0 8 2 4 0 5-2 3 0 4 8 6 9-1 4 3 4 16 0 6 4 8 0 4-4 7 7 6 3 8 3 3 3 0 12-12 5 0 10 11 2 8 3 5 13 11 1 9 4 7 25 4 4-4 3 1 12-7 9-2 11-12 13-8 9-3 5-4 4 1 8 7 4-1 5-6 0-12 2-3-1-7 4-4 7 3 9 8 8-2 5-6 0-13 6-7 3-1 8 6 8-7 0-10-3-9 0-5 7-9 9-3 4-4 0-3 2-2 9 0 3 3 0 6 3 1 9-3 5-10 11-11 4-2 10-1 13 5 0-2-5-5 0-5 2-3-2-11 3-3 6-1 0-8 10-12 1-4-3-1-3-4-6-1-3-3 0-2-8-10 0-5 6-7 4-2 8 4 5 0 6 5 3 0 1-16-8-4-7 4-6-4-7 2-2-6-5 0-4-5-6-2 0-9-2-2-2 0-5 5-5-5 2-7-14-8 0-8-3-2-9-1-4-3-1-4 3-5-3-3-1-4-4 0-3-3-44 0-1 20 10 20 5 3 3 4-1 10 6 13 3 3 16 7 18 12 16-1 0-2-4-3 0-5 4-4 3 0 5 6 0 3-5 5 8 4 5 5 6 0 7 5-1 4-8 8-3 0-3-3 0-4-8 0-3 4-18 3-5 4-1 3-3 0-7-4-7 0-6 2-4-4 0-20 2-9-2-2-14 1-10-9-3-6 0-15-12-4-9-7-10 0-5-2-9-7-3-6 0-11 6-11 2-10-30 0 1 16-5 14-2 2-3 0-10-10-6-1-4 2-9 1-8 6-13-3-6 8-5-4 0-2 3-3 14-7 0-19-81 0 1 4-3 3-3-1-4 5 2 4 5 1 2-6 5-5 3 0 1 7-5 9 3 1 6-2 9-6 2 2 0 6-3 6 27 19-3 4-6-4-9-3-10 4-15 10 3 4 2 0 4-4 4 3-7 7-8 2 0 2 6 6 1 9 5 7-3 3-2-1-13-17-6-5-5-1-4 4-11 4-14 11-13 7-13 4zM182 257l2-1 2 4-2 1zM148 245l5 4 0 5-2 0-5-5zM61 141h1v1h-1zM340 137l3 4 0 11 8 9 1 6-3 3-9-1-3 2-4 0-2 2 1 3-2 1-11-7-1-5 2-5-6-10 0-4 4-7 6 2 7 0 6-4zM217 125l5 4 4 12 13 12 0 5-5 8-1 9-3 4 6 5 1 9 7 1 8 9-3 3-4 1 1 10-14 11-4 0-6-6-7 4-7-7-8-2-3 3 0 3 3 4-2 5 2 3 3-1 1-4 3-3 4 0 6 8 1 5 2 2 4-7 8-2 3 4-3 4-7 3-2 6-3 3-3 0-5-6-4 0-6 4-1 4-3 3-5 0-4-4 1-12-4-5-6 3-6 0 6 6-2 4-3 0-7-8-3 0-5-4 0-3-3-4-5-2 0-2 3-1 9 6 3 0 2-5-1-8-4-1-6 4-3 0-3-3 1-4 3-3-1-3-9 0-12-6-1-9 7-5 1-5 6-6-3-7 0-7-5-8 4-4 5 0 7 4 4-1 5-9 2-11 9-7 14 3 12-6zM133 54l11 8 7 15-2 3-2 0-3-3-4-11-8-10zM335 46l4-4 4 0 6 2 7 7-2 2-15 0-4-4zM115 29l2-1 1 3-2 1zM311 21l5 1 3 4 0 3-4 4-4-1-4-5 1-4zM113 19l2-2 3 1-1 3-3 0zM132 14l2 2-2 3-2-2zM36 27l2-1 0-5 2-2 9 0 0-2-6-5 0-5 3-2 9 2 2-2-1-5-27 0 0 9 5 10z"/>
<path fill="#c53f6e" d="M85 316h1v1h-1zM162 307l0 2 2 1 6-1-2-3zM298 312l0 4 40 0-1-6-7 0-5-2-5-9-8 0-7 3-5 5zM43 296l-1 3 9 11 2-1 2-11-2-2zM0 289l0 27 39 0-5-10-7-6-4-6-16-5zM87 274l-1-1-1 2zM72 255l2 6 5 2 2-1-3-6zM45 229l-3 3-1 4 8 7 9 2 2-2-1-10-4-3zM219 231l1 2 9-1 0-2-7-2zM370 136l-4 3-2 6 3 4 7 1 4-4 0-5-3-4zM83 38l-1 4 2 1 1-3zM0 15l0 24 18 6 12-2 1-7-7-21-3-4-12 4zM359 0l3 10 2 1 4-2 3 3 0 4 6 4 2 4-2 6 7 5 5 7 1 5 8 0 5 4 17 2 6-4 0-23-9-1-9-7-2 0 0 11-4 4-9 3 0-5-3-8 5-6 4-2 0-3-11-5-6-7zM286 0l0 23 9 17 7 5 0 12 4 10 5 6 16 7 18 12 16-1 0-2-4-3 0-5 4-4 3 0 5 6 0 3-5 5 8 4 5 5 6 0 4 2 6 8 6-3 0-4-6-8 0-5 6-7 6-2 6 4 7 1 4 4 4-1-1-16-9-2-6 3-6-4-6 3-2-2-1-5-6-1-2-3-4-1-3-3 1-8-2-2-6 5-2 0-4-5 0-8-12-7 0-8-3-2-9-1-4-3-1-4 3-5-6-8-2 1-3-3zM335 46l4-4 4 0 6 2 7 7-2 2-15 0-4-4zM311 21l5 1 3 4 0 3-4 4-4-1-4-5 1-4zM82 0l1 4-3 3-3-1-3 3-1 4 4 3 3 0 2-6 7-6 3 3 0 2-6 12 3 1 6-2 9-7 3 4-1 6-3 5 3 3 12 6 5 5 5 1-1-8 3-3 5-2 5 2-3 9-4 4-2 0-1 6-4 1-6-2-7-5-3 0-23 13 3 4 2 0 4-4 4 3-7 7-8 2 0 2 3 3 2 0 6 7-1 7 2 2 0 4-2 2-3 0-18-21-3-2-4 0-3 3-11 4-14 11-13 7-13 4-13 1 0 12 6 1 13 12 11 6 15 4 7 0 4 4 6-2 6 4 1 2-4 4-2 0-5 6 0 6 3 5-4 7 0 10 3 6-1 9 5 4 10-1 3 3 2 13 3 5 0 6 3 7-1 13 6 10 4 2 10-10 3-5 4-1 9 9 10 6 0 15 15 14-2 5 1 7 5 4 7 0 10-7 7 3 6 0 9-5 8-2 8-13 8-7 1-3 21-18 5 3 4 7 2 0 5-8 1-9 5-5 5 0 17 11 6-1 3-4 1-13 2-4 7-7 4 0 5 3 3 0 3-3 0-8-3-8 1-12-5-7 1-3 4-2 5 6 4 1 8-3 2-3-4-6-7-3-5-6 0-23 5-8 15 0 4-4 1-5-2-4-6-5-13 2-5-5-3-16 1-10-3-3-9 1-7-6-4-2-5 0-3-3 2-10 4-6-2-6-9-3-9-7-10 0-5-2-9-7-3-6 0-11 6-11 2-10-30 0 1 16-5 14-2 2-3 0-9-9-3-1-16 3-4 2 0 3 4 5 0 3-3 2-3-3-2-6-4-2-10-2-6 8-5-4-5 0-2-2 1-1-2-4 4-4 3 3 0 3 3 1 15-8 0-19zM146 238l5 0 2 2-1 4 6 10-3 4-3 0-11-12 0-3zM137 138l3-1 2 3-4 2zM217 123l6 5 3 9 5 3 10 12 0 5-7 14 1 7 3 5 1 6 5 3 10 10 0 10-7 10-4 0-10 7 0 2 4 3 0 5-3 4-7 2-2 5-9 7-2 0-3-4-8 6-10 1-1 2 3 4-4 8-5 2-4-4-1-10-15-19-4 0-6-3-2-3 1-2-2-2-7 1-13-9 1-3 6 1 5 3 1-2-4-4-8-4-6-9 0-5 3-4 0-5 5-6-7-7 1-10 3-3 8 0 0-3-4-6 2-9 4-4 14-1 3-7 7-6 6-3 21 0 8-4zM132 52l12 9 7 15 0 3-2 2-2 0-3-3-3-6 0-4-11-13zM108 51l2-2 2 3-3 1zM116 27l3 3-2 3-4-2zM112 20l3-4 3 0 2 2-4 4zM132 14l2 2-1 3-3-1zM36 27l2-1 0-5 2-2 9 0 0-2-6-5 0-5 3-2 9 2 2-2-1-5-27 0 0 9 5 10z"/>
<path fill="#b24277" d="M219 231l1 2 9-1 0-2-7-2zM371 136l-6 5-1 4 4 4 6 1 4-4 0-5-3-4zM355 43l0 3 12 15 8 4 4 4 6 0 3 2 1 9 7 2 9-3 6 4 7 1 3 3 5 1-1-14-7-3-8 3-6-4-6 3-2-2-1-5-6-1-2-3-4-1-3-3-1-6-4-1-4 2-3-3-1-10-4 2-5-1zM125 38l-2 3 3 2 1-4zM194 24l-13 2-3 3 1 9-3 2-9-9-7 0-5 2-2 3-1 7-9 7-11-3-3 5-3 0-10-5-6 7-6-4-3 0-1 4 4 8-9 10 0 17 2 2 0 4-2 2-3 0-10-13-8-8-2 0-2 2 0 7-3 7-10 9 0 3 4 7 0 9-2 7 10 17 0 3-4 4-2 0-5 6 0 6 3 5-4 7 0 10 3 6-1 9 5 4 10-1 3 3 2 11 4 8 0 7 3 6-1 13 7 10 3 0 14-15 2 0 9 9 8 3 4 5 0 14 15 13-3 5 0 6 2 3 4 2 6 0 10-7 3 0 5 3 5 0 8-5 10-3 7-12 8-7 1-3 21-18 5 3 4 7 2 0 5-8 1-9 5-5 6 0 14 10 7 0 4-5 1-13 7-9 7-1 7 3 3-3 0-8-3-8 1-12-5-7 1-3 4-2 5 6 4 1 8-3 2-3-4-6-7-3-5-6-2-26 5-12 2 0 5 7 5 1 8-5 1-6-7-7-4 0-6 4-4 0-5-7 0-11-2-6 1-10-3-3-9 1-11-8-6 1-2-2 1-10 4-7 0-3-3-3-7-2-8-6-12 0-13-6-12-10-5 0-11 6-3 0-5-4-3-6zM146 238l5 0 2 2-1 4 6 10-3 4-3 0-11-12 0-3zM140 133l4 2 0 3-3 4-3 0-2-5zM217 123l7 5 3 9 11 10 3 5 0 5-7 14 1 7 3 5 1 6 5 3 10 10 0 10-7 10-4 0-10 7 0 2 4 3 0 5-3 4-7 2-2 5-9 7-2 0-3-4-8 6-10 1-1 2 3 4-4 8-5 2-4-4-1-10-15-19-4 0-6-3-2-3 1-2-2-2-7 1-13-9 1-3 6 1 5 3 1-2-4-4-8-4-6-9 0-5 3-4 0-5 5-6-7-7 1-10 3-3 8 0 0-3-4-6 2-9 4-4 14-1 4-9 7-6 7-3 15 2 11-5zM132 52l12 9 7 15 0 3-2 2-2 0-3-3-3-6 0-4-11-13zM135 24l-7 7 3 1 6-2 3 2-2 4 2 1 2-4-3-6z"/>
<path fill="#a33973" d="M146 260l-2 2 1 10 3 5 0 4 9 8-2 4-7 4 0 3 3 3 5 0 8-8 5 0 7 3 4-5 0-3-3-5 2-3 5-1 1-2-9-1-4-4-6 5-5-6 0-2 3-2-2-4-6-3zM92 250l2 2 0-2zM290 217l0 2 2 0zM371 138l-4 3-1 4 3 3 5 0 2-6-2-3zM329 123l-3 1-4 5 0 6 3 3 6 0 4-4-1-7zM357 44l0 2 13 16 4 1 6 5 7 0 7 5-3 6 6 1 5-3 3 0 8 5 6 0 7 4 0-9-8-4-8 2-6-4-4 3-3 0-2-6-5-1-5-5-4-1-4-8-7 1-3-3-1-5-2-2zM73 86l-1 8-9 9 0 6 5 9-1 12 4 8 10 8 0 2-12 12 3 7 0 7-5 7 3 5 18 15 2 6 8 1 6 5 1 5-3 5 0 4 4 5 5 2 10 0 6-6 8 5 2-1-3-4-4 0-3-2-5 1-5 5-3-1-2-3 1-4 10-13-3-10 4-5 6-4 0-7-4-6-5-4-1-3 7-8 6-4 0-8-2-5 1-12 5-5 10-4 14 2 5-4 8-3 17 1 5-4 13 0 15 3 3 3 1 6 3 5 15 14 1 4-9 14 0 5 8 6 0 7 2 4 3 2 3-1 11-8 10 14-1 4-12 10-3 6-6 6 0 3 7 6 5 7 5 2 5 6 7-2 2-2 1-7-3-5 1-4-2-3-6-2-4-4 0-4 5-5 4 2 2-2 0-4 4-9 0-12 2-4 6-4 5 0 4 2 4-5 1-15-2-5 0-7 4-9 0-11-2-3-2-13-9-8 0-4-2-3-7-4-7 2-8 0-4-4 2-8-2-14 2-5-3-4-4-2-10 0-9-4-16-13-6 0-11 6-13-1-7 3-10 1-9 7-2 0-3-3 3-7-1-7-3-4-7-1-4 3-2 4-1 8-7 7-3 0-2 2 10 18 1 5-3 3-6-5-3-9-12-14-5 0-4 8 9 7 0 4-7 6-5-1-6-5-6 0-3 5 0 12-5 8-12 1-3-3-2-10-2-2zM88 133l3 3-3 4-3 1-2-3zM187 97l3-3 4 2-2 4-2 0z"/>
<path fill="#903474" d="M304 116l-3-5-6-1-7 5-6 2-2-3 9-8 0-5-5-5-4 0-9 6-6 2-6-7 0-9-3-4 0-6-7-4-11-12-3-5-2-8-4-3-5-1-7 4-12 3-10-1-9 2-11 14-4 3-3 0-3-3-3-16-4-1-8 6-4 7 6 16-3 3-6-4-4-8-2 0-6 9-9 5-5 0-6-3-4 1-2 5 0 12-8 3-6 6 7 18 1 11-5 8-1 8-7 7 0 2 9 5 3 0 5-4 4 0 11-4 6-6 0-14 2-5 6-6 11-5 8-9 9-5 3 0 10 7 8-1 4-6-2-5-7-6 0-5 10-11 7 0 7 4 3 9 0 8 3 3 4 0 8-6 2 0 3 3 2 10 8 10 2 8 3 4 9 3 3-2 4-8 4 0 11 8 1 3-3 4-5-2-6 0-2 3 9 8 3 12 11 11 2 0 5-5 9-3 7-7-1-25 5-10zM109 97l4-2 5 5-2 3-5 1-3-3zM220 80l3 0 2 2 0 3-3 3-5-5z"/>
</g></g><defs>
<radialGradient id="gE" gradientUnits="userSpaceOnUse" cx="433" cy="298" r="90">
<stop offset="0" stop-opacity="0.75"/><stop offset="0.25" stop-opacity="0.85"/><stop offset="0.5" stop-opacity="1"/><stop offset="0.75" stop-opacity="0.8"/><stop offset="1" stop-opacity="0.7"/></radialGradient>
<filter id="nE1" filterUnits="userSpaceOnUse" x="339.2" y="216.3" width="213.3" height="158.5" color-interpolation-filters="sRGB">
<feTurbulence type="fractalNoise" baseFrequency="0.3" numOctaves="3" seed="4"/>
<feColorMatrix type="matrix" values="0 0 0 0 0.45  0 0 0 0 0.23  0 0 0 0 0.52  -4 0 0 0 2.05"/>
<feGaussianBlur stdDeviation="0.5"/>
<feComposite in2="SourceAlpha" operator="in"/></filter>
<filter id="nE2" filterUnits="userSpaceOnUse" x="339.2" y="216.3" width="213.3" height="158.5" color-interpolation-filters="sRGB">
<feTurbulence type="fractalNoise" baseFrequency="0.17" numOctaves="3" seed="9"/>
<feColorMatrix type="matrix" values="0 0 0 0 0.94  0 0 0 0 0.70  0 0 0 0 0.81  0 5 0 0 -2.95"/>
<feGaussianBlur stdDeviation="0.5"/>
<feComposite in2="SourceAlpha" operator="in"/></filter>
</defs>
<rect x="339.2" y="216.3" width="213.3" height="158.5" fill="#000" fill-opacity="0.75" filter="url(#nE2)"/>
<rect x="339.2" y="216.3" width="213.3" height="158.5" fill="url(#gE)" filter="url(#nE1)"/>
<defs><radialGradient id="gC" gradientUnits="userSpaceOnUse" cx="433" cy="314" r="42">
<stop offset="0" stop-opacity="1"/><stop offset="0.6" stop-opacity="0.9"/><stop offset="1" stop-opacity="0"/></radialGradient>
<filter id="nE3" filterUnits="userSpaceOnUse" x="339.2" y="216.3" width="213.3" height="158.5" color-interpolation-filters="sRGB">
<feTurbulence type="fractalNoise" baseFrequency="0.32" numOctaves="2" seed="21"/>
<feColorMatrix type="matrix" values="0 0 0 0 0.62  0 0 0 0 0.16  0 0 0 0 0.36  -5 0 0 0 2.2"/>
<feGaussianBlur stdDeviation="0.4"/>
<feComposite in2="SourceAlpha" operator="in"/></filter>
<filter id="nE4" filterUnits="userSpaceOnUse" x="339.2" y="216.3" width="213.3" height="158.5" color-interpolation-filters="sRGB">
<feTurbulence type="fractalNoise" baseFrequency="0.3" numOctaves="2" seed="33"/>
<feColorMatrix type="matrix" values="0 0 0 0 0.97  0 0 0 0 0.86  0 0 0 0 0.91  0 5 0 0 -2.75"/>
<feGaussianBlur stdDeviation="0.4"/>
<feComposite in2="SourceAlpha" operator="in"/></filter></defs>
<rect x="339.2" y="216.3" width="213.3" height="158.5" fill="#000" fill-opacity="0.35" filter="url(#nE4)"/>
<rect x="339.2" y="216.3" width="213.3" height="158.5" fill="#000" fill-opacity="0.4" filter="url(#nE3)"/>
<rect x="339.2" y="216.3" width="213.3" height="158.5" fill="url(#gC)" filter="url(#nE4)"/>
<rect x="339.2" y="216.3" width="213.3" height="158.5" fill="url(#gC)" filter="url(#nE3)"/><g filter="url(#blurh)"><g transform="translate(339.45 216.55) scale(0.5)"><path fill="#9a2862" fill-opacity="0.75" d="M355 42l-1 4 5 4 5 9 5 4 6 2 2 3 9 1 2 2 0 9 9 2 5-3 3 0 7 5 7 1 3 4 4 0 0-15-7-4-5 0-3 3-12-8-8 0-2-2 0-4-6 1-2-2 1-5-2 0-4-5-4 4-3-3-1-4 2-5-6-2-1 4zM398 70l1-1 1 2-1 1z"/><path fill="#fcf2e6" d="M325 302l1 3 5 1-4-5zM426 211l-9 13 1 4 8 3zM369 179l-3 4 1 5 3-1 2-4zM417 177h1v1h-1zM420 170l1 3 5-1 0-4-4 0zM344 161l-1 4 5 2 0-5zM424 115l-4 2 0 3-12 13 2 7-4 4-7 0 3 7-2 11 5 2 3 9 4-1 0-2 7-6 2-5 5-2 0-27-4-2 0-4 4-3 0-5zM385 105l-6 0 0 9 2 0 6-7zM398 89l-2 5 4 5 3 0 3-4 0-4-2-2zM362 80l-2 4 4 2 1-4zM399 69h1v1h-1zM299 46l-5 1 0 6 2 2 3-2zM100 32l-5-1-6 6 0 3 9 0zM273 26l-4 3 0 5 4 0 3-4zM311 24l0 5 4 1 2-3-1-2zM400 18l-7 5 0 3 3 5 5 0 3-3-1-6zM405 11l1 3 1-2zM413 3l0 10-2 4 1 2 7 4 6 0 1-16-4 0-4-4zM339 0l0 4 6 8-5 4 4 4 8 0 6 4-1 7 16 10-4 3 0 4 3 3 3-5 4-2 6 4-3 10 6 0 3 6 7 0 3 3 5 1 4 4 3-1 4-9 2 0 2 3-1 4 6-1 0-14-4 4-4 1-3-3-8-3-5 1-5-5-4 2-7-2 0-7-7-2 2-5-5-1-4-3 4-5-1-4-4-2-1 10-1 1-2-2-2-6 2-3 1-7-1-1-8 5-3-2 0-2 3-3-4-7 1-3zM333 0h1v1h-1z"/><path fill="#f2d6e2" d="M104 308l0 4 4 4 5 0-7-8zM36 255l2 5 9 3 6 7 11 6 4 6 13 7 4 6 4 0 8 8 4 2 2-2-1-3-3 0-7-4-17-16-6-3-7-8-6-2-9-7zM0 230l0 4 7 5 11 5 5 5 7 2 0-2-14-11z"/><path fill="#9a2058" fill-opacity="0.85" d="M370 138l-4 4-1 4 5 4 4 0 3-4 0-3-3-4zM329 122l-5 4-2 4 0 6 2 3 6 0 6-5 0-5zM154 34l0 8 2 2 1 6 4 0 3-4 6-2 0-4-3-7z"/></g></g>
<rect x="279.00" y="370.90" width="43.70" height="3.30" fill="#111" stroke="none" stroke-width="0" />
<text x="300.80" y="366.00" font-family="'Liberation Serif', serif" font-size="13.2" font-weight="bold" text-anchor="middle" fill="#111" stroke="#111" stroke-width="0.22" textLength="40" lengthAdjust="spacingAndGlyphs">150 µm</text>
<rect x="506.50" y="370.90" width="44.50" height="3.30" fill="#111" stroke="none" stroke-width="0" />
<text x="529.20" y="366.00" font-family="'Liberation Serif', serif" font-size="13.2" font-weight="bold" text-anchor="middle" fill="#111" stroke="#111" stroke-width="0.22" textLength="40" lengthAdjust="spacingAndGlyphs">150 µm</text>
<text x="184.50" y="402.00" font-family="'Liberation Serif', serif" font-size="16" font-weight="bold" text-anchor="start" fill="#111" stroke="#111" stroke-width="0.22" >f</text>
<line x1="216.30" y1="414.02" x2="216.30" y2="539.50" stroke="#222" stroke-width="1.3" />
<line x1="216.30" y1="539.50" x2="319.50" y2="539.50" stroke="#333" stroke-width="1.3" />
<line x1="213.30" y1="539.50" x2="216.30" y2="539.50" stroke="#222" stroke-width="1.2" />
<text x="212.20" y="542.50" font-family="'Liberation Serif', serif" font-size="8.6" font-weight="bold" text-anchor="end" fill="#111" stroke="#111" stroke-width="0.22" >0</text>
<line x1="213.30" y1="508.13" x2="216.30" y2="508.13" stroke="#222" stroke-width="1.2" />
<text x="212.20" y="511.13" font-family="'Liberation Serif', serif" font-size="8.6" font-weight="bold" text-anchor="end" fill="#111" stroke="#111" stroke-width="0.22" >20</text>
<line x1="213.30" y1="476.76" x2="216.30" y2="476.76" stroke="#222" stroke-width="1.2" />
<text x="212.20" y="479.76" font-family="'Liberation Serif', serif" font-size="8.6" font-weight="bold" text-anchor="end" fill="#111" stroke="#111" stroke-width="0.22" >40</text>
<line x1="213.30" y1="445.39" x2="216.30" y2="445.39" stroke="#222" stroke-width="1.2" />
<text x="212.20" y="448.39" font-family="'Liberation Serif', serif" font-size="8.6" font-weight="bold" text-anchor="end" fill="#111" stroke="#111" stroke-width="0.22" >60</text>
<line x1="213.30" y1="414.02" x2="216.30" y2="414.02" stroke="#222" stroke-width="1.2" />
<text x="212.20" y="417.02" font-family="'Liberation Serif', serif" font-size="8.6" font-weight="bold" text-anchor="end" fill="#111" stroke="#111" stroke-width="0.22" >80</text>
<line x1="214.30" y1="523.82" x2="216.30" y2="523.82" stroke="#222" stroke-width="1.0" />
<line x1="214.30" y1="492.44" x2="216.30" y2="492.44" stroke="#222" stroke-width="1.0" />
<line x1="214.30" y1="461.07" x2="216.30" y2="461.07" stroke="#222" stroke-width="1.0" />
<line x1="214.30" y1="429.70" x2="216.30" y2="429.70" stroke="#222" stroke-width="1.0" />
<rect x="226.80" y="448.00" width="21.10" height="91.50" fill="#fff" stroke="#1a1a1a" stroke-width="1.5" />
<line x1="237.30" y1="448.00" x2="237.30" y2="437.00" stroke="#222" stroke-width="1.2" />
<rect x="257.40" y="523.60" width="21.20" height="15.90" fill="#a0a0a0" stroke="#1a1a1a" stroke-width="1.5" />
<line x1="268.20" y1="523.60" x2="268.20" y2="512.50" stroke="#222" stroke-width="1.2" />
<line x1="263.00" y1="512.50" x2="273.40" y2="512.50" stroke="#222" stroke-width="1.4" />
<rect x="288.30" y="524.40" width="21.00" height="15.10" fill="#6e6e6e" stroke="#1a1a1a" stroke-width="1.5" />
<circle cx="233.40" cy="437.20" r="2.6" fill="#111"/>
<circle cx="239.70" cy="437.20" r="2.6" fill="#111"/>
<circle cx="229.50" cy="455.50" r="2.6" fill="#111"/>
<circle cx="234.60" cy="452.80" r="2.6" fill="#111"/>
<circle cx="239.50" cy="452.50" r="2.6" fill="#111"/>
<circle cx="244.00" cy="452.50" r="2.6" fill="#111"/>
<circle cx="246.50" cy="453.50" r="2.6" fill="#111"/>
<line x1="230.00" y1="454.50" x2="244.00" y2="454.50" stroke="#bbb" stroke-width="0.8" />
<path d="M268.50,501.90 L271.10,506.58 L265.90,506.58 Z" fill="#111"/>
<path d="M268.30,515.40 L270.90,520.08 L265.70,520.08 Z" fill="#111"/>
<path d="M263.20,527.40 L265.80,532.08 L260.60,532.08 Z" fill="#111"/>
<path d="M263.00,531.90 L265.60,536.58 L260.40,536.58 Z" fill="#111"/>
<path d="M272.50,530.90 L275.10,535.58 L269.90,535.58 Z" fill="#111"/>
<circle cx="268.10" cy="526.00" r="2.2" fill="#111"/>
<circle cx="290.30" cy="526.00" r="2.5" fill="#111"/>
<circle cx="295.50" cy="523.50" r="2.5" fill="#111"/>
<circle cx="301.00" cy="525.30" r="2.5" fill="#111"/>
<circle cx="307.00" cy="526.00" r="2.5" fill="#111"/>
<circle cx="295.50" cy="533.50" r="2.5" fill="#111"/>
<circle cx="300.50" cy="533.00" r="2.5" fill="#111"/>
<rect x="297.00" y="525.00" width="3.50" height="3.00" fill="#111" stroke="none" stroke-width="0" />
<path d="M237.5,428.5 V426.2 H268.3 V428.5" fill="none" stroke="#222" stroke-width="1.3"/>
<text x="252.30" y="426.50" font-family="'Liberation Serif', serif" font-size="12.5" font-weight="bold" text-anchor="middle" fill="#333" stroke="#333" stroke-width="0.22" textLength="25.5" lengthAdjust="spacingAndGlyphs">****</text>
<text x="238.50" y="551.30" font-family="'Liberation Serif', serif" font-size="7.8" font-weight="bold" text-anchor="middle" fill="#111" stroke="#111" stroke-width="0.22" >Placebo</text>
<text x="301.20" y="551.30" font-family="'Liberation Serif', serif" font-size="7.8" font-weight="bold" text-anchor="middle" fill="#111" stroke="#111" stroke-width="0.22" >untreated</text>
<text x="301.20" y="560.80" font-family="'Liberation Serif', serif" font-size="7.8" font-weight="bold" text-anchor="middle" fill="#111" stroke="#111" stroke-width="0.22" >control</text>
<text transform="translate(268.70,566.60) rotate(-90)" x="0" y="0" font-family="'Liberation Serif', serif" font-size="7.6" font-weight="bold" text-anchor="middle" dominant-baseline="central" fill="#111" stroke="#111" stroke-width="0.22" >Sphingosine</text>
<text transform="translate(188.30,479.00) rotate(-90)" x="0" y="0" font-family="'Liberation Serif', serif" font-size="9" font-weight="bold" text-anchor="middle" dominant-baseline="central" fill="#111" stroke="#111" stroke-width="0.22" >Lung inflammation [%]</text>
<text x="349.50" y="403.00" font-family="'Liberation Serif', serif" font-size="16" font-weight="bold" text-anchor="start" fill="#111" stroke="#111" stroke-width="0.22" >g</text>
<line x1="376.80" y1="412.90" x2="376.80" y2="538.30" stroke="#222" stroke-width="1.3" />
<line x1="376.80" y1="538.30" x2="493.00" y2="538.30" stroke="#333" stroke-width="1.3" />
<line x1="373.80" y1="538.30" x2="376.80" y2="538.30" stroke="#222" stroke-width="1.2" />
<text x="372.30" y="541.30" font-family="'Liberation Serif', serif" font-size="8.6" font-weight="bold" text-anchor="end" fill="#111" stroke="#111" stroke-width="0.22" >0</text>
<line x1="373.80" y1="513.22" x2="376.80" y2="513.22" stroke="#222" stroke-width="1.2" />
<text x="372.30" y="516.22" font-family="'Liberation Serif', serif" font-size="8.6" font-weight="bold" text-anchor="end" fill="#111" stroke="#111" stroke-width="0.22" >1</text>
<line x1="373.80" y1="488.14" x2="376.80" y2="488.14" stroke="#222" stroke-width="1.2" />
<text x="372.30" y="491.14" font-family="'Liberation Serif', serif" font-size="8.6" font-weight="bold" text-anchor="end" fill="#111" stroke="#111" stroke-width="0.22" >2</text>
<line x1="373.80" y1="463.06" x2="376.80" y2="463.06" stroke="#222" stroke-width="1.2" />
<text x="372.30" y="466.06" font-family="'Liberation Serif', serif" font-size="8.6" font-weight="bold" text-anchor="end" fill="#111" stroke="#111" stroke-width="0.22" >3</text>
<line x1="373.80" y1="437.98" x2="376.80" y2="437.98" stroke="#222" stroke-width="1.2" />
<text x="372.30" y="440.98" font-family="'Liberation Serif', serif" font-size="8.6" font-weight="bold" text-anchor="end" fill="#111" stroke="#111" stroke-width="0.22" >4</text>
<line x1="373.80" y1="412.90" x2="376.80" y2="412.90" stroke="#222" stroke-width="1.2" />
<text x="372.30" y="415.90" font-family="'Liberation Serif', serif" font-size="8.6" font-weight="bold" text-anchor="end" fill="#111" stroke="#111" stroke-width="0.22" >5</text>
<line x1="374.80" y1="525.76" x2="376.80" y2="525.76" stroke="#222" stroke-width="1.0" />
<line x1="374.80" y1="500.68" x2="376.80" y2="500.68" stroke="#222" stroke-width="1.0" />
<line x1="374.80" y1="475.60" x2="376.80" y2="475.60" stroke="#222" stroke-width="1.0" />
<line x1="374.80" y1="450.52" x2="376.80" y2="450.52" stroke="#222" stroke-width="1.0" />
<line x1="374.80" y1="425.44" x2="376.80" y2="425.44" stroke="#222" stroke-width="1.0" />
<rect x="385.20" y="496.40" width="18.70" height="41.90" fill="#fff" stroke="#1a1a1a" stroke-width="1.5" />
<line x1="394.50" y1="463.00" x2="394.50" y2="538.30" stroke="#222" stroke-width="1.2" />
<line x1="389.60" y1="463.00" x2="399.40" y2="463.00" stroke="#222" stroke-width="1.4" />
<rect x="413.00" y="529.40" width="17.50" height="8.90" fill="#6a6a6a" stroke="#1a1a1a" stroke-width="1.5" />
<rect x="439.00" y="467.00" width="18.40" height="71.30" fill="#c0c0c0" stroke="#1a1a1a" stroke-width="1.5" />
<rect x="466.40" y="532.40" width="17.20" height="5.90" fill="#888" stroke="#1a1a1a" stroke-width="1.5" />
<circle cx="394.40" cy="434.70" r="2.6" fill="#111"/>
<circle cx="390.50" cy="470.80" r="2.6" fill="#111"/>
<circle cx="398.60" cy="474.30" r="2.6" fill="#111"/>
<circle cx="394.50" cy="508.00" r="2.6" fill="#111"/>
<circle cx="389.40" cy="513.80" r="2.6" fill="#111"/>
<circle cx="398.40" cy="513.80" r="2.6" fill="#111"/>
<circle cx="390.20" cy="530.30" r="2.6" fill="#111"/>
<circle cx="398.60" cy="529.30" r="2.6" fill="#111"/>
<line x1="421.50" y1="529.40" x2="421.50" y2="521.80" stroke="#222" stroke-width="1.2" />
<line x1="416.50" y1="521.80" x2="426.50" y2="521.80" stroke="#222" stroke-width="1.4" />
<path d="M423.50,515.00 L426.00,519.50 L421.00,519.50 Z" fill="#111"/>
<path d="M419.00,519.00 L421.50,523.50 L416.50,523.50 Z" fill="#111"/>
<path d="M421.50,524.00 L424.00,528.50 L419.00,528.50 Z" fill="#111"/>
<path d="M416.00,529.50 L418.50,534.00 L413.50,534.00 Z" fill="#111"/>
<path d="M421.00,530.00 L423.50,534.50 L418.50,534.50 Z" fill="#111"/>
<path d="M426.00,529.50 L428.50,534.00 L423.50,534.00 Z" fill="#111"/>
<path d="M418.50,532.50 L421.00,537.00 L416.00,537.00 Z" fill="#111"/>
<path d="M424.00,532.50 L426.50,537.00 L421.50,537.00 Z" fill="#111"/>
<rect x="414.00" y="531.00" width="15.50" height="6.00" fill="#222" stroke="none" stroke-width="0" />
<circle cx="442.00" cy="464.00" r="2.4" fill="#111"/>
<circle cx="446.00" cy="462.00" r="2.4" fill="#111"/>
<circle cx="450.00" cy="461.00" r="2.4" fill="#111"/>
<circle cx="454.00" cy="464.00" r="2.4" fill="#111"/>
<circle cx="446.00" cy="468.00" r="2.4" fill="#111"/>
<circle cx="450.00" cy="470.00" r="2.4" fill="#111"/>
<circle cx="448.00" cy="473.00" r="2.4" fill="#111"/>
<circle cx="444.00" cy="466.00" r="2.4" fill="#111"/>
<circle cx="456.00" cy="466.00" r="2.4" fill="#111"/>
<circle cx="469.50" cy="533.00" r="2.6" fill="#111"/>
<circle cx="473.50" cy="527.50" r="2.6" fill="#111"/>
<circle cx="477.50" cy="526.50" r="2.6" fill="#111"/>
<circle cx="481.00" cy="530.00" r="2.6" fill="#111"/>
<circle cx="472.00" cy="535.00" r="2.6" fill="#111"/>
<circle cx="477.00" cy="533.50" r="2.6" fill="#111"/>
<circle cx="482.00" cy="535.00" r="2.6" fill="#111"/>
<circle cx="475.00" cy="530.00" r="2.6" fill="#111"/>
<path d="M393.8,456.5 V453.2 H423.1 V456.5" fill="none" stroke="#222" stroke-width="1.3"/>
<text x="408.50" y="451.50" font-family="'Liberation Serif', serif" font-size="7" font-weight="bold" text-anchor="middle" fill="#333" stroke="#333" stroke-width="0.22" >*</text>
<text x="396.60" y="548.30" font-family="'Liberation Serif', serif" font-size="7.8" font-weight="bold" text-anchor="middle" fill="#111" stroke="#111" stroke-width="0.22" >Placebo</text>
<text x="448.00" y="548.30" font-family="'Liberation Serif', serif" font-size="7.8" font-weight="bold" text-anchor="middle" fill="#111" stroke="#111" stroke-width="0.22" >pos.</text>
<text x="474.00" y="548.30" font-family="'Liberation Serif', serif" font-size="7.8" font-weight="bold" text-anchor="middle" fill="#111" stroke="#111" stroke-width="0.22" >neg.</text>
<line x1="440.00" y1="551.60" x2="484.00" y2="551.60" stroke="#333" stroke-width="1.2" />
<text x="462.00" y="560.00" font-family="'Liberation Serif', serif" font-size="7.8" font-weight="bold" text-anchor="middle" fill="#111" stroke="#111" stroke-width="0.22" >control</text>
<text transform="translate(422.70,564.10) rotate(-90)" x="0" y="0" font-family="'Liberation Serif', serif" font-size="7.6" font-weight="bold" text-anchor="middle" dominant-baseline="central" fill="#111" stroke="#111" stroke-width="0.22" >Sphingosine</text>
<text transform="translate(356.00,471.70) rotate(-90)" x="0" y="0" font-family="'Liberation Serif', serif" font-size="9" font-weight="bold" text-anchor="middle" dominant-baseline="central" fill="#111" stroke="#111" stroke-width="0.22" >ODI</text>
</svg>
</body></html>
